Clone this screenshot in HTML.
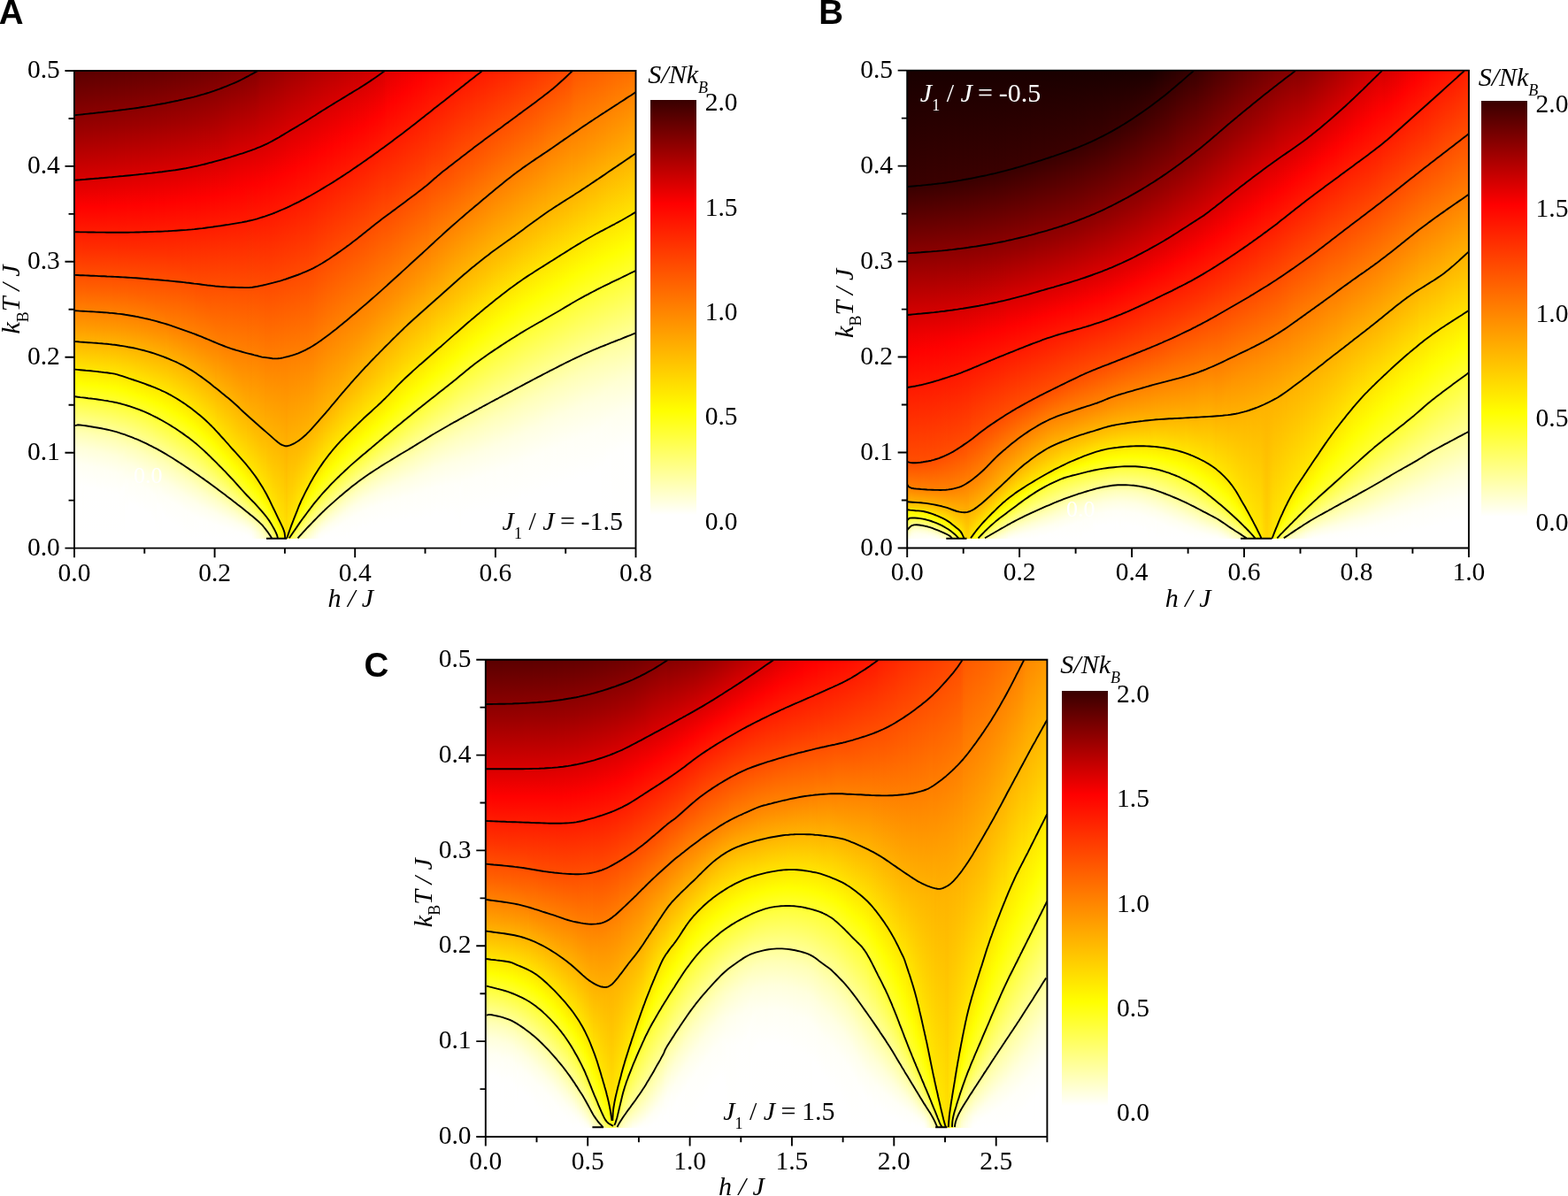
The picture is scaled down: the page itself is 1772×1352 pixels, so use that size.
<!DOCTYPE html><html><head><meta charset="utf-8"><title>Entropy contour plots</title><style>html,body{margin:0;padding:0;background:#fff;width:1772px;height:1352px;overflow:hidden}.hm{position:absolute}.hm i{position:absolute;top:0;width:2px;height:100%}svg{position:absolute;left:0;top:0}</style></head><body><div class="hm" style="left:83px;top:80px;width:636px;height:529px"><i style="left:0px;background:linear-gradient(#5a0000 0px,#9b0000 68.5px,#e30000 132.5px,#ff0100 154.5px,#ff3100 204.5px,#ff6100 247.5px,#ff9f00 292.5px,#ffff02 353.5px,#ffffa1 403.5px,#ffffce 421.5px,#ffffeb 439.5px,#fffffb 460.5px,#ffffff 508.5px,#ffffff 529px)"></i><i style="left:2px;background:linear-gradient(#5a0000 0px,#9b0000 68.5px,#e30000 132.5px,#ff0100 154.5px,#ff3100 204.5px,#ff6100 247.5px,#ff9e00 292.5px,#ffff01 353.5px,#ffffb0 408.5px,#ffffd9 426.5px,#fffff2 445.5px,#fffffe 469.5px,#ffffff 529px)"></i><i style="left:4px;background:linear-gradient(#5a0000 0px,#9c0000 68.5px,#e30000 132.5px,#ff0100 154.5px,#ff3000 203.5px,#ff6100 247.5px,#ff9e00 292.5px,#ffff01 353.5px,#ffffb4 409.5px,#ffffda 426.5px,#fffff3 445.5px,#fffffe 469.5px,#ffffff 529px)"></i><i style="left:6px;background:linear-gradient(#5a0000 0px,#9c0000 68.5px,#e40000 132.5px,#ff0100 154.5px,#ff3000 203.5px,#ff6100 247.5px,#ff9e00 292.5px,#ffff00 353.5px,#ffffb4 409.5px,#ffffda 426.5px,#fffff3 445.5px,#fffffe 469.5px,#ffffff 529px)"></i><i style="left:8px;background:linear-gradient(#5b0000 0px,#9b0000 67.5px,#e40000 132.5px,#ff0200 154.5px,#ff3000 203.5px,#ff6100 247.5px,#ff9e00 292.5px,#ffff00 353.5px,#ffffb4 409.5px,#ffffda 426.5px,#fffff2 444.5px,#fffffe 468.5px,#ffffff 529px)"></i><i style="left:10px;background:linear-gradient(#5b0000 0px,#9b0000 67.5px,#e40000 132.5px,#ff0100 153.5px,#ff2e00 202.5px,#ff6000 246.5px,#ff9e00 292.5px,#ffff02 354.5px,#ffffb3 409.5px,#ffffd9 426.5px,#fffff1 444.5px,#fffffd 467.5px,#ffffff 529px)"></i><i style="left:12px;background:linear-gradient(#5b0000 0px,#9c0000 67.5px,#e40000 132.5px,#ff0100 153.5px,#ff2e00 202.5px,#ff6000 246.5px,#ff9e00 292.5px,#ffff01 354.5px,#ffffb5 410.5px,#ffffdb 427.5px,#fffff3 446.5px,#fffffe 470.5px,#ffffff 529px)"></i><i style="left:14px;background:linear-gradient(#5b0000 0px,#9c0000 67.5px,#e40000 132.5px,#ff0100 153.5px,#ff2d00 201.5px,#ff5f00 246.5px,#ff9d00 292.5px,#ffff00 354.5px,#ffffb4 410.5px,#ffffda 427.5px,#fffff3 446.5px,#fffffe 470.5px,#ffffff 529px)"></i><i style="left:16px;background:linear-gradient(#5c0000 0px,#9c0000 67.5px,#e50000 132.5px,#ff0100 153.5px,#ff2d00 201.5px,#ff5f00 246.5px,#ff9d00 292.5px,#ffff00 354.5px,#ffffb3 410.5px,#ffffd9 427.5px,#fffff2 446.5px,#fffffe 470.5px,#ffffff 529px)"></i><i style="left:18px;background:linear-gradient(#5c0000 0px,#9c0000 67.5px,#e50000 132.5px,#ff0100 153.5px,#ff2d00 201.5px,#ff5f00 246.5px,#ff9d00 292.5px,#ffff02 355.5px,#ffffb5 411.5px,#ffffda 428.5px,#fffff3 447.5px,#fffffe 471.5px,#ffffff 529px)"></i><i style="left:20px;background:linear-gradient(#5c0000 0px,#9c0000 67.5px,#e50000 132.5px,#ff0100 153.5px,#ff2d00 201.5px,#ff5f00 246.5px,#ff9d00 292.5px,#ffff01 355.5px,#ffffb4 411.5px,#ffffda 428.5px,#fffff3 447.5px,#fffffe 471.5px,#ffffff 529px)"></i><i style="left:22px;background:linear-gradient(#5c0000 0px,#9c0000 66.5px,#e50000 132.5px,#ff0100 153.5px,#ff2c00 200.5px,#ff5f00 246.5px,#ff9d00 292.5px,#ffff01 355.5px,#ffffb3 411.5px,#ffffd9 428.5px,#fffff2 447.5px,#fffffe 471.5px,#ffffff 529px)"></i><i style="left:24px;background:linear-gradient(#5d0000 0px,#9c0000 66.5px,#e50000 132.5px,#ff0100 153.5px,#ff2c00 200.5px,#ff5f00 246.5px,#ff9c00 292.5px,#ffff00 355.5px,#ffffb4 412.5px,#ffffda 429.5px,#fffff3 448.5px,#fffffe 472.5px,#ffffff 529px)"></i><i style="left:26px;background:linear-gradient(#5d0000 0px,#9c0000 66.5px,#e50000 132.5px,#ff0100 153.5px,#ff2c00 200.5px,#ff5f00 246.5px,#ff9c00 292.5px,#ffff00 355.5px,#ffffb3 412.5px,#ffffdb 430.5px,#fffff3 449.5px,#fffffe 474.5px,#ffffff 529px)"></i><i style="left:28px;background:linear-gradient(#5d0000 0px,#9c0000 66.5px,#e60000 132.5px,#ff0100 153.5px,#ff2c00 200.5px,#ff5f00 246.5px,#ff9c00 292.5px,#ffff02 356.5px,#ffffb2 412.5px,#ffffdb 430.5px,#fffff3 449.5px,#fffffe 473.5px,#ffffff 529px)"></i><i style="left:30px;background:linear-gradient(#5d0000 0px,#9c0000 66.5px,#e60000 132.5px,#ff0100 153.5px,#ff2c00 200.5px,#ff5e00 246.5px,#ff9c00 292.5px,#ffff01 356.5px,#ffffb4 413.5px,#ffffdc 431.5px,#fffff3 450.5px,#fffffe 475.5px,#ffffff 529px)"></i><i style="left:32px;background:linear-gradient(#5d0000 0px,#9c0000 65.5px,#e60000 132.5px,#ff0100 153.5px,#ff2c00 200.5px,#ff5e00 246.5px,#ff9d00 293.5px,#ffff00 356.5px,#ffffb3 413.5px,#ffffdb 431.5px,#fffff3 450.5px,#fffffe 474.5px,#ffffff 529px)"></i><i style="left:34px;background:linear-gradient(#5e0000 0px,#9c0000 65.5px,#e60000 132.5px,#ff0100 153.5px,#ff2b00 199.5px,#ff5e00 246.5px,#ff9b00 292.5px,#ffff02 357.5px,#ffffb5 414.5px,#ffffdc 432.5px,#fffff4 451.5px,#fffffe 476.5px,#ffffff 529px)"></i><i style="left:36px;background:linear-gradient(#5e0000 0px,#9c0000 65.5px,#e60000 132.5px,#ff0100 153.5px,#ff2b00 199.5px,#ff5e00 246.5px,#ff9b00 292.5px,#ffff01 357.5px,#ffffb3 414.5px,#ffffdb 432.5px,#fffff3 451.5px,#fffffe 475.5px,#ffffff 529px)"></i><i style="left:38px;background:linear-gradient(#5e0000 0px,#9c0000 65.5px,#e70000 132.5px,#ff0200 153.5px,#ff2b00 199.5px,#ff5e00 246.5px,#ff9b00 292.5px,#ffff00 357.5px,#ffffb5 415.5px,#ffffdc 433.5px,#fffff4 452.5px,#fffffe 477.5px,#ffffff 529px)"></i><i style="left:40px;background:linear-gradient(#5e0000 0px,#9d0000 65.5px,#e80000 133.5px,#ff0100 152.5px,#ff2b00 199.5px,#ff5e00 246.5px,#ff9b00 292.5px,#ffff00 357.5px,#ffffb4 415.5px,#ffffdb 433.5px,#fffff3 452.5px,#fffffe 476.5px,#ffffff 529px)"></i><i style="left:42px;background:linear-gradient(#5f0000 0px,#9d0000 65.5px,#e80000 133.5px,#ff0100 152.5px,#ff2b00 199.5px,#ff5e00 246.5px,#ff9a00 292.5px,#ffff02 358.5px,#ffffb5 416.5px,#ffffdc 434.5px,#fffff4 453.5px,#fffffe 478.5px,#ffffff 529px)"></i><i style="left:44px;background:linear-gradient(#5f0000 0px,#9c0000 64.5px,#e80000 133.5px,#ff0100 152.5px,#ff2b00 199.5px,#ff5d00 246.5px,#ff9a00 292.5px,#ffff01 358.5px,#ffffb3 416.5px,#ffffdb 434.5px,#fffff3 453.5px,#fffffe 477.5px,#ffffff 529px)"></i><i style="left:46px;background:linear-gradient(#5f0000 0px,#9d0000 65.5px,#e80000 133.5px,#ff0100 152.5px,#ff2b00 199.5px,#ff5e00 247.5px,#ff9a00 292.5px,#ffff00 358.5px,#ffffb5 417.5px,#ffffdc 435.5px,#fffff4 454.5px,#fffffe 478.5px,#ffffff 529px)"></i><i style="left:48px;background:linear-gradient(#5f0000 0px,#9c0000 64.5px,#e90000 133.5px,#ff0100 152.5px,#ff2a00 198.5px,#ff5e00 247.5px,#ff9900 292.5px,#ffff01 359.5px,#ffffb3 417.5px,#ffffdb 435.5px,#fffff3 454.5px,#fffffe 478.5px,#ffffff 529px)"></i><i style="left:50px;background:linear-gradient(#600000 0px,#9d0000 64.5px,#e90000 133.5px,#ff0100 152.5px,#ff2900 198.5px,#ff5e00 247.5px,#ff9900 292.5px,#ffff00 359.5px,#ffffb4 418.5px,#ffffdb 436.5px,#fffff3 455.5px,#fffffe 479.5px,#ffffff 529px)"></i><i style="left:52px;background:linear-gradient(#600000 0px,#9d0000 64.5px,#e90000 133.5px,#ff0100 152.5px,#ff2900 198.5px,#ff5f00 248.5px,#ff9900 292.5px,#ffff00 360.5px,#ffffad 416.5px,#ffffd6 434.5px,#fffff1 453.5px,#fffffd 476.5px,#ffffff 529px)"></i><i style="left:54px;background:linear-gradient(#600000 0px,#9d0000 64.5px,#e90000 133.5px,#ff0100 152.5px,#ff2900 198.5px,#ff5f00 248.5px,#ff9800 292.5px,#ffff02 361.5px,#ffffa8 415.5px,#ffffd5 434.5px,#fffff0 453.5px,#fffffd 475.5px,#ffffff 529px)"></i><i style="left:56px;background:linear-gradient(#600000 0px,#9d0000 64.5px,#e90000 133.5px,#ff0100 152.5px,#ff2900 198.5px,#ff5f00 248.5px,#ff9800 292.5px,#ffff00 361.5px,#ffff9e 412.5px,#ffffce 431.5px,#ffffec 450.5px,#fffffc 471.5px,#ffffff 529px)"></i><i style="left:58px;background:linear-gradient(#610000 0px,#9d0000 63.5px,#ea0000 133.5px,#ff0100 152.5px,#ff2900 198.5px,#ff5f00 248.5px,#ff9600 291.5px,#ffff01 362.5px,#ffff80 403.5px,#ffffbf 425.5px,#ffffe3 444.5px,#fffff8 464.5px,#ffffff 493.5px,#ffffff 529px)"></i><i style="left:60px;background:linear-gradient(#610000 0px,#9d0000 63.5px,#ea0000 133.5px,#ff0200 152.5px,#ff2900 198.5px,#ff6000 249.5px,#ff9700 292.5px,#fffd00 361.5px,#ffff09 365.5px,#ffff87 406.5px,#ffffc1 427.5px,#ffffe5 446.5px,#fffff9 466.5px,#ffffff 497.5px,#ffffff 529px)"></i><i style="left:62px;background:linear-gradient(#610000 0px,#9d0000 63.5px,#eb0000 134.5px,#ff0200 152.5px,#ff2900 198.5px,#ff5f00 249.5px,#ff9500 291.5px,#fffc00 361.5px,#ffff03 364.5px,#ffff6d 398.5px,#ffffbb 425.5px,#ffffe1 444.5px,#fffff6 463.5px,#ffffff 489.5px,#ffffff 529px)"></i><i style="left:64px;background:linear-gradient(#610000 0px,#9d0000 63.5px,#eb0000 134.5px,#ff0200 152.5px,#ff2a00 199.5px,#ff6000 250.5px,#ff9400 291.5px,#fffb00 361.5px,#ffff01 364.5px,#ffff65 396.5px,#ffffbb 426.5px,#ffffe1 445.5px,#fffff6 464.5px,#ffffff 490.5px,#ffffff 529px)"></i><i style="left:66px;background:linear-gradient(#620000 0px,#9d0000 62.5px,#ec0000 134.5px,#ff0100 151.5px,#ff2900 198.5px,#ff6000 250.5px,#ff9500 292.5px,#fffa00 361.5px,#ffff02 365.5px,#ffff60 395.5px,#ffffbc 427.5px,#ffffe2 446.5px,#fffff7 465.5px,#ffffff 491.5px,#ffffff 529px)"></i><i style="left:68px;background:linear-gradient(#620000 0px,#9d0000 62.5px,#ec0000 134.5px,#ff0100 151.5px,#ff2900 198.5px,#ff6100 251.5px,#ff9300 291.5px,#fff900 361.5px,#ffff00 365.5px,#ffff5e 395.5px,#ffffbc 428.5px,#ffffe2 447.5px,#fffff7 466.5px,#ffffff 492.5px,#ffffff 529px)"></i><i style="left:70px;background:linear-gradient(#620000 0px,#9d0000 62.5px,#ec0000 134.5px,#ff0100 151.5px,#ff2a00 199.5px,#ff6200 252.5px,#ff9400 292.5px,#fff700 361.5px,#ffff01 366.5px,#ffff5b 395.5px,#ffffba 428.5px,#ffffe0 447.5px,#fffff6 466.5px,#ffffff 492.5px,#ffffff 529px)"></i><i style="left:72px;background:linear-gradient(#630000 0px,#9d0000 62.5px,#ec0000 134.5px,#ff0100 151.5px,#ff2a00 199.5px,#ff6100 252.5px,#ff9400 292.5px,#fff800 362.5px,#ffff02 367.5px,#ffff5c 396.5px,#ffffba 429.5px,#ffffe1 448.5px,#fffff6 467.5px,#ffffff 493.5px,#ffffff 529px)"></i><i style="left:74px;background:linear-gradient(#630000 0px,#9e0000 62.5px,#ec0000 134.5px,#ff0100 151.5px,#ff2a00 199.5px,#ff6200 253.5px,#ff9300 292.5px,#fff700 362.5px,#ffff00 367.5px,#ffff60 398.5px,#ffffbd 431.5px,#ffffe2 450.5px,#fffff7 469.5px,#ffffff 496.5px,#ffffff 529px)"></i><i style="left:76px;background:linear-gradient(#630000 0px,#9e0000 62.5px,#ed0000 134.5px,#ff0100 151.5px,#ff2a00 199.5px,#ff6200 253.5px,#ff9200 292.5px,#fff700 363.5px,#ffff00 368.5px,#ffff5a 397.5px,#ffffbb 431.5px,#ffffe1 450.5px,#fffff7 469.5px,#ffffff 495.5px,#ffffff 529px)"></i><i style="left:78px;background:linear-gradient(#630000 0px,#9e0000 62.5px,#ed0000 134.5px,#ff0200 151.5px,#ff2a00 199.5px,#ff6300 254.5px,#ff9200 292.5px,#fff800 364.5px,#ffff01 369.5px,#ffff5d 399.5px,#ffffbb 432.5px,#ffffe1 451.5px,#fffff7 470.5px,#ffffff 496.5px,#ffffff 529px)"></i><i style="left:80px;background:linear-gradient(#640000 0px,#9e0000 61.5px,#ed0000 134.5px,#ff0200 151.5px,#ff2b00 200.5px,#ff6400 255.5px,#ff9100 292.5px,#fff800 365.5px,#ffff02 370.5px,#ffff61 401.5px,#ffffbd 434.5px,#ffffe3 453.5px,#fffff7 472.5px,#ffffff 499.5px,#ffffff 529px)"></i><i style="left:82px;background:linear-gradient(#640000 0px,#9e0000 61.5px,#ee0000 135.5px,#ff0100 150.5px,#ff2b00 200.5px,#ff6400 256.5px,#ff9200 293.5px,#fff800 366.5px,#ffff03 371.5px,#ffff64 403.5px,#ffffbd 435.5px,#ffffe3 454.5px,#fffff8 473.5px,#ffffff 500.5px,#ffffff 529px)"></i><i style="left:84px;background:linear-gradient(#640000 0px,#9e0000 61.5px,#ef0000 135.5px,#ff0100 150.5px,#ff2b00 200.5px,#ff6500 257.5px,#ff9100 293.5px,#fff900 367.5px,#ffff00 371.5px,#ffff67 405.5px,#ffffbd 436.5px,#ffffe3 455.5px,#fffff8 474.5px,#ffffff 501.5px,#ffffff 529px)"></i><i style="left:86px;background:linear-gradient(#650000 0px,#9e0000 61.5px,#ef0000 135.5px,#ff0100 150.5px,#ff2c00 201.5px,#ff6600 258.5px,#ff9000 293.5px,#fff700 367.5px,#ffff00 372.5px,#ffff6a 407.5px,#ffffbd 437.5px,#ffffe3 456.5px,#fffff8 475.5px,#ffffff 501.5px,#ffffff 529px)"></i><i style="left:88px;background:linear-gradient(#650000 0px,#9f0000 61.5px,#ef0000 135.5px,#ff0100 150.5px,#ff2c00 201.5px,#ff6700 259.5px,#ff9100 294.5px,#fff900 369.5px,#ffff01 373.5px,#ffff70 410.5px,#ffffc0 439.5px,#ffffe5 458.5px,#fffff9 477.5px,#ffffff 505.5px,#ffffff 529px)"></i><i style="left:90px;background:linear-gradient(#650000 0px,#9f0000 61.5px,#ef0000 135.5px,#ff0100 150.5px,#ff2c00 201.5px,#ff6900 261.5px,#ff9100 295.5px,#fff900 370.5px,#ffff01 374.5px,#ffff7b 415.5px,#ffffc2 441.5px,#ffffe6 460.5px,#fffff9 479.5px,#ffffff 509.5px,#ffffff 529px)"></i><i style="left:92px;background:linear-gradient(#660000 0px,#9e0000 60.5px,#f00000 135.5px,#ff0200 150.5px,#ff2d00 202.5px,#ff6a00 263.5px,#ff9200 296.5px,#fff900 371.5px,#ffff01 375.5px,#ffff8c 422.5px,#ffffc7 444.5px,#ffffe9 463.5px,#fffffa 482.5px,#ffffff 518.5px,#ffffff 529px)"></i><i style="left:94px;background:linear-gradient(#660000 0px,#9f0000 60.5px,#ef0000 134.5px,#ff0200 150.5px,#ff2d00 202.5px,#ff6b00 264.5px,#ff9100 296.5px,#fffa00 372.5px,#ffff02 376.5px,#ffffa0 430.5px,#ffffd3 451.5px,#fffff0 470.5px,#fffffd 490.5px,#ffffff 529px)"></i><i style="left:96px;background:linear-gradient(#670000 0px,#9f0000 60.5px,#ef0000 134.5px,#ff0100 149.5px,#ff2d00 202.5px,#ff6c00 265.5px,#ff9200 297.5px,#fffa00 373.5px,#ffff02 377.5px,#ffffa8 434.5px,#ffffd7 454.5px,#fffff2 472.5px,#fffffd 492.5px,#ffffff 529px)"></i><i style="left:98px;background:linear-gradient(#670000 0px,#9f0000 60.5px,#f00000 135.5px,#ff0100 149.5px,#ff2d00 202.5px,#ff6d00 267.5px,#ff9200 298.5px,#fffa00 374.5px,#ffff02 378.5px,#ffffad 437.5px,#ffffdb 457.5px,#fffff4 475.5px,#fffffe 496.5px,#ffffff 529px)"></i><i style="left:100px;background:linear-gradient(#670000 0px,#a00000 60.5px,#f00000 135.5px,#ff0100 149.5px,#ff2e00 203.5px,#ff7000 270.5px,#ff9400 300.5px,#fffb00 376.5px,#ffff02 379.5px,#ffffb5 441.5px,#ffffe0 461.5px,#fffff6 479.5px,#ffffff 502.5px,#ffffff 529px)"></i><i style="left:102px;background:linear-gradient(#680000 0px,#9f0000 59.5px,#f00000 134.5px,#ff0100 149.5px,#ff2f00 204.5px,#ff7400 274.5px,#ff9e00 308.5px,#fffb00 377.5px,#ffff02 380.5px,#ffffb7 443.5px,#ffffe1 463.5px,#fffff7 481.5px,#ffffff 504.5px,#ffffff 529px)"></i><i style="left:104px;background:linear-gradient(#680000 0px,#9f0000 59.5px,#f00000 134.5px,#ff0200 149.5px,#ff3000 205.5px,#ff7700 278.5px,#fff700 375.5px,#ffff01 381.5px,#ffffb9 445.5px,#ffffe3 465.5px,#fffff8 483.5px,#ffffff 507.5px,#ffffff 529px)"></i><i style="left:106px;background:linear-gradient(#690000 0px,#a00000 59.5px,#f00000 134.5px,#ff0200 149.5px,#ff3000 206.5px,#ff7d00 284.5px,#fffa00 378.5px,#ffff01 382.5px,#ffffb9 446.5px,#ffffe3 466.5px,#fffff8 484.5px,#ffffff 508.5px,#ffffff 529px)"></i><i style="left:108px;background:linear-gradient(#690000 0px,#a00000 59.5px,#f00000 134.5px,#ff0100 148.5px,#ff3000 206.5px,#ff7f00 287.5px,#fffb00 380.5px,#ffff03 384.5px,#ffffbb 448.5px,#ffffe2 467.5px,#fffff8 485.5px,#ffffff 509.5px,#ffffff 529px)"></i><i style="left:110px;background:linear-gradient(#690000 0px,#a10000 59.5px,#f10000 134.5px,#ff0100 148.5px,#ff3100 207.5px,#ff8100 289.5px,#fffb00 381.5px,#ffff00 384.5px,#ffffba 449.5px,#ffffe4 469.5px,#fffff9 487.5px,#ffffff 512.5px,#ffffff 529px)"></i><i style="left:112px;background:linear-gradient(#6a0000 0px,#a10000 59.5px,#f10000 134.5px,#ff0100 148.5px,#ff3200 208.5px,#ff8100 290.5px,#fffa00 382.5px,#ffff02 386.5px,#ffffbc 451.5px,#ffffe4 470.5px,#fffff9 488.5px,#ffffff 512.5px,#ffffff 529px)"></i><i style="left:114px;background:linear-gradient(#6a0000 0px,#a10000 59.5px,#f20000 135.5px,#ff0100 148.5px,#ff3300 209.5px,#ff8300 292.5px,#fff900 382.5px,#ffff02 387.5px,#ffffbb 452.5px,#ffffe3 471.5px,#fffff9 489.5px,#ffffff 513.5px,#ffffff 529px)"></i><i style="left:116px;background:linear-gradient(#6b0000 0px,#a20000 59.5px,#f10000 134.5px,#ff0200 148.5px,#ff3400 210.5px,#ff8400 293.5px,#fff800 383.5px,#ffff01 388.5px,#ffffbd 454.5px,#ffffe5 473.5px,#fffff9 490.5px,#ffffff 514.5px,#ffffff 529px)"></i><i style="left:118px;background:linear-gradient(#6b0000 0px,#a10000 58.5px,#f20000 134.5px,#ff0100 147.5px,#ff3400 210.5px,#ff8500 295.5px,#fff800 384.5px,#ffff00 389.5px,#ffffbd 455.5px,#ffffe5 474.5px,#fffff9 491.5px,#ffffff 515.5px,#ffffff 529px)"></i><i style="left:120px;background:linear-gradient(#6b0000 0px,#a30000 59.5px,#f30000 135.5px,#ff0100 147.5px,#ff3500 211.5px,#ff8600 296.5px,#fff700 385.5px,#ffff02 391.5px,#ffffbe 457.5px,#ffffe6 476.5px,#fffffa 493.5px,#ffffff 518.5px,#ffffff 529px)"></i><i style="left:122px;background:linear-gradient(#6c0000 0px,#a20000 58.5px,#f30000 135.5px,#ff0100 147.5px,#ff3600 213.5px,#ff8700 298.5px,#fff700 386.5px,#ffff01 392.5px,#ffffbe 458.5px,#ffffe6 477.5px,#fffffa 494.5px,#ffffff 519.5px,#ffffff 529px)"></i><i style="left:124px;background:linear-gradient(#6c0000 0px,#a20000 58.5px,#f40000 135.5px,#ff0200 147.5px,#ff3800 215.5px,#ff8700 299.5px,#fff600 387.5px,#ffff00 393.5px,#ffffc0 460.5px,#ffffe7 479.5px,#fffffa 496.5px,#ffffff 524.5px,#ffffff 529px)"></i><i style="left:126px;background:linear-gradient(#6d0000 0px,#a30000 58.5px,#f50000 136.5px,#ff0200 147.5px,#ff3b00 218.5px,#ff8800 300.5px,#fff600 388.5px,#ffff02 395.5px,#ffffc1 462.5px,#ffffe9 481.5px,#fffffb 498.5px,#ffffff 529px)"></i><i style="left:128px;background:linear-gradient(#6d0000 0px,#a30000 58.5px,#f60000 136.5px,#ff0100 146.5px,#ff3a00 218.5px,#ff8800 301.5px,#fff500 389.5px,#ffff00 396.5px,#ffffc1 463.5px,#ffffe9 482.5px,#fffffa 498.5px,#ffffff 526.5px,#ffffff 529px)"></i><i style="left:130px;background:linear-gradient(#6e0000 0px,#a40000 58.5px,#f60000 136.5px,#ff0100 146.5px,#ff3d00 221.5px,#ff8800 302.5px,#fff400 390.5px,#ffff02 398.5px,#ffffc3 465.5px,#ffffe9 483.5px,#fffffb 499.5px,#ffffff 527.5px,#ffffff 529px)"></i><i style="left:132px;background:linear-gradient(#6e0000 0px,#a40000 58.5px,#f70000 137.5px,#ff0200 146.5px,#ff3f00 224.5px,#ff8800 303.5px,#fff400 391.5px,#ffff00 399.5px,#ffffc5 467.5px,#ffffea 485.5px,#fffffb 501.5px,#ffffff 529px)"></i><i style="left:134px;background:linear-gradient(#6e0000 0px,#a50000 58.5px,#f90000 138.5px,#ff0200 146.5px,#ff4300 228.5px,#ff8900 304.5px,#fff300 392.5px,#ffff02 401.5px,#ffffc4 468.5px,#ffffea 486.5px,#fffffb 502.5px,#ffffff 529px)"></i><i style="left:136px;background:linear-gradient(#6f0000 0px,#a50000 58.5px,#fa0000 139.5px,#ff0300 147.5px,#ff4a00 237.5px,#ff8900 305.5px,#fff200 393.5px,#ffff00 402.5px,#ffffc6 470.5px,#ffffec 488.5px,#fffffc 504.5px,#ffffff 529px)"></i><i style="left:138px;background:linear-gradient(#6f0000 0px,#a70000 59.5px,#fc0000 140.5px,#ff0500 150.5px,#ff5200 247.5px,#ff8a00 307.5px,#fff100 394.5px,#ffff01 404.5px,#ffffc8 472.5px,#ffffec 489.5px,#fffffc 504.5px,#ffffff 529px)"></i><i style="left:140px;background:linear-gradient(#700000 0px,#a70000 59.5px,#ff0100 144.5px,#ff4c00 240.5px,#ff8a00 308.5px,#fff200 396.5px,#ffff02 406.5px,#ffffc7 473.5px,#ffffec 490.5px,#fffffc 505.5px,#ffffff 529px)"></i><i style="left:142px;background:linear-gradient(#700000 0px,#a80000 59.5px,#ff0100 144.5px,#ff4e00 243.5px,#ff8a00 309.5px,#fff100 397.5px,#ffff00 407.5px,#ffff83 451.5px,#ffffcf 477.5px,#ffffef 493.5px,#fffffd 508.5px,#ffffff 529px)"></i><i style="left:144px;background:linear-gradient(#710000 0px,#a80000 59.5px,#ff0100 143.5px,#ff5000 245.5px,#ff8a00 310.5px,#fff100 399.5px,#ffff01 409.5px,#ffff69 444.5px,#ffffcc 477.5px,#ffffed 493.5px,#fffffd 508.5px,#ffffff 529px)"></i><i style="left:146px;background:linear-gradient(#710000 0px,#aa0000 60.5px,#ff0100 143.5px,#ff5300 249.5px,#ff8c00 312.5px,#fff000 400.5px,#ffff01 411.5px,#ffff5e 442.5px,#ffffc8 477.5px,#ffffec 493.5px,#fffffc 507.5px,#ffffff 529px)"></i><i style="left:148px;background:linear-gradient(#720000 0px,#ab0000 61.5px,#ff0100 143.5px,#ff5600 253.5px,#ff8c00 313.5px,#fff000 402.5px,#ffff02 413.5px,#ffff55 441.5px,#ffffc8 478.5px,#ffffec 494.5px,#fffffc 508.5px,#ffffff 529px)"></i><i style="left:150px;background:linear-gradient(#720000 0px,#ac0000 61.5px,#ff0100 142.5px,#ff5800 256.5px,#ff8c00 314.5px,#ffef00 403.5px,#ffff02 415.5px,#ffff4f 441.5px,#ffffca 480.5px,#ffffee 496.5px,#fffffd 510.5px,#ffffff 529px)"></i><i style="left:152px;background:linear-gradient(#730000 0px,#ad0000 62.5px,#ff0100 142.5px,#ff5d00 262.5px,#ff8d00 316.5px,#ffef00 405.5px,#ffff00 416.5px,#ffff49 441.5px,#ffffc9 481.5px,#ffffec 496.5px,#fffffc 510.5px,#ffffff 529px)"></i><i style="left:154px;background:linear-gradient(#740000 0px,#b00000 64.5px,#ff0200 142.5px,#ff6200 269.5px,#ff8e00 318.5px,#ffef00 407.5px,#ffff00 418.5px,#ffff47 442.5px,#ffffc9 482.5px,#ffffec 497.5px,#fffffc 510.5px,#ffffff 529px)"></i><i style="left:156px;background:linear-gradient(#740000 0px,#b20000 65.5px,#ff0100 141.5px,#ff6700 275.5px,#ff9000 321.5px,#ffee00 408.5px,#ffff00 420.5px,#ffff44 443.5px,#ffffc8 483.5px,#ffffed 498.5px,#fffffc 511.5px,#ffffff 529px)"></i><i style="left:158px;background:linear-gradient(#750000 0px,#b50000 68.5px,#ff0100 141.5px,#ff6e00 284.5px,#ff9500 327.5px,#ffee00 410.5px,#ffff00 422.5px,#ffff44 445.5px,#ffffc8 484.5px,#ffffed 499.5px,#fffffc 512.5px,#ffffff 529px)"></i><i style="left:160px;background:linear-gradient(#750000 0px,#b80000 70.5px,#ff0100 140.5px,#ff7300 291.5px,#ffa600 346.5px,#ffee00 412.5px,#ffff00 424.5px,#ffff41 446.5px,#ffffca 486.5px,#ffffed 500.5px,#fffffd 513.5px,#ffffff 529px)"></i><i style="left:162px;background:linear-gradient(#760000 0px,#bc0000 74.5px,#ff0100 140.5px,#ff7900 299.5px,#ffd700 395.5px,#fff600 420.5px,#ffff02 427.5px,#ffff41 448.5px,#ffffc9 487.5px,#ffffed 501.5px,#fffffc 513.5px,#ffffff 529px)"></i><i style="left:164px;background:linear-gradient(#770000 0px,#c30000 80.5px,#ff0200 140.5px,#ff7d00 305.5px,#ffe300 408.5px,#ffff02 429.5px,#ffff41 450.5px,#ffffc9 488.5px,#ffffed 502.5px,#fffffc 514.5px,#ffffff 529px)"></i><i style="left:166px;background:linear-gradient(#770000 0px,#cb0000 88.5px,#ff0100 139.5px,#ff7f00 309.5px,#ffe600 413.5px,#ffff02 431.5px,#ffff3e 451.5px,#ffffcb 490.5px,#ffffed 503.5px,#fffffd 515.5px,#ffffff 529px)"></i><i style="left:168px;background:linear-gradient(#780000 0px,#d70000 99.5px,#ff0100 139.5px,#ff8000 311.5px,#ffe600 415.5px,#ffff01 433.5px,#ffff3e 453.5px,#ffffca 491.5px,#ffffed 504.5px,#fffffc 515.5px,#ffffff 529px)"></i><i style="left:170px;background:linear-gradient(#790000 0px,#db0000 103.5px,#ff0100 138.5px,#ff8100 313.5px,#ffe400 416.5px,#ffff01 435.5px,#ffff3e 455.5px,#ffffca 492.5px,#ffffee 505.5px,#fffffc 516.5px,#ffffff 529px)"></i><i style="left:172px;background:linear-gradient(#7a0000 0px,#e10000 108.5px,#ff0100 138.5px,#ff8200 315.5px,#ffe400 418.5px,#ffff00 437.5px,#ffff3e 457.5px,#ffffc9 493.5px,#ffffee 506.5px,#fffffd 517.5px,#ffffff 529px)"></i><i style="left:174px;background:linear-gradient(#7a0000 0px,#e80000 114.5px,#ff0100 137.5px,#ff8400 317.5px,#ffe300 419.5px,#ffff00 439.5px,#ffff3e 459.5px,#ffffcc 495.5px,#ffffee 507.5px,#fffffd 518.5px,#ffffff 529px)"></i><i style="left:176px;background:linear-gradient(#7b0000 0px,#f20000 123.5px,#ff0100 137.5px,#ff8500 319.5px,#ffe000 418.5px,#ffff02 442.5px,#ffff3d 461.5px,#ffffcb 496.5px,#ffffee 508.5px,#fffffd 518.5px,#ffffff 529px)"></i><i style="left:178px;background:linear-gradient(#7c0000 0px,#f60000 126.5px,#ff0200 137.5px,#ff8700 322.5px,#ffdd00 417.5px,#fff400 436.5px,#ffff02 444.5px,#ffff39 462.5px,#ffffca 497.5px,#ffffef 509.5px,#fffffd 519.5px,#ffffff 529px)"></i><i style="left:180px;background:linear-gradient(#7c0000 0px,#f60000 126.5px,#ff0200 137.5px,#ff8800 325.5px,#ffd800 414.5px,#ffef00 435.5px,#ffff01 446.5px,#ffff38 464.5px,#ffffca 498.5px,#ffffed 509.5px,#fffffc 519.5px,#ffffff 529px)"></i><i style="left:182px;background:linear-gradient(#7d0000 0px,#f80000 127.5px,#ff0200 137.5px,#ff8a00 328.5px,#ffd300 411.5px,#ffed00 436.5px,#ffff00 448.5px,#ffff38 466.5px,#ffffcd 500.5px,#ffffef 511.5px,#fffffd 520.5px,#ffffff 529px)"></i><i style="left:184px;background:linear-gradient(#7e0000 0px,#f90000 127.5px,#ff0200 136.5px,#ff8c00 331.5px,#ffcf00 409.5px,#ffed00 438.5px,#ffff00 450.5px,#ffff37 468.5px,#ffffcc 501.5px,#ffffef 512.5px,#fffffd 521.5px,#ffffff 529px)"></i><i style="left:186px;background:linear-gradient(#7f0000 0px,#f90000 127.5px,#ff0200 136.5px,#ff8f00 336.5px,#ffcc00 408.5px,#ffed00 440.5px,#ffff02 453.5px,#ffff3a 471.5px,#ffffcb 502.5px,#ffffed 512.5px,#fffffd 521.5px,#ffffff 529px)"></i><i style="left:188px;background:linear-gradient(#800000 0px,#fa0000 127.5px,#ff0200 136.5px,#ff9300 342.5px,#ffca00 408.5px,#ffec00 442.5px,#ffff01 455.5px,#ffff3a 473.5px,#ffffca 503.5px,#ffffee 513.5px,#fffffd 522.5px,#ffffff 529px)"></i><i style="left:190px;background:linear-gradient(#800000 0px,#fb0000 128.5px,#ff0300 137.5px,#ff9800 350.5px,#ffca00 410.5px,#ffec00 444.5px,#ffff01 457.5px,#ffff39 475.5px,#ffffcd 505.5px,#ffffee 514.5px,#fffffc 522.5px,#ffffff 529px)"></i><i style="left:192px;background:linear-gradient(#810000 0px,#fc0000 128.5px,#ff0500 139.5px,#ff9e00 359.5px,#ffcd00 415.5px,#ffeb00 446.5px,#ffff00 459.5px,#ffff38 477.5px,#ffffcc 506.5px,#ffffee 515.5px,#fffffd 523.5px,#ffffff 529px)"></i><i style="left:194px;background:linear-gradient(#820000 0px,#fc0000 128.5px,#ff0800 143.5px,#ffa700 372.5px,#ffe700 445.5px,#ffff02 462.5px,#ffff37 479.5px,#ffffcf 508.5px,#fffff1 517.5px,#fffffe 525.5px,#ffffff 529px)"></i><i style="left:196px;background:linear-gradient(#830000 0px,#fd0000 128.5px,#ff8000 319.5px,#ffc000 405.5px,#ffea00 450.5px,#ffff01 464.5px,#ffff37 481.5px,#ffffce 509.5px,#ffffee 517.5px,#fffffc 524.5px,#ffffff 529px)"></i><i style="left:198px;background:linear-gradient(#840000 0px,#fd0000 128.5px,#ffa400 371.5px,#ffd200 427.5px,#ffeb00 453.5px,#ffff00 466.5px,#ffff36 483.5px,#ffffd1 511.5px,#fffff1 519.5px,#fffffd 526.5px,#fffffe 529px)"></i><i style="left:200px;background:linear-gradient(#850000 0px,#fd0000 127.5px,#ff9900 357.5px,#ffc400 413.5px,#ffea00 455.5px,#ffff00 468.5px,#ffff36 485.5px,#ffffcf 512.5px,#fffff0 520.5px,#fffffd 527.5px,#fffffe 529px)"></i><i style="left:202px;background:linear-gradient(#860000 0px,#fe0000 127.5px,#ffb800 401.5px,#ffea00 457.5px,#ffff02 471.5px,#ffff36 487.5px,#ffffcc 513.5px,#ffffed 521.5px,#fffffa 529px)"></i><i style="left:204px;background:linear-gradient(#860000 0px,#ff0100 130.5px,#ffbc00 408.5px,#ffea00 460.5px,#ffff00 473.5px,#ffff36 489.5px,#ffffc3 513.5px,#ffffe6 521.5px,#fffff4 529px)"></i><i style="left:206px;background:linear-gradient(#880000 0px,#fc0000 124.5px,#ff0500 135.5px,#ffbe00 412.5px,#ffeb00 463.5px,#ffff02 476.5px,#ffff36 491.5px,#ffffb9 513.5px,#ffffdd 521.5px,#ffffee 529px)"></i><i style="left:208px;background:linear-gradient(#8b0000 0px,#f00000 111.5px,#ff0200 129.5px,#ffbe00 414.5px,#ffe900 465.5px,#ffff00 478.5px,#ffff35 493.5px,#ffffaf 513.5px,#ffffd8 522.5px,#ffffe8 529px)"></i><i style="left:210px;background:linear-gradient(#8f0000 0px,#ea0000 104.5px,#ff0100 128.5px,#ffbe00 417.5px,#ffe900 468.5px,#ffff01 481.5px,#ffff33 495.5px,#ffffaa 514.5px,#ffffd3 523.5px,#ffffe1 529px)"></i><i style="left:212px;background:linear-gradient(#900000 0px,#e80000 102.5px,#ff0100 127.5px,#ffbf00 420.5px,#ffe900 471.5px,#ffff02 484.5px,#ffff37 498.5px,#ffffa4 515.5px,#ffffce 524.5px,#ffffdb 529px)"></i><i style="left:214px;background:linear-gradient(#910000 0px,#e90000 102.5px,#ff0100 126.5px,#ffc100 424.5px,#ffe800 474.5px,#fffe00 486.5px,#ffff35 500.5px,#ffffa3 517.5px,#ffffcc 526.5px,#ffffd2 529px)"></i><i style="left:216px;background:linear-gradient(#920000 0px,#e90000 101.5px,#ff0100 125.5px,#ffaa00 393.5px,#ffe800 477.5px,#fffe00 489.5px,#ffff32 502.5px,#ffffa0 519.5px,#ffffc7 529px)"></i><i style="left:218px;background:linear-gradient(#930000 0px,#e90000 100.5px,#ff0200 125.5px,#ff9600 361.5px,#ffc900 440.5px,#ffe800 481.5px,#ffff02 493.5px,#ffff35 505.5px,#ffff9c 521.5px,#ffffba 529px)"></i><i style="left:220px;background:linear-gradient(#940000 0px,#e90000 99.5px,#ff0100 124.5px,#ff8b00 344.5px,#ffc700 440.5px,#ffe900 485.5px,#ffff01 496.5px,#ffff36 508.5px,#ffff9c 524.5px,#ffffae 529px)"></i><i style="left:222px;background:linear-gradient(#950000 0px,#e90000 98.5px,#ff0100 123.5px,#ff8400 333.5px,#ffc800 444.5px,#ffe900 489.5px,#fffe00 499.5px,#ffff36 511.5px,#ffffa2 529px)"></i><i style="left:224px;background:linear-gradient(#960000 0px,#e90000 97.5px,#ff0100 122.5px,#ff8100 327.5px,#ffca00 450.5px,#ffe700 492.5px,#ffff00 503.5px,#ffff39 515.5px,#ffff8a 529px)"></i><i style="left:226px;background:linear-gradient(#970000 0px,#e90000 96.5px,#ff0100 121.5px,#ff7d00 321.5px,#ffcd00 458.5px,#ffe900 497.5px,#ffff00 507.5px,#ffff45 521.5px,#ffff6c 529px)"></i><i style="left:228px;background:linear-gradient(#990000 0px,#e90000 95.5px,#ff0100 120.5px,#ff7a00 315.5px,#ffd200 468.5px,#ffe900 501.5px,#fffe00 511.5px,#ffff50 529px)"></i><i style="left:230px;background:linear-gradient(#9a0000 0px,#e90000 94.5px,#ff0100 119.5px,#ff7800 312.5px,#ffd900 483.5px,#ffe800 505.5px,#ffff00 516.5px,#ffff34 529px)"></i><i style="left:232px;background:linear-gradient(#9b0000 0px,#ea0000 94.5px,#ff0100 118.5px,#ff7800 311.5px,#ffe300 504.5px,#fff200 515.5px,#ffff01 522.5px,#ffff19 529px)"></i><i style="left:234px;background:linear-gradient(#9c0000 0px,#ea0000 93.5px,#ff0100 117.5px,#ff7800 312.5px,#ffe500 511.5px,#ffff00 529px)"></i><i style="left:236px;background:linear-gradient(#9d0000 0px,#ea0000 92.5px,#ff0100 116.5px,#ff7900 313.5px,#ffe800 519.5px,#fff300 529px)"></i><i style="left:238px;background:linear-gradient(#9f0000 0px,#e90000 90.5px,#ff0100 115.5px,#ff7b00 315.5px,#ffe700 527.5px,#ffe800 529px)"></i><i style="left:240px;background:linear-gradient(#a00000 0px,#ea0000 89.5px,#ff0100 114.5px,#ff7c00 316.5px,#ffd500 499.5px,#ffe300 525.5px,#ffea00 529px)"></i><i style="left:242px;background:linear-gradient(#a10000 0px,#eb0000 89.5px,#ff0100 113.5px,#ff7d00 318.5px,#ffe500 519.5px,#fff100 524.5px,#ffff00 527.5px,#ffff0b 529px)"></i><i style="left:244px;background:linear-gradient(#a20000 0px,#eb0000 88.5px,#ff0100 112.5px,#ff7f00 321.5px,#ffe400 513.5px,#fff200 519.5px,#ffff00 522.5px,#ffff3a 529px)"></i><i style="left:246px;background:linear-gradient(#a30000 0px,#eb0000 87.5px,#ff0100 111.5px,#ff8000 322.5px,#ffd100 476.5px,#ffe700 510.5px,#fff800 516.5px,#ffff02 518.5px,#ffff45 526.5px,#ffff52 529px)"></i><i style="left:248px;background:linear-gradient(#a40000 0px,#eb0000 86.5px,#ff0100 110.5px,#ff8000 322.5px,#ffc600 454.5px,#ffe600 505.5px,#fff900 512.5px,#ffff03 514.5px,#ffff67 529px)"></i><i style="left:250px;background:linear-gradient(#a50000 0px,#eb0000 85.5px,#ff0100 109.5px,#ff8100 323.5px,#ffc100 443.5px,#ffe600 500.5px,#fffd00 509.5px,#ffff09 511.5px,#ffff7c 529px)"></i><i style="left:252px;background:linear-gradient(#a60000 0px,#eb0000 84.5px,#ff0200 108.5px,#ff8200 324.5px,#ffbe00 436.5px,#ffe800 496.5px,#ffff02 506.5px,#ffff3e 516.5px,#ffff92 529px)"></i><i style="left:254px;background:linear-gradient(#a70000 0px,#eb0000 83.5px,#ff0200 107.5px,#ff8300 326.5px,#ffbd00 432.5px,#ffe700 491.5px,#ffff02 502.5px,#ffff3d 513.5px,#ffffa3 529px)"></i><i style="left:256px;background:linear-gradient(#a80000 0px,#ec0000 82.5px,#ff0100 105.5px,#ff8500 328.5px,#ffbb00 428.5px,#ffe800 487.5px,#ffff01 498.5px,#ffff3c 510.5px,#ffffa3 526.5px,#ffffae 529px)"></i><i style="left:258px;background:linear-gradient(#a90000 0px,#ec0000 81.5px,#ff0100 104.5px,#ff8600 330.5px,#ffbb00 425.5px,#ffe800 483.5px,#fffe00 494.5px,#ffff34 506.5px,#ffffa5 524.5px,#ffffb9 529px)"></i><i style="left:260px;background:linear-gradient(#aa0000 0px,#ec0000 80.5px,#ff0100 103.5px,#ff8900 334.5px,#ffba00 422.5px,#ffe800 479.5px,#ffff01 491.5px,#ffff38 504.5px,#ffffb1 524.5px,#ffffc5 529px)"></i><i style="left:262px;background:linear-gradient(#ac0000 0px,#ec0000 79.5px,#ff0100 102.5px,#ff8c00 339.5px,#ffba00 420.5px,#ffe900 476.5px,#ffff02 488.5px,#ffff37 501.5px,#ffffbd 524.5px,#ffffd0 529px)"></i><i style="left:264px;background:linear-gradient(#ad0000 0px,#ec0000 78.5px,#ff0100 101.5px,#ff9000 345.5px,#ffb900 417.5px,#ffe900 472.5px,#ffff00 484.5px,#ffff35 498.5px,#ffffc8 524.5px,#ffffda 529px)"></i><i style="left:266px;background:linear-gradient(#ae0000 0px,#ec0000 77.5px,#ff0200 100.5px,#ff9600 354.5px,#ffba00 415.5px,#ffea00 469.5px,#ffff00 481.5px,#ffff38 496.5px,#ffffc7 522.5px,#ffffe0 529px)"></i><i style="left:268px;background:linear-gradient(#af0000 0px,#ed0000 76.5px,#ff0100 98.5px,#ff9e00 367.5px,#ffba00 413.5px,#ffeb00 466.5px,#ffff00 478.5px,#ffff36 493.5px,#ffffcb 521.5px,#ffffe6 529px)"></i><i style="left:270px;background:linear-gradient(#b00000 0px,#ed0000 75.5px,#ff0100 97.5px,#ffab00 388.5px,#ffbf00 416.5px,#ffea00 462.5px,#ffff00 475.5px,#ffff39 491.5px,#ffffca 519.5px,#ffffe8 527.5px,#ffffeb 529px)"></i><i style="left:272px;background:linear-gradient(#b10000 0px,#ed0000 74.5px,#ff0100 96.5px,#ffb900 407.5px,#ffea00 459.5px,#ffff00 472.5px,#ffff36 488.5px,#ffffcf 518.5px,#ffffeb 526.5px,#fffff0 529px)"></i><i style="left:274px;background:linear-gradient(#b20000 0px,#ed0000 73.5px,#ff0100 95.5px,#ffb800 404.5px,#ffea00 456.5px,#ffff00 469.5px,#ffff38 486.5px,#ffffd3 517.5px,#ffffef 525.5px,#fffff4 529px)"></i><i style="left:276px;background:linear-gradient(#b30000 0px,#ed0000 72.5px,#ff0200 94.5px,#ffb900 402.5px,#ffec00 454.5px,#ffff02 467.5px,#ffff3a 484.5px,#ffffd7 516.5px,#fffff3 524.5px,#fffff9 529px)"></i><i style="left:278px;background:linear-gradient(#b40000 0px,#ee0000 71.5px,#ff0100 92.5px,#ffb800 399.5px,#ffec00 451.5px,#ffff01 464.5px,#ffff37 481.5px,#ffffdb 515.5px,#fffff6 523.5px,#fffffd 529px)"></i><i style="left:280px;background:linear-gradient(#b50000 0px,#ef0000 71.5px,#ff0100 91.5px,#ffb800 397.5px,#ffeb00 448.5px,#ffff00 461.5px,#ffff38 479.5px,#ffffda 513.5px,#fffff5 521.5px,#fffffe 529px)"></i><i style="left:282px;background:linear-gradient(#b60000 0px,#ef0000 70.5px,#ff0100 90.5px,#ffb800 394.5px,#ffed00 446.5px,#ffff02 459.5px,#ffff39 477.5px,#ffffd8 511.5px,#fffff5 520.5px,#ffffff 529px)"></i><i style="left:284px;background:linear-gradient(#b70000 0px,#ef0000 69.5px,#ff0100 89.5px,#ffb800 392.5px,#ffee00 444.5px,#ffff00 456.5px,#ffff36 474.5px,#ffffd3 508.5px,#fffff1 517.5px,#fffffe 525.5px,#ffffff 529px)"></i><i style="left:286px;background:linear-gradient(#b80000 0px,#ef0000 68.5px,#ff0200 88.5px,#ffb800 389.5px,#ffed00 441.5px,#ffff01 454.5px,#ffff36 472.5px,#ffffd1 506.5px,#fffff2 516.5px,#fffffe 525.5px,#ffffff 529px)"></i><i style="left:288px;background:linear-gradient(#b90000 0px,#f10000 68.5px,#ff0100 86.5px,#ffb800 387.5px,#ffee00 439.5px,#ffff02 452.5px,#ffff37 470.5px,#ffffd0 504.5px,#fffff0 514.5px,#fffffd 523.5px,#ffffff 529px)"></i><i style="left:290px;background:linear-gradient(#ba0000 0px,#f10000 67.5px,#ff0100 85.5px,#ffb600 383.5px,#ffee00 437.5px,#ffff00 449.5px,#ffff37 468.5px,#ffffce 502.5px,#ffffee 512.5px,#fffffd 521.5px,#ffffff 529px)"></i><i style="left:292px;background:linear-gradient(#bb0000 0px,#f20000 67.5px,#ff0100 84.5px,#ffb600 380.5px,#ffef00 435.5px,#ffff01 447.5px,#ffff37 466.5px,#ffffcc 500.5px,#ffffef 511.5px,#fffffd 520.5px,#ffffff 529px)"></i><i style="left:294px;background:linear-gradient(#bb0000 0px,#f20000 66.5px,#ff0200 83.5px,#ffb400 376.5px,#ffee00 432.5px,#ffff01 445.5px,#ffff37 464.5px,#ffffcb 498.5px,#ffffed 509.5px,#fffffd 519.5px,#ffffff 529px)"></i><i style="left:296px;background:linear-gradient(#bc0000 0px,#f30000 66.5px,#ff0200 82.5px,#ffb400 373.5px,#ffee00 430.5px,#ffff02 443.5px,#ffff37 462.5px,#ffffc9 496.5px,#ffffec 507.5px,#fffffc 517.5px,#ffffff 529px)"></i><i style="left:298px;background:linear-gradient(#bd0000 0px,#f40000 66.5px,#ff0200 81.5px,#ffb200 369.5px,#ffee00 428.5px,#ffff02 441.5px,#ffff37 460.5px,#ffffc8 494.5px,#ffffec 506.5px,#fffffc 516.5px,#ffffff 529px)"></i><i style="left:300px;background:linear-gradient(#be0000 0px,#f50000 66.5px,#ff0100 79.5px,#ffae00 360.5px,#ffe800 421.5px,#ffff02 439.5px,#ffff37 458.5px,#ffffc6 492.5px,#ffffeb 504.5px,#fffffc 515.5px,#ffffff 529px)"></i><i style="left:302px;background:linear-gradient(#bf0000 0px,#f70000 66.5px,#ff0200 78.5px,#ffa800 348.5px,#ffbe00 377.5px,#ffef00 424.5px,#ffff02 437.5px,#ffff36 456.5px,#ffffc4 490.5px,#ffffe9 502.5px,#fffffb 513.5px,#ffffff 529px)"></i><i style="left:304px;background:linear-gradient(#c00000 0px,#f80000 66.5px,#ff0200 77.5px,#ffa400 340.5px,#ffbd00 373.5px,#ffef00 422.5px,#ffff02 435.5px,#ffff3a 455.5px,#ffffc3 488.5px,#ffffe8 500.5px,#fffffa 511.5px,#ffffff 529px)"></i><i style="left:306px;background:linear-gradient(#c10000 0px,#fa0000 67.5px,#ff0200 77.5px,#ffa000 332.5px,#ffbc00 370.5px,#ffef00 420.5px,#ffff02 433.5px,#ffff39 453.5px,#ffffc1 486.5px,#ffffe8 499.5px,#fffffa 510.5px,#ffffff 529px)"></i><i style="left:308px;background:linear-gradient(#c20000 0px,#fc0000 68.5px,#ff0600 81.5px,#ff9e00 327.5px,#ffbc00 368.5px,#ffef00 418.5px,#ffff02 431.5px,#ffff39 451.5px,#ffffc0 484.5px,#ffffe7 497.5px,#fffff9 508.5px,#ffffff 524.5px,#ffffff 529px)"></i><i style="left:310px;background:linear-gradient(#c30000 0px,#ff0100 72.5px,#ff9b00 320.5px,#ffbc00 366.5px,#ffef00 416.5px,#ffff02 429.5px,#ffff38 449.5px,#ffffc1 483.5px,#ffffe8 496.5px,#fffffa 508.5px,#ffffff 529px)"></i><i style="left:312px;background:linear-gradient(#c40000 0px,#ff0100 71.5px,#ff9900 315.5px,#ffbd00 364.5px,#ffef00 414.5px,#ffff01 427.5px,#ffff37 447.5px,#ffffc0 481.5px,#ffffe6 494.5px,#fffff9 506.5px,#ffffff 524.5px,#ffffff 529px)"></i><i style="left:314px;background:linear-gradient(#c50000 0px,#ff0100 70.5px,#ff9700 311.5px,#ffbd00 362.5px,#ffef00 412.5px,#ffff01 425.5px,#ffff3a 446.5px,#ffffbe 479.5px,#ffffe4 492.5px,#fffff8 504.5px,#ffffff 520.5px,#ffffff 529px)"></i><i style="left:316px;background:linear-gradient(#c60000 0px,#ff0200 69.5px,#ff9600 307.5px,#ffbd00 360.5px,#ffef00 410.5px,#ffff01 423.5px,#ffff39 444.5px,#ffffbf 478.5px,#ffffe5 491.5px,#fffff8 503.5px,#ffffff 520.5px,#ffffff 529px)"></i><i style="left:318px;background:linear-gradient(#c60000 0px,#ff0100 67.5px,#ff9500 304.5px,#ffbd00 358.5px,#ffee00 408.5px,#ffff00 421.5px,#ffff38 442.5px,#ffffbe 476.5px,#ffffe5 490.5px,#fffff9 503.5px,#ffffff 522.5px,#ffffff 529px)"></i><i style="left:320px;background:linear-gradient(#c70000 0px,#ff0100 66.5px,#ff9400 301.5px,#ffbe00 357.5px,#ffee00 406.5px,#ffff00 419.5px,#ffff37 440.5px,#ffffbf 475.5px,#ffffe6 489.5px,#fffff9 502.5px,#ffffff 521.5px,#ffffff 529px)"></i><i style="left:322px;background:linear-gradient(#c80000 0px,#ff0200 65.5px,#ff9300 298.5px,#ffbe00 355.5px,#ffef00 405.5px,#ffff02 418.5px,#ffff3a 439.5px,#ffffbd 473.5px,#ffffe4 487.5px,#fffff8 500.5px,#ffffff 518.5px,#ffffff 529px)"></i><i style="left:324px;background:linear-gradient(#c90000 0px,#ff0100 63.5px,#ff9300 295.5px,#ffbf00 354.5px,#ffef00 403.5px,#ffff02 416.5px,#ffff39 437.5px,#ffffbe 472.5px,#ffffe5 486.5px,#fffff8 499.5px,#ffffff 517.5px,#ffffff 529px)"></i><i style="left:326px;background:linear-gradient(#ca0000 0px,#ff0100 62.5px,#ff9200 292.5px,#ffc000 352.5px,#ffef00 401.5px,#ffff01 414.5px,#ffff38 435.5px,#ffffbc 470.5px,#ffffe3 484.5px,#fffff7 497.5px,#ffffff 514.5px,#ffffff 529px)"></i><i style="left:328px;background:linear-gradient(#cb0000 0px,#ff0100 61.5px,#ff9100 289.5px,#ffc100 351.5px,#ffef00 399.5px,#ffff01 412.5px,#ffff3a 434.5px,#ffffbd 469.5px,#ffffe3 483.5px,#fffff8 497.5px,#ffffff 516.5px,#ffffff 529px)"></i><i style="left:330px;background:linear-gradient(#cc0000 0px,#ff0100 59.5px,#ff9100 287.5px,#ffc100 349.5px,#ffef00 397.5px,#ffff00 410.5px,#ffff39 432.5px,#ffffbe 468.5px,#ffffe5 483.5px,#fffff9 497.5px,#ffffff 517.5px,#ffffff 529px)"></i><i style="left:332px;background:linear-gradient(#cd0000 0px,#ff0100 58.5px,#ff9000 284.5px,#ffc200 348.5px,#fff000 396.5px,#ffff02 409.5px,#ffff38 430.5px,#ffffbb 466.5px,#ffffe3 481.5px,#fffff8 495.5px,#ffffff 514.5px,#ffffff 529px)"></i><i style="left:334px;background:linear-gradient(#ce0000 0px,#ff0200 57.5px,#ff9000 282.5px,#ffc200 347.5px,#fff000 394.5px,#ffff01 407.5px,#ffff3a 429.5px,#ffffbc 465.5px,#ffffe3 480.5px,#fffff8 494.5px,#ffffff 513.5px,#ffffff 529px)"></i><i style="left:336px;background:linear-gradient(#cf0000 0px,#ff0100 55.5px,#ff9000 280.5px,#ffc400 347.5px,#ffef00 392.5px,#ffff01 405.5px,#ffff39 427.5px,#ffffbd 464.5px,#ffffe3 479.5px,#fffff8 493.5px,#ffffff 512.5px,#ffffff 529px)"></i><i style="left:338px;background:linear-gradient(#d00000 0px,#ff0100 54.5px,#ff8f00 277.5px,#ffc500 346.5px,#ffef00 390.5px,#ffff00 403.5px,#ffff3b 426.5px,#ffffbd 463.5px,#ffffe3 478.5px,#fffff8 493.5px,#ffffff 514.5px,#ffffff 529px)"></i><i style="left:340px;background:linear-gradient(#d10000 0px,#ff0100 52.5px,#ff8f00 275.5px,#ffc600 345.5px,#ffef00 388.5px,#ffff02 402.5px,#ffff3a 424.5px,#ffffbb 461.5px,#ffffe3 477.5px,#fffff8 492.5px,#ffffff 513.5px,#ffffff 529px)"></i><i style="left:342px;background:linear-gradient(#d30000 0px,#ff0100 51.5px,#ff8f00 273.5px,#ffc700 344.5px,#fff000 387.5px,#ffff01 400.5px,#ffff39 422.5px,#ffffbb 460.5px,#ffffe3 476.5px,#fffff8 491.5px,#ffffff 512.5px,#ffffff 529px)"></i><i style="left:344px;background:linear-gradient(#d40000 0px,#ff0100 49.5px,#ff8f00 271.5px,#ffc900 344.5px,#ffef00 385.5px,#ffff01 398.5px,#ffff3b 421.5px,#ffffbc 459.5px,#ffffe3 475.5px,#fffff8 490.5px,#ffffff 510.5px,#ffffff 529px)"></i><i style="left:346px;background:linear-gradient(#d50000 0px,#ff0100 48.5px,#ff8f00 269.5px,#ffc900 343.5px,#ffef00 383.5px,#ffff00 396.5px,#ffff3a 419.5px,#ffffbc 458.5px,#ffffe3 474.5px,#fffff7 489.5px,#ffffff 509.5px,#ffffff 529px)"></i><i style="left:348px;background:linear-gradient(#d60000 0px,#ff0200 47.5px,#ff8f00 267.5px,#ffcb00 343.5px,#fff000 382.5px,#ffff02 395.5px,#ffff3c 418.5px,#ffffbd 457.5px,#ffffe3 473.5px,#fffff8 489.5px,#ffffff 511.5px,#ffffff 529px)"></i><i style="left:350px;background:linear-gradient(#d90000 0px,#ff0100 44.5px,#ff8a00 259.5px,#ffca00 340.5px,#fff000 380.5px,#ffff01 393.5px,#ffff3b 416.5px,#ffffbd 456.5px,#ffffe4 473.5px,#fffff9 489.5px,#ffffff 512.5px,#ffffff 529px)"></i><i style="left:352px;background:linear-gradient(#de0000 0px,#ff0100 41.5px,#ff4400 150.5px,#ff9200 268.5px,#ffd000 344.5px,#fff100 379.5px,#ffff01 391.5px,#ffff3d 415.5px,#ffffbd 455.5px,#ffffe4 472.5px,#fffff8 488.5px,#ffffff 510.5px,#ffffff 529px)"></i><i style="left:354px;background:linear-gradient(#e00000 0px,#ff0200 39.5px,#ff3900 132.5px,#ff9100 265.5px,#ffd000 342.5px,#fff200 378.5px,#ffff01 389.5px,#ffff3b 413.5px,#ffffbd 454.5px,#ffffe4 471.5px,#fffff8 487.5px,#ffffff 509.5px,#ffffff 529px)"></i><i style="left:356px;background:linear-gradient(#e10000 0px,#ff0100 37.5px,#ff3900 130.5px,#ff9100 263.5px,#ffd000 341.5px,#fff300 377.5px,#ffff03 388.5px,#ffff3d 412.5px,#ffffbd 453.5px,#ffffe3 470.5px,#fffff8 487.5px,#ffffff 510.5px,#ffffff 529px)"></i><i style="left:358px;background:linear-gradient(#e30000 0px,#ff0200 36.5px,#ff3900 129.5px,#ff9100 261.5px,#ffd100 340.5px,#fff500 376.5px,#ffff02 386.5px,#ffff3c 410.5px,#ffffbe 452.5px,#ffffe5 470.5px,#fffff9 487.5px,#ffffff 512.5px,#ffffff 529px)"></i><i style="left:360px;background:linear-gradient(#e40000 0px,#ff0100 34.5px,#ff3900 127.5px,#ff9100 259.5px,#ffd100 338.5px,#fff600 375.5px,#ffff02 384.5px,#ffff3b 408.5px,#ffffbe 451.5px,#ffffe5 469.5px,#fffff9 486.5px,#ffffff 510.5px,#ffffff 529px)"></i><i style="left:362px;background:linear-gradient(#e50000 0px,#ff0200 33.5px,#ff3900 126.5px,#ff9200 258.5px,#ffd200 337.5px,#fff700 374.5px,#ffff02 382.5px,#ffff3d 407.5px,#ffffbe 450.5px,#ffffe4 468.5px,#fffff8 485.5px,#ffffff 509.5px,#ffffff 529px)"></i><i style="left:364px;background:linear-gradient(#e70000 0px,#ff0100 31.5px,#ff3900 124.5px,#ff9200 256.5px,#ffd300 336.5px,#fff900 374.5px,#ffff01 380.5px,#ffff3c 405.5px,#ffffbe 449.5px,#ffffe4 467.5px,#fffff8 484.5px,#ffffff 508.5px,#ffffff 529px)"></i><i style="left:366px;background:linear-gradient(#e80000 0px,#ff0200 30.5px,#ff3900 123.5px,#ff9100 254.5px,#ffd300 334.5px,#fffa00 373.5px,#ffff03 379.5px,#ffff3e 404.5px,#ffffbe 448.5px,#ffffe5 467.5px,#fffff9 485.5px,#ffffff 511.5px,#ffffff 529px)"></i><i style="left:368px;background:linear-gradient(#e90000 0px,#ff0100 28.5px,#ff3900 121.5px,#ff9100 252.5px,#ffd300 332.5px,#fffc00 373.5px,#ffff03 377.5px,#ffff3c 402.5px,#ffffbc 446.5px,#ffffe3 465.5px,#fffff8 483.5px,#ffffff 508.5px,#ffffff 529px)"></i><i style="left:370px;background:linear-gradient(#eb0000 0px,#ff0100 26.5px,#ff3800 119.5px,#ff9200 251.5px,#ffd500 332.5px,#ffff00 374.5px,#ffff3e 401.5px,#ffffbe 446.5px,#ffffe5 465.5px,#fffff9 483.5px,#ffffff 509.5px,#ffffff 529px)"></i><i style="left:372px;background:linear-gradient(#ec0000 0px,#ff0100 25.5px,#ff3900 118.5px,#ff9200 249.5px,#ffd500 330.5px,#ffff02 373.5px,#ffff3d 399.5px,#ffffbc 444.5px,#ffffe3 463.5px,#fffff8 481.5px,#ffffff 505.5px,#ffffff 529px)"></i><i style="left:374px;background:linear-gradient(#ed0000 0px,#ff0100 23.5px,#ff3800 116.5px,#ff9200 247.5px,#ffd600 329.5px,#ffff01 371.5px,#ffff3f 398.5px,#ffffbc 443.5px,#ffffe4 463.5px,#fffff9 482.5px,#ffffff 509.5px,#ffffff 529px)"></i><i style="left:376px;background:linear-gradient(#ee0000 0px,#ff0100 22.5px,#ff3900 115.5px,#ff9200 246.5px,#ffd600 328.5px,#ffff01 369.5px,#ffff3e 396.5px,#ffffbc 442.5px,#ffffe4 462.5px,#fffff8 481.5px,#ffffff 507.5px,#ffffff 529px)"></i><i style="left:378px;background:linear-gradient(#f00000 0px,#ff0200 21.5px,#ff3900 114.5px,#ff9200 244.5px,#ffd700 327.5px,#ffff00 367.5px,#ffff3f 395.5px,#ffffbc 441.5px,#ffffe3 461.5px,#fffff8 480.5px,#ffffff 506.5px,#ffffff 529px)"></i><i style="left:380px;background:linear-gradient(#f10000 0px,#ff0100 19.5px,#ff3900 112.5px,#ff9300 243.5px,#ffd900 327.5px,#ffff02 366.5px,#ffff3e 393.5px,#ffffbc 440.5px,#ffffe3 460.5px,#fffff8 479.5px,#ffffff 505.5px,#ffffff 529px)"></i><i style="left:382px;background:linear-gradient(#f30000 0px,#ff0200 18.5px,#ff3900 111.5px,#ff9400 242.5px,#ffda00 326.5px,#ffff01 364.5px,#ffff40 392.5px,#ffffbc 439.5px,#ffffe4 460.5px,#fffff8 479.5px,#ffffff 506.5px,#ffffff 529px)"></i><i style="left:384px;background:linear-gradient(#f40000 0px,#ff0200 16.5px,#ff3900 109.5px,#ff9400 241.5px,#ffdb00 326.5px,#ffff01 362.5px,#ffff3f 390.5px,#ffffbc 438.5px,#ffffe4 459.5px,#fffff9 479.5px,#ffffff 507.5px,#ffffff 529px)"></i><i style="left:386px;background:linear-gradient(#f50000 0px,#ff0200 15.5px,#ff3a00 109.5px,#ff9500 240.5px,#ffdc00 325.5px,#ffff02 361.5px,#ffff40 389.5px,#ffffbd 437.5px,#ffffe4 458.5px,#fffff9 478.5px,#ffffff 506.5px,#ffffff 529px)"></i><i style="left:388px;background:linear-gradient(#f70000 0px,#ff0200 13.5px,#ff3900 107.5px,#ff9600 239.5px,#ffdd00 325.5px,#ffff01 359.5px,#ffff41 388.5px,#ffffbd 436.5px,#ffffe4 457.5px,#fffff8 477.5px,#ffffff 505.5px,#ffffff 529px)"></i><i style="left:390px;background:linear-gradient(#f80000 0px,#ff0200 12.5px,#ff3a00 106.5px,#ff9600 238.5px,#ffde00 324.5px,#ffff01 357.5px,#ffff40 386.5px,#ffffbd 435.5px,#ffffe4 456.5px,#fffff8 476.5px,#ffffff 504.5px,#ffffff 529px)"></i><i style="left:392px;background:linear-gradient(#f90000 0px,#ff0200 11.5px,#ff3a00 105.5px,#ff9700 237.5px,#ffdf00 323.5px,#ffff02 356.5px,#ffff42 385.5px,#ffffbd 434.5px,#ffffe5 456.5px,#fffff9 477.5px,#ffffff 508.5px,#ffffff 529px)"></i><i style="left:394px;background:linear-gradient(#fb0000 0px,#ff0300 10.5px,#ff3b00 105.5px,#ff9800 237.5px,#ffe200 325.5px,#ffff02 354.5px,#ffff43 384.5px,#ffffbd 433.5px,#ffffe5 455.5px,#fffff9 476.5px,#ffffff 506.5px,#ffffff 529px)"></i><i style="left:396px;background:linear-gradient(#fc0000 0px,#ff0600 14.5px,#ff4200 115.5px,#ff9e00 243.5px,#ffeb00 332.5px,#ffff01 352.5px,#ffff42 382.5px,#ffffbe 432.5px,#ffffe5 454.5px,#fffff9 475.5px,#ffffff 505.5px,#ffffff 529px)"></i><i style="left:398px;background:linear-gradient(#fd0000 0px,#ff2d00 79.5px,#ff8200 205.5px,#ffcd00 298.5px,#ffff02 351.5px,#ffff43 381.5px,#ffffbe 431.5px,#ffffe4 453.5px,#fffff9 474.5px,#ffffff 504.5px,#ffffff 529px)"></i><i style="left:400px;background:linear-gradient(#ff0000 0px,#ff3400 89.5px,#ff8b00 215.5px,#ffd100 300.5px,#ffff02 349.5px,#ffff45 380.5px,#ffffbe 430.5px,#ffffe4 452.5px,#fffff8 473.5px,#ffffff 503.5px,#ffffff 529px)"></i><i style="left:402px;background:linear-gradient(#ff0100 0px,#ff3800 93.5px,#ff9500 226.5px,#ffd900 308.5px,#ffff01 347.5px,#ffff43 378.5px,#ffffbe 429.5px,#ffffe5 452.5px,#fffff9 474.5px,#ffffff 507.5px,#ffffff 529px)"></i><i style="left:404px;background:linear-gradient(#ff0100 0px,#ff3900 93.5px,#ff9b00 231.5px,#ffe500 319.5px,#ffff02 346.5px,#ffff45 377.5px,#ffffbc 427.5px,#ffffe4 450.5px,#fffff9 472.5px,#ffffff 503.5px,#ffffff 529px)"></i><i style="left:406px;background:linear-gradient(#ff0200 0px,#ff3a00 93.5px,#ff9e00 234.5px,#ffe900 322.5px,#ffff01 344.5px,#ffff46 376.5px,#ffffbc 426.5px,#ffffe4 449.5px,#fffff8 471.5px,#ffffff 502.5px,#ffffff 529px)"></i><i style="left:408px;background:linear-gradient(#ff0300 0px,#ff3b00 94.5px,#ffa000 235.5px,#ffed00 324.5px,#ffff01 342.5px,#ffff47 375.5px,#ffffbd 425.5px,#ffffe4 448.5px,#fffff8 470.5px,#ffffff 501.5px,#ffffff 529px)"></i><i style="left:410px;background:linear-gradient(#ff0400 0px,#ff3d00 95.5px,#ffa300 237.5px,#fff500 330.5px,#ffff02 341.5px,#ffff48 374.5px,#ffffbd 424.5px,#ffffe3 447.5px,#fffff8 469.5px,#ffffff 499.5px,#ffffff 529px)"></i><i style="left:412px;background:linear-gradient(#ff0500 0px,#ff3f00 97.5px,#ffa800 241.5px,#fff700 330.5px,#ffff01 339.5px,#ffff47 372.5px,#ffffbd 423.5px,#ffffe4 447.5px,#fffff9 470.5px,#ffffff 503.5px,#ffffff 529px)"></i><i style="left:414px;background:linear-gradient(#ff0500 0px,#ff4200 99.5px,#ffae00 247.5px,#fffa00 332.5px,#ffff03 338.5px,#ffff4b 372.5px,#ffffbd 422.5px,#ffffe4 446.5px,#fffff9 469.5px,#ffffff 502.5px,#ffffff 529px)"></i><i style="left:416px;background:linear-gradient(#ff0600 0px,#ff4500 103.5px,#ffb400 253.5px,#ffff02 336.5px,#ffff4c 371.5px,#ffffbd 421.5px,#ffffe4 445.5px,#fffff8 468.5px,#ffffff 500.5px,#ffffff 529px)"></i><i style="left:418px;background:linear-gradient(#ff0700 0px,#ff4a00 108.5px,#ffb900 257.5px,#ffff01 334.5px,#ffff4d 370.5px,#ffffbf 421.5px,#ffffe5 445.5px,#fffff9 468.5px,#ffffff 501.5px,#ffffff 529px)"></i><i style="left:420px;background:linear-gradient(#ff0800 0px,#ff4d00 112.5px,#ffbe00 261.5px,#ffff01 332.5px,#ffff4e 369.5px,#ffffbf 420.5px,#ffffe5 444.5px,#fffff9 467.5px,#ffffff 500.5px,#ffffff 529px)"></i><i style="left:422px;background:linear-gradient(#ff0900 0px,#ff4f00 113.5px,#ffc000 262.5px,#ffff02 331.5px,#ffff51 369.5px,#ffffbf 419.5px,#ffffe5 444.5px,#fffff9 468.5px,#ffffff 504.5px,#ffffff 529px)"></i><i style="left:424px;background:linear-gradient(#ff0a00 0px,#ff5100 114.5px,#ffc200 262.5px,#ffff01 329.5px,#ffff52 368.5px,#ffffbf 418.5px,#ffffe5 443.5px,#fffff9 467.5px,#ffffff 502.5px,#ffffff 529px)"></i><i style="left:426px;background:linear-gradient(#ff0b00 0px,#ff5400 116.5px,#ffc400 262.5px,#ffff01 327.5px,#ffff55 368.5px,#ffffbe 417.5px,#ffffe5 442.5px,#fffff9 466.5px,#ffffff 501.5px,#ffffff 529px)"></i><i style="left:428px;background:linear-gradient(#ff0b00 0px,#ff5700 119.5px,#ffc400 261.5px,#ffff02 326.5px,#ffff5b 369.5px,#ffffc0 417.5px,#ffffe6 442.5px,#fffff9 466.5px,#ffffff 502.5px,#ffffff 529px)"></i><i style="left:430px;background:linear-gradient(#ff0c00 0px,#ff5b00 122.5px,#ffc500 260.5px,#ffff01 324.5px,#ffff60 370.5px,#ffffc0 416.5px,#ffffe6 442.5px,#fffffa 467.5px,#ffffff 506.5px,#ffffff 529px)"></i><i style="left:432px;background:linear-gradient(#ff0d00 0px,#ff5e00 125.5px,#ffc600 259.5px,#ffff01 322.5px,#ffff67 372.5px,#ffffc2 416.5px,#ffffe7 442.5px,#fffffa 467.5px,#ffffff 508.5px,#ffffff 529px)"></i><i style="left:434px;background:linear-gradient(#ff0e00 0px,#ff5e00 123.5px,#ffc500 257.5px,#ffff00 320.5px,#ffff73 376.5px,#ffffc3 416.5px,#ffffe8 442.5px,#fffffa 467.5px,#ffffff 509.5px,#ffffff 529px)"></i><i style="left:436px;background:linear-gradient(#ff0f00 0px,#ff5e00 122.5px,#ffc600 256.5px,#ffff02 319.5px,#ffff8c 387.5px,#ffffca 419.5px,#ffffeb 445.5px,#fffffc 471.5px,#ffffff 529px)"></i><i style="left:438px;background:linear-gradient(#ff1000 0px,#ff5e00 120.5px,#ffc600 254.5px,#ffff01 317.5px,#ffffbf 412.5px,#ffffe6 439.5px,#fffffa 465.5px,#ffffff 505.5px,#ffffff 529px)"></i><i style="left:440px;background:linear-gradient(#ff1100 0px,#ff5d00 118.5px,#ffc600 252.5px,#ffff01 315.5px,#ffffbf 411.5px,#ffffe5 438.5px,#fffff9 464.5px,#ffffff 503.5px,#ffffff 529px)"></i><i style="left:442px;background:linear-gradient(#ff1200 0px,#ff5e00 117.5px,#ffc600 251.5px,#ffff02 314.5px,#ffffbf 410.5px,#ffffe5 437.5px,#fffff9 463.5px,#ffffff 501.5px,#ffffff 529px)"></i><i style="left:444px;background:linear-gradient(#ff1200 0px,#ff5e00 115.5px,#ffc600 249.5px,#ffff01 312.5px,#ffffbf 409.5px,#ffffe6 437.5px,#fffff9 463.5px,#ffffff 502.5px,#ffffff 529px)"></i><i style="left:446px;background:linear-gradient(#ff1300 0px,#ff5d00 113.5px,#ffc600 247.5px,#ffff01 310.5px,#ffffbe 408.5px,#ffffe5 436.5px,#fffff9 462.5px,#ffffff 500.5px,#ffffff 529px)"></i><i style="left:448px;background:linear-gradient(#ff1400 0px,#ff5e00 112.5px,#ffc600 246.5px,#ffff02 309.5px,#ffffbe 407.5px,#ffffe5 435.5px,#fffff9 462.5px,#ffffff 501.5px,#ffffff 529px)"></i><i style="left:450px;background:linear-gradient(#ff1500 0px,#ff5d00 110.5px,#ffc600 244.5px,#ffff01 307.5px,#ffffbc 405.5px,#ffffe5 434.5px,#fffff9 461.5px,#ffffff 500.5px,#ffffff 529px)"></i><i style="left:452px;background:linear-gradient(#ff1600 0px,#ff5e00 109.5px,#ffc600 242.5px,#ffff01 305.5px,#ffffbc 404.5px,#ffffe4 433.5px,#fffff9 460.5px,#ffffff 498.5px,#ffffff 529px)"></i><i style="left:454px;background:linear-gradient(#ff1700 0px,#ff5e00 107.5px,#ffc500 240.5px,#ffff02 304.5px,#ffffbc 403.5px,#ffffe4 432.5px,#fffff9 459.5px,#ffffff 497.5px,#ffffff 529px)"></i><i style="left:456px;background:linear-gradient(#ff1800 0px,#ff5e00 106.5px,#ffc600 239.5px,#ffff01 302.5px,#ffffbc 402.5px,#ffffe5 432.5px,#fffff9 459.5px,#ffffff 498.5px,#ffffff 529px)"></i><i style="left:458px;background:linear-gradient(#ff1800 0px,#ff5e00 104.5px,#ffc600 237.5px,#ffff02 301.5px,#ffffbc 401.5px,#ffffe5 431.5px,#fffff9 459.5px,#ffffff 499.5px,#ffffff 529px)"></i><i style="left:460px;background:linear-gradient(#ff1900 0px,#ff5e00 103.5px,#ffc500 235.5px,#ffff01 299.5px,#ffffbc 400.5px,#ffffe4 430.5px,#fffff9 458.5px,#ffffff 498.5px,#ffffff 529px)"></i><i style="left:462px;background:linear-gradient(#ff1900 0px,#ff5f00 103.5px,#ffc500 233.5px,#ffff02 298.5px,#ffffbc 399.5px,#ffffe4 429.5px,#fffff9 457.5px,#ffffff 496.5px,#ffffff 529px)"></i><i style="left:464px;background:linear-gradient(#ff1a00 0px,#ff6000 102.5px,#ffc500 232.5px,#ffff01 296.5px,#ffffbc 398.5px,#ffffe4 428.5px,#fffff8 456.5px,#ffffff 495.5px,#ffffff 529px)"></i><i style="left:466px;background:linear-gradient(#ff1b00 0px,#ff6000 101.5px,#ffc500 230.5px,#ffff02 295.5px,#ffffbc 397.5px,#ffffe5 428.5px,#fffff9 456.5px,#ffffff 496.5px,#ffffff 529px)"></i><i style="left:468px;background:linear-gradient(#ff1c00 0px,#ff6100 100.5px,#ffc500 228.5px,#ffff01 293.5px,#ffffbc 396.5px,#ffffe4 427.5px,#fffff9 456.5px,#ffffff 497.5px,#ffffff 529px)"></i><i style="left:470px;background:linear-gradient(#ff1d00 0px,#ff6000 98.5px,#ffc400 226.5px,#ffff02 292.5px,#ffffbc 395.5px,#ffffe4 426.5px,#fffff9 455.5px,#ffffff 496.5px,#ffffff 529px)"></i><i style="left:472px;background:linear-gradient(#ff1d00 0px,#ff6100 97.5px,#ffc400 224.5px,#ffff01 290.5px,#ffffbc 394.5px,#ffffe4 425.5px,#fffff9 454.5px,#ffffff 494.5px,#ffffff 529px)"></i><i style="left:474px;background:linear-gradient(#ff1e00 0px,#ff6100 96.5px,#ffc400 222.5px,#ffff02 289.5px,#ffffbc 393.5px,#ffffe4 424.5px,#fffff8 453.5px,#ffffff 493.5px,#ffffff 529px)"></i><i style="left:476px;background:linear-gradient(#ff1f00 0px,#ff6100 94.5px,#ffc400 221.5px,#ffff01 287.5px,#ffffbc 392.5px,#ffffe4 423.5px,#fffff8 452.5px,#ffffff 492.5px,#ffffff 529px)"></i><i style="left:478px;background:linear-gradient(#ff2000 0px,#ff6100 93.5px,#ffc400 219.5px,#ffff02 286.5px,#ffffbc 391.5px,#ffffe4 423.5px,#fffff9 452.5px,#ffffff 493.5px,#ffffff 529px)"></i><i style="left:480px;background:linear-gradient(#ff2100 0px,#ff6200 92.5px,#ffc300 217.5px,#ffff01 284.5px,#ffffbb 390.5px,#ffffe4 422.5px,#fffff9 452.5px,#ffffff 494.5px,#ffffff 529px)"></i><i style="left:482px;background:linear-gradient(#ff2200 0px,#ff6100 90.5px,#ffc300 215.5px,#ffff02 283.5px,#ffffbb 389.5px,#ffffe4 421.5px,#fffff9 451.5px,#ffffff 493.5px,#ffffff 529px)"></i><i style="left:484px;background:linear-gradient(#ff2300 0px,#ff6200 89.5px,#ffc200 213.5px,#ffff01 281.5px,#ffffbb 388.5px,#ffffe4 420.5px,#fffff9 450.5px,#ffffff 492.5px,#ffffff 529px)"></i><i style="left:486px;background:linear-gradient(#ff2300 0px,#ff6200 88.5px,#ffc200 211.5px,#ffff02 280.5px,#ffffbb 387.5px,#ffffe4 419.5px,#fffff8 449.5px,#ffffff 490.5px,#ffffff 529px)"></i><i style="left:488px;background:linear-gradient(#ff2400 0px,#ff6200 86.5px,#ffc100 209.5px,#ffff01 278.5px,#ffffbb 386.5px,#ffffe3 418.5px,#fffff8 448.5px,#ffffff 489.5px,#ffffff 529px)"></i><i style="left:490px;background:linear-gradient(#ff2500 0px,#ff6200 85.5px,#ffc200 208.5px,#ffff01 277.5px,#ffffbb 385.5px,#ffffe3 417.5px,#fffff8 447.5px,#ffffff 488.5px,#ffffff 529px)"></i><i style="left:492px;background:linear-gradient(#ff2600 0px,#ff6200 84.5px,#ffc100 206.5px,#ffff02 276.5px,#ffffbb 384.5px,#ffffe4 417.5px,#fffff9 448.5px,#ffffff 492.5px,#ffffff 529px)"></i><i style="left:494px;background:linear-gradient(#ff2700 0px,#ff6300 83.5px,#ffc000 204.5px,#ffff01 274.5px,#ffffbb 383.5px,#ffffe4 416.5px,#fffff9 447.5px,#ffffff 490.5px,#ffffff 529px)"></i><i style="left:496px;background:linear-gradient(#ff2800 0px,#ff6300 82.5px,#ffc100 203.5px,#ffff01 273.5px,#ffffbb 382.5px,#ffffe4 415.5px,#fffff9 446.5px,#ffffff 489.5px,#ffffff 529px)"></i><i style="left:498px;background:linear-gradient(#ff2900 0px,#ff6400 81.5px,#ffc000 201.5px,#ffff02 272.5px,#ffffbb 381.5px,#ffffe4 414.5px,#fffff8 445.5px,#ffffff 488.5px,#ffffff 529px)"></i><i style="left:500px;background:linear-gradient(#ff2a00 0px,#ff6400 80.5px,#ffc100 200.5px,#ffff01 270.5px,#ffffbb 380.5px,#ffffe3 413.5px,#fffff8 444.5px,#ffffff 487.5px,#ffffff 529px)"></i><i style="left:502px;background:linear-gradient(#ff2b00 0px,#ff6400 79.5px,#ffc000 198.5px,#ffff02 269.5px,#ffffbb 379.5px,#ffffe3 412.5px,#fffff8 443.5px,#ffffff 486.5px,#ffffff 529px)"></i><i style="left:504px;background:linear-gradient(#ff2c00 0px,#ff6500 78.5px,#ffc100 197.5px,#ffff02 268.5px,#ffffbb 378.5px,#ffffe3 411.5px,#fffff8 442.5px,#ffffff 485.5px,#ffffff 529px)"></i><i style="left:506px;background:linear-gradient(#ff2d00 0px,#ff6500 77.5px,#ffc100 196.5px,#ffff01 266.5px,#ffffba 376.5px,#ffffe2 409.5px,#fffff7 440.5px,#ffffff 481.5px,#ffffff 529px)"></i><i style="left:508px;background:linear-gradient(#ff2e00 0px,#ff6600 77.5px,#ffc200 195.5px,#ffff01 265.5px,#ffffba 375.5px,#ffffe2 408.5px,#fffff8 440.5px,#ffffff 482.5px,#ffffff 529px)"></i><i style="left:510px;background:linear-gradient(#ff2f00 0px,#ff6700 76.5px,#ffc100 193.5px,#ffff02 264.5px,#ffffba 374.5px,#ffffe3 408.5px,#fffff8 440.5px,#ffffff 484.5px,#ffffff 529px)"></i><i style="left:512px;background:linear-gradient(#ff3000 0px,#ff6700 75.5px,#ffc100 192.5px,#ffff02 263.5px,#ffffba 373.5px,#ffffe3 407.5px,#fffff8 439.5px,#ffffff 483.5px,#ffffff 529px)"></i><i style="left:514px;background:linear-gradient(#ff3100 0px,#ff6800 75.5px,#ffc200 191.5px,#ffff01 261.5px,#ffffba 372.5px,#ffffe3 406.5px,#fffff8 438.5px,#ffffff 482.5px,#ffffff 529px)"></i><i style="left:516px;background:linear-gradient(#ff3200 0px,#ff6900 75.5px,#ffc200 190.5px,#ffff01 260.5px,#ffffba 371.5px,#ffffe3 405.5px,#fffff8 437.5px,#ffffff 481.5px,#ffffff 529px)"></i><i style="left:518px;background:linear-gradient(#ff3300 0px,#ff6a00 75.5px,#ffc300 189.5px,#ffff02 259.5px,#ffffba 370.5px,#ffffe2 404.5px,#fffff8 436.5px,#ffffff 480.5px,#ffffff 529px)"></i><i style="left:520px;background:linear-gradient(#ff3400 0px,#ff6c00 75.5px,#ffc300 188.5px,#ffff02 258.5px,#ffffba 369.5px,#ffffe2 403.5px,#fffff8 435.5px,#ffffff 478.5px,#ffffff 529px)"></i><i style="left:522px;background:linear-gradient(#ff3500 0px,#ff6d00 76.5px,#ffc300 187.5px,#ffff01 256.5px,#ffffba 368.5px,#ffffe2 402.5px,#fffff8 434.5px,#ffffff 477.5px,#ffffff 529px)"></i><i style="left:524px;background:linear-gradient(#ff3700 0px,#ff6f00 77.5px,#ffc400 186.5px,#ffff01 255.5px,#ffffba 367.5px,#ffffe2 401.5px,#fffff8 434.5px,#ffffff 479.5px,#ffffff 529px)"></i><i style="left:526px;background:linear-gradient(#ff3800 0px,#ff7300 80.5px,#ffc400 185.5px,#ffff01 254.5px,#ffffba 366.5px,#ffffe2 400.5px,#fffff8 433.5px,#ffffff 478.5px,#ffffff 529px)"></i><i style="left:528px;background:linear-gradient(#ff3900 0px,#ff7500 82.5px,#ffc400 184.5px,#ffff02 253.5px,#ffffba 365.5px,#ffffe2 399.5px,#fffff8 432.5px,#ffffff 477.5px,#ffffff 529px)"></i><i style="left:530px;background:linear-gradient(#ff3a00 0px,#ff7a00 87.5px,#ffc500 183.5px,#ffff02 252.5px,#ffffba 364.5px,#ffffe2 398.5px,#fffff8 431.5px,#ffffff 475.5px,#ffffff 529px)"></i><i style="left:532px;background:linear-gradient(#ff3b00 0px,#ffb500 164.5px,#ffff01 250.5px,#ffffba 363.5px,#ffffe2 397.5px,#fffff7 430.5px,#ffffff 474.5px,#ffffff 529px)"></i><i style="left:534px;background:linear-gradient(#ff3c00 0px,#ffb900 167.5px,#ffff01 249.5px,#ffffba 362.5px,#ffffe2 396.5px,#fffff7 429.5px,#ffffff 473.5px,#ffffff 529px)"></i><i style="left:536px;background:linear-gradient(#ff3d00 0px,#ffbe00 171.5px,#ffff01 248.5px,#ffffba 361.5px,#ffffe2 395.5px,#fffff7 428.5px,#ffffff 472.5px,#ffffff 529px)"></i><i style="left:538px;background:linear-gradient(#ff3e00 0px,#ffc200 175.5px,#ffff02 247.5px,#ffffba 360.5px,#ffffe1 394.5px,#fffff7 427.5px,#ffffff 471.5px,#ffffff 529px)"></i><i style="left:540px;background:linear-gradient(#ff3f00 0px,#ffc300 174.5px,#ffff02 246.5px,#ffffba 359.5px,#ffffe1 393.5px,#fffff7 426.5px,#ffffff 470.5px,#ffffff 529px)"></i><i style="left:542px;background:linear-gradient(#ff4000 0px,#ffc300 173.5px,#ffff01 244.5px,#ffffba 358.5px,#ffffe2 393.5px,#fffff8 427.5px,#ffffff 473.5px,#ffffff 529px)"></i><i style="left:544px;background:linear-gradient(#ff4100 0px,#ffc200 171.5px,#ffff01 243.5px,#ffffba 357.5px,#ffffe2 392.5px,#fffff8 426.5px,#ffffff 472.5px,#ffffff 529px)"></i><i style="left:546px;background:linear-gradient(#ff4300 0px,#ffc200 170.5px,#ffff01 242.5px,#ffffba 356.5px,#ffffe2 391.5px,#fffff7 425.5px,#ffffff 471.5px,#ffffff 529px)"></i><i style="left:548px;background:linear-gradient(#ff4400 0px,#ffc200 168.5px,#ffff02 241.5px,#ffffb8 354.5px,#ffffe1 389.5px,#fffff7 423.5px,#ffffff 468.5px,#ffffff 529px)"></i><i style="left:550px;background:linear-gradient(#ff4500 0px,#ffc200 167.5px,#ffff02 240.5px,#ffffb8 353.5px,#ffffe1 388.5px,#fffff7 422.5px,#ffffff 467.5px,#ffffff 529px)"></i><i style="left:552px;background:linear-gradient(#ff4600 0px,#ffc100 165.5px,#ffff01 238.5px,#ffffb8 352.5px,#ffffe0 387.5px,#fffff7 421.5px,#ffffff 466.5px,#ffffff 529px)"></i><i style="left:554px;background:linear-gradient(#ff4700 0px,#ffc200 164.5px,#ffff01 237.5px,#ffffb8 351.5px,#ffffe0 386.5px,#fffff7 420.5px,#ffffff 465.5px,#ffffff 529px)"></i><i style="left:556px;background:linear-gradient(#ff4900 0px,#ffc100 162.5px,#ffff02 236.5px,#ffffb8 350.5px,#ffffe0 385.5px,#fffff6 419.5px,#ffffff 464.5px,#ffffff 529px)"></i><i style="left:558px;background:linear-gradient(#ff4a00 0px,#ffc100 161.5px,#ffff02 235.5px,#ffffb8 349.5px,#ffffe0 384.5px,#fffff7 419.5px,#ffffff 464.5px,#ffffff 529px)"></i><i style="left:560px;background:linear-gradient(#ff4b00 0px,#ffc100 159.5px,#ffff01 233.5px,#ffffb8 348.5px,#ffffe1 384.5px,#fffff7 419.5px,#ffffff 465.5px,#ffffff 529px)"></i><i style="left:562px;background:linear-gradient(#ff4e00 0px,#ffbf00 156.5px,#ffff01 232.5px,#ffffb8 347.5px,#ffffe0 383.5px,#fffff7 418.5px,#ffffff 464.5px,#ffffff 529px)"></i><i style="left:564px;background:linear-gradient(#ff5300 0px,#ff9c00 109.5px,#ffce00 172.5px,#ffff01 231.5px,#ffffb7 346.5px,#ffffe0 382.5px,#fffff7 417.5px,#ffffff 463.5px,#ffffff 529px)"></i><i style="left:566px;background:linear-gradient(#ff5500 0px,#ff9500 98.5px,#ffc900 165.5px,#ffff02 230.5px,#ffffb7 345.5px,#ffffe0 381.5px,#fffff6 416.5px,#ffffff 462.5px,#ffffff 529px)"></i><i style="left:568px;background:linear-gradient(#ff5600 0px,#ff9400 96.5px,#ffc800 163.5px,#ffff02 229.5px,#ffffb7 344.5px,#ffffe0 380.5px,#fffff6 415.5px,#ffffff 461.5px,#ffffff 529px)"></i><i style="left:570px;background:linear-gradient(#ff5700 0px,#ff9500 95.5px,#ffc900 162.5px,#ffff01 227.5px,#ffffb7 343.5px,#ffffe0 379.5px,#fffff6 414.5px,#ffffff 460.5px,#ffffff 529px)"></i><i style="left:572px;background:linear-gradient(#ff5800 0px,#ff9500 94.5px,#ffc900 161.5px,#ffff01 226.5px,#ffffb7 342.5px,#ffffdf 378.5px,#fffff6 413.5px,#ffffff 458.5px,#ffffff 529px)"></i><i style="left:574px;background:linear-gradient(#ff5900 0px,#ff9500 93.5px,#ffc900 160.5px,#ffff01 225.5px,#ffffb7 341.5px,#ffffdf 377.5px,#fffff6 413.5px,#ffffff 459.5px,#ffffff 529px)"></i><i style="left:576px;background:linear-gradient(#ff5900 0px,#ff9500 92.5px,#ffc900 159.5px,#ffff01 224.5px,#ffffb6 340.5px,#ffffdf 376.5px,#fffff6 412.5px,#ffffff 458.5px,#ffffff 529px)"></i><i style="left:578px;background:linear-gradient(#ff5a00 0px,#ff9500 91.5px,#ffca00 159.5px,#ffff02 223.5px,#ffffb6 339.5px,#ffffe0 376.5px,#fffff6 412.5px,#ffffff 459.5px,#ffffff 529px)"></i><i style="left:580px;background:linear-gradient(#ff5b00 0px,#ff9600 90.5px,#ffcb00 158.5px,#ffff02 222.5px,#ffffb6 338.5px,#ffffdf 375.5px,#fffff6 411.5px,#ffffff 458.5px,#ffffff 529px)"></i><i style="left:582px;background:linear-gradient(#ff5c00 0px,#ff9700 90.5px,#ffcd00 159.5px,#ffff02 221.5px,#ffffb7 338.5px,#ffffe0 375.5px,#fffff6 411.5px,#ffffff 458.5px,#ffffff 529px)"></i><i style="left:584px;background:linear-gradient(#ff5d00 0px,#ff9700 89.5px,#ffce00 159.5px,#ffff02 220.5px,#ffffb7 337.5px,#ffffe0 374.5px,#fffff6 410.5px,#ffffff 457.5px,#ffffff 529px)"></i><i style="left:586px;background:linear-gradient(#ff5e00 0px,#ff9700 88.5px,#ffcf00 159.5px,#ffff02 219.5px,#ffffb7 336.5px,#ffffdf 373.5px,#fffff6 409.5px,#ffffff 456.5px,#ffffff 529px)"></i><i style="left:588px;background:linear-gradient(#ff5e00 0px,#ff9700 87.5px,#ffd100 161.5px,#ffff01 217.5px,#ffffb6 335.5px,#ffffdf 372.5px,#fffff6 408.5px,#ffffff 455.5px,#ffffff 529px)"></i><i style="left:590px;background:linear-gradient(#ff5f00 0px,#ff9800 86.5px,#ffd300 162.5px,#ffff01 216.5px,#ffffb5 333.5px,#ffffde 370.5px,#fffff5 406.5px,#ffffff 452.5px,#ffffff 529px)"></i><i style="left:592px;background:linear-gradient(#ff6000 0px,#ff9800 85.5px,#ffd600 164.5px,#ffff01 215.5px,#ffffb4 332.5px,#ffffde 369.5px,#fffff5 406.5px,#ffffff 452.5px,#ffffff 529px)"></i><i style="left:594px;background:linear-gradient(#ff6100 0px,#ff9900 85.5px,#ffdb00 169.5px,#ffff01 214.5px,#ffffb3 330.5px,#ffffdd 368.5px,#fffff5 405.5px,#ffffff 451.5px,#ffffff 529px)"></i><i style="left:596px;background:linear-gradient(#ff6100 0px,#ff9900 84.5px,#ffdf00 173.5px,#ffff01 213.5px,#ffffb1 328.5px,#ffffdc 366.5px,#fffff5 403.5px,#fffffe 448.5px,#ffffff 529px)"></i><i style="left:598px;background:linear-gradient(#ff6200 0px,#ff9900 83.5px,#ffe500 179.5px,#ffff01 212.5px,#ffffaf 326.5px,#ffffdb 364.5px,#fffff4 401.5px,#fffffe 446.5px,#ffffff 529px)"></i><i style="left:600px;background:linear-gradient(#ff6300 0px,#ff9a00 83.5px,#ffff01 211.5px,#ffffae 324.5px,#ffffda 362.5px,#fffff3 399.5px,#fffffe 443.5px,#ffffff 529px)"></i><i style="left:602px;background:linear-gradient(#ff6400 0px,#ff9b00 82.5px,#ffff01 210.5px,#ffffac 322.5px,#ffffd8 360.5px,#fffff3 397.5px,#fffffe 440.5px,#ffffff 529px)"></i><i style="left:604px;background:linear-gradient(#ff6500 0px,#ff9c00 82.5px,#ffff01 209.5px,#ffffaa 320.5px,#ffffd8 359.5px,#fffff2 396.5px,#fffffe 439.5px,#ffffff 529px)"></i><i style="left:606px;background:linear-gradient(#ff6500 0px,#ff9c00 82.5px,#ffff01 208.5px,#ffffa9 318.5px,#ffffd7 357.5px,#fffff2 394.5px,#fffffe 437.5px,#ffffff 529px)"></i><i style="left:608px;background:linear-gradient(#ff6600 0px,#ff9d00 81.5px,#ffff01 207.5px,#ffffa7 316.5px,#ffffd6 355.5px,#fffff1 392.5px,#fffffd 434.5px,#ffffff 529px)"></i><i style="left:610px;background:linear-gradient(#ff6700 0px,#ff9e00 82.5px,#ffff01 206.5px,#ffffa5 314.5px,#ffffd4 353.5px,#fffff0 390.5px,#fffffd 432.5px,#ffffff 529px)"></i><i style="left:612px;background:linear-gradient(#ff6800 0px,#ff9f00 82.5px,#ffff01 205.5px,#ffffa3 312.5px,#ffffd4 352.5px,#fffff0 389.5px,#fffffd 431.5px,#ffffff 529px)"></i><i style="left:614px;background:linear-gradient(#ff6900 0px,#ffa000 82.5px,#ffff01 204.5px,#ffffa2 310.5px,#ffffd3 350.5px,#ffffef 387.5px,#fffffd 429.5px,#ffffff 529px)"></i><i style="left:616px;background:linear-gradient(#ff6900 0px,#ffa200 83.5px,#ffff01 203.5px,#ffffa0 308.5px,#ffffd1 348.5px,#ffffef 386.5px,#fffffd 428.5px,#ffffff 529px)"></i><i style="left:618px;background:linear-gradient(#ff6a00 0px,#ffa400 84.5px,#ffff01 202.5px,#ffff9e 306.5px,#ffffd0 346.5px,#ffffee 384.5px,#fffffc 425.5px,#ffffff 529px)"></i><i style="left:620px;background:linear-gradient(#ff6b00 0px,#ffa600 86.5px,#ffff01 201.5px,#ffff9e 305.5px,#ffffd0 345.5px,#ffffee 383.5px,#fffffc 424.5px,#ffffff 529px)"></i><i style="left:622px;background:linear-gradient(#ff6c00 0px,#ffa900 88.5px,#ffff02 200.5px,#ffff9d 304.5px,#ffffd0 345.5px,#ffffee 383.5px,#fffffd 425.5px,#ffffff 529px)"></i><i style="left:624px;background:linear-gradient(#ff6c00 0px,#ffac00 91.5px,#ffff02 199.5px,#ffff9f 304.5px,#ffffd1 345.5px,#ffffef 383.5px,#fffffd 425.5px,#ffffff 529px)"></i><i style="left:626px;background:linear-gradient(#ff6d00 0px,#ffb000 95.5px,#ffff02 198.5px,#ffffa0 304.5px,#ffffd2 345.5px,#ffffef 383.5px,#fffffd 425.5px,#ffffff 529px)"></i><i style="left:628px;background:linear-gradient(#ff6e00 0px,#ffb400 99.5px,#ffff02 197.5px,#ffffa1 304.5px,#ffffd2 345.5px,#ffffef 383.5px,#fffffd 426.5px,#ffffff 529px)"></i><i style="left:630px;background:linear-gradient(#ff6f00 0px,#ffb600 101.5px,#ffff02 196.5px,#ffffa2 304.5px,#ffffd3 345.5px,#ffffef 383.5px,#fffffd 426.5px,#ffffff 529px)"></i><i style="left:632px;background:linear-gradient(#ff7000 0px,#ffbb00 106.5px,#ffff02 195.5px,#ffffa3 304.5px,#ffffd3 345.5px,#fffff0 383.5px,#fffffd 426.5px,#ffffff 529px)"></i><i style="left:634px;background:linear-gradient(#ff7000 0px,#ffbf00 110.5px,#ffff02 194.5px,#ffffa4 304.5px,#ffffd4 345.5px,#fffff0 383.5px,#fffffd 426.5px,#ffffff 529px)"></i></div><div style="position:absolute;left:735.1px;top:112.6px;width:51.7px;height:469.8px;background:linear-gradient(#380000 0%,#ff0000 25%,#ffff00 75%,#ffffff 100%)"></div><div class="hm" style="left:1025px;top:79px;width:636px;height:530px"><i style="left:0px;background:linear-gradient(#190000 0px,#3b0000 134.5px,#b60000 247.5px,#ed0000 299.5px,#ff0200 320.5px,#ff4f00 444.5px,#ff8600 472.5px,#ffb300 488.5px,#fff500 500.5px,#fffe00 502.5px,#ffffc2 523.5px,#ffffe6 528.5px,#ffffeb 530px)"></i><i style="left:2px;background:linear-gradient(#190000 0px,#3b0000 134.5px,#b50000 246.5px,#ed0000 299.5px,#ff0100 319.5px,#ff5000 445.5px,#ff8500 473.5px,#ffb300 488.5px,#fffb00 501.5px,#ffff03 502.5px,#ffff9d 517.5px,#ffffd0 523.5px,#ffffed 528.5px,#fffff0 530px)"></i><i style="left:4px;background:linear-gradient(#190000 0px,#3a0000 133.5px,#b40000 245.5px,#ed0000 298.5px,#ff0100 319.5px,#ff4f00 445.5px,#ff8200 473.5px,#ffb800 489.5px,#fffb00 501.5px,#ffff04 502.5px,#ffffae 517.5px,#ffffd7 522.5px,#ffffef 527.5px,#fffff4 530px)"></i><i style="left:6px;background:linear-gradient(#190000 0px,#3a0000 133.5px,#b20000 243.5px,#ec0000 297.5px,#ff0100 319.5px,#ff4f00 445.5px,#ff8400 474.5px,#ffb700 489.5px,#fffb00 501.5px,#ffff03 502.5px,#ffffae 516.5px,#ffffd2 520.5px,#ffffe9 524.5px,#fffff6 530px)"></i><i style="left:8px;background:linear-gradient(#190000 0px,#3a0000 133.5px,#b10000 242.5px,#ec0000 297.5px,#ff0100 318.5px,#ff4f00 445.5px,#ff8300 474.5px,#ffb600 489.5px,#ffff02 502.5px,#ffff74 511.5px,#ffffb2 516.5px,#ffffd6 520.5px,#ffffec 524.5px,#fffff7 530px)"></i><i style="left:10px;background:linear-gradient(#190000 0px,#3b0000 133.5px,#b00000 241.5px,#ec0000 297.5px,#ff0100 318.5px,#ff4f00 445.5px,#ff8300 474.5px,#ffb500 489.5px,#ffff00 502.5px,#ffff59 509.5px,#ffffa8 515.5px,#ffffd0 519.5px,#ffffe9 523.5px,#fffff6 528.5px,#fffff7 530px)"></i><i style="left:12px;background:linear-gradient(#190000 0px,#3b0000 133.5px,#af0000 240.5px,#ed0000 297.5px,#ff0100 318.5px,#ff4f00 445.5px,#ff8200 474.5px,#ffb500 489.5px,#fffe00 502.5px,#ffff49 508.5px,#ffffb2 516.5px,#ffffd7 520.5px,#ffffed 524.5px,#fffff8 530px)"></i><i style="left:14px;background:linear-gradient(#190000 0px,#3a0000 132.5px,#ae0000 239.5px,#ec0000 296.5px,#ff0200 318.5px,#ff5000 445.5px,#ff8100 474.5px,#ffb400 489.5px,#fffd00 502.5px,#ffff14 504.5px,#ffff6e 511.5px,#ffffaf 516.5px,#ffffd5 520.5px,#ffffed 524.5px,#fffff8 530px)"></i><i style="left:16px;background:linear-gradient(#190000 0px,#3a0000 132.5px,#ad0000 238.5px,#ec0000 296.5px,#ff0100 317.5px,#ff5000 445.5px,#ff8400 475.5px,#ffb800 490.5px,#fffb00 502.5px,#ffff05 503.5px,#ffff4f 509.5px,#ffffab 516.5px,#ffffd3 520.5px,#ffffec 524.5px,#fffff9 530px)"></i><i style="left:18px;background:linear-gradient(#190000 0px,#3a0000 132.5px,#ac0000 237.5px,#ed0000 297.5px,#ff0100 317.5px,#ff4f00 444.5px,#ff8400 475.5px,#ffb700 490.5px,#ffff00 503.5px,#ffff4a 509.5px,#ffffb3 517.5px,#ffffd9 521.5px,#fffff0 525.5px,#fffff9 530px)"></i><i style="left:20px;background:linear-gradient(#190000 0px,#3a0000 132.5px,#ab0000 236.5px,#ee0000 297.5px,#ff0200 317.5px,#ff4f00 444.5px,#ff8300 475.5px,#ffb600 490.5px,#fffd00 503.5px,#ffff07 504.5px,#ffff52 510.5px,#ffffae 517.5px,#ffffd6 521.5px,#ffffef 525.5px,#fffff9 530px)"></i><i style="left:22px;background:linear-gradient(#190000 0px,#3b0000 132.5px,#ab0000 236.5px,#ef0000 298.5px,#ff0100 316.5px,#ff5000 444.5px,#ff8300 475.5px,#ffb400 490.5px,#ffff01 504.5px,#ffff4b 510.5px,#ffffb4 518.5px,#ffffdb 522.5px,#fffff2 526.5px,#fffffa 530px)"></i><i style="left:24px;background:linear-gradient(#190000 0px,#3b0000 132.5px,#aa0000 235.5px,#ef0000 298.5px,#ff0100 316.5px,#ff4f00 443.5px,#ff8200 475.5px,#ffb800 491.5px,#fff600 503.5px,#fffc00 504.5px,#ffff05 505.5px,#ffff50 511.5px,#ffffb9 519.5px,#ffffdf 523.5px,#fffff5 527.5px,#fffffa 530px)"></i><i style="left:26px;background:linear-gradient(#190000 0px,#3a0000 131.5px,#a90000 234.5px,#f00000 298.5px,#ff0100 315.5px,#ff4f00 443.5px,#ff8200 475.5px,#ffb600 491.5px,#fff200 503.5px,#fffe00 505.5px,#ffff3a 510.5px,#ffffb2 519.5px,#ffffdb 523.5px,#fffff3 527.5px,#fffff9 530px)"></i><i style="left:28px;background:linear-gradient(#190000 0px,#3a0000 131.5px,#a80000 233.5px,#f10000 299.5px,#ff0100 315.5px,#ff5000 443.5px,#ff8200 475.5px,#ffb900 492.5px,#ffee00 503.5px,#ffff01 506.5px,#ffff4c 512.5px,#ffffb6 520.5px,#ffffde 524.5px,#fffff1 527.5px,#fffff9 530px)"></i><i style="left:30px;background:linear-gradient(#190000 0px,#3b0000 131.5px,#a70000 232.5px,#f20000 300.5px,#ff0200 315.5px,#ff4f00 442.5px,#ff8200 475.5px,#ffb700 492.5px,#ffef00 504.5px,#fffb00 506.5px,#ffff04 507.5px,#ffff4f 513.5px,#ffffba 521.5px,#ffffe1 525.5px,#fffff4 528.5px,#fffff8 530px)"></i><i style="left:32px;background:linear-gradient(#190000 0px,#3b0000 131.5px,#a70000 232.5px,#f40000 301.5px,#ff0100 314.5px,#ff5000 442.5px,#ff8100 475.5px,#ffb900 493.5px,#ffeb00 504.5px,#fffc00 507.5px,#ffff07 508.5px,#ffff52 514.5px,#ffffbd 522.5px,#ffffe4 526.5px,#fffff6 530px)"></i><i style="left:34px;background:linear-gradient(#190000 0px,#3a0000 130.5px,#a70000 231.5px,#f50000 302.5px,#ff0100 314.5px,#ff5000 441.5px,#ff8100 475.5px,#ffb700 493.5px,#ffec00 505.5px,#fffd00 508.5px,#ffff20 511.5px,#ffff8b 519.5px,#ffffca 524.5px,#ffffe6 527.5px,#fffff2 530px)"></i><i style="left:36px;background:linear-gradient(#190000 0px,#3a0000 130.5px,#a60000 230.5px,#f60000 303.5px,#ff0200 314.5px,#ff4f00 440.5px,#ff8400 476.5px,#ffb900 494.5px,#ffec00 506.5px,#fffe00 509.5px,#ffff3a 514.5px,#ffffb5 523.5px,#ffffde 527.5px,#ffffeb 530px)"></i><i style="left:38px;background:linear-gradient(#190000 0px,#3a0000 130.5px,#a50000 229.5px,#f80000 304.5px,#ff0200 314.5px,#ff5000 440.5px,#ff8400 476.5px,#ffbb00 495.5px,#ffed00 507.5px,#ffff00 510.5px,#ffff3b 515.5px,#ffffaa 523.5px,#ffffd4 527.5px,#ffffe3 530px)"></i><i style="left:40px;background:linear-gradient(#190000 0px,#3b0000 130.5px,#a50000 229.5px,#fa0000 306.5px,#ff0300 315.5px,#ff5000 439.5px,#ff8400 476.5px,#ffb900 495.5px,#ffed00 508.5px,#ffff00 511.5px,#ffff3a 516.5px,#ffffaa 524.5px,#ffffd2 528.5px,#ffffda 530px)"></i><i style="left:42px;background:linear-gradient(#190000 0px,#3a0000 129.5px,#a40000 228.5px,#fd0000 308.5px,#ff5000 438.5px,#ff8400 476.5px,#ffbb00 496.5px,#ffed00 509.5px,#fffe00 512.5px,#ffff39 517.5px,#ffff9f 524.5px,#ffffc9 528.5px,#ffffd1 530px)"></i><i style="left:44px;background:linear-gradient(#190000 0px,#3a0000 129.5px,#a30000 227.5px,#fe0000 309.5px,#ff5100 438.5px,#ff8400 476.5px,#ffb800 496.5px,#ffec00 510.5px,#fffd00 513.5px,#ffff13 515.5px,#ffff45 519.5px,#ffff9f 525.5px,#ffffc6 530px)"></i><i style="left:46px;background:linear-gradient(#190000 0px,#3b0000 129.5px,#a20000 226.5px,#ff0000 309.5px,#ff4200 416.5px,#ff5100 437.5px,#ff8200 475.5px,#ffb900 497.5px,#ffeb00 511.5px,#fffb00 514.5px,#ffff04 515.5px,#ffff33 519.5px,#ffff9d 526.5px,#ffffb9 530px)"></i><i style="left:48px;background:linear-gradient(#190000 0px,#3b0000 129.5px,#a30000 226.5px,#ff0000 309.5px,#ff3f00 410.5px,#ff5100 436.5px,#ff8300 475.5px,#ffba00 498.5px,#ffe800 512.5px,#ffff00 516.5px,#ffff3c 521.5px,#ffff8a 526.5px,#ffffaa 530px)"></i><i style="left:50px;background:linear-gradient(#190000 0px,#3a0000 128.5px,#a20000 225.5px,#ff0000 308.5px,#ff4300 415.5px,#ff5200 436.5px,#ff8300 475.5px,#ffba00 499.5px,#ffeb00 514.5px,#fffc00 517.5px,#ffff05 518.5px,#ffff44 523.5px,#ffff96 530px)"></i><i style="left:52px;background:linear-gradient(#190000 0px,#3a0000 128.5px,#a10000 224.5px,#ff0000 308.5px,#ff3f00 408.5px,#ff5200 435.5px,#ff8400 475.5px,#ffba00 500.5px,#ffe800 515.5px,#fffe00 519.5px,#ffff3a 524.5px,#ffff7a 530px)"></i><i style="left:54px;background:linear-gradient(#190000 0px,#3b0000 128.5px,#a10000 224.5px,#ff0100 308.5px,#ff4000 409.5px,#ff5200 434.5px,#ff8500 475.5px,#ffbb00 501.5px,#ffe900 517.5px,#ffff01 521.5px,#ffff5e 530px)"></i><i style="left:56px;background:linear-gradient(#190000 0px,#3a0000 127.5px,#a00000 223.5px,#ff0000 307.5px,#ff4000 408.5px,#ff5200 433.5px,#ff8600 475.5px,#ffbc00 502.5px,#ffe700 518.5px,#ffff03 523.5px,#ffff44 530px)"></i><i style="left:58px;background:linear-gradient(#190000 0px,#3a0000 127.5px,#9f0000 222.5px,#ff0100 307.5px,#ff4200 410.5px,#ff5200 432.5px,#ff8500 474.5px,#ffbc00 503.5px,#ffe800 520.5px,#ffff00 525.5px,#ffff26 530px)"></i><i style="left:60px;background:linear-gradient(#190000 0px,#3b0000 127.5px,#a00000 222.5px,#ff0000 306.5px,#ff4200 409.5px,#ff5300 431.5px,#ff8600 474.5px,#ffbf00 505.5px,#ffea00 523.5px,#fffd00 528.5px,#ffff05 530px)"></i><i style="left:62px;background:linear-gradient(#190000 0px,#3a0000 126.5px,#9f0000 221.5px,#ff0100 306.5px,#ff4500 412.5px,#ff5400 431.5px,#ff8700 474.5px,#ffc900 511.5px,#ffeb00 527.5px,#fff100 530px)"></i><i style="left:64px;background:linear-gradient(#190000 0px,#3b0000 126.5px,#9e0000 220.5px,#ff0100 306.5px,#ff4800 415.5px,#ff5a00 435.5px,#ff8700 473.5px,#ffe300 530px)"></i><i style="left:66px;background:linear-gradient(#190000 0px,#3b0000 126.5px,#9e0000 220.5px,#ff0100 305.5px,#ff4700 413.5px,#ff5900 433.5px,#ff8900 473.5px,#ffc000 510.5px,#ffd900 530px)"></i><i style="left:68px;background:linear-gradient(#190000 0px,#3a0000 125.5px,#9d0000 219.5px,#ff0100 305.5px,#ff4900 415.5px,#ff8300 468.5px,#ffbf00 509.5px,#ffd800 530px)"></i><i style="left:70px;background:linear-gradient(#190000 0px,#3b0000 125.5px,#9d0000 218.5px,#ff0100 304.5px,#ff4900 413.5px,#ff7900 459.5px,#ffe100 530px)"></i><i style="left:72px;background:linear-gradient(#190000 0px,#3b0000 125.5px,#9d0000 218.5px,#ff0100 304.5px,#ff5200 422.5px,#ff8a00 470.5px,#ffce00 514.5px,#ffe800 528.5px,#ffec00 530px)"></i><i style="left:74px;background:linear-gradient(#190000 0px,#3a0000 124.5px,#9c0000 217.5px,#ff0100 303.5px,#ff5300 421.5px,#ff8a00 469.5px,#ffc200 505.5px,#ffe800 525.5px,#fff700 530px)"></i><i style="left:76px;background:linear-gradient(#190000 0px,#3b0000 124.5px,#9d0000 217.5px,#ff0100 303.5px,#ff5200 419.5px,#ff8a00 467.5px,#ffbe00 501.5px,#ffe700 522.5px,#fffe00 528.5px,#ffff07 530px)"></i><i style="left:78px;background:linear-gradient(#190000 0px,#3a0000 123.5px,#9c0000 216.5px,#ff0100 302.5px,#ff5300 418.5px,#ff8a00 466.5px,#ffbb00 498.5px,#ffe900 520.5px,#fffd00 525.5px,#ffff17 528.5px,#ffff1f 530px)"></i><i style="left:80px;background:linear-gradient(#190000 0px,#3b0000 123.5px,#9b0000 215.5px,#ff0100 301.5px,#ff5200 416.5px,#ff8b00 465.5px,#ffba00 496.5px,#ffe700 517.5px,#ffff02 523.5px,#ffff39 530px)"></i><i style="left:82px;background:linear-gradient(#190000 0px,#3b0000 123.5px,#9b0000 215.5px,#ff0100 301.5px,#ff5200 414.5px,#ff8b00 463.5px,#ffb900 494.5px,#ffe800 515.5px,#fffd00 520.5px,#ffff0d 522.5px,#ffff3c 527.5px,#ffff53 530px)"></i><i style="left:84px;background:linear-gradient(#190000 0px,#3a0000 122.5px,#9b0000 214.5px,#ff0100 300.5px,#ff5200 413.5px,#ff8c00 462.5px,#ffb900 492.5px,#ffe900 513.5px,#fffe00 518.5px,#ffff29 523.5px,#ffff62 528.5px,#ffff6e 530px)"></i><i style="left:86px;background:linear-gradient(#190000 0px,#3b0000 122.5px,#9b0000 214.5px,#ff0100 300.5px,#ff5200 411.5px,#ff8d00 461.5px,#ffb800 490.5px,#ffea00 511.5px,#fffe00 516.5px,#ffff33 522.5px,#ffff88 530px)"></i><i style="left:88px;background:linear-gradient(#190000 0px,#3a0000 121.5px,#9a0000 213.5px,#ff0100 299.5px,#ff5300 410.5px,#ff8e00 460.5px,#ffb800 488.5px,#ffea00 509.5px,#ffff00 514.5px,#ffff33 520.5px,#ffff9d 530px)"></i><i style="left:90px;background:linear-gradient(#190000 0px,#3b0000 121.5px,#990000 212.5px,#ff0100 298.5px,#ff5200 408.5px,#ff9100 460.5px,#ffb700 486.5px,#ffea00 507.5px,#ffff00 512.5px,#ffff3c 519.5px,#ffffa1 528.5px,#ffffab 530px)"></i><i style="left:92px;background:linear-gradient(#190000 0px,#3a0000 120.5px,#9a0000 212.5px,#ff0100 298.5px,#ff5300 407.5px,#ff9400 460.5px,#ffb700 484.5px,#ffea00 505.5px,#ffff00 510.5px,#ffff3a 517.5px,#ffffad 528.5px,#ffffb6 530px)"></i><i style="left:94px;background:linear-gradient(#190000 0px,#3b0000 120.5px,#990000 211.5px,#ff0100 297.5px,#ff5200 405.5px,#ff9800 461.5px,#ffb900 483.5px,#ffea00 503.5px,#fffe00 508.5px,#ffff42 516.5px,#ffffc1 530px)"></i><i style="left:96px;background:linear-gradient(#190000 0px,#3b0000 120.5px,#9a0000 211.5px,#ff0100 296.5px,#ff5200 404.5px,#ffa000 465.5px,#ffb900 481.5px,#ffea00 501.5px,#fffe00 506.5px,#ffff2e 512.5px,#ffffcb 530px)"></i><i style="left:98px;background:linear-gradient(#190000 0px,#3a0000 119.5px,#990000 210.5px,#ff0100 296.5px,#ff5200 402.5px,#ffab00 471.5px,#ffbd00 481.5px,#ffea00 499.5px,#fffd00 504.5px,#ffff0c 506.5px,#ffff57 515.5px,#ffffd3 530px)"></i><i style="left:100px;background:linear-gradient(#190000 0px,#3b0000 119.5px,#980000 209.5px,#ff0100 295.5px,#ff5200 401.5px,#ffb200 474.5px,#ffea00 497.5px,#ffff02 503.5px,#ffff5b 514.5px,#ffffda 530px)"></i><i style="left:102px;background:linear-gradient(#190000 0px,#3a0000 118.5px,#990000 209.5px,#ff0100 295.5px,#ff5100 399.5px,#ffb400 473.5px,#ffed00 496.5px,#ffff01 501.5px,#ffff67 514.5px,#ffffd8 528.5px,#ffffde 530px)"></i><i style="left:104px;background:linear-gradient(#190000 0px,#3b0000 118.5px,#980000 208.5px,#ff0100 294.5px,#ff5200 398.5px,#ffb500 472.5px,#ffec00 494.5px,#fffe00 499.5px,#ffff5a 511.5px,#ffffd7 527.5px,#ffffe3 530px)"></i><i style="left:106px;background:linear-gradient(#190000 0px,#3a0000 117.5px,#980000 208.5px,#ff0100 293.5px,#ff5100 396.5px,#ffb700 471.5px,#ffeb00 492.5px,#fffd00 497.5px,#ffff0b 499.5px,#ffffd6 526.5px,#ffffe7 530px)"></i><i style="left:108px;background:linear-gradient(#190000 0px,#3b0000 117.5px,#980000 207.5px,#ff0100 293.5px,#ff5100 395.5px,#ffb700 469.5px,#ffeb00 490.5px,#ffff01 496.5px,#ffffa3 518.5px,#ffffe1 527.5px,#ffffeb 530px)"></i><i style="left:110px;background:linear-gradient(#190000 0px,#3a0000 116.5px,#970000 206.5px,#ff0100 292.5px,#ff5200 394.5px,#ffb700 467.5px,#ffed00 489.5px,#fffe00 494.5px,#ffff71 510.5px,#ffffdb 525.5px,#ffffef 530px)"></i><i style="left:112px;background:linear-gradient(#190000 0px,#3b0000 116.5px,#980000 206.5px,#fe0000 289.5px,#ff5100 392.5px,#ffb600 465.5px,#ffec00 487.5px,#fffd00 492.5px,#ffff0a 494.5px,#ffffdb 524.5px,#fffff3 530px)"></i><i style="left:114px;background:linear-gradient(#190000 0px,#3b0000 115.5px,#970000 205.5px,#fb0000 286.5px,#ff0300 293.5px,#ff5100 391.5px,#ffb600 463.5px,#ffee00 486.5px,#ffff00 491.5px,#ffffdb 523.5px,#fffff3 528.5px,#fffff7 530px)"></i><i style="left:116px;background:linear-gradient(#190000 0px,#3b0000 115.5px,#970000 205.5px,#f90000 284.5px,#ff0200 291.5px,#ff5200 390.5px,#ffb800 462.5px,#ffed00 484.5px,#fffd00 489.5px,#ffff0a 491.5px,#ffffda 522.5px,#fffff6 528.5px,#fffff9 530px)"></i><i style="left:118px;background:linear-gradient(#190000 0px,#3b0000 114.5px,#970000 204.5px,#f70000 282.5px,#ff0200 290.5px,#ff5100 388.5px,#ffb800 460.5px,#ffeb00 482.5px,#ffff00 488.5px,#ffffd8 521.5px,#fffff5 527.5px,#fffffa 530px)"></i><i style="left:120px;background:linear-gradient(#190000 0px,#3b0000 114.5px,#960000 203.5px,#f50000 280.5px,#ff0100 289.5px,#ff5100 387.5px,#ffb700 458.5px,#ffec00 481.5px,#fffd00 486.5px,#ffff0a 488.5px,#ffffd7 520.5px,#fffff3 526.5px,#fffffb 530px)"></i><i style="left:122px;background:linear-gradient(#190000 0px,#3b0000 113.5px,#970000 203.5px,#f30000 278.5px,#ff0100 288.5px,#ff5100 386.5px,#ffb900 457.5px,#ffeb00 479.5px,#ffff00 485.5px,#ffffa6 511.5px,#ffffe5 522.5px,#fffffa 528.5px,#fffffc 530px)"></i><i style="left:124px;background:linear-gradient(#190000 0px,#3a0000 112.5px,#960000 202.5px,#f10000 276.5px,#ff0200 288.5px,#ff5200 385.5px,#ffb900 455.5px,#ffec00 478.5px,#ffff02 484.5px,#ffff57 497.5px,#ffffda 519.5px,#fffff6 526.5px,#fffffc 530px)"></i><i style="left:126px;background:linear-gradient(#190000 0px,#3b0000 112.5px,#950000 201.5px,#f10000 275.5px,#ff0100 287.5px,#ff5000 383.5px,#ffba00 454.5px,#ffea00 476.5px,#fffe00 482.5px,#ffff53 495.5px,#ffffd9 518.5px,#fffff5 525.5px,#fffffd 530px)"></i><i style="left:128px;background:linear-gradient(#190000 0px,#3a0000 111.5px,#960000 201.5px,#ef0000 273.5px,#ff0100 286.5px,#ff5100 382.5px,#ffb900 452.5px,#ffeb00 475.5px,#ffff01 481.5px,#ffff43 491.5px,#ffffd7 517.5px,#fffff4 524.5px,#fffffd 530px)"></i><i style="left:130px;background:linear-gradient(#190000 0px,#3b0000 111.5px,#950000 200.5px,#ef0000 272.5px,#ff0100 285.5px,#ff5100 381.5px,#ffbb00 451.5px,#ffe800 473.5px,#fffd00 479.5px,#ffff12 482.5px,#ffff45 490.5px,#ffffda 517.5px,#fffff5 524.5px,#fffffe 530px)"></i><i style="left:132px;background:linear-gradient(#190000 0px,#3b0000 110.5px,#960000 200.5px,#ee0000 271.5px,#ff0100 285.5px,#ff5100 380.5px,#ffbc00 450.5px,#ffe900 472.5px,#ffff00 478.5px,#ffff3c 487.5px,#ffffd9 516.5px,#fffff3 523.5px,#fffffe 530px)"></i><i style="left:134px;background:linear-gradient(#190000 0px,#3b0000 110.5px,#950000 199.5px,#ed0000 270.5px,#ff0100 284.5px,#ff5100 379.5px,#ffbd00 449.5px,#ffea00 471.5px,#ffff02 477.5px,#ffff39 485.5px,#ffffd7 515.5px,#fffff5 523.5px,#fffffe 530px)"></i><i style="left:136px;background:linear-gradient(#190000 0px,#3b0000 109.5px,#950000 198.5px,#ed0000 269.5px,#ff0100 283.5px,#ff5100 378.5px,#ffbc00 447.5px,#ffe800 469.5px,#fffd00 475.5px,#ffff13 478.5px,#ffff3b 484.5px,#ffffda 515.5px,#fffff6 523.5px,#fffffe 530px)"></i><i style="left:138px;background:linear-gradient(#190000 0px,#3a0000 108.5px,#960000 198.5px,#ec0000 268.5px,#ff0100 283.5px,#ff5100 377.5px,#ffbd00 446.5px,#ffe900 468.5px,#ffff00 474.5px,#ffff38 482.5px,#ffffd8 514.5px,#fffff4 522.5px,#fffffe 530px)"></i><i style="left:140px;background:linear-gradient(#190000 0px,#3b0000 108.5px,#950000 197.5px,#ec0000 267.5px,#ff0100 282.5px,#ff5200 376.5px,#ffbe00 445.5px,#ffea00 467.5px,#ffff01 473.5px,#ffff39 481.5px,#ffffd7 513.5px,#fffff3 521.5px,#fffffe 528.5px,#fffffe 530px)"></i><i style="left:142px;background:linear-gradient(#190000 0px,#3b0000 107.5px,#940000 196.5px,#eb0000 266.5px,#ff0100 281.5px,#ff5000 374.5px,#ffc000 445.5px,#ffea00 466.5px,#fffd00 471.5px,#ffff0b 473.5px,#ffff36 479.5px,#ffffd5 512.5px,#fffff4 521.5px,#fffffe 530px)"></i><i style="left:144px;background:linear-gradient(#190000 0px,#3b0000 107.5px,#950000 196.5px,#eb0000 265.5px,#ff0100 281.5px,#ff5000 373.5px,#ffc100 444.5px,#ffe800 464.5px,#fffe00 470.5px,#ffff37 478.5px,#ffffd8 512.5px,#fffff5 521.5px,#ffffff 530px)"></i><i style="left:146px;background:linear-gradient(#190000 0px,#3b0000 106.5px,#950000 195.5px,#ea0000 264.5px,#ff0100 280.5px,#ff5000 372.5px,#ffc200 443.5px,#ffe800 463.5px,#ffff00 469.5px,#ffff38 477.5px,#ffffd7 511.5px,#fffff4 520.5px,#fffffe 528.5px,#ffffff 530px)"></i><i style="left:148px;background:linear-gradient(#190000 0px,#3b0000 105.5px,#950000 195.5px,#ea0000 263.5px,#ff0100 279.5px,#ff5000 371.5px,#ffc200 442.5px,#ffe900 462.5px,#ffff01 468.5px,#ffff34 475.5px,#ffffd5 510.5px,#fffff3 519.5px,#fffffe 527.5px,#ffffff 530px)"></i><i style="left:150px;background:linear-gradient(#190000 0px,#3b0000 105.5px,#950000 194.5px,#e90000 262.5px,#ff0100 279.5px,#ff5100 370.5px,#ffc400 442.5px,#ffe900 461.5px,#ffff02 467.5px,#ffff35 474.5px,#ffffd4 509.5px,#fffff2 518.5px,#fffffe 526.5px,#ffffff 530px)"></i><i style="left:152px;background:linear-gradient(#190000 0px,#3b0000 104.5px,#940000 193.5px,#e90000 261.5px,#ff0100 278.5px,#ff5100 369.5px,#ffc500 441.5px,#ffea00 460.5px,#fffd00 465.5px,#ffff0b 467.5px,#ffff36 473.5px,#ffffd3 508.5px,#fffff3 518.5px,#fffffe 526.5px,#ffffff 530px)"></i><i style="left:154px;background:linear-gradient(#190000 0px,#3a0000 103.5px,#950000 193.5px,#e80000 260.5px,#ff0100 277.5px,#ff5100 368.5px,#ffc500 440.5px,#ffea00 459.5px,#fffd00 464.5px,#ffff0c 466.5px,#ffff36 472.5px,#ffffd2 507.5px,#fffff2 517.5px,#fffffe 526.5px,#ffffff 530px)"></i><i style="left:156px;background:linear-gradient(#190000 0px,#3b0000 103.5px,#940000 192.5px,#e70000 259.5px,#ff0100 277.5px,#ff5100 367.5px,#ffc700 440.5px,#ffe700 457.5px,#fffe00 463.5px,#ffff23 468.5px,#ffff3b 472.5px,#ffffd4 507.5px,#fffff3 517.5px,#fffffe 526.5px,#ffffff 530px)"></i><i style="left:158px;background:linear-gradient(#190000 0px,#3b0000 102.5px,#940000 191.5px,#e80000 259.5px,#ff0100 276.5px,#ff5100 366.5px,#ffc800 439.5px,#ffe800 456.5px,#fffe00 462.5px,#ffff37 470.5px,#ffffd3 506.5px,#fffff2 516.5px,#fffffe 525.5px,#ffffff 530px)"></i><i style="left:160px;background:linear-gradient(#190000 0px,#3b0000 102.5px,#940000 191.5px,#e80000 258.5px,#ff0100 275.5px,#ff5100 365.5px,#ffc800 438.5px,#ffe800 455.5px,#fffe00 461.5px,#ffff37 469.5px,#ffffd2 505.5px,#fffff1 515.5px,#fffffe 524.5px,#ffffff 530px)"></i><i style="left:162px;background:linear-gradient(#190000 0px,#3b0000 101.5px,#940000 190.5px,#e70000 257.5px,#ff0100 275.5px,#ff5100 364.5px,#ffc800 437.5px,#ffe800 454.5px,#fffe00 460.5px,#ffff37 468.5px,#ffffd1 504.5px,#fffff2 515.5px,#fffffe 524.5px,#ffffff 530px)"></i><i style="left:164px;background:linear-gradient(#190000 0px,#3b0000 100.5px,#950000 190.5px,#e70000 256.5px,#ff0100 274.5px,#ff5100 363.5px,#ffc600 435.5px,#ffe800 453.5px,#fffe00 459.5px,#ffff37 467.5px,#ffffd0 503.5px,#fffff1 514.5px,#fffffd 523.5px,#ffffff 530px)"></i><i style="left:166px;background:linear-gradient(#190000 0px,#3b0000 100.5px,#940000 189.5px,#e70000 256.5px,#ff0100 274.5px,#ff5100 362.5px,#ffc100 431.5px,#ffe900 452.5px,#fffe00 458.5px,#ffff36 466.5px,#ffffcf 502.5px,#fffff1 513.5px,#fffffd 522.5px,#ffffff 530px)"></i><i style="left:168px;background:linear-gradient(#190000 0px,#3b0000 99.5px,#940000 188.5px,#e70000 255.5px,#ff0100 273.5px,#ff5200 362.5px,#ffbd00 428.5px,#ffe900 451.5px,#fffe00 457.5px,#ffff36 465.5px,#ffffcb 500.5px,#ffffed 511.5px,#fffffd 521.5px,#ffffff 530px)"></i><i style="left:170px;background:linear-gradient(#190000 0px,#3b0000 98.5px,#940000 188.5px,#e60000 254.5px,#ff0100 272.5px,#ff5200 361.5px,#ffb700 424.5px,#ffe900 450.5px,#fffe00 456.5px,#ffff35 464.5px,#ffffca 499.5px,#ffffec 510.5px,#fffffc 520.5px,#ffffff 530px)"></i><i style="left:172px;background:linear-gradient(#190000 0px,#3b0000 98.5px,#940000 187.5px,#e70000 254.5px,#ff0100 272.5px,#ff5200 360.5px,#ffb300 421.5px,#ffe900 449.5px,#fffe00 455.5px,#ffff35 463.5px,#ffffc9 498.5px,#ffffee 510.5px,#fffffd 520.5px,#ffffff 530px)"></i><i style="left:174px;background:linear-gradient(#190000 0px,#3b0000 97.5px,#950000 187.5px,#e60000 253.5px,#ff0100 271.5px,#ff5200 359.5px,#ffac00 416.5px,#ffe900 448.5px,#fffe00 454.5px,#ffff19 458.5px,#ffff38 463.5px,#ffffc8 497.5px,#ffffed 509.5px,#fffffc 519.5px,#ffffff 530px)"></i><i style="left:176px;background:linear-gradient(#190000 0px,#3b0000 96.5px,#940000 186.5px,#e60000 252.5px,#ff0100 271.5px,#ff5200 358.5px,#ffa500 411.5px,#ffe900 447.5px,#fffd00 453.5px,#ffff0a 455.5px,#ffff37 462.5px,#ffffc7 496.5px,#ffffec 508.5px,#fffffc 518.5px,#ffffff 530px)"></i><i style="left:178px;background:linear-gradient(#190000 0px,#3b0000 96.5px,#940000 185.5px,#e70000 252.5px,#ff0100 270.5px,#ff5200 357.5px,#ff9e00 406.5px,#ffe600 445.5px,#ffff02 453.5px,#ffff36 461.5px,#ffffc6 495.5px,#ffffec 507.5px,#fffffc 517.5px,#ffffff 530px)"></i><i style="left:180px;background:linear-gradient(#190000 0px,#3b0000 95.5px,#950000 185.5px,#e60000 251.5px,#ff0100 269.5px,#ff5200 356.5px,#ff9a00 403.5px,#ffe100 442.5px,#ffff00 452.5px,#ffff34 460.5px,#ffffc5 494.5px,#ffffeb 506.5px,#fffffb 516.5px,#ffffff 530px)"></i><i style="left:182px;background:linear-gradient(#190000 0px,#3b0000 94.5px,#940000 184.5px,#e60000 250.5px,#ff0100 269.5px,#ff5200 355.5px,#ff9800 401.5px,#ffd900 437.5px,#ffee00 446.5px,#fffe00 451.5px,#ffff37 460.5px,#ffffc4 493.5px,#ffffea 505.5px,#fffffb 515.5px,#ffffff 530px)"></i><i style="left:184px;background:linear-gradient(#190000 0px,#3c0000 94.5px,#940000 183.5px,#e60000 250.5px,#ff0100 268.5px,#ff5300 355.5px,#ff9600 399.5px,#ffd300 433.5px,#ffeb00 444.5px,#fffe00 450.5px,#ffff16 454.5px,#ffff39 460.5px,#ffffc3 492.5px,#ffffe9 504.5px,#fffffa 514.5px,#ffffff 530px)"></i><i style="left:186px;background:linear-gradient(#190000 0px,#3b0000 93.5px,#950000 183.5px,#e60000 249.5px,#ff0100 268.5px,#ff5300 354.5px,#ff9300 397.5px,#ffcf00 430.5px,#ffed00 444.5px,#ffff01 450.5px,#ffff37 459.5px,#ffffc2 491.5px,#ffffe8 503.5px,#fffffb 514.5px,#ffffff 530px)"></i><i style="left:188px;background:linear-gradient(#190000 0px,#3b0000 92.5px,#940000 182.5px,#e50000 248.5px,#ff0100 267.5px,#ff5300 353.5px,#ff9300 396.5px,#ffcf00 429.5px,#ffed00 443.5px,#ffff00 449.5px,#ffff3a 459.5px,#ffffc1 490.5px,#ffffe8 502.5px,#fffffb 513.5px,#ffffff 530px)"></i><i style="left:190px;background:linear-gradient(#190000 0px,#3b0000 91.5px,#940000 181.5px,#e60000 248.5px,#ff0200 267.5px,#ff5300 352.5px,#ff9100 394.5px,#ffca00 426.5px,#ffec00 442.5px,#fffe00 448.5px,#ffff3c 459.5px,#ffffc0 489.5px,#ffffe7 501.5px,#fffffa 512.5px,#ffffff 530px)"></i><i style="left:192px;background:linear-gradient(#190000 0px,#3c0000 91.5px,#950000 181.5px,#e60000 247.5px,#ff0100 266.5px,#ff5200 351.5px,#ff9000 393.5px,#ffca00 425.5px,#ffee00 442.5px,#ffff01 448.5px,#ffff39 458.5px,#ffffbf 488.5px,#ffffe6 500.5px,#fffffa 511.5px,#ffffff 527.5px,#ffffff 530px)"></i><i style="left:194px;background:linear-gradient(#190000 0px,#3b0000 90.5px,#950000 180.5px,#e70000 247.5px,#ff0100 265.5px,#ff5400 351.5px,#ff9000 392.5px,#ffc900 424.5px,#ffee00 441.5px,#ffff00 447.5px,#ffff3c 458.5px,#ffffc1 488.5px,#ffffe8 500.5px,#fffffa 511.5px,#ffffff 530px)"></i><i style="left:196px;background:linear-gradient(#190000 0px,#3b0000 89.5px,#940000 179.5px,#e60000 246.5px,#ff0100 265.5px,#ff5400 350.5px,#ff8f00 391.5px,#ffc700 422.5px,#fff000 441.5px,#fffe00 446.5px,#ffff25 453.5px,#ffff7a 471.5px,#ffffc8 489.5px,#ffffe9 500.5px,#fffffb 511.5px,#ffffff 530px)"></i><i style="left:198px;background:linear-gradient(#190000 0px,#3b0000 88.5px,#950000 179.5px,#e60000 245.5px,#ff0100 264.5px,#ff5300 349.5px,#ff8e00 390.5px,#ffc600 421.5px,#ffef00 440.5px,#ffff01 446.5px,#ffff41 458.5px,#ffffbf 486.5px,#ffffe6 498.5px,#fffff9 509.5px,#ffffff 525.5px,#ffffff 530px)"></i><i style="left:200px;background:linear-gradient(#190000 0px,#3b0000 87.5px,#950000 178.5px,#e60000 245.5px,#ff0100 263.5px,#ff5300 348.5px,#ff8e00 389.5px,#ffc500 420.5px,#fff100 440.5px,#ffff00 445.5px,#ffff48 459.5px,#ffffbd 485.5px,#ffffe5 497.5px,#fffff9 508.5px,#ffffff 524.5px,#ffffff 530px)"></i><i style="left:202px;background:linear-gradient(#190000 0px,#3c0000 87.5px,#950000 177.5px,#e60000 244.5px,#ff0100 263.5px,#ff5400 348.5px,#ff8d00 388.5px,#ffc300 418.5px,#fff000 439.5px,#ffff03 445.5px,#ffff4a 459.5px,#ffffc0 485.5px,#ffffe6 497.5px,#fffff9 508.5px,#ffffff 525.5px,#ffffff 530px)"></i><i style="left:204px;background:linear-gradient(#190000 0px,#3c0000 86.5px,#960000 177.5px,#e60000 243.5px,#ff0100 262.5px,#ff5400 347.5px,#ff8d00 387.5px,#ffc200 417.5px,#fff200 439.5px,#ffff00 444.5px,#ffff4c 459.5px,#ffffbe 484.5px,#ffffe5 496.5px,#fffff9 507.5px,#ffffff 523.5px,#ffffff 530px)"></i><i style="left:206px;background:linear-gradient(#190000 0px,#3c0000 85.5px,#950000 176.5px,#e70000 243.5px,#ff0200 262.5px,#ff5400 346.5px,#ff8c00 386.5px,#ffc300 417.5px,#fff400 439.5px,#fffe00 443.5px,#ffff79 468.5px,#ffffc4 485.5px,#ffffe7 496.5px,#fffffa 507.5px,#ffffff 524.5px,#ffffff 530px)"></i><i style="left:208px;background:linear-gradient(#190000 0px,#3c0000 84.5px,#950000 175.5px,#e60000 242.5px,#ff0100 261.5px,#ff5500 346.5px,#ff8b00 385.5px,#ffc000 415.5px,#fff300 438.5px,#ffff01 443.5px,#ffff64 463.5px,#ffffbf 483.5px,#ffffe6 495.5px,#fffff9 506.5px,#ffffff 522.5px,#ffffff 530px)"></i><i style="left:210px;background:linear-gradient(#190000 0px,#3b0000 83.5px,#950000 174.5px,#e60000 241.5px,#ff0100 260.5px,#ff5300 344.5px,#ff8c00 385.5px,#ffc200 415.5px,#fff400 438.5px,#ffff00 442.5px,#ffffa8 477.5px,#ffffd7 489.5px,#fffff2 500.5px,#fffffd 512.5px,#ffffff 530px)"></i><i style="left:212px;background:linear-gradient(#190000 0px,#3b0000 82.5px,#950000 173.5px,#e50000 240.5px,#ff0100 259.5px,#ff5300 343.5px,#ff8c00 384.5px,#ffc100 414.5px,#fff600 438.5px,#ffff02 442.5px,#ffffab 477.5px,#ffffd8 489.5px,#fffff2 500.5px,#fffffe 512.5px,#ffffff 530px)"></i><i style="left:214px;background:linear-gradient(#190000 0px,#3b0000 81.5px,#960000 173.5px,#e60000 240.5px,#ff0100 259.5px,#ff5300 342.5px,#ff8b00 383.5px,#ffc000 413.5px,#fff700 438.5px,#ffff00 441.5px,#ffffb6 479.5px,#ffffe0 491.5px,#fffff6 502.5px,#ffffff 516.5px,#ffffff 530px)"></i><i style="left:216px;background:linear-gradient(#190000 0px,#3b0000 80.5px,#960000 172.5px,#e60000 239.5px,#ff0100 258.5px,#ff5300 341.5px,#ff8c00 383.5px,#ffbf00 412.5px,#fffb00 439.5px,#ffff02 441.5px,#ffffb8 479.5px,#ffffdf 490.5px,#fffff6 501.5px,#ffffff 515.5px,#ffffff 530px)"></i><i style="left:218px;background:linear-gradient(#190000 0px,#3b0000 79.5px,#960000 171.5px,#e60000 238.5px,#ff0100 257.5px,#ff5100 339.5px,#ff8c00 382.5px,#ffc100 412.5px,#fffc00 439.5px,#ffff04 441.5px,#ffffba 479.5px,#ffffe0 490.5px,#fffff6 501.5px,#ffffff 515.5px,#ffffff 530px)"></i><i style="left:220px;background:linear-gradient(#190000 0px,#3b0000 78.5px,#950000 170.5px,#e50000 237.5px,#ff0100 257.5px,#ff5100 338.5px,#ff8c00 381.5px,#ffc000 411.5px,#ffff01 440.5px,#ffffb8 478.5px,#ffffdf 489.5px,#fffff5 500.5px,#ffffff 514.5px,#ffffff 530px)"></i><i style="left:222px;background:linear-gradient(#190000 0px,#3c0000 78.5px,#960000 170.5px,#e50000 236.5px,#ff0100 256.5px,#ff5000 337.5px,#ff8d00 381.5px,#ffc100 411.5px,#fffe00 439.5px,#ffffba 478.5px,#ffffe0 489.5px,#fffff6 500.5px,#ffffff 514.5px,#ffffff 530px)"></i><i style="left:224px;background:linear-gradient(#190000 0px,#3c0000 77.5px,#960000 169.5px,#e60000 236.5px,#ff0100 255.5px,#ff5000 336.5px,#ff8e00 381.5px,#ffc000 410.5px,#fffd00 438.5px,#ffff00 439.5px,#ffffbb 478.5px,#ffffe1 489.5px,#fffff7 500.5px,#ffffff 515.5px,#ffffff 530px)"></i><i style="left:226px;background:linear-gradient(#190000 0px,#3c0000 76.5px,#960000 168.5px,#e60000 235.5px,#ff0100 254.5px,#ff4f00 334.5px,#ff8e00 380.5px,#ffbf00 409.5px,#ffff01 439.5px,#ffffb9 477.5px,#ffffdf 488.5px,#fffff6 499.5px,#ffffff 513.5px,#ffffff 530px)"></i><i style="left:228px;background:linear-gradient(#190000 0px,#3d0000 75.5px,#960000 167.5px,#e50000 234.5px,#ff0200 254.5px,#ff5000 334.5px,#ff8f00 380.5px,#ffc000 409.5px,#fffe00 438.5px,#ffff5f 458.5px,#ffffba 477.5px,#ffffe0 488.5px,#fffff6 499.5px,#ffffff 513.5px,#ffffff 530px)"></i><i style="left:230px;background:linear-gradient(#190000 0px,#3d0000 74.5px,#960000 166.5px,#e50000 233.5px,#ff0100 253.5px,#ff4f00 333.5px,#ff9000 380.5px,#ffc100 409.5px,#fffc00 437.5px,#ffff04 439.5px,#ffffbb 477.5px,#ffffe1 488.5px,#fffff6 499.5px,#ffffff 514.5px,#ffffff 530px)"></i><i style="left:232px;background:linear-gradient(#190000 0px,#3d0000 73.5px,#960000 165.5px,#e50000 232.5px,#ff0100 252.5px,#ff4e00 331.5px,#ff9100 380.5px,#ffc000 408.5px,#fffb00 436.5px,#ffff01 438.5px,#ffffbc 477.5px,#ffffe2 488.5px,#fffff7 499.5px,#ffffff 514.5px,#ffffff 530px)"></i><i style="left:234px;background:linear-gradient(#190000 0px,#3c0000 71.5px,#960000 164.5px,#e50000 231.5px,#ff0100 251.5px,#ff4d00 330.5px,#ff9200 380.5px,#ffc000 408.5px,#fffb00 436.5px,#ffff02 438.5px,#ffffb9 476.5px,#ffffdf 487.5px,#fffff6 498.5px,#fffffe 512.5px,#ffffff 530px)"></i><i style="left:236px;background:linear-gradient(#190000 0px,#3c0000 70.5px,#960000 163.5px,#e50000 230.5px,#ff0100 250.5px,#ff4d00 329.5px,#ff9300 380.5px,#ffbf00 407.5px,#fff900 435.5px,#ffff03 438.5px,#ffffba 476.5px,#ffffe0 487.5px,#fffff6 498.5px,#ffffff 512.5px,#ffffff 530px)"></i><i style="left:238px;background:linear-gradient(#190000 0px,#3c0000 69.5px,#960000 162.5px,#e40000 229.5px,#ff0100 249.5px,#ff4d00 328.5px,#ff9400 380.5px,#ffc000 407.5px,#fffa00 435.5px,#ffff00 437.5px,#ffff69 459.5px,#ffffbe 477.5px,#ffffe3 488.5px,#fffff7 499.5px,#ffffff 514.5px,#ffffff 530px)"></i><i style="left:240px;background:linear-gradient(#190000 0px,#3c0000 68.5px,#960000 161.5px,#e40000 228.5px,#ff0100 249.5px,#ff4e00 328.5px,#ff9400 380.5px,#ffbe00 406.5px,#fffa00 435.5px,#ffff00 437.5px,#ffff91 467.5px,#ffffc6 479.5px,#ffffe8 490.5px,#fffff9 501.5px,#ffffff 519.5px,#ffffff 530px)"></i><i style="left:242px;background:linear-gradient(#190000 0px,#3d0000 67.5px,#960000 160.5px,#e40000 227.5px,#ff0100 248.5px,#ff4e00 327.5px,#ff9500 380.5px,#ffbf00 406.5px,#fffb00 435.5px,#ffff01 437.5px,#ffffba 476.5px,#ffffe0 487.5px,#fffff6 498.5px,#fffffe 512.5px,#ffffff 530px)"></i><i style="left:244px;background:linear-gradient(#190000 0px,#3d0000 66.5px,#960000 159.5px,#e50000 227.5px,#ff0100 247.5px,#ff4d00 326.5px,#ff9400 379.5px,#ffbe00 405.5px,#fff900 434.5px,#ffff01 437.5px,#ffffba 476.5px,#ffffe0 487.5px,#fffff6 498.5px,#fffffe 512.5px,#ffffff 530px)"></i><i style="left:246px;background:linear-gradient(#190000 0px,#3d0000 65.5px,#960000 158.5px,#e50000 226.5px,#ff0100 246.5px,#ff4d00 325.5px,#ff9500 379.5px,#ffbe00 405.5px,#fff900 434.5px,#ffff02 437.5px,#ffffba 476.5px,#ffffdf 487.5px,#fffff5 498.5px,#fffffe 512.5px,#ffffff 530px)"></i><i style="left:248px;background:linear-gradient(#190000 0px,#3d0000 64.5px,#960000 157.5px,#e50000 225.5px,#ff0100 245.5px,#ff4d00 324.5px,#ff9600 379.5px,#ffbf00 405.5px,#fff900 434.5px,#ffff02 437.5px,#ffffbd 477.5px,#ffffe2 488.5px,#fffff6 499.5px,#ffffff 514.5px,#ffffff 530px)"></i><i style="left:250px;background:linear-gradient(#190000 0px,#3d0000 63.5px,#960000 156.5px,#e50000 224.5px,#ff0100 244.5px,#ff4d00 323.5px,#ff9600 379.5px,#ffbf00 405.5px,#fffa00 434.5px,#ffff03 437.5px,#ffffbd 477.5px,#ffffe1 488.5px,#fffff6 499.5px,#ffffff 514.5px,#ffffff 530px)"></i><i style="left:252px;background:linear-gradient(#190000 0px,#3e0000 62.5px,#970000 155.5px,#e50000 223.5px,#ff0100 243.5px,#ff4c00 322.5px,#ff9700 379.5px,#ffbe00 404.5px,#fff800 433.5px,#fffe00 436.5px,#ffff69 459.5px,#ffffbc 477.5px,#ffffe3 489.5px,#fffff7 500.5px,#ffffff 515.5px,#ffffff 530px)"></i><i style="left:254px;background:linear-gradient(#190000 0px,#3e0000 61.5px,#970000 154.5px,#e50000 222.5px,#ff0100 242.5px,#ff4d00 322.5px,#ff9900 380.5px,#ffbe00 404.5px,#fff800 433.5px,#fffe00 436.5px,#ffff6d 460.5px,#ffffbf 478.5px,#ffffe5 490.5px,#fffff8 501.5px,#ffffff 517.5px,#ffffff 530px)"></i><i style="left:256px;background:linear-gradient(#190000 0px,#3f0000 61.5px,#970000 153.5px,#e50000 221.5px,#ff0100 241.5px,#ff4d00 321.5px,#ff9a00 380.5px,#ffbf00 404.5px,#fffa00 434.5px,#ffff03 437.5px,#ffffba 477.5px,#ffffe2 489.5px,#fffff7 500.5px,#ffffff 515.5px,#ffffff 530px)"></i><i style="left:258px;background:linear-gradient(#190000 0px,#3f0000 60.5px,#970000 152.5px,#e50000 220.5px,#ff0100 240.5px,#ff4d00 320.5px,#ff9a00 380.5px,#ffbf00 404.5px,#fffa00 434.5px,#ffff03 437.5px,#ffffbd 478.5px,#ffffe4 490.5px,#fffff7 501.5px,#ffffff 516.5px,#ffffff 530px)"></i><i style="left:260px;background:linear-gradient(#190000 0px,#400000 59.5px,#970000 151.5px,#e50000 219.5px,#ff0100 239.5px,#ff4c00 319.5px,#ff9b00 380.5px,#ffbf00 404.5px,#fffa00 434.5px,#ffff03 437.5px,#ffffbc 478.5px,#ffffe3 490.5px,#fffff7 501.5px,#ffffff 516.5px,#ffffff 530px)"></i><i style="left:262px;background:linear-gradient(#190000 0px,#400000 58.5px,#970000 150.5px,#e50000 218.5px,#ff0200 239.5px,#ff4d00 319.5px,#ff9d00 381.5px,#ffc000 404.5px,#fffa00 434.5px,#ffff02 437.5px,#ffffbe 479.5px,#ffffe4 491.5px,#fffff8 502.5px,#ffffff 518.5px,#ffffff 530px)"></i><i style="left:264px;background:linear-gradient(#190000 0px,#410000 58.5px,#960000 148.5px,#e50000 217.5px,#ff0200 238.5px,#ff4d00 318.5px,#ff9f00 382.5px,#ffc000 404.5px,#fffa00 434.5px,#ffff02 437.5px,#ffffbd 479.5px,#ffffe3 491.5px,#fffff7 502.5px,#ffffff 517.5px,#ffffff 530px)"></i><i style="left:266px;background:linear-gradient(#190000 0px,#430000 58.5px,#970000 147.5px,#e50000 216.5px,#ff0200 237.5px,#ff4e00 318.5px,#ffa000 383.5px,#ffc000 404.5px,#fff900 434.5px,#ffff01 437.5px,#ffffbf 480.5px,#ffffe4 492.5px,#fffff9 504.5px,#ffffff 521.5px,#ffffff 530px)"></i><i style="left:268px;background:linear-gradient(#190000 0px,#440000 58.5px,#970000 146.5px,#e50000 215.5px,#ff0200 236.5px,#ff4e00 317.5px,#ffa100 383.5px,#ffc100 404.5px,#fff900 434.5px,#ffff01 437.5px,#ffffbd 480.5px,#ffffe3 492.5px,#fffff7 503.5px,#ffffff 518.5px,#ffffff 530px)"></i><i style="left:270px;background:linear-gradient(#190000 0px,#470000 60.5px,#970000 145.5px,#e50000 214.5px,#ff0200 235.5px,#ff4e00 316.5px,#ffa400 385.5px,#ffc400 406.5px,#fff900 434.5px,#ffff00 437.5px,#ffffbe 481.5px,#ffffe4 493.5px,#fffff9 505.5px,#ffffff 522.5px,#ffffff 530px)"></i><i style="left:272px;background:linear-gradient(#190000 0px,#4a0000 62.5px,#970000 144.5px,#e50000 213.5px,#ff0200 234.5px,#ff4d00 315.5px,#ffa400 385.5px,#ffc500 406.5px,#fff800 434.5px,#ffff00 437.5px,#ffff85 468.5px,#ffffc7 484.5px,#ffffea 496.5px,#fffffb 508.5px,#ffffff 530px)"></i><i style="left:274px;background:linear-gradient(#190000 0px,#4f0000 66.5px,#970000 143.5px,#e50000 212.5px,#ff0100 232.5px,#ff4d00 314.5px,#ffa700 387.5px,#ffcd00 411.5px,#fffc00 436.5px,#ffff03 438.5px,#ffffc2 483.5px,#ffffe6 495.5px,#fffffa 507.5px,#ffffff 525.5px,#ffffff 530px)"></i><i style="left:276px;background:linear-gradient(#1a0000 0px,#510000 67.5px,#980000 142.5px,#e50000 211.5px,#ff0100 231.5px,#ff4d00 313.5px,#ffa900 388.5px,#ffdd00 420.5px,#ffff02 438.5px,#ffffbf 483.5px,#ffffe4 495.5px,#fffff8 506.5px,#ffffff 521.5px,#ffffff 530px)"></i><i style="left:278px;background:linear-gradient(#1b0000 0px,#510000 66.5px,#980000 141.5px,#e60000 210.5px,#ff0100 230.5px,#ff4d00 312.5px,#ffac00 390.5px,#fff100 431.5px,#ffff00 438.5px,#ffffc0 484.5px,#ffffe8 497.5px,#fffffa 508.5px,#ffffff 525.5px,#ffffff 530px)"></i><i style="left:280px;background:linear-gradient(#1c0000 0px,#530000 66.5px,#970000 139.5px,#e60000 209.5px,#ff0100 229.5px,#ff4d00 311.5px,#ffae00 391.5px,#fff300 432.5px,#ffff00 438.5px,#ffff80 469.5px,#ffffc9 487.5px,#ffffeb 499.5px,#fffffc 511.5px,#ffffff 530px)"></i><i style="left:282px;background:linear-gradient(#1e0000 0px,#540000 66.5px,#970000 138.5px,#e60000 208.5px,#ff0100 228.5px,#ff4c00 310.5px,#ffaf00 392.5px,#fff200 432.5px,#ffff02 439.5px,#ffffc2 486.5px,#ffffe9 499.5px,#fffffa 510.5px,#ffffff 530px)"></i><i style="left:284px;background:linear-gradient(#1f0000 0px,#550000 66.5px,#980000 137.5px,#e60000 207.5px,#ff0100 227.5px,#ff4c00 309.5px,#ffb100 393.5px,#fff300 433.5px,#ffff00 439.5px,#ffffc3 487.5px,#ffffea 500.5px,#fffffb 511.5px,#ffffff 530px)"></i><i style="left:286px;background:linear-gradient(#200000 0px,#570000 66.5px,#980000 136.5px,#e50000 205.5px,#ff0100 226.5px,#ff4c00 308.5px,#ffb200 394.5px,#fff300 433.5px,#fffe00 439.5px,#ffff6c 466.5px,#ffffc8 489.5px,#ffffea 501.5px,#fffffb 512.5px,#ffffff 530px)"></i><i style="left:288px;background:linear-gradient(#210000 0px,#580000 66.5px,#980000 135.5px,#e50000 204.5px,#ff0100 225.5px,#ff4c00 307.5px,#ffb200 394.5px,#fff400 434.5px,#ffff01 440.5px,#ffffc5 489.5px,#ffffeb 502.5px,#fffffb 513.5px,#ffffff 530px)"></i><i style="left:290px;background:linear-gradient(#230000 0px,#5b0000 68.5px,#990000 134.5px,#e50000 203.5px,#ff0100 224.5px,#ff4b00 305.5px,#ffb000 392.5px,#fff300 434.5px,#ffff00 440.5px,#ffff6e 468.5px,#ffffc9 491.5px,#ffffeb 503.5px,#fffffc 514.5px,#ffffff 530px)"></i><i style="left:292px;background:linear-gradient(#240000 0px,#5e0000 70.5px,#990000 133.5px,#e50000 202.5px,#ff0100 223.5px,#ff4a00 303.5px,#ffae00 390.5px,#fff000 433.5px,#ffff01 441.5px,#ffff80 473.5px,#ffffcd 493.5px,#ffffee 505.5px,#fffffd 516.5px,#ffffff 530px)"></i><i style="left:294px;background:linear-gradient(#250000 0px,#620000 73.5px,#990000 132.5px,#e60000 201.5px,#ff0100 222.5px,#ff4800 300.5px,#ffa900 386.5px,#ffe800 429.5px,#ffff00 441.5px,#ffff5c 465.5px,#ffffca 493.5px,#ffffed 505.5px,#fffffc 516.5px,#ffffff 530px)"></i><i style="left:296px;background:linear-gradient(#260000 0px,#690000 79.5px,#9c0000 133.5px,#e60000 200.5px,#ff0100 221.5px,#ff4600 297.5px,#ffa700 384.5px,#ffd800 419.5px,#ffff01 442.5px,#ffff65 468.5px,#ffffcb 494.5px,#ffffed 506.5px,#fffffc 517.5px,#ffffff 530px)"></i><i style="left:298px;background:linear-gradient(#280000 0px,#730000 89.5px,#a30000 138.5px,#e70000 200.5px,#ff0100 220.5px,#ff4400 294.5px,#ffa500 382.5px,#ffcf00 413.5px,#fff900 439.5px,#ffff02 443.5px,#ffff5e 467.5px,#ffffcc 495.5px,#ffffee 507.5px,#fffffd 518.5px,#ffffff 530px)"></i><i style="left:300px;background:linear-gradient(#290000 0px,#870000 110.5px,#e50000 197.5px,#ff0100 219.5px,#ff4200 291.5px,#ffa300 380.5px,#ffcc00 411.5px,#fff600 438.5px,#ffff00 443.5px,#ffff57 466.5px,#ffffcc 496.5px,#ffffee 508.5px,#fffffd 519.5px,#ffffff 530px)"></i><i style="left:302px;background:linear-gradient(#2a0000 0px,#8b0000 113.5px,#e50000 196.5px,#ff0200 218.5px,#ff4000 288.5px,#ffa200 379.5px,#ffcb00 411.5px,#fff500 438.5px,#ffff02 444.5px,#ffff54 466.5px,#ffffcd 497.5px,#ffffef 509.5px,#fffffd 519.5px,#ffffff 530px)"></i><i style="left:304px;background:linear-gradient(#2c0000 0px,#910000 117.5px,#e70000 196.5px,#ff0100 216.5px,#ff3d00 284.5px,#ffa100 378.5px,#ffcd00 412.5px,#fff600 439.5px,#ffff00 444.5px,#ffff48 464.5px,#ffffce 498.5px,#fffff0 510.5px,#fffffd 520.5px,#ffffff 530px)"></i><i style="left:306px;background:linear-gradient(#2d0000 0px,#930000 118.5px,#e70000 195.5px,#ff0100 215.5px,#ff3b00 281.5px,#ffa100 378.5px,#ffcf00 414.5px,#fff600 440.5px,#ffff00 445.5px,#ffff49 465.5px,#ffffce 499.5px,#fffff0 511.5px,#fffffd 521.5px,#ffffff 530px)"></i><i style="left:308px;background:linear-gradient(#2e0000 0px,#940000 117.5px,#e70000 194.5px,#ff0100 214.5px,#ff3a00 279.5px,#ffa200 378.5px,#ffd300 417.5px,#fff700 441.5px,#ffff01 446.5px,#ffff49 466.5px,#ffffcf 500.5px,#fffff1 512.5px,#fffffe 522.5px,#ffffff 530px)"></i><i style="left:310px;background:linear-gradient(#2f0000 0px,#940000 116.5px,#e70000 192.5px,#ff0100 213.5px,#ff3900 277.5px,#ffa300 379.5px,#ffdd00 425.5px,#ffff02 447.5px,#ffff45 466.5px,#ffffd3 502.5px,#fffff2 513.5px,#fffffe 523.5px,#ffffff 530px)"></i><i style="left:312px;background:linear-gradient(#310000 0px,#950000 115.5px,#e70000 191.5px,#ff0100 212.5px,#ff3800 275.5px,#ffa400 380.5px,#ffe700 433.5px,#ffff00 447.5px,#ffff42 466.5px,#ffffd4 503.5px,#fffff2 514.5px,#fffffe 524.5px,#ffffff 530px)"></i><i style="left:314px;background:linear-gradient(#320000 0px,#940000 113.5px,#e70000 190.5px,#ff0100 211.5px,#ff3700 273.5px,#ffa600 381.5px,#ffed00 437.5px,#ffff00 448.5px,#ffff42 467.5px,#ffffd4 504.5px,#fffff3 515.5px,#fffffe 525.5px,#ffffff 530px)"></i><i style="left:316px;background:linear-gradient(#330000 0px,#950000 112.5px,#e70000 189.5px,#ff0200 210.5px,#ff3600 271.5px,#ffa800 383.5px,#ffef00 439.5px,#ffff00 449.5px,#ffff42 468.5px,#ffffd5 505.5px,#fffff4 516.5px,#fffffe 526.5px,#ffffff 530px)"></i><i style="left:318px;background:linear-gradient(#350000 0px,#950000 111.5px,#e80000 188.5px,#ff0100 208.5px,#ff3500 269.5px,#ffaa00 385.5px,#ffed00 439.5px,#ffff00 450.5px,#ffff41 469.5px,#ffffd9 507.5px,#fffff4 517.5px,#fffffe 526.5px,#ffffff 530px)"></i><i style="left:320px;background:linear-gradient(#360000 0px,#960000 110.5px,#e80000 187.5px,#ff0100 207.5px,#ff3500 267.5px,#ffae00 388.5px,#ffed00 440.5px,#ffff01 451.5px,#ffff41 470.5px,#ffffd9 508.5px,#fffff5 518.5px,#fffffe 527.5px,#ffffff 530px)"></i><i style="left:322px;background:linear-gradient(#370000 0px,#960000 109.5px,#e70000 185.5px,#ff0100 206.5px,#ff3500 266.5px,#ffb200 392.5px,#ffee00 441.5px,#ffff01 452.5px,#ffff3d 470.5px,#ffffda 509.5px,#fffff6 519.5px,#ffffff 528.5px,#ffffff 530px)"></i><i style="left:324px;background:linear-gradient(#370000 0px,#980000 109.5px,#e70000 184.5px,#ff0100 205.5px,#ff3500 265.5px,#ffb400 394.5px,#ffee00 442.5px,#ffff01 453.5px,#ffff3c 471.5px,#ffffdb 510.5px,#fffff6 520.5px,#ffffff 530px)"></i><i style="left:326px;background:linear-gradient(#380000 0px,#980000 108.5px,#e80000 183.5px,#ff0100 204.5px,#ff3500 264.5px,#ffb800 397.5px,#ffee00 443.5px,#ffff00 454.5px,#ffff3b 472.5px,#ffffdf 512.5px,#fffff7 521.5px,#ffffff 530px)"></i><i style="left:328px;background:linear-gradient(#3a0000 0px,#990000 107.5px,#e70000 181.5px,#ff0100 202.5px,#ff3400 262.5px,#ffbb00 400.5px,#ffee00 444.5px,#ffff00 455.5px,#ffff3a 473.5px,#ffffe0 513.5px,#fffff8 522.5px,#ffffff 530px)"></i><i style="left:330px;background:linear-gradient(#3c0000 0px,#990000 105.5px,#e70000 180.5px,#ff0100 201.5px,#ff3400 261.5px,#ffc200 406.5px,#ffee00 445.5px,#ffff00 456.5px,#ffff3d 475.5px,#ffffe0 514.5px,#fffff9 523.5px,#fffffe 530px)"></i><i style="left:332px;background:linear-gradient(#3d0000 0px,#990000 104.5px,#e70000 179.5px,#ff0100 200.5px,#ff3400 260.5px,#ffcb00 415.5px,#ffee00 446.5px,#ffff02 458.5px,#ffff3b 476.5px,#ffffe1 515.5px,#fffff8 523.5px,#fffffe 530px)"></i><i style="left:334px;background:linear-gradient(#3f0000 0px,#990000 102.5px,#e70000 177.5px,#ff0100 199.5px,#ff3400 259.5px,#ffdb00 431.5px,#fff200 450.5px,#ffff01 459.5px,#ffff39 477.5px,#ffffe3 516.5px,#fffff9 524.5px,#fffffe 530px)"></i><i style="left:336px;background:linear-gradient(#410000 0px,#990000 101.5px,#e70000 176.5px,#ff0200 198.5px,#ff3400 258.5px,#ffe600 443.5px,#ffff00 460.5px,#ffff37 478.5px,#ffffe0 516.5px,#fffff8 524.5px,#fffffe 530px)"></i><i style="left:338px;background:linear-gradient(#420000 0px,#990000 99.5px,#e80000 175.5px,#ff0100 196.5px,#ff3300 256.5px,#ffe700 445.5px,#ffff02 462.5px,#ffff39 480.5px,#ffffe1 517.5px,#fffff9 525.5px,#fffffe 530px)"></i><i style="left:340px;background:linear-gradient(#440000 0px,#9a0000 98.5px,#e70000 173.5px,#ff0100 195.5px,#ff3400 255.5px,#ffea00 448.5px,#ffff01 463.5px,#ffff37 481.5px,#ffffe3 518.5px,#fffff8 525.5px,#fffffe 530px)"></i><i style="left:342px;background:linear-gradient(#450000 0px,#990000 96.5px,#e70000 172.5px,#ff0100 193.5px,#ff3200 252.5px,#ffeb00 450.5px,#ffff00 464.5px,#ffff39 483.5px,#ffffe4 519.5px,#fffff9 526.5px,#fffffd 530px)"></i><i style="left:344px;background:linear-gradient(#470000 0px,#9a0000 95.5px,#e80000 171.5px,#ff0100 192.5px,#ff3200 251.5px,#ffec00 452.5px,#ffff01 466.5px,#ffff36 484.5px,#ffffe2 519.5px,#fffff8 526.5px,#fffffd 530px)"></i><i style="left:346px;background:linear-gradient(#490000 0px,#9a0000 93.5px,#e90000 170.5px,#ff0100 191.5px,#ff3100 249.5px,#ffeb00 453.5px,#ffff00 467.5px,#ffff38 486.5px,#ffffe3 520.5px,#fffffa 527.5px,#fffffd 530px)"></i><i style="left:348px;background:linear-gradient(#4a0000 0px,#9a0000 92.5px,#e80000 168.5px,#ff0100 189.5px,#ff3100 247.5px,#ffde00 442.5px,#fff100 459.5px,#ffff01 469.5px,#ffff35 487.5px,#ffffe5 521.5px,#fffff9 527.5px,#fffffc 530px)"></i><i style="left:350px;background:linear-gradient(#4c0000 0px,#9a0000 90.5px,#e90000 167.5px,#ff0100 188.5px,#ff3100 246.5px,#ffc500 413.5px,#ffeb00 456.5px,#ffff02 471.5px,#ffff37 489.5px,#ffffe2 521.5px,#fffff8 527.5px,#fffffc 530px)"></i><i style="left:352px;background:linear-gradient(#4d0000 0px,#9b0000 89.5px,#e90000 166.5px,#ff0100 186.5px,#ff3000 244.5px,#ffba00 400.5px,#ffeb00 458.5px,#ffff00 472.5px,#ffff34 490.5px,#ffffe7 523.5px,#fffffb 530px)"></i><i style="left:354px;background:linear-gradient(#4f0000 0px,#9a0000 87.5px,#ea0000 165.5px,#ff0100 185.5px,#ff2f00 242.5px,#ffb400 393.5px,#ffea00 459.5px,#ffff01 474.5px,#ffff35 492.5px,#ffffe7 524.5px,#fffff9 530px)"></i><i style="left:356px;background:linear-gradient(#500000 0px,#9a0000 85.5px,#e90000 163.5px,#ff0200 184.5px,#ff3000 241.5px,#ffad00 384.5px,#ffea00 461.5px,#ffff01 476.5px,#ffff37 494.5px,#ffffe8 525.5px,#fffff7 530px)"></i><i style="left:358px;background:linear-gradient(#520000 0px,#9b0000 84.5px,#ea0000 162.5px,#ff0100 182.5px,#ff2f00 239.5px,#ffa600 375.5px,#ffea00 463.5px,#ffff02 478.5px,#ffff34 495.5px,#ffffed 527.5px,#fffff5 530px)"></i><i style="left:360px;background:linear-gradient(#530000 0px,#9a0000 82.5px,#ea0000 161.5px,#ff0100 181.5px,#ff2f00 238.5px,#ffa100 368.5px,#ffea00 465.5px,#ffff02 480.5px,#ffff35 497.5px,#ffffee 528.5px,#fffff2 530px)"></i><i style="left:362px;background:linear-gradient(#550000 0px,#9b0000 81.5px,#eb0000 160.5px,#ff0100 179.5px,#ff2e00 236.5px,#ff9d00 363.5px,#ffd800 444.5px,#ffea00 467.5px,#ffff02 482.5px,#ffff36 499.5px,#ffffcb 523.5px,#ffffef 530px)"></i><i style="left:364px;background:linear-gradient(#560000 0px,#9b0000 79.5px,#ec0000 159.5px,#ff0100 178.5px,#ff2f00 235.5px,#ff9900 358.5px,#ffc800 421.5px,#ffea00 469.5px,#ffff02 484.5px,#ffff37 501.5px,#ffffc3 523.5px,#ffffea 530px)"></i><i style="left:366px;background:linear-gradient(#580000 0px,#9b0000 78.5px,#ec0000 158.5px,#ff0100 176.5px,#ff2e00 233.5px,#ff9800 355.5px,#ffc200 413.5px,#ffe900 471.5px,#ffff01 486.5px,#ffff33 502.5px,#ffffb4 522.5px,#ffffe4 530px)"></i><i style="left:368px;background:linear-gradient(#590000 0px,#9c0000 77.5px,#ed0000 157.5px,#ff0100 175.5px,#ff2e00 232.5px,#ff9600 352.5px,#ffbf00 409.5px,#ffe900 474.5px,#ffff00 488.5px,#ffff34 504.5px,#ffffb3 523.5px,#ffffdd 530px)"></i><i style="left:370px;background:linear-gradient(#5b0000 0px,#9c0000 75.5px,#ec0000 155.5px,#ff0200 174.5px,#ff2e00 231.5px,#ff9400 349.5px,#ffbc00 405.5px,#ffe800 476.5px,#ffff02 491.5px,#ffff35 506.5px,#ffffb3 524.5px,#ffffd7 530px)"></i><i style="left:372px;background:linear-gradient(#5c0000 0px,#9c0000 74.5px,#ed0000 154.5px,#ff0100 172.5px,#ff2e00 229.5px,#ff9300 347.5px,#ffba00 402.5px,#ffe800 479.5px,#ffff00 493.5px,#ffff36 508.5px,#ffffb2 525.5px,#ffffd0 530px)"></i><i style="left:374px;background:linear-gradient(#5e0000 0px,#9d0000 73.5px,#ed0000 153.5px,#ff0200 171.5px,#ff2e00 228.5px,#ff9200 345.5px,#ffb900 400.5px,#ffe700 482.5px,#ffff02 496.5px,#ffff37 510.5px,#ffffb1 526.5px,#ffffc9 530px)"></i><i style="left:376px;background:linear-gradient(#5f0000 0px,#9c0000 71.5px,#ee0000 152.5px,#ff0100 169.5px,#ff2e00 227.5px,#ff9200 344.5px,#ffb900 399.5px,#ffe800 486.5px,#ffff00 498.5px,#ffff32 511.5px,#ffff5e 517.5px,#ffffc0 530px)"></i><i style="left:378px;background:linear-gradient(#600000 0px,#9d0000 70.5px,#ee0000 151.5px,#ff0100 168.5px,#ff2f00 226.5px,#ff9100 342.5px,#ffb800 397.5px,#ffe800 489.5px,#ffff00 501.5px,#ffff32 513.5px,#ffff60 519.5px,#ffffb6 530px)"></i><i style="left:380px;background:linear-gradient(#620000 0px,#9e0000 69.5px,#ef0000 150.5px,#ff0100 166.5px,#ff2f00 225.5px,#ff9100 341.5px,#ffb700 396.5px,#ffe700 492.5px,#ffff01 504.5px,#ffff32 515.5px,#ffff5a 520.5px,#ffffaa 530px)"></i><i style="left:382px;background:linear-gradient(#630000 0px,#9e0000 68.5px,#ee0000 148.5px,#ff0100 165.5px,#ff2f00 224.5px,#ff9100 340.5px,#ffb700 395.5px,#ffe800 496.5px,#fffe00 506.5px,#ffff31 517.5px,#ffff65 523.5px,#ffff9d 530px)"></i><i style="left:384px;background:linear-gradient(#650000 0px,#9f0000 67.5px,#ef0000 147.5px,#ff0100 163.5px,#ff2f00 223.5px,#ff9000 338.5px,#ffb700 394.5px,#ffe800 499.5px,#fffe00 509.5px,#ffff31 519.5px,#ffff6e 526.5px,#ffff8a 530px)"></i><i style="left:386px;background:linear-gradient(#660000 0px,#9e0000 65.5px,#ee0000 145.5px,#ff0100 162.5px,#ff3100 223.5px,#ff9000 337.5px,#ffb600 392.5px,#ffe700 502.5px,#ffff00 512.5px,#ffff30 521.5px,#ffff76 530px)"></i><i style="left:388px;background:linear-gradient(#670000 0px,#9f0000 64.5px,#ef0000 144.5px,#ff0100 160.5px,#ff3100 222.5px,#ff9000 336.5px,#ffb600 391.5px,#ffe800 506.5px,#ffff00 515.5px,#ffff36 524.5px,#ffff61 530px)"></i><i style="left:390px;background:linear-gradient(#690000 0px,#a10000 64.5px,#f00000 143.5px,#ff0100 159.5px,#ff3100 221.5px,#ff9000 335.5px,#ffb500 390.5px,#ffe700 509.5px,#ffff00 518.5px,#ffff3c 527.5px,#ffff4c 530px)"></i><i style="left:392px;background:linear-gradient(#6a0000 0px,#a10000 63.5px,#ef0000 141.5px,#ff0200 158.5px,#ff3200 221.5px,#ff9000 334.5px,#ffb500 389.5px,#ffe700 513.5px,#fffe00 521.5px,#ffff37 530px)"></i><i style="left:394px;background:linear-gradient(#6b0000 0px,#a20000 62.5px,#ef0000 140.5px,#ff0100 156.5px,#ff3200 220.5px,#ff8f00 333.5px,#ffb500 388.5px,#ffe600 516.5px,#fff800 523.5px,#ffff00 525.5px,#ffff1c 530px)"></i><i style="left:396px;background:linear-gradient(#6d0000 0px,#a30000 62.5px,#ef0000 138.5px,#ff0200 155.5px,#ff3400 220.5px,#ff9000 333.5px,#ffb500 387.5px,#ffe600 520.5px,#fff800 527.5px,#fffe00 530px)"></i><i style="left:398px;background:linear-gradient(#6e0000 0px,#a50000 62.5px,#ef0000 137.5px,#ff0100 153.5px,#ff3500 220.5px,#ff9000 332.5px,#ffb500 386.5px,#ffe700 525.5px,#fff000 530px)"></i><i style="left:400px;background:linear-gradient(#6f0000 0px,#a60000 62.5px,#ef0000 135.5px,#ff0200 152.5px,#ff3600 220.5px,#ff9000 331.5px,#ffb400 385.5px,#ffe500 530px)"></i><i style="left:402px;background:linear-gradient(#710000 0px,#a80000 62.5px,#ef0000 134.5px,#ff0100 150.5px,#ff3700 220.5px,#ff9000 330.5px,#ffb400 383.5px,#ffdd00 530px)"></i><i style="left:404px;background:linear-gradient(#720000 0px,#aa0000 63.5px,#f00000 133.5px,#ff0200 149.5px,#ff3800 220.5px,#ff9000 329.5px,#ffb400 382.5px,#ffd700 530px)"></i><i style="left:406px;background:linear-gradient(#730000 0px,#ad0000 65.5px,#f00000 132.5px,#ff0100 147.5px,#ff3900 220.5px,#ff9000 328.5px,#ffb400 381.5px,#ffd500 530px)"></i><i style="left:408px;background:linear-gradient(#750000 0px,#b20000 68.5px,#f20000 132.5px,#ff0100 146.5px,#ff3b00 221.5px,#ff9000 327.5px,#ffb400 380.5px,#ffd900 530px)"></i><i style="left:410px;background:linear-gradient(#760000 0px,#b90000 74.5px,#f60000 134.5px,#ff0200 145.5px,#ff3d00 222.5px,#ff9100 327.5px,#ffb400 380.5px,#ffe000 530px)"></i><i style="left:412px;background:linear-gradient(#770000 0px,#c30000 83.5px,#ff0100 143.5px,#ff3e00 222.5px,#ff9100 326.5px,#ffb400 379.5px,#ffe500 526.5px,#ffea00 530px)"></i><i style="left:414px;background:linear-gradient(#790000 0px,#d50000 101.5px,#ff0100 141.5px,#ff4000 223.5px,#ff9100 325.5px,#ffb500 378.5px,#ffe600 521.5px,#fff700 528.5px,#fffa00 530px)"></i><i style="left:416px;background:linear-gradient(#7a0000 0px,#dc0000 106.5px,#ff0100 140.5px,#ff4500 228.5px,#ff9100 324.5px,#ffb500 378.5px,#ffe600 516.5px,#fff700 523.5px,#fffe00 525.5px,#ffff19 530px)"></i><i style="left:418px;background:linear-gradient(#7b0000 0px,#e20000 110.5px,#ff0100 138.5px,#ff4900 232.5px,#ff9200 324.5px,#ffb500 377.5px,#ffe700 512.5px,#ffff00 521.5px,#ffff31 528.5px,#ffff3a 530px)"></i><i style="left:420px;background:linear-gradient(#7c0000 0px,#e60000 112.5px,#ff0100 137.5px,#ff5000 239.5px,#ff9300 324.5px,#ffb500 376.5px,#ffe600 507.5px,#fffb00 516.5px,#ffff04 518.5px,#ffff2e 525.5px,#ffff55 530px)"></i><i style="left:422px;background:linear-gradient(#7e0000 0px,#e50000 110.5px,#ff0100 135.5px,#ff5500 243.5px,#ff9400 324.5px,#ffb500 375.5px,#ffe700 503.5px,#ffff00 514.5px,#ffff30 523.5px,#ffff4d 526.5px,#ffff71 530px)"></i><i style="left:424px;background:linear-gradient(#7f0000 0px,#e50000 109.5px,#ff0100 134.5px,#ff5c00 250.5px,#ff9700 327.5px,#ffb600 374.5px,#ffe700 499.5px,#ffff02 511.5px,#ffff31 521.5px,#ffff4f 524.5px,#ffff8c 530px)"></i><i style="left:426px;background:linear-gradient(#800000 0px,#e50000 107.5px,#ff0100 132.5px,#ff6000 254.5px,#ff9a00 330.5px,#ffb600 373.5px,#ffe700 495.5px,#ffff02 508.5px,#ffff32 519.5px,#ffff4e 522.5px,#ffffa2 530px)"></i><i style="left:428px;background:linear-gradient(#810000 0px,#e50000 106.5px,#ff0100 131.5px,#ff6800 263.5px,#ffab00 353.5px,#ffbe00 391.5px,#ffe800 492.5px,#ffff02 505.5px,#ffff32 517.5px,#ffff4d 520.5px,#ffff9b 527.5px,#ffffac 530px)"></i><i style="left:430px;background:linear-gradient(#820000 0px,#e50000 104.5px,#ff0100 129.5px,#ff6e00 268.5px,#ffb400 365.5px,#ffe800 488.5px,#ffff02 502.5px,#ffff32 515.5px,#ffff4b 518.5px,#ffffa7 527.5px,#ffffb7 530px)"></i><i style="left:432px;background:linear-gradient(#840000 0px,#e50000 103.5px,#ff0100 128.5px,#ff7700 278.5px,#ffb600 368.5px,#ffe800 484.5px,#ffff02 499.5px,#ffff32 513.5px,#ffff4a 516.5px,#ffffaa 526.5px,#ffffc2 530px)"></i><i style="left:434px;background:linear-gradient(#850000 0px,#e40000 101.5px,#ff0100 126.5px,#ff7c00 283.5px,#ffb600 367.5px,#ffe800 481.5px,#ffff01 496.5px,#ffff32 511.5px,#ffff48 514.5px,#ffffbe 527.5px,#ffffcd 530px)"></i><i style="left:436px;background:linear-gradient(#860000 0px,#e50000 100.5px,#ff0100 125.5px,#ff7c00 281.5px,#ffb600 365.5px,#ffe800 477.5px,#ffff00 493.5px,#ffff32 509.5px,#ffff50 513.5px,#ffffc8 527.5px,#ffffd6 530px)"></i><i style="left:438px;background:linear-gradient(#860000 0px,#e60000 100.5px,#ff0100 123.5px,#ff7a00 277.5px,#ffb600 364.5px,#ffe800 474.5px,#ffff00 490.5px,#ffff32 507.5px,#ffff4e 511.5px,#ffffd0 527.5px,#ffffdd 530px)"></i><i style="left:440px;background:linear-gradient(#850000 0px,#e80000 100.5px,#ff0100 122.5px,#ff7900 275.5px,#ffb600 363.5px,#ffe800 471.5px,#ffff01 488.5px,#ffff32 505.5px,#ffff4d 509.5px,#ffffcf 526.5px,#ffffe1 530px)"></i><i style="left:442px;background:linear-gradient(#860000 0px,#e90000 99.5px,#ff0100 120.5px,#ff7800 272.5px,#ffb600 361.5px,#ffe800 468.5px,#ffff00 485.5px,#ffff32 503.5px,#ffff53 508.5px,#ffffcf 525.5px,#ffffe6 530px)"></i><i style="left:444px;background:linear-gradient(#880000 0px,#e80000 97.5px,#ff0100 119.5px,#ff7800 270.5px,#ffb700 360.5px,#ffe900 466.5px,#ffff01 483.5px,#ffff32 501.5px,#ffff51 506.5px,#ffffd5 525.5px,#ffffea 530px)"></i><i style="left:446px;background:linear-gradient(#890000 0px,#e90000 96.5px,#ff0100 117.5px,#ff7700 268.5px,#ffb600 358.5px,#ffe900 463.5px,#ffff02 481.5px,#ffff32 499.5px,#ffff50 504.5px,#ffffd5 524.5px,#ffffee 530px)"></i><i style="left:448px;background:linear-gradient(#8a0000 0px,#e80000 94.5px,#ff0100 116.5px,#ff7700 266.5px,#ffb700 357.5px,#ffe900 460.5px,#ffff01 478.5px,#ffff36 498.5px,#ffffdb 524.5px,#fffff1 530px)"></i><i style="left:450px;background:linear-gradient(#8c0000 0px,#e90000 93.5px,#ff0100 114.5px,#ff7600 264.5px,#ffb700 356.5px,#ffe900 457.5px,#ffff02 476.5px,#ffff36 496.5px,#ffffe1 524.5px,#fffff5 530px)"></i><i style="left:452px;background:linear-gradient(#8d0000 0px,#e80000 91.5px,#ff0100 113.5px,#ff7600 262.5px,#ffb700 354.5px,#ffe900 454.5px,#ffff01 473.5px,#ffff35 494.5px,#ffffe5 524.5px,#fffff8 530px)"></i><i style="left:454px;background:linear-gradient(#8f0000 0px,#e90000 90.5px,#ff0100 111.5px,#ff7500 260.5px,#ffb700 353.5px,#ffe900 451.5px,#ffff02 471.5px,#ffff35 492.5px,#ffffe4 523.5px,#fffffa 530px)"></i><i style="left:456px;background:linear-gradient(#900000 0px,#e90000 89.5px,#ff0100 110.5px,#ff7600 259.5px,#ffb800 352.5px,#ffea00 449.5px,#ffff01 468.5px,#ffff34 490.5px,#ffffe7 523.5px,#fffffb 530px)"></i><i style="left:458px;background:linear-gradient(#920000 0px,#e90000 87.5px,#ff0100 108.5px,#ff7500 257.5px,#ffb700 350.5px,#ffe900 446.5px,#ffff01 466.5px,#ffff34 488.5px,#ffffe6 522.5px,#fffffa 528.5px,#fffffc 530px)"></i><i style="left:460px;background:linear-gradient(#930000 0px,#e90000 86.5px,#ff0100 107.5px,#ff7500 256.5px,#ffb800 349.5px,#ffe900 443.5px,#ffff02 464.5px,#ffff37 487.5px,#ffffe4 521.5px,#fffffb 528.5px,#fffffc 530px)"></i><i style="left:462px;background:linear-gradient(#950000 0px,#e90000 84.5px,#ff0100 105.5px,#ff7500 254.5px,#ffb800 348.5px,#ffea00 441.5px,#ffff01 461.5px,#ffff36 485.5px,#ffffe3 520.5px,#fffff9 527.5px,#fffffd 530px)"></i><i style="left:464px;background:linear-gradient(#970000 0px,#ea0000 83.5px,#ff0200 104.5px,#ff7500 253.5px,#ffb800 347.5px,#ffea00 438.5px,#ffff02 459.5px,#ffff35 483.5px,#ffffe5 520.5px,#fffffa 527.5px,#fffffd 530px)"></i><i style="left:466px;background:linear-gradient(#990000 0px,#e90000 81.5px,#ff0100 102.5px,#ff7600 252.5px,#ffb900 346.5px,#ffea00 435.5px,#ffff00 456.5px,#ffff34 481.5px,#ffffe4 519.5px,#fffff9 526.5px,#fffffd 530px)"></i><i style="left:468px;background:linear-gradient(#9a0000 0px,#ea0000 80.5px,#ff0100 100.5px,#ff7600 251.5px,#ffb900 345.5px,#ffeb00 433.5px,#ffff01 454.5px,#ffff34 479.5px,#ffffe6 519.5px,#fffffa 526.5px,#fffffe 530px)"></i><i style="left:470px;background:linear-gradient(#9c0000 0px,#e90000 78.5px,#ff0100 99.5px,#ff7700 251.5px,#ffba00 344.5px,#ffeb00 430.5px,#ffff02 452.5px,#ffff36 478.5px,#ffffe5 518.5px,#fffffa 526.5px,#fffffe 530px)"></i><i style="left:472px;background:linear-gradient(#9e0000 0px,#ea0000 77.5px,#ff0100 97.5px,#ff7700 249.5px,#ffba00 343.5px,#ffeb00 428.5px,#ffff01 449.5px,#ffff35 476.5px,#ffffe7 518.5px,#fffffb 526.5px,#fffffe 530px)"></i><i style="left:474px;background:linear-gradient(#a00000 0px,#ea0000 75.5px,#ff0100 96.5px,#ff7800 249.5px,#ffba00 342.5px,#ffeb00 425.5px,#ffff01 447.5px,#ffff35 474.5px,#ffffe5 517.5px,#fffffa 525.5px,#fffffe 530px)"></i><i style="left:476px;background:linear-gradient(#a20000 0px,#eb0000 74.5px,#ff0100 94.5px,#ff7900 248.5px,#ffbb00 341.5px,#ffec00 423.5px,#ffff02 445.5px,#ffff34 472.5px,#ffffe7 517.5px,#fffffb 525.5px,#fffffe 530px)"></i><i style="left:478px;background:linear-gradient(#a30000 0px,#ea0000 72.5px,#ff0200 93.5px,#ff7a00 248.5px,#ffbc00 341.5px,#ffec00 421.5px,#ffff02 443.5px,#ffff37 471.5px,#ffffe6 516.5px,#fffffa 524.5px,#fffffe 530px)"></i><i style="left:480px;background:linear-gradient(#a50000 0px,#eb0000 71.5px,#ff0100 91.5px,#ff7700 243.5px,#ffbc00 339.5px,#ffed00 419.5px,#ffff01 440.5px,#ffff36 469.5px,#ffffe8 516.5px,#fffffb 525.5px,#fffffe 530px)"></i><i style="left:482px;background:linear-gradient(#a70000 0px,#eb0000 69.5px,#ff0100 89.5px,#ff6f00 232.5px,#ffbc00 337.5px,#ffed00 417.5px,#ffff01 438.5px,#ffff35 467.5px,#ffffe6 515.5px,#fffffb 524.5px,#ffffff 530px)"></i><i style="left:484px;background:linear-gradient(#a90000 0px,#eb0000 68.5px,#ff0100 88.5px,#ff6b00 225.5px,#ffbc00 336.5px,#ffee00 415.5px,#ffff02 436.5px,#ffff35 465.5px,#ffffe8 515.5px,#fffffb 524.5px,#ffffff 530px)"></i><i style="left:486px;background:linear-gradient(#ab0000 0px,#eb0000 66.5px,#ff0100 86.5px,#ff6400 215.5px,#ffba00 330.5px,#ffee00 413.5px,#ffff02 434.5px,#ffff37 464.5px,#ffffe7 514.5px,#fffffa 523.5px,#ffffff 530px)"></i><i style="left:488px;background:linear-gradient(#ad0000 0px,#ec0000 65.5px,#ff0200 85.5px,#ff6000 209.5px,#ffb800 326.5px,#ffef00 412.5px,#ffff02 432.5px,#ffff36 462.5px,#ffffe6 513.5px,#fffffb 523.5px,#ffffff 530px)"></i><i style="left:490px;background:linear-gradient(#af0000 0px,#ed0000 64.5px,#ff0100 83.5px,#ff5a00 200.5px,#ffb500 320.5px,#fff000 410.5px,#ffff01 429.5px,#ffff36 460.5px,#ffffe7 513.5px,#fffffb 523.5px,#ffffff 530px)"></i><i style="left:492px;background:linear-gradient(#b00000 0px,#ec0000 62.5px,#ff0100 81.5px,#ff5500 192.5px,#ffb500 317.5px,#fff100 409.5px,#ffff01 427.5px,#ffff35 458.5px,#ffffe9 513.5px,#fffffc 523.5px,#ffffff 530px)"></i><i style="left:494px;background:linear-gradient(#b20000 0px,#ed0000 61.5px,#ff0200 80.5px,#ff5200 187.5px,#ffb400 315.5px,#fff200 408.5px,#ffff02 425.5px,#ffff37 457.5px,#ffffe7 512.5px,#fffffb 522.5px,#ffffff 530px)"></i><i style="left:496px;background:linear-gradient(#b40000 0px,#ee0000 60.5px,#ff0100 78.5px,#ff4e00 181.5px,#ffb400 313.5px,#fff400 408.5px,#ffff02 423.5px,#ffff37 455.5px,#ffffe6 511.5px,#fffffa 521.5px,#ffffff 530px)"></i><i style="left:498px;background:linear-gradient(#b60000 0px,#ef0000 59.5px,#ff0100 76.5px,#ff4900 172.5px,#ffb400 312.5px,#fff600 408.5px,#ffff02 421.5px,#ffff36 453.5px,#ffffe8 511.5px,#fffffc 522.5px,#ffffff 530px)"></i><i style="left:500px;background:linear-gradient(#b80000 0px,#ef0000 58.5px,#ff0200 75.5px,#ff4600 167.5px,#ffb500 312.5px,#fff800 409.5px,#ffff02 419.5px,#ffff38 452.5px,#ffffe7 510.5px,#fffffb 521.5px,#ffffff 530px)"></i><i style="left:502px;background:linear-gradient(#b90000 0px,#f00000 57.5px,#ff0100 73.5px,#ff4100 159.5px,#ffb600 311.5px,#fffc00 412.5px,#ffff04 418.5px,#ffff37 450.5px,#ffffe8 510.5px,#fffffb 521.5px,#ffffff 530px)"></i><i style="left:504px;background:linear-gradient(#bb0000 0px,#f20000 57.5px,#ff0200 72.5px,#ff3e00 154.5px,#ffb700 311.5px,#ffff01 414.5px,#ffff37 448.5px,#ffffe7 509.5px,#fffffb 520.5px,#ffffff 530px)"></i><i style="left:506px;background:linear-gradient(#bd0000 0px,#f40000 57.5px,#ff0200 70.5px,#ff3a00 148.5px,#ffb800 311.5px,#ffff01 412.5px,#ffff36 446.5px,#ffffe8 509.5px,#fffffb 520.5px,#ffffff 530px)"></i><i style="left:508px;background:linear-gradient(#bf0000 0px,#f60000 57.5px,#ff0100 68.5px,#ff3700 142.5px,#ffba00 312.5px,#ffff01 410.5px,#ffff38 445.5px,#ffffe7 508.5px,#fffffb 520.5px,#ffffff 530px)"></i><i style="left:510px;background:linear-gradient(#c10000 0px,#f80000 58.5px,#ff0200 67.5px,#ff3500 138.5px,#ffbc00 313.5px,#ffff01 408.5px,#ffff38 443.5px,#ffffe9 508.5px,#fffffc 520.5px,#ffffff 530px)"></i><i style="left:512px;background:linear-gradient(#c30000 0px,#fc0000 60.5px,#ff0900 76.5px,#ff4300 155.5px,#ffc200 320.5px,#ffff01 406.5px,#ffff37 441.5px,#ffffe8 507.5px,#fffffb 519.5px,#ffffff 530px)"></i><i style="left:514px;background:linear-gradient(#c40000 0px,#ff0100 63.5px,#ff3100 130.5px,#ffc100 317.5px,#ffff01 404.5px,#ffff36 439.5px,#ffffe9 507.5px,#fffffb 519.5px,#ffffff 530px)"></i><i style="left:516px;background:linear-gradient(#c60000 0px,#ff0100 61.5px,#ff3000 127.5px,#ffc400 320.5px,#ffff01 402.5px,#ffff38 438.5px,#ffffe8 506.5px,#fffffc 519.5px,#ffffff 530px)"></i><i style="left:518px;background:linear-gradient(#c80000 0px,#ff0100 59.5px,#ff2f00 124.5px,#ffc800 323.5px,#ffff01 400.5px,#ffff38 436.5px,#ffffe7 505.5px,#fffffb 518.5px,#ffffff 530px)"></i><i style="left:520px;background:linear-gradient(#ca0000 0px,#ff0100 58.5px,#ff2d00 121.5px,#ffcd00 328.5px,#ffff02 399.5px,#ffff37 434.5px,#ffffe9 505.5px,#fffffc 518.5px,#ffffff 530px)"></i><i style="left:522px;background:linear-gradient(#cb0000 0px,#ff0100 56.5px,#ff2c00 118.5px,#ffd300 335.5px,#ffff02 397.5px,#ffff39 433.5px,#ffffe8 504.5px,#fffffb 517.5px,#ffffff 530px)"></i><i style="left:524px;background:linear-gradient(#cd0000 0px,#ff0100 54.5px,#ff2c00 116.5px,#ffda00 343.5px,#ffff02 395.5px,#ffff38 431.5px,#ffffe7 503.5px,#fffffb 517.5px,#ffffff 530px)"></i><i style="left:526px;background:linear-gradient(#cf0000 0px,#ff0200 53.5px,#ff2b00 113.5px,#ffe400 354.5px,#ffff02 393.5px,#ffff37 429.5px,#ffffe8 503.5px,#fffffc 517.5px,#ffffff 530px)"></i><i style="left:528px;background:linear-gradient(#d10000 0px,#ff0100 51.5px,#ff2a00 111.5px,#ffeb00 362.5px,#ffff01 391.5px,#ffff39 428.5px,#ffffe8 502.5px,#fffffb 516.5px,#ffffff 530px)"></i><i style="left:530px;background:linear-gradient(#d20000 0px,#ff0100 49.5px,#ff2a00 109.5px,#ffee00 365.5px,#ffff01 389.5px,#ffff38 426.5px,#ffffe7 501.5px,#fffffb 515.5px,#ffffff 530px)"></i><i style="left:532px;background:linear-gradient(#d40000 0px,#ff0100 47.5px,#ff2a00 107.5px,#fff000 366.5px,#ffff02 388.5px,#ffff3a 425.5px,#ffffe6 500.5px,#fffffb 515.5px,#ffffff 530px)"></i><i style="left:534px;background:linear-gradient(#d50000 0px,#ff0100 46.5px,#ff2900 105.5px,#fff200 367.5px,#ffff02 386.5px,#ffff39 423.5px,#ffffe6 499.5px,#fffffb 514.5px,#ffffff 530px)"></i><i style="left:536px;background:linear-gradient(#d40000 0px,#ff0100 45.5px,#ff2e00 109.5px,#fff400 368.5px,#ffff01 384.5px,#ffff38 421.5px,#ffffe6 498.5px,#fffffa 513.5px,#ffffff 530px)"></i><i style="left:538px;background:linear-gradient(#d20000 0px,#ff0100 45.5px,#ff3700 119.5px,#fff700 370.5px,#ffff03 383.5px,#ffff39 420.5px,#ffffe5 497.5px,#fffffa 512.5px,#ffffff 530px)"></i><i style="left:540px;background:linear-gradient(#d40000 0px,#ff0100 43.5px,#ff3800 119.5px,#fff900 371.5px,#ffff02 381.5px,#ffff38 418.5px,#ffffe5 496.5px,#fffffa 512.5px,#ffffff 530px)"></i><i style="left:542px;background:linear-gradient(#d60000 0px,#ff0100 42.5px,#ff3900 119.5px,#fffa00 370.5px,#ffff02 379.5px,#ffff39 417.5px,#ffffe4 495.5px,#fffffa 511.5px,#ffffff 530px)"></i><i style="left:544px;background:linear-gradient(#d80000 0px,#ff0100 40.5px,#ff3900 117.5px,#fffb00 370.5px,#ffff03 378.5px,#ffff38 415.5px,#ffffe4 494.5px,#fffffa 510.5px,#ffffff 530px)"></i><i style="left:546px;background:linear-gradient(#da0000 0px,#ff0100 38.5px,#ff3900 115.5px,#fffa00 367.5px,#ffff02 376.5px,#ffff39 414.5px,#ffffe4 493.5px,#fffff9 509.5px,#ffffff 528.5px,#ffffff 530px)"></i><i style="left:548px;background:linear-gradient(#dc0000 0px,#ff0100 36.5px,#ff3900 113.5px,#fff900 364.5px,#ffff02 374.5px,#ffff38 412.5px,#ffffe3 492.5px,#fffffa 509.5px,#ffffff 530px)"></i><i style="left:550px;background:linear-gradient(#dd0000 0px,#ff0200 35.5px,#ff3900 112.5px,#fff800 361.5px,#ffff02 372.5px,#ffff3a 411.5px,#ffffe3 491.5px,#fffff9 508.5px,#ffffff 528.5px,#ffffff 530px)"></i><i style="left:552px;background:linear-gradient(#df0000 0px,#ff0100 33.5px,#ff3900 110.5px,#fff800 359.5px,#ffff02 371.5px,#ffff39 409.5px,#ffffe1 489.5px,#fffff9 507.5px,#ffffff 526.5px,#ffffff 530px)"></i><i style="left:554px;background:linear-gradient(#e10000 0px,#ff0100 31.5px,#ff3900 109.5px,#fff700 356.5px,#ffff02 369.5px,#ffff3a 408.5px,#ffffe0 488.5px,#fffff9 506.5px,#ffffff 525.5px,#ffffff 530px)"></i><i style="left:556px;background:linear-gradient(#e30000 0px,#ff0100 29.5px,#ff3900 107.5px,#fff700 354.5px,#ffff02 367.5px,#ffff39 406.5px,#ffffe2 488.5px,#fffff9 506.5px,#ffffff 526.5px,#ffffff 530px)"></i><i style="left:558px;background:linear-gradient(#e50000 0px,#ff0100 27.5px,#ff3900 105.5px,#fff600 351.5px,#ffff03 366.5px,#ffff3a 405.5px,#ffffe1 487.5px,#fffff9 505.5px,#ffffff 525.5px,#ffffff 530px)"></i><i style="left:560px;background:linear-gradient(#e80000 0px,#ff0100 25.5px,#ff3800 103.5px,#fff600 349.5px,#ffff02 364.5px,#ffff39 403.5px,#ffffe1 486.5px,#fffff8 504.5px,#ffffff 524.5px,#ffffff 530px)"></i><i style="left:562px;background:linear-gradient(#ea0000 0px,#ff0100 23.5px,#ff3800 101.5px,#fff600 347.5px,#ffff02 362.5px,#ffff3a 402.5px,#ffffe0 485.5px,#fffff9 504.5px,#ffffff 524.5px,#ffffff 530px)"></i><i style="left:564px;background:linear-gradient(#ec0000 0px,#ff0100 21.5px,#ff3900 100.5px,#fff500 345.5px,#ffff03 361.5px,#ffff39 400.5px,#ffffe0 484.5px,#fffff8 503.5px,#ffffff 523.5px,#ffffff 530px)"></i><i style="left:566px;background:linear-gradient(#ee0000 0px,#ff0200 20.5px,#ff3900 99.5px,#fff500 343.5px,#ffff02 359.5px,#ffff3b 399.5px,#ffffe0 483.5px,#fffff8 502.5px,#ffffff 522.5px,#ffffff 530px)"></i><i style="left:568px;background:linear-gradient(#f00000 0px,#ff0200 18.5px,#ff3a00 98.5px,#fff500 341.5px,#ffff02 357.5px,#ffff3a 397.5px,#ffffdf 482.5px,#fffff8 502.5px,#ffffff 523.5px,#ffffff 530px)"></i><i style="left:570px;background:linear-gradient(#f10000 0px,#ff0200 16.5px,#ff3a00 96.5px,#fff500 340.5px,#ffff02 356.5px,#ffff3b 396.5px,#ffffdf 481.5px,#fffff8 501.5px,#ffffff 521.5px,#ffffff 530px)"></i><i style="left:572px;background:linear-gradient(#f30000 0px,#ff0100 14.5px,#ff3900 94.5px,#fff500 338.5px,#ffff02 354.5px,#ffff3a 394.5px,#ffffde 480.5px,#fffff8 500.5px,#ffffff 520.5px,#ffffff 530px)"></i><i style="left:574px;background:linear-gradient(#f50000 0px,#ff0100 12.5px,#ff3900 92.5px,#fff500 336.5px,#ffff02 352.5px,#ffff3b 393.5px,#ffffe0 480.5px,#fffff8 500.5px,#ffffff 521.5px,#ffffff 530px)"></i><i style="left:576px;background:linear-gradient(#f70000 0px,#ff0200 11.5px,#ff3a00 92.5px,#fff500 335.5px,#ffff01 350.5px,#ffff3b 391.5px,#ffffdf 479.5px,#fffff8 500.5px,#ffffff 522.5px,#ffffff 530px)"></i><i style="left:578px;background:linear-gradient(#f90000 0px,#ff0200 9.5px,#ff3a00 90.5px,#ffdf00 302.5px,#ffff02 349.5px,#ffff3c 390.5px,#ffffdf 478.5px,#fffff8 499.5px,#ffffff 521.5px,#ffffff 530px)"></i><i style="left:580px;background:linear-gradient(#fb0000 0px,#ff0300 9.5px,#ff3c00 91.5px,#ffda00 294.5px,#ffff02 347.5px,#ffff3c 388.5px,#ffffdf 477.5px,#fffff8 498.5px,#ffffff 520.5px,#ffffff 530px)"></i><i style="left:582px;background:linear-gradient(#fd0000 0px,#ff2b00 67.5px,#ffd200 283.5px,#ffff00 344.5px,#ffff3d 387.5px,#ffffde 476.5px,#fffff7 497.5px,#ffffff 519.5px,#ffffff 530px)"></i><i style="left:584px;background:linear-gradient(#ff0000 0px,#ff3600 79.5px,#ffd100 280.5px,#ffff00 342.5px,#ffff3c 385.5px,#ffffde 475.5px,#fffff8 497.5px,#ffffff 519.5px,#ffffff 530px)"></i><i style="left:586px;background:linear-gradient(#ff0100 0px,#ff3700 80.5px,#ffce00 276.5px,#fffb00 335.5px,#ffff03 343.5px,#ffff3e 384.5px,#ffffde 474.5px,#fffff8 496.5px,#ffffff 518.5px,#ffffff 530px)"></i><i style="left:588px;background:linear-gradient(#ff0200 0px,#ff3900 81.5px,#ffcc00 272.5px,#fff900 330.5px,#ffff02 341.5px,#ffff3d 382.5px,#ffffdc 472.5px,#fffff7 495.5px,#ffffff 517.5px,#ffffff 530px)"></i><i style="left:590px;background:linear-gradient(#ff0400 0px,#ff3b00 82.5px,#ffcb00 269.5px,#fff800 327.5px,#ffff02 339.5px,#ffff3e 381.5px,#ffffdd 472.5px,#fffff8 495.5px,#ffffff 518.5px,#ffffff 530px)"></i><i style="left:592px;background:linear-gradient(#ff0500 0px,#ff3e00 84.5px,#ffca00 266.5px,#fff700 324.5px,#ffff01 337.5px,#ffff3f 380.5px,#ffffdd 471.5px,#fffff7 494.5px,#ffffff 517.5px,#ffffff 530px)"></i><i style="left:594px;background:linear-gradient(#ff0600 0px,#ff4200 88.5px,#ffc900 264.5px,#fff600 322.5px,#ffff02 336.5px,#ffff40 379.5px,#ffffdd 470.5px,#fffff7 493.5px,#ffffff 516.5px,#ffffff 530px)"></i><i style="left:596px;background:linear-gradient(#ff0700 0px,#ff4700 93.5px,#ffc800 262.5px,#fff600 320.5px,#ffff01 334.5px,#ffff3f 377.5px,#ffffdc 469.5px,#fffff7 492.5px,#ffffff 515.5px,#ffffff 530px)"></i><i style="left:598px;background:linear-gradient(#ff0800 0px,#ff4c00 99.5px,#ffc900 261.5px,#fff600 319.5px,#ffff02 333.5px,#ffff40 376.5px,#ffffdc 468.5px,#fffff7 492.5px,#ffffff 515.5px,#ffffff 530px)"></i><i style="left:600px;background:linear-gradient(#ff0900 0px,#ff5000 103.5px,#ffc800 259.5px,#fff600 317.5px,#ffff01 331.5px,#ffff41 375.5px,#ffffdc 467.5px,#fffff7 491.5px,#ffffff 514.5px,#ffffff 530px)"></i><i style="left:602px;background:linear-gradient(#ff0b00 0px,#ff5500 107.5px,#ffc800 258.5px,#fff700 317.5px,#ffff02 330.5px,#ffff42 374.5px,#ffffdb 466.5px,#fffff6 490.5px,#ffffff 513.5px,#ffffff 530px)"></i><i style="left:604px;background:linear-gradient(#ff0c00 0px,#ff5b00 113.5px,#ffc900 257.5px,#fff700 316.5px,#ffff02 329.5px,#ffff42 373.5px,#ffffdb 465.5px,#fffff7 490.5px,#ffffff 514.5px,#ffffff 530px)"></i><i style="left:606px;background:linear-gradient(#ff0d00 0px,#ff6200 121.5px,#ffc900 256.5px,#fff900 317.5px,#ffff02 327.5px,#ffff45 373.5px,#ffffdb 464.5px,#fffff6 489.5px,#ffffff 513.5px,#ffffff 530px)"></i><i style="left:608px;background:linear-gradient(#ff0e00 0px,#ff6800 127.5px,#ffca00 255.5px,#fffa00 317.5px,#ffff02 326.5px,#ffff46 372.5px,#ffffda 463.5px,#fffff6 488.5px,#ffffff 512.5px,#ffffff 530px)"></i><i style="left:610px;background:linear-gradient(#ff0f00 0px,#ff6800 126.5px,#ffcc00 256.5px,#fffe00 321.5px,#ffff0a 330.5px,#ffff48 372.5px,#ffffdb 463.5px,#fffff7 488.5px,#ffffff 512.5px,#ffffff 530px)"></i><i style="left:612px;background:linear-gradient(#ff1000 0px,#ff6900 126.5px,#ffce00 257.5px,#ffff00 322.5px,#ffff49 371.5px,#ffffdb 462.5px,#fffff6 487.5px,#ffffff 511.5px,#ffffff 530px)"></i><i style="left:614px;background:linear-gradient(#ff1100 0px,#ff6900 125.5px,#ffd100 259.5px,#ffff01 321.5px,#ffff4b 371.5px,#ffffdb 461.5px,#fffff7 487.5px,#ffffff 512.5px,#ffffff 530px)"></i><i style="left:616px;background:linear-gradient(#ff1200 0px,#ff6b00 125.5px,#ffd400 262.5px,#ffff02 320.5px,#ffff4d 371.5px,#ffffda 460.5px,#fffff6 486.5px,#ffffff 511.5px,#ffffff 530px)"></i><i style="left:618px;background:linear-gradient(#ff1300 0px,#ff6c00 125.5px,#ffdb00 269.5px,#ffff02 319.5px,#ffff4f 371.5px,#ffffda 459.5px,#fffff6 485.5px,#ffffff 510.5px,#ffffff 530px)"></i><i style="left:620px;background:linear-gradient(#ff1500 0px,#ff6d00 125.5px,#ffff00 316.5px,#ffff50 370.5px,#ffffda 458.5px,#fffff6 485.5px,#ffffff 510.5px,#ffffff 530px)"></i><i style="left:622px;background:linear-gradient(#ff1600 0px,#ff6e00 125.5px,#ffff00 315.5px,#ffff57 373.5px,#ffffdb 458.5px,#fffff7 485.5px,#ffffff 511.5px,#ffffff 530px)"></i><i style="left:624px;background:linear-gradient(#ff1700 0px,#ff7000 126.5px,#ffff01 314.5px,#ffff5e 376.5px,#ffffda 457.5px,#fffff6 484.5px,#ffffff 510.5px,#ffffff 530px)"></i><i style="left:626px;background:linear-gradient(#ff1800 0px,#ff7100 126.5px,#ffff00 312.5px,#ffff63 378.5px,#ffffda 456.5px,#fffff6 483.5px,#ffffff 509.5px,#ffffff 530px)"></i><i style="left:628px;background:linear-gradient(#ff1a00 0px,#ff6b00 117.5px,#ffff00 311.5px,#ffff71 386.5px,#ffffdb 456.5px,#fffff6 483.5px,#ffffff 509.5px,#ffffff 530px)"></i><i style="left:630px;background:linear-gradient(#ff1c00 0px,#ff6200 104.5px,#ffff01 310.5px,#ffff86 398.5px,#ffffdd 457.5px,#fffff7 484.5px,#ffffff 511.5px,#ffffff 530px)"></i><i style="left:632px;background:linear-gradient(#ff1e00 0px,#ff6000 100.5px,#ffff01 309.5px,#ffffda 454.5px,#fffff6 482.5px,#ffffff 509.5px,#ffffff 530px)"></i><i style="left:634px;background:linear-gradient(#ff1f00 0px,#ff6000 99.5px,#ffff01 308.5px,#ffffda 453.5px,#fffff6 481.5px,#ffffff 508.5px,#ffffff 530px)"></i></div><div style="position:absolute;left:1674.0px;top:113.9px;width:51.6px;height:469.8px;background:linear-gradient(#380000 0%,#ff0000 25%,#ffff00 75%,#ffffff 100%)"></div><div class="hm" style="left:548px;top:745px;width:636px;height:530px"><i style="left:0px;background:linear-gradient(#590000 0px,#9b0000 68.5px,#e40000 133.5px,#ff0100 154.5px,#ff3000 204.5px,#ff6100 247.5px,#ffa800 300.5px,#ffff00 354.5px,#ffff80 394.5px,#ffffbd 415.5px,#ffffe1 433.5px,#fffff6 453.5px,#ffffff 481.5px,#ffffff 530px)"></i><i style="left:2px;background:linear-gradient(#590000 0px,#9b0000 68.5px,#e40000 133.5px,#ff0100 154.5px,#ff3000 204.5px,#ff6000 247.5px,#ffa700 299.5px,#ffff00 354.5px,#ffffb1 410.5px,#ffffda 428.5px,#fffff2 447.5px,#fffffe 471.5px,#ffffff 530px)"></i><i style="left:4px;background:linear-gradient(#590000 0px,#9b0000 68.5px,#e40000 133.5px,#ff0200 155.5px,#ff3100 205.5px,#ff6100 248.5px,#ffa600 299.5px,#ffff02 355.5px,#ffffb2 410.5px,#ffffd9 427.5px,#fffff1 445.5px,#fffffd 468.5px,#ffffff 530px)"></i><i style="left:6px;background:linear-gradient(#590000 0px,#9b0000 68.5px,#e40000 133.5px,#ff0200 155.5px,#ff3100 205.5px,#ff6100 248.5px,#ffa600 299.5px,#ffff01 355.5px,#ffffb5 411.5px,#ffffdb 428.5px,#fffff2 446.5px,#fffffe 470.5px,#ffffff 530px)"></i><i style="left:8px;background:linear-gradient(#590000 0px,#9b0000 68.5px,#e40000 133.5px,#ff0100 155.5px,#ff3100 205.5px,#ff6100 248.5px,#ffa400 298.5px,#ffff00 355.5px,#ffffb4 411.5px,#ffffda 428.5px,#fffff2 446.5px,#fffffe 470.5px,#ffffff 530px)"></i><i style="left:10px;background:linear-gradient(#590000 0px,#9b0000 68.5px,#e40000 133.5px,#ff0100 155.5px,#ff3000 205.5px,#ff6000 248.5px,#ffa200 297.5px,#ffff02 356.5px,#ffffb6 412.5px,#ffffdc 429.5px,#fffff3 447.5px,#fffffe 471.5px,#ffffff 530px)"></i><i style="left:12px;background:linear-gradient(#590000 0px,#9b0000 68.5px,#e40000 133.5px,#ff0100 155.5px,#ff3100 206.5px,#ff6100 249.5px,#ffa200 297.5px,#ffff00 356.5px,#ffffb5 412.5px,#ffffdb 429.5px,#fffff3 447.5px,#fffffe 471.5px,#ffffff 530px)"></i><i style="left:14px;background:linear-gradient(#590000 0px,#9b0000 68.5px,#e50000 134.5px,#ff0100 155.5px,#ff3100 206.5px,#ff6100 249.5px,#ffa100 297.5px,#ffff00 356.5px,#ffffb6 413.5px,#ffffdc 430.5px,#fffff3 448.5px,#fffffe 472.5px,#ffffff 530px)"></i><i style="left:16px;background:linear-gradient(#590000 0px,#9b0000 68.5px,#e50000 134.5px,#ff0100 155.5px,#ff3100 206.5px,#ff6100 249.5px,#ffa100 297.5px,#ffff01 357.5px,#ffffb8 414.5px,#ffffdd 431.5px,#fffff4 449.5px,#fffffe 474.5px,#ffffff 530px)"></i><i style="left:18px;background:linear-gradient(#590000 0px,#9b0000 68.5px,#e50000 134.5px,#ff0100 155.5px,#ff3200 207.5px,#ff6100 249.5px,#ff9f00 296.5px,#ffff00 357.5px,#ffff8b 400.5px,#ffffc1 418.5px,#ffffe3 435.5px,#fffff7 454.5px,#ffffff 482.5px,#ffffff 530px)"></i><i style="left:20px;background:linear-gradient(#5a0000 0px,#9b0000 68.5px,#e50000 134.5px,#ff0100 155.5px,#ff3200 207.5px,#ff6000 249.5px,#ff9d00 295.5px,#ffff02 358.5px,#ffff7c 396.5px,#ffffbd 417.5px,#ffffe0 434.5px,#fffff6 453.5px,#ffffff 480.5px,#ffffff 530px)"></i><i style="left:22px;background:linear-gradient(#5a0000 0px,#9b0000 68.5px,#e50000 134.5px,#ff0100 155.5px,#ff3300 208.5px,#ff6100 250.5px,#ff9e00 296.5px,#ffff00 358.5px,#ffff6c 392.5px,#ffffb9 416.5px,#ffffde 433.5px,#fffff4 451.5px,#fffffe 476.5px,#ffffff 530px)"></i><i style="left:24px;background:linear-gradient(#5a0000 0px,#9b0000 68.5px,#e50000 134.5px,#ff0100 155.5px,#ff3300 208.5px,#ff6200 251.5px,#ff9e00 296.5px,#ffff02 359.5px,#ffff67 391.5px,#ffffb9 417.5px,#ffffde 434.5px,#fffff4 452.5px,#fffffe 477.5px,#ffffff 530px)"></i><i style="left:26px;background:linear-gradient(#5a0000 0px,#9b0000 68.5px,#e50000 134.5px,#ff0100 155.5px,#ff3300 209.5px,#ff6200 251.5px,#ff9c00 295.5px,#ffff00 359.5px,#ffff5e 389.5px,#ffffb7 417.5px,#ffffdd 434.5px,#fffff4 452.5px,#fffffe 476.5px,#ffffff 530px)"></i><i style="left:28px;background:linear-gradient(#5a0000 0px,#9b0000 68.5px,#e50000 134.5px,#ff0100 155.5px,#ff3300 209.5px,#ff6200 251.5px,#ff9c00 295.5px,#ffff01 360.5px,#ffff5f 390.5px,#ffffb7 418.5px,#ffffdd 435.5px,#fffff4 453.5px,#fffffe 477.5px,#ffffff 530px)"></i><i style="left:30px;background:linear-gradient(#5a0000 0px,#9b0000 68.5px,#e50000 134.5px,#ff0100 155.5px,#ff3400 210.5px,#ff6200 252.5px,#ff9d00 296.5px,#ffff00 360.5px,#ffff55 388.5px,#ffffb7 419.5px,#ffffdd 436.5px,#fffff4 454.5px,#fffffe 478.5px,#ffffff 530px)"></i><i style="left:32px;background:linear-gradient(#5a0000 0px,#9b0000 68.5px,#e50000 134.5px,#ff0100 155.5px,#ff3400 210.5px,#ff6200 252.5px,#ff9b00 295.5px,#ffff00 361.5px,#ffff63 393.5px,#ffffba 421.5px,#ffffde 438.5px,#fffff4 456.5px,#fffffe 480.5px,#ffffff 530px)"></i><i style="left:34px;background:linear-gradient(#5a0000 0px,#9b0000 68.5px,#e50000 134.5px,#ff0100 155.5px,#ff3500 211.5px,#ff6400 254.5px,#ff9b00 296.5px,#ffff00 362.5px,#ffff79 401.5px,#ffffbc 423.5px,#ffffe1 441.5px,#fffff6 460.5px,#ffffff 487.5px,#ffffff 530px)"></i><i style="left:36px;background:linear-gradient(#5a0000 0px,#9b0000 68.5px,#e50000 134.5px,#ff0100 155.5px,#ff3600 212.5px,#ff6400 254.5px,#ff9b00 296.5px,#ffff01 363.5px,#ffff95 411.5px,#ffffc7 429.5px,#ffffe8 447.5px,#fffffa 467.5px,#ffffff 503.5px,#ffffff 530px)"></i><i style="left:38px;background:linear-gradient(#5a0000 0px,#9b0000 68.5px,#e50000 134.5px,#ff0100 155.5px,#ff3600 212.5px,#ff6300 254.5px,#ff9900 295.5px,#ffff01 364.5px,#ffffba 425.5px,#ffffe0 443.5px,#fffff6 462.5px,#ffffff 488.5px,#ffffff 530px)"></i><i style="left:40px;background:linear-gradient(#5b0000 0px,#9b0000 68.5px,#e50000 134.5px,#ff0100 155.5px,#ff3600 213.5px,#ff6500 256.5px,#ff9900 296.5px,#ffff01 365.5px,#ffffb9 426.5px,#ffffdf 444.5px,#fffff6 463.5px,#ffffff 488.5px,#ffffff 530px)"></i><i style="left:42px;background:linear-gradient(#5b0000 0px,#9a0000 67.5px,#e50000 134.5px,#ff0100 155.5px,#ff3800 215.5px,#ff6800 259.5px,#ff9d00 299.5px,#ffff02 366.5px,#ffffba 428.5px,#ffffe0 446.5px,#fffff6 465.5px,#ffffff 490.5px,#ffffff 530px)"></i><i style="left:44px;background:linear-gradient(#5b0000 0px,#9b0000 67.5px,#e50000 134.5px,#ff0100 155.5px,#ff3900 216.5px,#ff6900 260.5px,#ff9c00 299.5px,#ffff02 367.5px,#ffffb9 429.5px,#ffffe0 448.5px,#fffff6 467.5px,#ffffff 492.5px,#ffffff 530px)"></i><i style="left:46px;background:linear-gradient(#5b0000 0px,#9b0000 67.5px,#e50000 134.5px,#ff0100 155.5px,#ff3b00 218.5px,#ff6d00 264.5px,#ffa500 306.5px,#ffff02 368.5px,#ffffba 431.5px,#ffffe1 450.5px,#fffff7 469.5px,#ffffff 495.5px,#ffffff 530px)"></i><i style="left:48px;background:linear-gradient(#5b0000 0px,#9b0000 67.5px,#e50000 134.5px,#ff0100 155.5px,#ff3c00 220.5px,#ff7500 271.5px,#ffe400 350.5px,#ffff01 369.5px,#ffffb8 432.5px,#ffffe0 451.5px,#fffff6 470.5px,#ffffff 495.5px,#ffffff 530px)"></i><i style="left:50px;background:linear-gradient(#5b0000 0px,#9b0000 67.5px,#e50000 134.5px,#ff0100 155.5px,#ff3e00 222.5px,#ff8000 281.5px,#ffff01 370.5px,#ffffb9 434.5px,#ffffe0 453.5px,#fffff7 472.5px,#ffffff 497.5px,#ffffff 530px)"></i><i style="left:52px;background:linear-gradient(#5b0000 0px,#9b0000 67.5px,#e50000 134.5px,#ff0100 155.5px,#ff4000 224.5px,#ff8500 285.5px,#ffff00 371.5px,#ffffba 436.5px,#ffffe1 455.5px,#fffff7 474.5px,#ffffff 499.5px,#ffffff 530px)"></i><i style="left:54px;background:linear-gradient(#5c0000 0px,#9b0000 67.5px,#e50000 134.5px,#ff0100 155.5px,#ff4100 226.5px,#ff8c00 291.5px,#ffff00 372.5px,#ffffbb 438.5px,#ffffe1 457.5px,#fffff7 476.5px,#ffffff 501.5px,#ffffff 530px)"></i><i style="left:56px;background:linear-gradient(#5c0000 0px,#9b0000 67.5px,#e50000 134.5px,#ff0100 155.5px,#ff4300 228.5px,#ff8d00 292.5px,#ffff01 374.5px,#ffffbb 440.5px,#ffffe3 460.5px,#fffff8 479.5px,#ffffff 505.5px,#ffffff 530px)"></i><i style="left:58px;background:linear-gradient(#5c0000 0px,#9b0000 67.5px,#e50000 134.5px,#ff0100 155.5px,#ff4600 231.5px,#ff8d00 293.5px,#ffff00 375.5px,#ffffbc 442.5px,#ffffe4 462.5px,#fffff8 481.5px,#ffffff 507.5px,#ffffff 530px)"></i><i style="left:60px;background:linear-gradient(#5c0000 0px,#9b0000 67.5px,#e50000 134.5px,#ff0100 155.5px,#ff4700 233.5px,#ff8d00 294.5px,#ffff01 377.5px,#ffffbc 444.5px,#ffffe4 464.5px,#fffff9 483.5px,#ffffff 510.5px,#ffffff 530px)"></i><i style="left:62px;background:linear-gradient(#5c0000 0px,#9c0000 67.5px,#e50000 134.5px,#ff0100 155.5px,#ff4900 235.5px,#ff8f00 296.5px,#ffff00 378.5px,#ffffbc 446.5px,#ffffe4 466.5px,#fffff8 484.5px,#ffffff 509.5px,#ffffff 530px)"></i><i style="left:64px;background:linear-gradient(#5c0000 0px,#9b0000 66.5px,#e50000 134.5px,#ff0100 155.5px,#ff4b00 238.5px,#ff9100 298.5px,#ffff00 380.5px,#ffffbc 448.5px,#ffffe4 468.5px,#fffff9 486.5px,#ffffff 511.5px,#ffffff 530px)"></i><i style="left:66px;background:linear-gradient(#5d0000 0px,#9b0000 66.5px,#e50000 134.5px,#ff0100 155.5px,#ff4c00 239.5px,#ff9100 299.5px,#ffff01 382.5px,#ffffbe 451.5px,#ffffe6 471.5px,#fffff9 489.5px,#ffffff 516.5px,#ffffff 530px)"></i><i style="left:68px;background:linear-gradient(#5d0000 0px,#9b0000 66.5px,#e70000 135.5px,#ff0100 155.5px,#ff4d00 240.5px,#ff9100 300.5px,#ffff01 384.5px,#ffffbe 453.5px,#ffffe6 473.5px,#fffffa 491.5px,#ffffff 518.5px,#ffffff 530px)"></i><i style="left:70px;background:linear-gradient(#5d0000 0px,#9b0000 66.5px,#e70000 135.5px,#ff0100 155.5px,#ff4e00 241.5px,#ff9300 302.5px,#ffff02 386.5px,#ffffbe 455.5px,#ffffe6 475.5px,#fffffa 493.5px,#ffffff 520.5px,#ffffff 530px)"></i><i style="left:72px;background:linear-gradient(#5d0000 0px,#9b0000 66.5px,#e70000 135.5px,#ff0100 155.5px,#ff4d00 241.5px,#ff9300 303.5px,#ffff02 388.5px,#ffffc0 458.5px,#ffffe8 478.5px,#fffffa 495.5px,#ffffff 523.5px,#ffffff 530px)"></i><i style="left:74px;background:linear-gradient(#5e0000 0px,#9c0000 66.5px,#e70000 135.5px,#ff0100 155.5px,#ff4e00 242.5px,#ff9400 305.5px,#ffff02 390.5px,#ffffc2 461.5px,#ffffe9 481.5px,#fffffb 498.5px,#ffffff 530px)"></i><i style="left:76px;background:linear-gradient(#5e0000 0px,#9c0000 66.5px,#e70000 135.5px,#ff0100 155.5px,#ff4e00 242.5px,#ff9600 307.5px,#ffff02 392.5px,#ffffc4 464.5px,#ffffea 483.5px,#fffffb 500.5px,#ffffff 530px)"></i><i style="left:78px;background:linear-gradient(#5e0000 0px,#9c0000 66.5px,#e70000 135.5px,#ff0100 155.5px,#ff4f00 243.5px,#ff9700 309.5px,#fffc00 391.5px,#ffff04 395.5px,#ffffc6 467.5px,#ffffeb 486.5px,#fffffc 503.5px,#ffffff 530px)"></i><i style="left:80px;background:linear-gradient(#5e0000 0px,#9b0000 65.5px,#e80000 135.5px,#ff0100 155.5px,#ff4f00 244.5px,#ff9800 311.5px,#fffa00 392.5px,#ffff03 397.5px,#ffffc7 470.5px,#ffffed 489.5px,#fffffc 505.5px,#ffffff 530px)"></i><i style="left:82px;background:linear-gradient(#5f0000 0px,#9c0000 65.5px,#e80000 135.5px,#ff0100 155.5px,#ff4f00 244.5px,#ff9b00 314.5px,#fff800 393.5px,#ffff00 398.5px,#ffffc9 473.5px,#ffffee 492.5px,#fffffd 508.5px,#ffffff 530px)"></i><i style="left:84px;background:linear-gradient(#5f0000 0px,#9c0000 65.5px,#e80000 135.5px,#ff0100 155.5px,#ff5000 245.5px,#ff9d00 317.5px,#fff700 394.5px,#ffff02 401.5px,#ffffcd 477.5px,#fffff0 495.5px,#fffffd 511.5px,#ffffff 530px)"></i><i style="left:86px;background:linear-gradient(#5f0000 0px,#9c0000 65.5px,#e80000 135.5px,#ff0100 155.5px,#ff5100 246.5px,#ffa000 321.5px,#fff600 396.5px,#ffff01 403.5px,#ffffcf 480.5px,#fffff0 497.5px,#fffffd 512.5px,#ffffff 530px)"></i><i style="left:88px;background:linear-gradient(#600000 0px,#9b0000 64.5px,#e80000 135.5px,#ff0200 155.5px,#ff5100 247.5px,#ffa300 325.5px,#fff600 398.5px,#ffff03 406.5px,#ffffd3 484.5px,#fffff3 501.5px,#fffffe 516.5px,#ffffff 530px)"></i><i style="left:90px;background:linear-gradient(#600000 0px,#9c0000 64.5px,#e90000 135.5px,#ff0100 154.5px,#ff5100 247.5px,#ffa900 331.5px,#fff500 400.5px,#ffff01 408.5px,#ffffd7 488.5px,#fffff4 504.5px,#ffffff 519.5px,#ffffff 530px)"></i><i style="left:92px;background:linear-gradient(#600000 0px,#9c0000 64.5px,#e90000 135.5px,#ff0100 154.5px,#ff5200 248.5px,#ffb200 341.5px,#fff400 402.5px,#ffff02 411.5px,#ffff7b 456.5px,#ffffdb 492.5px,#fffff6 507.5px,#ffffff 522.5px,#ffffff 530px)"></i><i style="left:94px;background:linear-gradient(#600000 0px,#9c0000 64.5px,#e90000 135.5px,#ff0100 154.5px,#ff5400 250.5px,#ffe700 394.5px,#ffff00 413.5px,#ffff5f 449.5px,#ffffdd 495.5px,#fffff6 509.5px,#ffffff 523.5px,#ffffff 530px)"></i><i style="left:96px;background:linear-gradient(#610000 0px,#9c0000 63.5px,#ea0000 135.5px,#ff0100 154.5px,#ff5500 251.5px,#ffee00 402.5px,#ffff00 416.5px,#ffff54 448.5px,#ffffde 498.5px,#fffff8 512.5px,#ffffff 526.5px,#ffffff 530px)"></i><i style="left:98px;background:linear-gradient(#610000 0px,#9c0000 63.5px,#ea0000 135.5px,#ff0200 154.5px,#ff5600 253.5px,#fff200 408.5px,#ffff01 419.5px,#ffff4b 448.5px,#ffffe2 502.5px,#fffff9 515.5px,#ffffff 530px)"></i><i style="left:100px;background:linear-gradient(#610000 0px,#9c0000 63.5px,#eb0000 135.5px,#ff0100 153.5px,#ff5800 255.5px,#fff100 410.5px,#ffff00 422.5px,#ffff47 450.5px,#ffffe4 505.5px,#fffffa 517.5px,#ffffff 530px)"></i><i style="left:102px;background:linear-gradient(#620000 0px,#9d0000 63.5px,#eb0000 135.5px,#ff0100 153.5px,#ff5b00 258.5px,#fff100 413.5px,#ffff02 426.5px,#ffff43 452.5px,#ffffe8 509.5px,#fffffb 520.5px,#ffffff 530px)"></i><i style="left:104px;background:linear-gradient(#620000 0px,#9c0000 62.5px,#ea0000 134.5px,#ff0200 153.5px,#ff5f00 263.5px,#fff000 416.5px,#ffff01 429.5px,#ffff41 455.5px,#ffffea 512.5px,#fffffc 522.5px,#ffffff 530px)"></i><i style="left:106px;background:linear-gradient(#620000 0px,#9d0000 62.5px,#eb0000 134.5px,#ff0100 152.5px,#ff6400 268.5px,#fff000 419.5px,#ffff00 432.5px,#ffff3f 458.5px,#ffffec 515.5px,#fffffd 525.5px,#ffffff 530px)"></i><i style="left:108px;background:linear-gradient(#630000 0px,#9d0000 62.5px,#eb0000 134.5px,#ff0100 152.5px,#ff6a00 275.5px,#fff100 423.5px,#ffff01 436.5px,#ffff3d 461.5px,#ffffd4 509.5px,#fffff6 521.5px,#fffffe 530px)"></i><i style="left:110px;background:linear-gradient(#630000 0px,#9c0000 61.5px,#eb0000 133.5px,#ff0100 151.5px,#ff6c00 277.5px,#fff000 426.5px,#ffff02 440.5px,#ffff3d 465.5px,#ffffc8 508.5px,#fffff4 522.5px,#fffffe 530px)"></i><i style="left:112px;background:linear-gradient(#640000 0px,#9d0000 61.5px,#eb0000 133.5px,#ff0100 151.5px,#ff6f00 280.5px,#ffef00 429.5px,#ffff01 444.5px,#ffff3c 469.5px,#ffffc1 509.5px,#fffff2 523.5px,#fffffd 530px)"></i><i style="left:114px;background:linear-gradient(#640000 0px,#9c0000 60.5px,#eb0000 132.5px,#ff0100 150.5px,#ff7000 282.5px,#ffef00 433.5px,#ffff01 448.5px,#ffff3a 473.5px,#ffffba 510.5px,#fffff2 525.5px,#fffffb 530px)"></i><i style="left:116px;background:linear-gradient(#640000 0px,#9d0000 60.5px,#eb0000 132.5px,#ff0100 150.5px,#ff7400 286.5px,#ffee00 437.5px,#ffff01 453.5px,#ffff38 477.5px,#ffffb5 512.5px,#fffff1 527.5px,#fffff7 530px)"></i><i style="left:118px;background:linear-gradient(#650000 0px,#9d0000 60.5px,#eb0000 131.5px,#ff0100 149.5px,#ff7700 290.5px,#ffd800 415.5px,#fff300 446.5px,#ffff01 458.5px,#ffff38 482.5px,#ffffb4 515.5px,#ffffeb 528.5px,#ffffee 530px)"></i><i style="left:120px;background:linear-gradient(#650000 0px,#9e0000 60.5px,#eb0000 131.5px,#ff0200 149.5px,#ff7d00 296.5px,#ffcf00 406.5px,#ffef00 447.5px,#ffff01 463.5px,#ffff38 487.5px,#ffffaf 517.5px,#ffffe4 530px)"></i><i style="left:122px;background:linear-gradient(#660000 0px,#9e0000 59.5px,#eb0000 130.5px,#ff0100 148.5px,#ff9b00 335.5px,#ffe200 439.5px,#ffff01 468.5px,#ffff36 491.5px,#ffffa0 517.5px,#ffffda 530px)"></i><i style="left:124px;background:linear-gradient(#660000 0px,#9e0000 59.5px,#ea0000 129.5px,#ff0200 148.5px,#ff9600 329.5px,#ffc700 401.5px,#ffec00 455.5px,#ffff01 473.5px,#ffff37 496.5px,#ffff9c 519.5px,#ffffd1 530px)"></i><i style="left:126px;background:linear-gradient(#670000 0px,#9e0000 58.5px,#eb0000 129.5px,#ff0100 147.5px,#ff9300 325.5px,#ffc000 391.5px,#ffeb00 460.5px,#ffff00 478.5px,#ffff35 500.5px,#ffff61 510.5px,#ffffa9 524.5px,#ffffc8 530px)"></i><i style="left:128px;background:linear-gradient(#670000 0px,#9e0000 58.5px,#eb0000 128.5px,#ff0100 146.5px,#ff9000 322.5px,#ffbc00 387.5px,#ffea00 465.5px,#ffff01 484.5px,#ffff32 504.5px,#ffff58 512.5px,#ffffa8 526.5px,#ffffbc 530px)"></i><i style="left:130px;background:linear-gradient(#680000 0px,#9f0000 58.5px,#eb0000 128.5px,#ff0200 146.5px,#ff8e00 319.5px,#ffba00 384.5px,#ffe900 471.5px,#ffff02 490.5px,#ffff33 509.5px,#ffff52 515.5px,#ffffa7 528.5px,#ffffaf 530px)"></i><i style="left:132px;background:linear-gradient(#680000 0px,#9f0000 57.5px,#eb0000 127.5px,#ff0100 145.5px,#ff8d00 317.5px,#ffb900 383.5px,#ffe900 477.5px,#ffff01 495.5px,#ffff32 513.5px,#ffff4d 518.5px,#ffff97 528.5px,#ffffa0 530px)"></i><i style="left:134px;background:linear-gradient(#690000 0px,#9f0000 57.5px,#ec0000 127.5px,#ff0100 144.5px,#ff8c00 315.5px,#ffb700 381.5px,#ffe800 483.5px,#ffff02 501.5px,#ffff31 517.5px,#ffff49 521.5px,#ffff8c 530px)"></i><i style="left:136px;background:linear-gradient(#690000 0px,#9f0000 56.5px,#eb0000 126.5px,#ff0200 144.5px,#ff8b00 313.5px,#ffb700 380.5px,#ffe800 490.5px,#ffff01 506.5px,#ffff34 521.5px,#ffff53 525.5px,#ffff77 530px)"></i><i style="left:138px;background:linear-gradient(#6a0000 0px,#a00000 56.5px,#ec0000 126.5px,#ff0100 143.5px,#ff8b00 311.5px,#ffb600 379.5px,#ffe700 496.5px,#ffff00 511.5px,#ffff31 523.5px,#ffff63 530px)"></i><i style="left:140px;background:linear-gradient(#6b0000 0px,#a00000 56.5px,#ec0000 125.5px,#ff0100 142.5px,#ff8a00 309.5px,#ffb500 377.5px,#ffe700 504.5px,#fffa00 515.5px,#ffff01 517.5px,#ffff2a 524.5px,#ffff4e 530px)"></i><i style="left:142px;background:linear-gradient(#6b0000 0px,#a00000 55.5px,#ec0000 124.5px,#ff0100 141.5px,#ff8a00 307.5px,#ffb500 375.5px,#ffe600 510.5px,#fff000 517.5px,#ffff01 522.5px,#ffff37 527.5px,#ffff45 530px)"></i><i style="left:144px;background:linear-gradient(#6c0000 0px,#a10000 55.5px,#ed0000 124.5px,#ff0200 141.5px,#ff8a00 306.5px,#ffb500 373.5px,#ffe600 505.5px,#fff700 518.5px,#ffff01 521.5px,#ffff44 530px)"></i><i style="left:146px;background:linear-gradient(#6c0000 0px,#a10000 55.5px,#ec0000 123.5px,#ff0100 140.5px,#ff8a00 304.5px,#ffb600 372.5px,#ffe700 496.5px,#ffff00 512.5px,#ffff24 521.5px,#ffff44 526.5px,#ffff5e 530px)"></i><i style="left:148px;background:linear-gradient(#6d0000 0px,#a10000 54.5px,#ed0000 123.5px,#ff0100 139.5px,#ff8a00 303.5px,#ffb600 370.5px,#ffe700 488.5px,#ffff00 504.5px,#ffff31 517.5px,#ffff58 523.5px,#ffff8b 530px)"></i><i style="left:150px;background:linear-gradient(#6d0000 0px,#a20000 54.5px,#ed0000 122.5px,#ff0100 138.5px,#ff8a00 301.5px,#ffb600 368.5px,#ffe700 480.5px,#ffff00 496.5px,#ffff33 510.5px,#ffff59 517.5px,#ffffa9 530px)"></i><i style="left:152px;background:linear-gradient(#6e0000 0px,#a30000 54.5px,#ee0000 122.5px,#ff0100 137.5px,#ff7400 271.5px,#ffb300 358.5px,#ffe700 472.5px,#ffff01 488.5px,#ffff3f 505.5px,#ffff96 522.5px,#ffffb9 530px)"></i><i style="left:154px;background:linear-gradient(#6f0000 0px,#a30000 53.5px,#ee0000 121.5px,#ff0100 136.5px,#ff6c00 260.5px,#ff9000 305.5px,#ffb700 364.5px,#ffe700 465.5px,#ffff00 480.5px,#ffff59 504.5px,#ffffab 523.5px,#ffffc7 530px)"></i><i style="left:156px;background:linear-gradient(#6f0000 0px,#a40000 53.5px,#f00000 121.5px,#ff0100 135.5px,#ff6600 252.5px,#ff8c00 298.5px,#ffb800 362.5px,#ffe700 458.5px,#ffff00 473.5px,#ffffa5 519.5px,#ffffd2 530px)"></i><i style="left:158px;background:linear-gradient(#700000 0px,#a40000 53.5px,#f00000 120.5px,#ff0100 134.5px,#ff6100 246.5px,#ff8b00 294.5px,#ffb800 360.5px,#ffe800 452.5px,#fffe00 466.5px,#ffff62 496.5px,#ffffa7 517.5px,#ffffda 530px)"></i><i style="left:160px;background:linear-gradient(#710000 0px,#a50000 53.5px,#f00000 119.5px,#ff0100 133.5px,#ff5f00 242.5px,#ff8b00 292.5px,#ffb800 357.5px,#ffe800 446.5px,#ffff00 460.5px,#ffff47 482.5px,#ffffa8 515.5px,#ffffe0 530px)"></i><i style="left:162px;background:linear-gradient(#710000 0px,#a60000 53.5px,#f10000 119.5px,#ff0100 132.5px,#ff5d00 238.5px,#ff8a00 289.5px,#ffb900 356.5px,#ffe800 440.5px,#ffff02 455.5px,#ffff3f 474.5px,#ffffa9 513.5px,#ffffe7 530px)"></i><i style="left:164px;background:linear-gradient(#720000 0px,#a70000 53.5px,#f10000 118.5px,#ff0100 131.5px,#ff5b00 235.5px,#ff8a00 287.5px,#ffbb00 355.5px,#ffe800 434.5px,#ffff01 449.5px,#ffff3f 469.5px,#ffffaa 511.5px,#ffffed 530px)"></i><i style="left:166px;background:linear-gradient(#730000 0px,#a80000 53.5px,#f10000 117.5px,#ff0100 130.5px,#ff5b00 233.5px,#ff8a00 284.5px,#ffbc00 354.5px,#ffe800 428.5px,#ffff00 443.5px,#ffff3e 464.5px,#ffffae 510.5px,#ffffe8 526.5px,#fffff3 530px)"></i><i style="left:168px;background:linear-gradient(#730000 0px,#aa0000 54.5px,#f10000 116.5px,#ff0200 129.5px,#ff5b00 231.5px,#ff8a00 282.5px,#ffbe00 354.5px,#ffe900 423.5px,#ffff01 438.5px,#ffff3d 459.5px,#ffffae 508.5px,#ffffe9 525.5px,#fffff6 530px)"></i><i style="left:170px;background:linear-gradient(#740000 0px,#ad0000 55.5px,#f10000 115.5px,#ff0200 128.5px,#ff5900 228.5px,#ff8a00 280.5px,#ffc000 354.5px,#ffe900 417.5px,#ffff01 433.5px,#ffff3c 454.5px,#ffffb0 506.5px,#fffff9 530px)"></i><i style="left:172px;background:linear-gradient(#750000 0px,#af0000 56.5px,#f10000 114.5px,#ff0200 127.5px,#ff5900 226.5px,#ff8900 277.5px,#ffc300 355.5px,#ffea00 412.5px,#ffff02 428.5px,#ffff3b 449.5px,#ffffb1 504.5px,#fffff8 528.5px,#fffffa 530px)"></i><i style="left:174px;background:linear-gradient(#760000 0px,#b30000 59.5px,#f30000 114.5px,#ff0100 125.5px,#ff5700 223.5px,#ff8900 275.5px,#ffc700 358.5px,#ffea00 407.5px,#ffff00 422.5px,#ffff3c 445.5px,#ffffaf 501.5px,#fffff8 527.5px,#fffffc 530px)"></i><i style="left:176px;background:linear-gradient(#770000 0px,#b90000 63.5px,#f60000 115.5px,#ff0100 124.5px,#ff5700 221.5px,#ff8900 273.5px,#ffcd00 363.5px,#ffeb00 402.5px,#ffff00 417.5px,#ffff3b 440.5px,#ffffb1 499.5px,#fffff8 526.5px,#fffffd 530px)"></i><i style="left:178px;background:linear-gradient(#780000 0px,#c00000 69.5px,#ff0100 123.5px,#ff5700 219.5px,#ff8a00 272.5px,#ffd700 372.5px,#ffed00 398.5px,#ffff02 413.5px,#ffff3b 436.5px,#ffffb2 497.5px,#fffff7 524.5px,#fffffe 530px)"></i><i style="left:180px;background:linear-gradient(#790000 0px,#cb0000 78.5px,#ff0100 121.5px,#ff5500 216.5px,#ff8b00 270.5px,#ffec00 392.5px,#ffff02 408.5px,#ffff3c 432.5px,#ffffb4 495.5px,#fffff7 523.5px,#fffffe 530px)"></i><i style="left:182px;background:linear-gradient(#7a0000 0px,#d90000 89.5px,#ff0100 120.5px,#ff5400 213.5px,#ff8c00 269.5px,#ffed00 388.5px,#ffff01 403.5px,#ffff3c 428.5px,#ffffb4 492.5px,#fffff7 521.5px,#fffffe 530px)"></i><i style="left:184px;background:linear-gradient(#7b0000 0px,#dd0000 91.5px,#ff0100 119.5px,#ff5400 211.5px,#ff8c00 267.5px,#ffed00 383.5px,#ffff02 399.5px,#ffff3e 425.5px,#ffffb6 490.5px,#fffff6 519.5px,#ffffff 530px)"></i><i style="left:186px;background:linear-gradient(#7c0000 0px,#e20000 94.5px,#ff0100 118.5px,#ff5200 208.5px,#ff8d00 266.5px,#ffee00 379.5px,#ffff01 394.5px,#ffff3d 421.5px,#ffffb9 488.5px,#fffff4 516.5px,#fffffe 527.5px,#ffffff 530px)"></i><i style="left:188px;background:linear-gradient(#7d0000 0px,#e50000 95.5px,#ff0100 117.5px,#ff5100 205.5px,#ff8f00 266.5px,#fff000 376.5px,#ffff01 390.5px,#ffff3e 418.5px,#ffffbb 486.5px,#fffff4 514.5px,#fffffe 526.5px,#ffffff 530px)"></i><i style="left:190px;background:linear-gradient(#7e0000 0px,#e50000 94.5px,#ff0100 115.5px,#ff4f00 202.5px,#ff9100 266.5px,#fff300 374.5px,#ffff02 386.5px,#ffff41 416.5px,#ffffc0 485.5px,#fffff4 512.5px,#ffffff 525.5px,#ffffff 530px)"></i><i style="left:192px;background:linear-gradient(#7f0000 0px,#e50000 93.5px,#ff0100 114.5px,#ff4e00 199.5px,#ff9300 266.5px,#fff700 374.5px,#ffff02 382.5px,#ffff45 415.5px,#ffffc4 484.5px,#fffff3 509.5px,#fffffe 523.5px,#ffffff 530px)"></i><i style="left:194px;background:linear-gradient(#800000 0px,#e40000 91.5px,#ff0100 113.5px,#ff4d00 196.5px,#ff9800 269.5px,#ffff02 378.5px,#ffff4a 414.5px,#ffffcf 486.5px,#fffff4 508.5px,#ffffff 523.5px,#ffffff 530px)"></i><i style="left:196px;background:linear-gradient(#820000 0px,#e40000 90.5px,#ff0100 112.5px,#ff4a00 191.5px,#ffa100 276.5px,#ffff02 374.5px,#ffff52 415.5px,#ffffee 501.5px,#fffffd 517.5px,#ffffff 530px)"></i><i style="left:198px;background:linear-gradient(#830000 0px,#e40000 89.5px,#ff0100 111.5px,#ff4500 185.5px,#ffb500 294.5px,#ffff02 370.5px,#ffff5e 418.5px,#ffffec 497.5px,#fffffd 514.5px,#ffffff 530px)"></i><i style="left:200px;background:linear-gradient(#840000 0px,#e30000 87.5px,#ff0200 110.5px,#ff4300 181.5px,#ffde00 332.5px,#ffff01 366.5px,#ffff78 429.5px,#ffffe9 492.5px,#fffffc 510.5px,#ffffff 530px)"></i><i style="left:202px;background:linear-gradient(#850000 0px,#e30000 86.5px,#ff0100 108.5px,#ff3f00 175.5px,#fff900 356.5px,#ffff02 363.5px,#ffffd4 475.5px,#fffff5 498.5px,#ffffff 517.5px,#ffffff 530px)"></i><i style="left:204px;background:linear-gradient(#860000 0px,#e30000 85.5px,#ff0100 107.5px,#ff3d00 172.5px,#ffef00 343.5px,#ffff02 360.5px,#ffffd9 474.5px,#fffff6 496.5px,#ffffff 516.5px,#ffffff 530px)"></i><i style="left:206px;background:linear-gradient(#840000 0px,#e60000 86.5px,#ff0100 106.5px,#ff3d00 170.5px,#ffe700 332.5px,#ffff00 356.5px,#ffffce 464.5px,#fffff2 489.5px,#fffffe 509.5px,#ffffff 530px)"></i><i style="left:208px;background:linear-gradient(#840000 0px,#e80000 86.5px,#ff0100 105.5px,#ff3d00 168.5px,#ffe200 324.5px,#ffff00 353.5px,#ffffc0 453.5px,#ffffeb 481.5px,#fffffc 501.5px,#ffffff 530px)"></i><i style="left:210px;background:linear-gradient(#850000 0px,#e80000 85.5px,#ff0100 103.5px,#ff3c00 166.5px,#ffdf00 318.5px,#ffff02 351.5px,#ffffa2 434.5px,#ffffe2 471.5px,#fffff9 493.5px,#ffffff 519.5px,#ffffff 530px)"></i><i style="left:212px;background:linear-gradient(#860000 0px,#e80000 84.5px,#ff0100 102.5px,#ff3e00 167.5px,#ffdc00 313.5px,#ffff02 348.5px,#ffff7b 410.5px,#ffffd7 461.5px,#fffff4 485.5px,#fffffe 507.5px,#ffffff 530px)"></i><i style="left:214px;background:linear-gradient(#870000 0px,#e90000 83.5px,#ff0100 101.5px,#ff4100 168.5px,#ffdf00 313.5px,#ffff02 345.5px,#ffff68 397.5px,#ffffd4 456.5px,#fffff3 481.5px,#fffffe 504.5px,#ffffff 530px)"></i><i style="left:216px;background:linear-gradient(#870000 0px,#e70000 81.5px,#ff0100 100.5px,#ff4100 167.5px,#ffe900 320.5px,#ffff02 342.5px,#ffff61 390.5px,#ffffd0 451.5px,#fffff1 477.5px,#fffffe 500.5px,#ffffff 530px)"></i><i style="left:218px;background:linear-gradient(#880000 0px,#e80000 80.5px,#ff0100 98.5px,#ff4000 164.5px,#fff900 332.5px,#ffff02 339.5px,#ffff5d 385.5px,#ffffce 447.5px,#fffff0 473.5px,#fffffd 496.5px,#ffffff 530px)"></i><i style="left:220px;background:linear-gradient(#890000 0px,#e80000 79.5px,#ff0100 97.5px,#ff4100 163.5px,#ffff00 335.5px,#ffff5d 382.5px,#ffffcc 443.5px,#ffffef 470.5px,#fffffd 494.5px,#ffffff 530px)"></i><i style="left:222px;background:linear-gradient(#8a0000 0px,#e80000 78.5px,#ff0100 96.5px,#ff4200 163.5px,#ffff00 332.5px,#ffff5a 377.5px,#ffffca 439.5px,#ffffee 466.5px,#fffffd 490.5px,#ffffff 530px)"></i><i style="left:224px;background:linear-gradient(#8b0000 0px,#e80000 77.5px,#ff0100 94.5px,#ff4200 161.5px,#ffaa00 253.5px,#ffff00 329.5px,#ffff58 373.5px,#ffffc9 435.5px,#ffffed 463.5px,#fffffd 488.5px,#ffffff 530px)"></i><i style="left:226px;background:linear-gradient(#8b0000 0px,#e90000 76.5px,#ff0100 93.5px,#ff4400 161.5px,#ffa400 246.5px,#fffc00 323.5px,#ffff02 327.5px,#ffff5b 372.5px,#ffffc8 432.5px,#ffffed 460.5px,#fffffc 485.5px,#ffffff 530px)"></i><i style="left:228px;background:linear-gradient(#8c0000 0px,#e80000 74.5px,#ff0100 92.5px,#ff4700 162.5px,#ffa000 241.5px,#fff800 316.5px,#ffff02 324.5px,#ffff5d 370.5px,#ffffc6 428.5px,#ffffeb 456.5px,#fffffc 481.5px,#ffffff 530px)"></i><i style="left:230px;background:linear-gradient(#8d0000 0px,#e80000 73.5px,#ff0100 90.5px,#ff4800 161.5px,#ff9c00 236.5px,#fff400 310.5px,#ffff01 321.5px,#ffff5e 368.5px,#ffffc6 425.5px,#ffffeb 453.5px,#fffffc 479.5px,#ffffff 530px)"></i><i style="left:232px;background:linear-gradient(#8e0000 0px,#e80000 72.5px,#ff0100 89.5px,#ff4b00 162.5px,#ff9900 232.5px,#fff400 307.5px,#ffff02 319.5px,#ffff60 366.5px,#ffffc6 422.5px,#ffffea 450.5px,#fffffb 476.5px,#ffffff 530px)"></i><i style="left:234px;background:linear-gradient(#8e0000 0px,#e80000 71.5px,#ff0100 88.5px,#ff4e00 164.5px,#ff9700 229.5px,#fff300 304.5px,#ffff01 316.5px,#ffff5d 362.5px,#ffffc4 418.5px,#ffffe9 447.5px,#fffffb 473.5px,#ffffff 524.5px,#ffffff 530px)"></i><i style="left:236px;background:linear-gradient(#8f0000 0px,#e90000 70.5px,#ff0200 87.5px,#ff5200 166.5px,#ff9500 225.5px,#fff200 301.5px,#ffff02 314.5px,#ffff5a 358.5px,#ffffc3 415.5px,#ffffe9 444.5px,#fffffb 471.5px,#ffffff 523.5px,#ffffff 530px)"></i><i style="left:238px;background:linear-gradient(#900000 0px,#e70000 68.5px,#ff0100 85.5px,#ff5400 166.5px,#ff9300 222.5px,#fff300 299.5px,#ffff01 311.5px,#ffff56 353.5px,#ffffc2 412.5px,#ffffe8 441.5px,#fffffb 468.5px,#ffffff 516.5px,#ffffff 530px)"></i><i style="left:240px;background:linear-gradient(#910000 0px,#e80000 67.5px,#ff0100 84.5px,#ff5b00 171.5px,#ff9300 220.5px,#fff200 296.5px,#ffff01 309.5px,#ffff54 350.5px,#ffffc1 409.5px,#ffffe7 438.5px,#fffffa 465.5px,#ffffff 510.5px,#ffffff 530px)"></i><i style="left:242px;background:linear-gradient(#930000 0px,#e80000 66.5px,#ff0200 83.5px,#ff6900 182.5px,#ff9600 221.5px,#fff200 294.5px,#ffff01 307.5px,#ffff55 348.5px,#ffffc1 406.5px,#ffffe7 435.5px,#fffffa 462.5px,#ffffff 505.5px,#ffffff 530px)"></i><i style="left:244px;background:linear-gradient(#940000 0px,#e80000 65.5px,#ff0100 81.5px,#ff6a00 182.5px,#ff9400 218.5px,#fff200 292.5px,#ffff01 305.5px,#ffff56 346.5px,#ffffc0 403.5px,#ffffe6 432.5px,#fffffa 460.5px,#ffffff 504.5px,#ffffff 530px)"></i><i style="left:246px;background:linear-gradient(#950000 0px,#e90000 64.5px,#ff0100 80.5px,#ff7e00 199.5px,#fff200 290.5px,#ffff01 303.5px,#ffff58 345.5px,#ffffbf 400.5px,#ffffe5 429.5px,#fffff9 457.5px,#ffffff 499.5px,#ffffff 530px)"></i><i style="left:248px;background:linear-gradient(#960000 0px,#e90000 63.5px,#ff0100 79.5px,#ff8000 200.5px,#ffee00 285.5px,#ffff01 301.5px,#ffff5a 344.5px,#ffffbe 397.5px,#ffffe5 426.5px,#fffff9 454.5px,#ffffff 495.5px,#ffffff 530px)"></i><i style="left:250px;background:linear-gradient(#980000 0px,#e80000 61.5px,#ff0100 77.5px,#ff7f00 197.5px,#ffeb00 280.5px,#ffff01 299.5px,#ffff5c 343.5px,#ffffbf 395.5px,#ffffe5 424.5px,#fffff9 452.5px,#ffffff 494.5px,#ffffff 530px)"></i><i style="left:252px;background:linear-gradient(#990000 0px,#e80000 60.5px,#ff0100 76.5px,#ff8000 197.5px,#ffe500 273.5px,#ffff00 297.5px,#ffff60 343.5px,#ffffbd 392.5px,#ffffe3 420.5px,#fffff8 448.5px,#ffffff 487.5px,#ffffff 530px)"></i><i style="left:254px;background:linear-gradient(#9b0000 0px,#e90000 59.5px,#ff0100 75.5px,#ff8100 196.5px,#ffd700 260.5px,#ffff02 296.5px,#ffff64 343.5px,#ffffbe 390.5px,#ffffe4 418.5px,#fffff8 446.5px,#ffffff 486.5px,#ffffff 530px)"></i><i style="left:256px;background:linear-gradient(#9c0000 0px,#e90000 58.5px,#ff0100 74.5px,#ff8100 195.5px,#ffcf00 252.5px,#ffff01 294.5px,#ffff66 342.5px,#ffffbd 387.5px,#ffffe3 415.5px,#fffff8 443.5px,#ffffff 482.5px,#ffffff 530px)"></i><i style="left:258px;background:linear-gradient(#9e0000 0px,#e90000 57.5px,#ff0100 72.5px,#ff7f00 192.5px,#ffca00 247.5px,#ffff01 292.5px,#ffff6a 342.5px,#ffffbd 385.5px,#ffffe3 413.5px,#fffff8 441.5px,#ffffff 481.5px,#ffffff 530px)"></i><i style="left:260px;background:linear-gradient(#9f0000 0px,#ea0000 56.5px,#ff0100 71.5px,#ff7f00 191.5px,#ffc700 243.5px,#ffff02 291.5px,#ffff70 343.5px,#ffffbe 383.5px,#ffffe3 411.5px,#fffff8 439.5px,#ffffff 480.5px,#ffffff 530px)"></i><i style="left:262px;background:linear-gradient(#a10000 0px,#e90000 54.5px,#ff0100 70.5px,#ff8000 190.5px,#ffc500 240.5px,#ffff01 289.5px,#ffff72 342.5px,#ffffbe 381.5px,#ffffe3 408.5px,#fffff7 436.5px,#ffffff 476.5px,#ffffff 530px)"></i><i style="left:264px;background:linear-gradient(#a30000 0px,#e90000 53.5px,#ff0100 69.5px,#ff8000 189.5px,#ffc400 237.5px,#ffff02 288.5px,#ffff7a 344.5px,#ffffbe 379.5px,#ffffe3 406.5px,#fffff7 434.5px,#ffffff 474.5px,#ffffff 530px)"></i><i style="left:266px;background:linear-gradient(#a40000 0px,#e90000 52.5px,#ff0100 67.5px,#ff7300 176.5px,#ff8f00 198.5px,#ffc700 238.5px,#ffff01 286.5px,#ffff7e 344.5px,#ffffbf 377.5px,#ffffe3 404.5px,#fffff7 432.5px,#ffffff 473.5px,#ffffff 530px)"></i><i style="left:268px;background:linear-gradient(#a60000 0px,#ea0000 51.5px,#ff0100 66.5px,#ff7400 175.5px,#ff9000 197.5px,#ffc600 236.5px,#ffff02 285.5px,#ffff88 347.5px,#ffffc2 377.5px,#ffffe5 404.5px,#fffff9 433.5px,#ffffff 478.5px,#ffffff 530px)"></i><i style="left:270px;background:linear-gradient(#a80000 0px,#ea0000 50.5px,#ff0100 65.5px,#ff7400 174.5px,#ff8e00 195.5px,#ffc400 233.5px,#ffff01 283.5px,#ffff8e 348.5px,#ffffc4 376.5px,#ffffe6 403.5px,#fffff9 432.5px,#ffffff 479.5px,#ffffff 530px)"></i><i style="left:272px;background:linear-gradient(#a90000 0px,#eb0000 49.5px,#ff0100 64.5px,#ff7300 172.5px,#ff8d00 193.5px,#ffc400 232.5px,#ffff01 282.5px,#ffff98 351.5px,#ffffca 378.5px,#ffffea 405.5px,#fffffb 435.5px,#ffffff 498.5px,#ffffff 530px)"></i><i style="left:274px;background:linear-gradient(#ab0000 0px,#eb0000 48.5px,#ff0200 63.5px,#ff6f00 167.5px,#ff8a00 190.5px,#ffc300 230.5px,#ffff02 281.5px,#ffff9e 352.5px,#ffffce 379.5px,#ffffec 406.5px,#fffffc 437.5px,#ffffff 530px)"></i><i style="left:276px;background:linear-gradient(#ad0000 0px,#eb0000 47.5px,#ff0100 61.5px,#ff5700 143.5px,#ff8800 187.5px,#ffc300 229.5px,#ffff00 279.5px,#ffff9f 351.5px,#ffffcd 377.5px,#ffffec 404.5px,#fffffb 435.5px,#ffffff 522.5px,#ffffff 530px)"></i><i style="left:278px;background:linear-gradient(#ae0000 0px,#ec0000 46.5px,#ff0100 60.5px,#ff5700 142.5px,#ff8800 186.5px,#ffc300 228.5px,#ffff01 278.5px,#ffffa2 351.5px,#ffffcf 377.5px,#ffffed 404.5px,#fffffc 435.5px,#ffffff 530px)"></i><i style="left:280px;background:linear-gradient(#b00000 0px,#ec0000 45.5px,#ff0100 59.5px,#ff5700 141.5px,#ff8800 185.5px,#ffc400 228.5px,#ffff01 277.5px,#ffffa5 351.5px,#ffffd1 377.5px,#ffffee 404.5px,#fffffc 436.5px,#ffffff 530px)"></i><i style="left:282px;background:linear-gradient(#b20000 0px,#ec0000 44.5px,#ff0100 58.5px,#ff5700 140.5px,#ff8800 184.5px,#ffc500 228.5px,#ffff01 276.5px,#ffffa6 350.5px,#ffffd2 376.5px,#ffffee 403.5px,#fffffc 435.5px,#ffffff 530px)"></i><i style="left:284px;background:linear-gradient(#b40000 0px,#ed0000 43.5px,#ff0200 57.5px,#ff5700 139.5px,#ff8800 183.5px,#ffc700 228.5px,#ffff02 275.5px,#ffffa9 350.5px,#ffffd4 376.5px,#fffff0 403.5px,#fffffd 436.5px,#ffffff 530px)"></i><i style="left:286px;background:linear-gradient(#b50000 0px,#ed0000 42.5px,#ff0100 55.5px,#ff4c00 128.5px,#ff8700 182.5px,#ffc800 228.5px,#ffff02 274.5px,#ffffac 350.5px,#ffffd5 375.5px,#fffff0 402.5px,#fffffd 435.5px,#ffffff 530px)"></i><i style="left:288px;background:linear-gradient(#b70000 0px,#ee0000 41.5px,#ff0100 54.5px,#ff4c00 127.5px,#ff8700 181.5px,#ffca00 229.5px,#ffff02 273.5px,#ffffaf 350.5px,#ffffd7 375.5px,#fffff1 402.5px,#fffffd 436.5px,#ffffff 530px)"></i><i style="left:290px;background:linear-gradient(#b90000 0px,#ef0000 41.5px,#ff0100 53.5px,#ff4c00 126.5px,#ff8900 181.5px,#ffce00 231.5px,#ffff02 272.5px,#ffffaf 349.5px,#ffffd8 374.5px,#fffff1 401.5px,#fffffd 435.5px,#ffffff 530px)"></i><i style="left:292px;background:linear-gradient(#bb0000 0px,#f00000 40.5px,#ff0100 52.5px,#ff4d00 126.5px,#ff8800 180.5px,#ffd100 233.5px,#ffff02 271.5px,#ffffae 347.5px,#ffffd7 372.5px,#fffff1 399.5px,#fffffd 433.5px,#ffffff 530px)"></i><i style="left:294px;background:linear-gradient(#bc0000 0px,#f20000 40.5px,#ff0200 51.5px,#ff4d00 125.5px,#ff8800 179.5px,#ffd600 236.5px,#ffff01 270.5px,#ffffae 346.5px,#ffffd7 371.5px,#fffff1 398.5px,#fffffd 432.5px,#ffffff 530px)"></i><i style="left:296px;background:linear-gradient(#be0000 0px,#f20000 39.5px,#ff0100 49.5px,#ff4a00 121.5px,#ff8800 178.5px,#ffdc00 240.5px,#ffff01 269.5px,#ffffaa 343.5px,#ffffd5 368.5px,#ffffef 394.5px,#fffffd 427.5px,#ffffff 530px)"></i><i style="left:298px;background:linear-gradient(#c00000 0px,#f40000 39.5px,#ff0100 48.5px,#ff4b00 121.5px,#ff8900 178.5px,#ffe600 247.5px,#ffff01 268.5px,#ffffa4 339.5px,#ffffd0 364.5px,#ffffed 390.5px,#fffffc 422.5px,#ffffff 530px)"></i><i style="left:300px;background:linear-gradient(#c20000 0px,#f70000 40.5px,#ff0200 48.5px,#ff4f00 124.5px,#ff8900 177.5px,#ffeb00 250.5px,#ffff00 267.5px,#ffff94 331.5px,#ffffc5 356.5px,#ffffe5 381.5px,#fffff8 410.5px,#ffffff 458.5px,#ffffff 530px)"></i><i style="left:302px;background:linear-gradient(#c40000 0px,#fa0000 41.5px,#ff0300 48.5px,#ff5100 126.5px,#ff8a00 177.5px,#fff300 256.5px,#ffff02 267.5px,#ffff7d 320.5px,#ffffbd 350.5px,#ffffe0 375.5px,#fffff6 403.5px,#fffffe 443.5px,#ffffff 530px)"></i><i style="left:304px;background:linear-gradient(#c50000 0px,#ff0100 44.5px,#ff4900 117.5px,#ff8a00 176.5px,#fffd00 264.5px,#ffff09 269.5px,#ffff78 317.5px,#ffffba 348.5px,#ffffde 373.5px,#fffff5 401.5px,#fffffe 440.5px,#ffffff 530px)"></i><i style="left:306px;background:linear-gradient(#c70000 0px,#ff0100 43.5px,#ff4a00 117.5px,#ff8b00 176.5px,#ffff01 265.5px,#ffff5d 304.5px,#ffffb8 346.5px,#ffffdd 371.5px,#fffff4 399.5px,#fffffe 437.5px,#ffffff 530px)"></i><i style="left:308px;background:linear-gradient(#c90000 0px,#ff0100 42.5px,#ff4a00 117.5px,#ff8b00 175.5px,#ffff00 264.5px,#ffff55 300.5px,#ffffb7 345.5px,#ffffdc 370.5px,#fffff3 398.5px,#fffffe 435.5px,#ffffff 530px)"></i><i style="left:310px;background:linear-gradient(#ca0000 0px,#ff0100 41.5px,#ff4a00 116.5px,#ff8b00 175.5px,#ffff02 264.5px,#ffff50 297.5px,#ffffb6 344.5px,#ffffdb 369.5px,#fffff3 397.5px,#fffffe 434.5px,#ffffff 530px)"></i><i style="left:312px;background:linear-gradient(#cc0000 0px,#ff0100 40.5px,#ff4b00 116.5px,#ff8b00 174.5px,#ffff01 263.5px,#ffff4d 295.5px,#ffffb6 344.5px,#ffffdd 370.5px,#fffff4 398.5px,#fffffe 436.5px,#ffffff 530px)"></i><i style="left:314px;background:linear-gradient(#ce0000 0px,#ff0100 39.5px,#ff4b00 116.5px,#ff8c00 174.5px,#ffff02 263.5px,#ffff4a 293.5px,#ffffb7 344.5px,#ffffdd 370.5px,#fffff4 398.5px,#fffffe 436.5px,#ffffff 530px)"></i><i style="left:316px;background:linear-gradient(#cf0000 0px,#ff0100 37.5px,#ff4900 113.5px,#ff8b00 173.5px,#ffff01 262.5px,#ffff49 292.5px,#ffffb6 343.5px,#ffffdc 369.5px,#fffff3 397.5px,#fffffe 435.5px,#ffffff 530px)"></i><i style="left:318px;background:linear-gradient(#d10000 0px,#ff0100 36.5px,#ff4900 112.5px,#ff8c00 173.5px,#ffff00 261.5px,#ffff48 291.5px,#ffffb7 343.5px,#ffffdc 369.5px,#fffff3 397.5px,#fffffe 435.5px,#ffffff 530px)"></i><i style="left:320px;background:linear-gradient(#d30000 0px,#ff0100 35.5px,#ff4900 112.5px,#ff8b00 172.5px,#ffff01 261.5px,#ffff47 290.5px,#ffffb7 343.5px,#ffffdd 369.5px,#fffff4 397.5px,#fffffe 435.5px,#ffffff 530px)"></i><i style="left:322px;background:linear-gradient(#d40000 0px,#ff0100 34.5px,#ff4900 111.5px,#ff8c00 172.5px,#ffff02 261.5px,#ffff46 289.5px,#ffffb6 342.5px,#ffffdc 368.5px,#fffff3 396.5px,#fffffe 434.5px,#ffffff 530px)"></i><i style="left:324px;background:linear-gradient(#d70000 0px,#ff0100 33.5px,#ff4500 106.5px,#ff8b00 171.5px,#ffff00 260.5px,#ffff44 288.5px,#ffffb6 342.5px,#ffffdc 368.5px,#fffff3 396.5px,#fffffe 434.5px,#ffffff 530px)"></i><i style="left:326px;background:linear-gradient(#d90000 0px,#ff0100 31.5px,#ff3b00 95.5px,#ff8a00 170.5px,#ffff01 260.5px,#ffff45 288.5px,#ffffb6 342.5px,#ffffdc 368.5px,#fffff4 397.5px,#fffffe 435.5px,#ffffff 530px)"></i><i style="left:328px;background:linear-gradient(#db0000 0px,#ff0100 30.5px,#ff3800 92.5px,#ff8a00 169.5px,#ffff02 260.5px,#ffff43 287.5px,#ffffb6 342.5px,#ffffdc 368.5px,#fffff4 397.5px,#fffffe 435.5px,#ffffff 530px)"></i><i style="left:330px;background:linear-gradient(#dd0000 0px,#ff0100 29.5px,#ff3800 91.5px,#ff8a00 169.5px,#ffff00 259.5px,#ffff44 287.5px,#ffffb6 342.5px,#ffffdc 368.5px,#fffff4 397.5px,#fffffe 435.5px,#ffffff 530px)"></i><i style="left:332px;background:linear-gradient(#de0000 0px,#ff0200 28.5px,#ff3900 91.5px,#ff8900 168.5px,#ffff01 259.5px,#ffff42 286.5px,#ffffb6 342.5px,#ffffdd 369.5px,#fffff4 398.5px,#fffffe 437.5px,#ffffff 530px)"></i><i style="left:334px;background:linear-gradient(#e00000 0px,#ff0100 26.5px,#ff3800 89.5px,#ff8a00 168.5px,#ffff01 259.5px,#ffff42 286.5px,#ffffb6 342.5px,#ffffdd 369.5px,#fffff4 398.5px,#fffffe 437.5px,#ffffff 530px)"></i><i style="left:336px;background:linear-gradient(#e20000 0px,#ff0100 25.5px,#ff3700 88.5px,#ff8800 166.5px,#ffff02 259.5px,#ffff43 286.5px,#ffffb6 342.5px,#ffffdc 369.5px,#fffff4 398.5px,#fffffe 437.5px,#ffffff 530px)"></i><i style="left:338px;background:linear-gradient(#e30000 0px,#ff0100 24.5px,#ff3800 88.5px,#ff8800 166.5px,#ffff02 259.5px,#ffff43 286.5px,#ffffb6 342.5px,#ffffdc 369.5px,#fffff4 398.5px,#fffffe 437.5px,#ffffff 530px)"></i><i style="left:340px;background:linear-gradient(#e50000 0px,#ff0100 23.5px,#ff3800 87.5px,#ff8600 164.5px,#ffff00 258.5px,#ffff43 286.5px,#ffffb7 343.5px,#ffffdd 370.5px,#fffff4 399.5px,#fffffe 438.5px,#ffffff 530px)"></i><i style="left:342px;background:linear-gradient(#e60000 0px,#ff0100 22.5px,#ff3800 86.5px,#ff8600 163.5px,#ffff00 258.5px,#ffff43 286.5px,#ffffb6 343.5px,#ffffdc 370.5px,#fffff4 399.5px,#fffffe 438.5px,#ffffff 530px)"></i><i style="left:344px;background:linear-gradient(#e80000 0px,#ff0100 21.5px,#ff3800 86.5px,#ff8600 163.5px,#ffff00 258.5px,#ffff40 285.5px,#ffffb6 343.5px,#ffffdc 370.5px,#fffff3 399.5px,#fffffe 437.5px,#ffffff 530px)"></i><i style="left:346px;background:linear-gradient(#e90000 0px,#ff0100 20.5px,#ff3800 85.5px,#ff8400 161.5px,#ffff00 258.5px,#ffff42 286.5px,#ffffb7 344.5px,#ffffdd 371.5px,#fffff4 400.5px,#fffffe 439.5px,#ffffff 530px)"></i><i style="left:348px;background:linear-gradient(#ea0000 0px,#ff0100 19.5px,#ff3900 85.5px,#ff8500 161.5px,#ffff02 259.5px,#ffff42 286.5px,#ffffb6 344.5px,#ffffdd 372.5px,#fffff4 402.5px,#fffffe 442.5px,#ffffff 530px)"></i><i style="left:350px;background:linear-gradient(#ec0000 0px,#ff0100 18.5px,#ff3800 84.5px,#ff8300 159.5px,#ffff02 259.5px,#ffff3f 285.5px,#ffffb7 345.5px,#ffffde 373.5px,#fffff5 403.5px,#fffffe 443.5px,#ffffff 530px)"></i><i style="left:352px;background:linear-gradient(#ed0000 0px,#ff0100 17.5px,#ff3800 83.5px,#ff8200 158.5px,#ffff01 259.5px,#ffff3f 285.5px,#ffffb6 345.5px,#ffffdd 373.5px,#fffff4 403.5px,#fffffe 443.5px,#ffffff 530px)"></i><i style="left:354px;background:linear-gradient(#ef0000 0px,#ff0100 16.5px,#ff3800 83.5px,#ff8100 157.5px,#ffff01 259.5px,#ffff40 286.5px,#ffffb7 346.5px,#ffffdd 374.5px,#fffff5 404.5px,#fffffe 444.5px,#ffffff 530px)"></i><i style="left:356px;background:linear-gradient(#f00000 0px,#ff0100 15.5px,#ff3800 82.5px,#ff8000 156.5px,#ffff00 259.5px,#ffff40 286.5px,#ffffb8 347.5px,#ffffde 375.5px,#fffff5 405.5px,#fffffe 445.5px,#ffffff 530px)"></i><i style="left:358px;background:linear-gradient(#f10000 0px,#ff0100 14.5px,#ff3900 82.5px,#ff8100 156.5px,#ffff02 260.5px,#ffff3f 286.5px,#ffffb7 347.5px,#ffffdd 375.5px,#fffff4 405.5px,#fffffe 445.5px,#ffffff 530px)"></i><i style="left:360px;background:linear-gradient(#f30000 0px,#ff0200 13.5px,#ff3800 81.5px,#ff8000 155.5px,#ffff01 260.5px,#ffff40 287.5px,#ffffb7 348.5px,#ffffdd 376.5px,#fffff5 406.5px,#fffffe 446.5px,#ffffff 530px)"></i><i style="left:362px;background:linear-gradient(#f40000 0px,#ff0200 12.5px,#ff3900 81.5px,#ff8000 155.5px,#ffff00 260.5px,#ffff3f 287.5px,#ffffb8 349.5px,#ffffde 377.5px,#fffff5 407.5px,#fffffe 447.5px,#ffffff 530px)"></i><i style="left:364px;background:linear-gradient(#f50000 0px,#ff0200 11.5px,#ff3900 80.5px,#ff7e00 153.5px,#ffff02 261.5px,#ffff40 288.5px,#ffffb8 350.5px,#ffffdf 379.5px,#fffff5 409.5px,#fffffe 450.5px,#ffffff 530px)"></i><i style="left:366px;background:linear-gradient(#f70000 0px,#ff0200 10.5px,#ff3800 79.5px,#ff7b00 149.5px,#ffff01 261.5px,#ffff3f 288.5px,#ffffb8 351.5px,#ffffdf 380.5px,#fffff5 410.5px,#fffffe 450.5px,#ffffff 530px)"></i><i style="left:368px;background:linear-gradient(#f80000 0px,#ff0200 9.5px,#ff3900 79.5px,#ff7c00 150.5px,#ffff02 262.5px,#ffff3e 288.5px,#ffffb8 352.5px,#ffffde 381.5px,#fffff5 411.5px,#fffffe 451.5px,#ffffff 530px)"></i><i style="left:370px;background:linear-gradient(#f90000 0px,#ff0300 9.5px,#ff3a00 80.5px,#ff8000 154.5px,#ffff01 262.5px,#ffff3f 289.5px,#ffffb9 354.5px,#ffffdf 383.5px,#fffff6 414.5px,#ffffff 455.5px,#ffffff 530px)"></i><i style="left:372px;background:linear-gradient(#fa0000 0px,#ff0300 9.5px,#ff3c00 81.5px,#ff8300 156.5px,#ffff02 263.5px,#ffff3e 289.5px,#ffffb8 355.5px,#ffffdf 385.5px,#fffff6 416.5px,#ffffff 457.5px,#ffffff 530px)"></i><i style="left:374px;background:linear-gradient(#fc0000 0px,#ff0500 11.5px,#ff4200 88.5px,#ff9000 168.5px,#ffff01 263.5px,#ffff3c 289.5px,#ffffb9 357.5px,#ffffdf 387.5px,#fffff6 418.5px,#ffffff 459.5px,#ffffff 530px)"></i><i style="left:376px;background:linear-gradient(#fd0000 0px,#ff2b00 59.5px,#ff6400 124.5px,#ffa500 186.5px,#ffff02 264.5px,#ffff3d 290.5px,#ffffb9 359.5px,#ffffe0 390.5px,#fffff6 421.5px,#ffffff 463.5px,#ffffff 530px)"></i><i style="left:378px;background:linear-gradient(#fe0000 0px,#ff2f00 64.5px,#ff6600 126.5px,#ffab00 192.5px,#ffff00 264.5px,#ffff3b 290.5px,#ffffb9 361.5px,#ffffe0 392.5px,#fffff6 423.5px,#ffffff 465.5px,#ffffff 530px)"></i><i style="left:380px;background:linear-gradient(#ff0000 0px,#ff3500 71.5px,#ff6c00 132.5px,#ffbe00 209.5px,#ffff01 265.5px,#ffff3b 291.5px,#ffffba 363.5px,#ffffe1 395.5px,#fffff7 427.5px,#ffffff 470.5px,#ffffff 530px)"></i><i style="left:382px;background:linear-gradient(#ff0100 0px,#ff3600 71.5px,#ff6c00 132.5px,#ffc100 212.5px,#ffff02 266.5px,#ffff3c 292.5px,#ffffba 365.5px,#ffffe2 397.5px,#fffff7 429.5px,#ffffff 472.5px,#ffffff 530px)"></i><i style="left:384px;background:linear-gradient(#ff0200 0px,#ff3700 71.5px,#ff6d00 133.5px,#ffca00 220.5px,#ffff02 267.5px,#ffff3b 293.5px,#ffffbb 367.5px,#ffffe2 399.5px,#fffff7 431.5px,#ffffff 475.5px,#ffffff 530px)"></i><i style="left:386px;background:linear-gradient(#ff0300 0px,#ff3800 72.5px,#ff6f00 134.5px,#ffd700 232.5px,#ffff02 268.5px,#ffff3b 294.5px,#ffffbc 369.5px,#ffffe2 401.5px,#fffff8 433.5px,#ffffff 477.5px,#ffffff 530px)"></i><i style="left:388px;background:linear-gradient(#ff0300 0px,#ff3900 73.5px,#ff7200 137.5px,#ffdf00 240.5px,#ffff02 269.5px,#ffff3b 295.5px,#ffffbc 371.5px,#ffffe3 403.5px,#fffff8 435.5px,#ffffff 479.5px,#ffffff 530px)"></i><i style="left:390px;background:linear-gradient(#ff0400 0px,#ff3a00 74.5px,#ff7500 141.5px,#ffea00 250.5px,#ffff02 270.5px,#ffff3c 297.5px,#ffffbd 373.5px,#ffffe4 406.5px,#fffff8 438.5px,#ffffff 484.5px,#ffffff 530px)"></i><i style="left:392px;background:linear-gradient(#ff0500 0px,#ff3c00 76.5px,#ff8000 152.5px,#ffff02 271.5px,#ffff3b 298.5px,#ffffbd 375.5px,#ffffe4 408.5px,#fffff9 440.5px,#ffffff 486.5px,#ffffff 530px)"></i><i style="left:394px;background:linear-gradient(#ff0600 0px,#ff3e00 77.5px,#ff8300 155.5px,#ffff01 272.5px,#ffff3c 300.5px,#ffffbd 377.5px,#ffffe4 410.5px,#fffff9 442.5px,#ffffff 487.5px,#ffffff 530px)"></i><i style="left:396px;background:linear-gradient(#ff0600 0px,#ff4000 79.5px,#ff8b00 163.5px,#ffff01 273.5px,#ffff3d 302.5px,#ffffbe 380.5px,#ffffe5 413.5px,#fffff9 445.5px,#ffffff 492.5px,#ffffff 530px)"></i><i style="left:398px;background:linear-gradient(#ff0700 0px,#ff4200 82.5px,#ff9400 172.5px,#ffff00 274.5px,#ffff3f 305.5px,#ffffbe 382.5px,#ffffe5 415.5px,#fffff9 446.5px,#ffffff 491.5px,#ffffff 530px)"></i><i style="left:400px;background:linear-gradient(#ff0800 0px,#ff4600 86.5px,#ff9600 174.5px,#ffff02 276.5px,#ffff3f 307.5px,#ffffbe 384.5px,#ffffe5 417.5px,#fffff9 448.5px,#ffffff 493.5px,#ffffff 530px)"></i><i style="left:402px;background:linear-gradient(#ff0900 0px,#ff4a00 91.5px,#ff9900 177.5px,#ffff01 277.5px,#ffff41 310.5px,#ffffbf 387.5px,#ffffe6 420.5px,#fffff9 451.5px,#ffffff 498.5px,#ffffff 530px)"></i><i style="left:404px;background:linear-gradient(#ff0900 0px,#ff4d00 94.5px,#ff9c00 180.5px,#ffff02 279.5px,#ffff43 313.5px,#ffffc0 390.5px,#ffffe7 423.5px,#fffffa 454.5px,#ffffff 503.5px,#ffffff 530px)"></i><i style="left:406px;background:linear-gradient(#ff0a00 0px,#ff4f00 96.5px,#ff9b00 180.5px,#ffff01 280.5px,#ffff44 316.5px,#ffffc0 392.5px,#ffffe7 425.5px,#fffffa 456.5px,#ffffff 505.5px,#ffffff 530px)"></i><i style="left:408px;background:linear-gradient(#ff0b00 0px,#ff5000 97.5px,#ff9c00 181.5px,#ffff01 282.5px,#ffff47 320.5px,#ffffc1 395.5px,#ffffe7 428.5px,#fffffa 459.5px,#ffffff 510.5px,#ffffff 530px)"></i><i style="left:410px;background:linear-gradient(#ff0c00 0px,#ff5300 100.5px,#ff9d00 183.5px,#ffff02 284.5px,#ffff49 323.5px,#ffffc3 399.5px,#ffffe9 432.5px,#fffffb 462.5px,#ffffff 517.5px,#ffffff 530px)"></i><i style="left:412px;background:linear-gradient(#ff0c00 0px,#ff5600 103.5px,#ffa000 186.5px,#ffff01 285.5px,#ffff4a 326.5px,#ffffc3 402.5px,#ffffe9 435.5px,#fffffb 465.5px,#ffffff 524.5px,#ffffff 530px)"></i><i style="left:414px;background:linear-gradient(#ff0d00 0px,#ff5900 106.5px,#ffa300 190.5px,#ffff01 287.5px,#ffff4c 329.5px,#ffffc4 405.5px,#ffffea 438.5px,#fffffb 468.5px,#ffffff 530px)"></i><i style="left:416px;background:linear-gradient(#ff0e00 0px,#ff5c00 110.5px,#ffa900 197.5px,#ffff02 289.5px,#ffff4b 331.5px,#ffffc6 409.5px,#ffffeb 442.5px,#fffffc 472.5px,#ffffff 530px)"></i><i style="left:418px;background:linear-gradient(#ff0f00 0px,#ff5d00 110.5px,#ffac00 201.5px,#ffff02 291.5px,#ffff4b 333.5px,#ffffc7 413.5px,#ffffec 446.5px,#fffffc 475.5px,#ffffff 530px)"></i><i style="left:420px;background:linear-gradient(#ff1000 0px,#ff5d00 110.5px,#ffaf00 205.5px,#ffff01 292.5px,#ffff49 334.5px,#ffffc9 417.5px,#ffffed 450.5px,#fffffc 479.5px,#ffffff 530px)"></i><i style="left:422px;background:linear-gradient(#ff1100 0px,#ff5d00 110.5px,#ffb200 209.5px,#ffff01 294.5px,#ffff48 335.5px,#ffffcb 422.5px,#ffffef 455.5px,#fffffd 484.5px,#ffffff 530px)"></i><i style="left:424px;background:linear-gradient(#ff1100 0px,#ff5e00 111.5px,#ffb400 213.5px,#ffff01 296.5px,#ffff47 337.5px,#ffffcd 426.5px,#ffffef 458.5px,#fffffd 486.5px,#ffffff 530px)"></i><i style="left:426px;background:linear-gradient(#ff1200 0px,#ff5f00 111.5px,#ffb600 216.5px,#ffff01 298.5px,#ffff48 340.5px,#ffffd0 431.5px,#fffff1 463.5px,#fffffe 491.5px,#ffffff 530px)"></i><i style="left:428px;background:linear-gradient(#ff1300 0px,#ff6000 112.5px,#ffba00 221.5px,#ffff01 300.5px,#ffff4c 345.5px,#ffffd1 435.5px,#fffff2 466.5px,#fffffe 494.5px,#ffffff 530px)"></i><i style="left:430px;background:linear-gradient(#ff1400 0px,#ff6100 113.5px,#ffbf00 228.5px,#ffff02 303.5px,#ffff55 354.5px,#ffffd3 439.5px,#fffff2 469.5px,#fffffe 496.5px,#ffffff 530px)"></i><i style="left:432px;background:linear-gradient(#ff1500 0px,#ff6200 114.5px,#ffc500 236.5px,#ffff01 305.5px,#ffff70 375.5px,#ffffd6 444.5px,#fffff4 473.5px,#fffffe 500.5px,#ffffff 530px)"></i><i style="left:434px;background:linear-gradient(#ff1500 0px,#ff6300 115.5px,#ffcd00 247.5px,#ffff01 308.5px,#ffffcb 438.5px,#ffffef 469.5px,#fffffd 495.5px,#ffffff 530px)"></i><i style="left:436px;background:linear-gradient(#ff1600 0px,#ff6500 117.5px,#ffdf00 271.5px,#ffff01 311.5px,#ffffd2 445.5px,#fffff2 474.5px,#fffffe 499.5px,#ffffff 530px)"></i><i style="left:438px;background:linear-gradient(#ff1700 0px,#ff6600 119.5px,#ffff02 315.5px,#ffffd6 450.5px,#fffff4 478.5px,#fffffe 503.5px,#ffffff 530px)"></i><i style="left:440px;background:linear-gradient(#ff1800 0px,#ff6800 121.5px,#ffff02 318.5px,#ffff8f 407.5px,#ffffdd 458.5px,#fffff7 484.5px,#ffffff 511.5px,#ffffff 530px)"></i><i style="left:442px;background:linear-gradient(#ff1900 0px,#ff6700 119.5px,#ffff01 321.5px,#ffff5a 378.5px,#ffffd8 456.5px,#fffff5 482.5px,#ffffff 506.5px,#ffffff 530px)"></i><i style="left:444px;background:linear-gradient(#ff1c00 0px,#ff6100 111.5px,#ffff01 324.5px,#ffff4d 374.5px,#ffffd8 458.5px,#fffff5 484.5px,#ffffff 508.5px,#ffffff 530px)"></i><i style="left:446px;background:linear-gradient(#ff1d00 0px,#ff6000 108.5px,#ffff02 328.5px,#ffff47 374.5px,#ffffd9 461.5px,#fffff5 486.5px,#ffffff 509.5px,#ffffff 530px)"></i><i style="left:448px;background:linear-gradient(#ff1e00 0px,#ff6000 108.5px,#ffff01 331.5px,#ffff42 375.5px,#ffffda 464.5px,#fffff6 488.5px,#ffffff 511.5px,#ffffff 530px)"></i><i style="left:450px;background:linear-gradient(#ff2000 0px,#ff6000 108.5px,#ffff02 335.5px,#ffff41 378.5px,#ffffda 466.5px,#fffff6 490.5px,#ffffff 512.5px,#ffffff 530px)"></i><i style="left:452px;background:linear-gradient(#ff2100 0px,#ff6000 107.5px,#ffff01 338.5px,#ffff3f 381.5px,#ffffdb 469.5px,#fffff6 492.5px,#ffffff 514.5px,#ffffff 530px)"></i><i style="left:454px;background:linear-gradient(#ff2200 0px,#ff6100 107.5px,#ffff02 342.5px,#ffff3d 384.5px,#ffffdc 472.5px,#fffff7 494.5px,#ffffff 516.5px,#ffffff 530px)"></i><i style="left:456px;background:linear-gradient(#ff2300 0px,#ff6100 107.5px,#ffff02 346.5px,#ffff3c 388.5px,#ffffdc 474.5px,#fffff7 496.5px,#ffffff 517.5px,#ffffff 530px)"></i><i style="left:458px;background:linear-gradient(#ff2400 0px,#ff6100 107.5px,#ffff02 350.5px,#ffff3b 392.5px,#ffffdd 477.5px,#fffff8 498.5px,#ffffff 519.5px,#ffffff 530px)"></i><i style="left:460px;background:linear-gradient(#ff2500 0px,#ff6100 106.5px,#ffff02 354.5px,#ffff3a 396.5px,#ffffdd 479.5px,#fffff7 499.5px,#ffffff 519.5px,#ffffff 530px)"></i><i style="left:462px;background:linear-gradient(#ff2600 0px,#ff6200 106.5px,#ffff01 358.5px,#ffff38 400.5px,#ffffdd 481.5px,#fffff7 500.5px,#ffffff 519.5px,#ffffff 530px)"></i><i style="left:464px;background:linear-gradient(#ff2700 0px,#ff6200 106.5px,#ffff02 363.5px,#ffff38 405.5px,#ffffde 484.5px,#fffff7 502.5px,#ffffff 520.5px,#ffffff 530px)"></i><i style="left:466px;background:linear-gradient(#ff2900 0px,#ff6300 106.5px,#ffff01 367.5px,#ffff38 410.5px,#ffffde 486.5px,#fffff8 504.5px,#ffffff 522.5px,#ffffff 530px)"></i><i style="left:468px;background:linear-gradient(#ff2a00 0px,#ff6300 105.5px,#ffe000 319.5px,#ffff02 372.5px,#ffff38 415.5px,#ffffde 488.5px,#fffff7 505.5px,#ffffff 522.5px,#ffffff 530px)"></i><i style="left:470px;background:linear-gradient(#ff2b00 0px,#ff6300 105.5px,#ffd500 303.5px,#ffff02 377.5px,#ffff36 419.5px,#ffffde 490.5px,#fffff7 506.5px,#ffffff 522.5px,#ffffff 530px)"></i><i style="left:472px;background:linear-gradient(#ff2c00 0px,#ff6400 105.5px,#ffce00 293.5px,#ffff02 382.5px,#ffff36 424.5px,#ffffde 492.5px,#fffff8 508.5px,#ffffff 524.5px,#ffffff 530px)"></i><i style="left:474px;background:linear-gradient(#ff2d00 0px,#ff6400 105.5px,#ffc800 283.5px,#ffff02 387.5px,#ffff36 429.5px,#ffffde 494.5px,#fffff7 509.5px,#ffffff 524.5px,#ffffff 530px)"></i><i style="left:476px;background:linear-gradient(#ff2e00 0px,#ff6400 105.5px,#ffc300 276.5px,#fff700 378.5px,#ffff03 393.5px,#ffff36 434.5px,#ffffde 496.5px,#fffff7 510.5px,#ffffff 524.5px,#ffffff 530px)"></i><i style="left:478px;background:linear-gradient(#ff2f00 0px,#ff6600 106.5px,#ffc000 273.5px,#fff300 376.5px,#ffff02 398.5px,#ffff36 439.5px,#ffffde 498.5px,#fffff8 512.5px,#ffffff 526.5px,#ffffff 530px)"></i><i style="left:480px;background:linear-gradient(#ff3000 0px,#ff6600 106.5px,#ffbd00 270.5px,#fff000 377.5px,#ffff01 403.5px,#ffff36 444.5px,#ffffe0 501.5px,#fffff8 514.5px,#ffffff 528.5px,#ffffff 530px)"></i><i style="left:482px;background:linear-gradient(#ff3100 0px,#ff6700 106.5px,#ffbc00 269.5px,#ffee00 380.5px,#ffff02 409.5px,#ffff34 448.5px,#ffff68 465.5px,#ffffdd 502.5px,#fffff7 514.5px,#ffffff 526.5px,#ffffff 530px)"></i><i style="left:484px;background:linear-gradient(#ff3200 0px,#ff6800 107.5px,#ffbb00 268.5px,#ffed00 385.5px,#ffff02 415.5px,#ffff34 453.5px,#ffff67 469.5px,#ffffdf 505.5px,#fffff7 516.5px,#ffffff 527.5px,#ffffff 530px)"></i><i style="left:486px;background:linear-gradient(#ff3300 0px,#ff6900 108.5px,#ffba00 268.5px,#ffec00 390.5px,#ffff02 421.5px,#ffff35 458.5px,#ffff67 473.5px,#ffffdf 507.5px,#fffff8 518.5px,#ffffff 530px)"></i><i style="left:488px;background:linear-gradient(#ff3400 0px,#ff6a00 109.5px,#ffb900 267.5px,#ffeb00 396.5px,#ffff02 427.5px,#ffff33 462.5px,#ffff58 473.5px,#ffffde 509.5px,#fffff7 519.5px,#ffffff 530px)"></i><i style="left:490px;background:linear-gradient(#ff3500 0px,#ff6b00 110.5px,#ffb800 267.5px,#ffea00 403.5px,#ffff01 433.5px,#ffff33 467.5px,#ffff57 477.5px,#ffffe1 512.5px,#fffff8 521.5px,#ffffff 530px)"></i><i style="left:492px;background:linear-gradient(#ff3600 0px,#ff6c00 112.5px,#ffb700 267.5px,#ffea00 411.5px,#ffff01 440.5px,#ffff34 472.5px,#ffff5a 482.5px,#ffffe0 514.5px,#fffff9 523.5px,#ffffff 530px)"></i><i style="left:494px;background:linear-gradient(#ff3700 0px,#ff6e00 114.5px,#ffb700 267.5px,#ffe900 418.5px,#ffff02 447.5px,#ffff32 476.5px,#ffff50 484.5px,#ffffe0 516.5px,#fffff8 524.5px,#fffffe 530px)"></i><i style="left:496px;background:linear-gradient(#ff3800 0px,#ff7000 117.5px,#ffb700 268.5px,#ffe900 426.5px,#ffff02 454.5px,#ffff33 481.5px,#ffff54 489.5px,#ffffdf 518.5px,#fffff5 525.5px,#fffffb 530px)"></i><i style="left:498px;background:linear-gradient(#ff3800 0px,#ff7200 120.5px,#ffb600 268.5px,#ffe800 434.5px,#ffff01 460.5px,#ffff33 486.5px,#ffff58 494.5px,#ffffc9 516.5px,#ffffe7 524.5px,#fffff1 530px)"></i><i style="left:500px;background:linear-gradient(#ff3900 0px,#ff7500 125.5px,#ffb600 268.5px,#ffe800 443.5px,#ffff02 468.5px,#ffff31 490.5px,#ffff4b 496.5px,#ffffb1 514.5px,#ffffd6 523.5px,#ffffe5 530px)"></i><i style="left:502px;background:linear-gradient(#ff3a00 0px,#ff7900 131.5px,#ffb600 269.5px,#ffe800 452.5px,#ffff02 475.5px,#ffff31 495.5px,#ffff48 500.5px,#ffffa6 515.5px,#ffffcb 524.5px,#ffffd9 530px)"></i><i style="left:504px;background:linear-gradient(#ff3b00 0px,#ff7e00 140.5px,#ffb500 269.5px,#ffe800 461.5px,#ffff01 482.5px,#ffff31 500.5px,#ffff4b 505.5px,#ffff9e 517.5px,#ffffc0 525.5px,#ffffcc 530px)"></i><i style="left:506px;background:linear-gradient(#ff3c00 0px,#ffb300 259.5px,#ffe800 470.5px,#ffff00 489.5px,#ffff31 505.5px,#ffff4e 510.5px,#ffff98 520.5px,#ffffb6 527.5px,#ffffbc 530px)"></i><i style="left:508px;background:linear-gradient(#ff3d00 0px,#ffac00 244.5px,#ffbc00 301.5px,#ffe700 478.5px,#ffff00 496.5px,#ffff30 510.5px,#ffff50 515.5px,#ffff8f 523.5px,#ffffae 530px)"></i><i style="left:510px;background:linear-gradient(#ff3e00 0px,#ffa300 224.5px,#ffb600 274.5px,#ffe700 487.5px,#fffd00 502.5px,#ffff04 504.5px,#ffff30 515.5px,#ffff52 520.5px,#ffff9c 530px)"></i><i style="left:512px;background:linear-gradient(#ff3f00 0px,#ff9e00 211.5px,#ffb500 273.5px,#ffe700 495.5px,#fff900 507.5px,#ffff01 510.5px,#ffff2f 520.5px,#ffff55 525.5px,#ffff7b 530px)"></i><i style="left:514px;background:linear-gradient(#ff4000 0px,#ff9b00 203.5px,#ffb500 272.5px,#ffe700 503.5px,#fff600 513.5px,#ffff03 517.5px,#ffff31 525.5px,#ffff4c 528.5px,#ffff57 530px)"></i><i style="left:516px;background:linear-gradient(#ff4100 0px,#ff9a00 199.5px,#ffb500 271.5px,#ffe700 511.5px,#fff500 519.5px,#ffff02 523.5px,#ffff25 528.5px,#ffff2e 530px)"></i><i style="left:518px;background:linear-gradient(#ff4200 0px,#ff9900 196.5px,#ffb500 270.5px,#ffe600 518.5px,#fff100 525.5px,#ffff00 530px)"></i><i style="left:520px;background:linear-gradient(#ff4300 0px,#ff9800 193.5px,#ffb400 268.5px,#ffe400 526.5px,#ffe900 530px)"></i><i style="left:522px;background:linear-gradient(#ff4400 0px,#ff9800 191.5px,#ffb400 266.5px,#ffe200 528.5px,#ffe300 530px)"></i><i style="left:524px;background:linear-gradient(#ff4500 0px,#ff9800 189.5px,#ffb500 267.5px,#ffe600 510.5px,#fff500 530px)"></i><i style="left:526px;background:linear-gradient(#ff4600 0px,#ff9900 189.5px,#ffb500 266.5px,#ffe700 496.5px,#fffe00 517.5px,#ffff1d 530px)"></i><i style="left:528px;background:linear-gradient(#ff4700 0px,#ff9900 189.5px,#ffb600 265.5px,#ffe700 485.5px,#fffd00 503.5px,#ffff06 506.5px,#ffff58 530px)"></i><i style="left:530px;background:linear-gradient(#ff4800 0px,#ff9c00 192.5px,#ffb600 265.5px,#ffe700 473.5px,#ffff01 494.5px,#ffff2d 508.5px,#ffff7e 524.5px,#ffff91 530px)"></i><i style="left:532px;background:linear-gradient(#ff4900 0px,#ff9e00 196.5px,#ffb700 264.5px,#ffe700 462.5px,#ffff02 485.5px,#ffff31 502.5px,#ffff54 509.5px,#ffff8e 519.5px,#ffffa7 527.5px,#ffffac 530px)"></i><i style="left:534px;background:linear-gradient(#ff4a00 0px,#ffa200 203.5px,#ffb800 265.5px,#ffe800 452.5px,#ffff02 476.5px,#ffff33 496.5px,#ffff53 503.5px,#ffff95 515.5px,#ffffab 522.5px,#ffffba 530px)"></i><i style="left:536px;background:linear-gradient(#ff4b00 0px,#ffa800 215.5px,#ffbb00 276.5px,#ffe800 442.5px,#ffff01 467.5px,#ffff33 490.5px,#ffff5a 499.5px,#ffff9f 513.5px,#ffffc1 525.5px,#ffffc9 530px)"></i><i style="left:538px;background:linear-gradient(#ff4f00 0px,#ffb700 254.5px,#ffe800 433.5px,#ffff01 459.5px,#ffff33 484.5px,#ffff5b 494.5px,#ffffa6 511.5px,#ffffcc 523.5px,#ffffd8 530px)"></i><i style="left:540px;background:linear-gradient(#ff5600 0px,#ffab00 218.5px,#ffe900 424.5px,#ffff01 451.5px,#ffff35 479.5px,#ffff62 491.5px,#ffffb6 512.5px,#ffffd9 524.5px,#ffffe2 530px)"></i><i style="left:542px;background:linear-gradient(#ff5900 0px,#ff9500 163.5px,#ffb900 257.5px,#ffe900 415.5px,#ffff02 444.5px,#ffff33 473.5px,#ffff5d 485.5px,#ffffc3 513.5px,#ffffe1 524.5px,#ffffe8 530px)"></i><i style="left:544px;background:linear-gradient(#ff5a00 0px,#ff9500 160.5px,#ffba00 257.5px,#ffe900 406.5px,#ffff02 437.5px,#ffff34 468.5px,#ffff6c 485.5px,#ffffd5 516.5px,#ffffea 526.5px,#ffffed 530px)"></i><i style="left:546px;background:linear-gradient(#ff5b00 0px,#ff9600 158.5px,#ffbc00 257.5px,#ffe900 399.5px,#ffff02 430.5px,#ffff36 464.5px,#ffffdd 516.5px,#fffff0 526.5px,#fffff2 530px)"></i><i style="left:548px;background:linear-gradient(#ff5b00 0px,#ff9600 156.5px,#ffbd00 257.5px,#ffea00 392.5px,#ffff02 424.5px,#ffff36 459.5px,#ffffe4 516.5px,#fffff5 526.5px,#fffff7 530px)"></i><i style="left:550px;background:linear-gradient(#ff5c00 0px,#ff9600 153.5px,#ffbe00 256.5px,#ffea00 386.5px,#ffff02 418.5px,#ffff36 454.5px,#ffffeb 516.5px,#fffffa 526.5px,#fffffc 530px)"></i><i style="left:552px;background:linear-gradient(#ff5d00 0px,#ff9600 151.5px,#ffbf00 256.5px,#ffea00 380.5px,#ffff02 412.5px,#ffff37 450.5px,#ffffd1 504.5px,#fffff4 518.5px,#fffffe 528.5px,#fffffe 530px)"></i><i style="left:554px;background:linear-gradient(#ff5e00 0px,#ff9700 149.5px,#ffc100 257.5px,#ffeb00 374.5px,#ffff02 407.5px,#ffff36 445.5px,#ffffd1 502.5px,#fffff5 517.5px,#ffffff 528.5px,#ffffff 530px)"></i><i style="left:556px;background:linear-gradient(#ff5f00 0px,#ff9700 147.5px,#ffc300 258.5px,#ffeb00 368.5px,#ffff02 401.5px,#ffff38 441.5px,#ffffed 511.5px,#fffffd 522.5px,#ffffff 530px)"></i><i style="left:558px;background:linear-gradient(#ff5f00 0px,#ff9800 145.5px,#ffc500 261.5px,#ffeb00 363.5px,#ffff02 396.5px,#ffff37 436.5px,#ffffee 510.5px,#fffffd 522.5px,#ffffff 530px)"></i><i style="left:560px;background:linear-gradient(#ff6000 0px,#ff9800 142.5px,#ffc800 264.5px,#ffeb00 357.5px,#ffff02 390.5px,#ffff38 432.5px,#ffffed 508.5px,#fffffd 520.5px,#ffffff 530px)"></i><i style="left:562px;background:linear-gradient(#ff6100 0px,#ff9800 140.5px,#ffcc00 272.5px,#ffec00 352.5px,#ffff02 385.5px,#ffff37 427.5px,#ffffec 506.5px,#fffffd 519.5px,#ffffff 530px)"></i><i style="left:564px;background:linear-gradient(#ff6200 0px,#ff9900 139.5px,#ffd500 289.5px,#ffee00 349.5px,#ffff01 379.5px,#ffff38 423.5px,#ffffec 504.5px,#fffffd 518.5px,#ffffff 530px)"></i><i style="left:566px;background:linear-gradient(#ff6300 0px,#ff9a00 137.5px,#ffe200 319.5px,#ffff02 374.5px,#ffff37 418.5px,#ffffeb 502.5px,#fffffc 516.5px,#ffffff 530px)"></i><i style="left:568px;background:linear-gradient(#ff6400 0px,#ff9a00 135.5px,#ffee00 337.5px,#ffff02 369.5px,#ffff38 414.5px,#ffffeb 500.5px,#fffffc 515.5px,#ffffff 530px)"></i><i style="left:570px;background:linear-gradient(#ff6500 0px,#ff9b00 134.5px,#ffee00 332.5px,#ffff01 363.5px,#ffff38 409.5px,#ffffea 498.5px,#fffffc 514.5px,#ffffff 530px)"></i><i style="left:572px;background:linear-gradient(#ff6600 0px,#ff9d00 134.5px,#ffef00 328.5px,#ffff02 358.5px,#ffff39 405.5px,#ffffe9 496.5px,#fffffc 512.5px,#ffffff 530px)"></i><i style="left:574px;background:linear-gradient(#ff6700 0px,#ff9e00 133.5px,#fff000 324.5px,#ffff02 353.5px,#ffff38 400.5px,#ffffe9 494.5px,#fffffc 511.5px,#ffffff 530px)"></i><i style="left:576px;background:linear-gradient(#ff6900 0px,#ffa000 134.5px,#fff000 320.5px,#ffff02 348.5px,#ffff39 396.5px,#ffffe8 492.5px,#fffffc 510.5px,#ffffff 530px)"></i><i style="left:578px;background:linear-gradient(#ff6a00 0px,#ffa200 135.5px,#fff100 316.5px,#ffff01 343.5px,#ffff39 392.5px,#ffffe8 490.5px,#fffffb 508.5px,#ffffff 530px)"></i><i style="left:580px;background:linear-gradient(#ff6b00 0px,#ffa500 139.5px,#fff200 312.5px,#ffff02 339.5px,#ffff39 387.5px,#ffffe8 488.5px,#fffffb 507.5px,#ffffff 530px)"></i><i style="left:582px;background:linear-gradient(#ff6c00 0px,#ffaa00 145.5px,#fff300 309.5px,#ffff02 334.5px,#ffff39 383.5px,#ffffe7 486.5px,#fffffb 506.5px,#ffffff 530px)"></i><i style="left:584px;background:linear-gradient(#ff6e00 0px,#ffb000 155.5px,#fff400 306.5px,#ffff02 329.5px,#ffff3a 379.5px,#ffffe7 484.5px,#fffffb 504.5px,#ffffff 530px)"></i><i style="left:586px;background:linear-gradient(#ff6f00 0px,#ffdc00 253.5px,#ffff02 324.5px,#ffff3a 375.5px,#ffffe7 482.5px,#fffffb 503.5px,#ffffff 530px)"></i><i style="left:588px;background:linear-gradient(#ff7000 0px,#ffe800 275.5px,#ffff02 320.5px,#ffff3b 371.5px,#ffffe6 480.5px,#fffffb 502.5px,#ffffff 530px)"></i><i style="left:590px;background:linear-gradient(#ff7200 0px,#ffed00 279.5px,#ffff02 315.5px,#ffff3b 367.5px,#ffffe5 477.5px,#fffffb 500.5px,#ffffff 530px)"></i><i style="left:592px;background:linear-gradient(#ff7300 0px,#fff500 290.5px,#ffff02 311.5px,#ffff3b 363.5px,#ffffe4 474.5px,#fffffa 497.5px,#ffffff 525.5px,#ffffff 530px)"></i><i style="left:594px;background:linear-gradient(#ff7500 0px,#fff600 287.5px,#ffff02 307.5px,#ffff3b 359.5px,#ffffe4 472.5px,#fffffa 496.5px,#ffffff 526.5px,#ffffff 530px)"></i><i style="left:596px;background:linear-gradient(#ff7600 0px,#fff600 283.5px,#ffff03 303.5px,#ffff3b 355.5px,#ffffe3 469.5px,#fffffa 494.5px,#ffffff 523.5px,#ffffff 530px)"></i><i style="left:598px;background:linear-gradient(#ff7800 0px,#fff600 279.5px,#ffff02 298.5px,#ffff3c 352.5px,#ffffe2 466.5px,#fffff9 492.5px,#ffffff 521.5px,#ffffff 530px)"></i><i style="left:600px;background:linear-gradient(#ff7900 0px,#fff700 276.5px,#ffff02 294.5px,#ffff3c 348.5px,#ffffe0 463.5px,#fffff9 489.5px,#ffffff 517.5px,#ffffff 530px)"></i><i style="left:602px;background:linear-gradient(#ff7b00 0px,#fff800 274.5px,#ffff02 290.5px,#ffff3c 344.5px,#ffffdf 460.5px,#fffff8 487.5px,#ffffff 515.5px,#ffffff 530px)"></i><i style="left:604px;background:linear-gradient(#ff7c00 0px,#fff900 272.5px,#ffff02 286.5px,#ffff3d 341.5px,#ffffdf 457.5px,#fffff8 485.5px,#ffffff 514.5px,#ffffff 530px)"></i><i style="left:606px;background:linear-gradient(#ff7e00 0px,#fff700 264.5px,#ffff02 282.5px,#ffff3d 337.5px,#ffffde 454.5px,#fffff8 483.5px,#ffffff 512.5px,#ffffff 530px)"></i><i style="left:608px;background:linear-gradient(#ff8200 0px,#ffdc00 206.5px,#ffff02 278.5px,#ffff3d 333.5px,#ffffdd 451.5px,#fffff7 480.5px,#ffffff 509.5px,#ffffff 530px)"></i><i style="left:610px;background:linear-gradient(#ff8600 0px,#ffc800 160.5px,#ffff02 274.5px,#ffff3e 330.5px,#ffffdc 448.5px,#fffff7 478.5px,#ffffff 508.5px,#ffffff 530px)"></i><i style="left:612px;background:linear-gradient(#ff8800 0px,#ffc700 154.5px,#ffff01 270.5px,#ffff3e 326.5px,#ffffda 444.5px,#fffff6 475.5px,#ffffff 505.5px,#ffffff 530px)"></i><i style="left:614px;background:linear-gradient(#ff8900 0px,#ffc800 151.5px,#ffff01 266.5px,#ffff3f 323.5px,#ffffda 441.5px,#fffff6 473.5px,#ffffff 503.5px,#ffffff 530px)"></i><i style="left:616px;background:linear-gradient(#ff8b00 0px,#ffc800 148.5px,#ffff01 262.5px,#ffff40 320.5px,#ffffd9 438.5px,#fffff6 471.5px,#ffffff 502.5px,#ffffff 530px)"></i><i style="left:618px;background:linear-gradient(#ff8c00 0px,#ffc900 145.5px,#ffff01 258.5px,#ffff40 316.5px,#ffffd7 434.5px,#fffff5 468.5px,#ffffff 499.5px,#ffffff 530px)"></i><i style="left:620px;background:linear-gradient(#ff8d00 0px,#ffc900 142.5px,#ffff01 254.5px,#ffff41 313.5px,#ffffd7 431.5px,#fffff4 465.5px,#fffffe 496.5px,#ffffff 530px)"></i><i style="left:622px;background:linear-gradient(#ff8f00 0px,#ffc900 139.5px,#ffff01 250.5px,#ffff42 310.5px,#ffffd6 428.5px,#fffff4 463.5px,#ffffff 495.5px,#ffffff 530px)"></i><i style="left:624px;background:linear-gradient(#ff9000 0px,#ffca00 136.5px,#ffff01 246.5px,#ffff43 307.5px,#ffffd6 425.5px,#fffff4 461.5px,#ffffff 494.5px,#ffffff 530px)"></i><i style="left:626px;background:linear-gradient(#ff9100 0px,#ffca00 134.5px,#ffff01 242.5px,#ffff45 304.5px,#ffffd4 421.5px,#fffff4 458.5px,#fffffe 491.5px,#ffffff 530px)"></i><i style="left:628px;background:linear-gradient(#ff9300 0px,#ffcb00 131.5px,#ffff01 238.5px,#ffff46 301.5px,#ffffd3 418.5px,#fffff3 455.5px,#fffffe 488.5px,#ffffff 530px)"></i><i style="left:630px;background:linear-gradient(#ff9400 0px,#ffcc00 129.5px,#ffff01 234.5px,#ffff47 298.5px,#ffffd3 415.5px,#fffff3 453.5px,#fffffe 487.5px,#ffffff 530px)"></i><i style="left:632px;background:linear-gradient(#ff9500 0px,#ffcd00 127.5px,#ffff01 230.5px,#ffff49 296.5px,#ffffd2 412.5px,#fffff3 451.5px,#fffffe 486.5px,#ffffff 530px)"></i><i style="left:634px;background:linear-gradient(#ff9600 0px,#ffcd00 124.5px,#ffff02 227.5px,#ffff4b 295.5px,#ffffd3 412.5px,#fffff3 451.5px,#fffffe 486.5px,#ffffff 530px)"></i></div><div style="position:absolute;left:1200.1px;top:780.9px;width:52.0px;height:469.6px;background:linear-gradient(#380000 0%,#ff0000 25%,#ffff00 75%,#ffffff 100%)"></div><svg width="1772" height="1352" viewBox="0 0 1772 1352" font-family="'Liberation Serif','Times New Roman',serif" font-size="29.5"><path d="M84.5 130.3L87.5 129.9L90.5 129.6L93.5 129.3L96.5 128.9L99.5 128.6L102.5 128.3L105.6 128.0L108.6 127.6L111.6 127.3L114.6 127.0L117.6 126.6L120.6 126.3L123.6 125.9L126.6 125.6L129.6 125.2L132.6 124.9L135.6 124.5L138.6 124.1L141.6 123.8L144.6 123.4L147.6 123.0L150.6 122.6L153.6 122.2L156.6 121.8L159.6 121.3L162.6 120.8L165.6 120.4L168.6 119.9L171.6 119.4L174.5 118.9L177.5 118.3L180.5 117.8L183.5 117.2L186.5 116.7L189.4 116.1L192.4 115.5L195.4 114.9L198.3 114.3L201.3 113.7L204.2 113.0L207.2 112.4L210.1 111.7L213.1 111.0L216.0 110.3L219.0 109.6L221.9 108.8L224.8 108.0L227.7 107.2L230.6 106.4L233.5 105.5L236.4 104.6L239.3 103.6L242.2 102.7L245.0 101.6L247.9 100.6L250.7 99.5L253.5 98.4L256.3 97.3L259.1 96.2L261.9 95.0L264.7 93.8L267.5 92.6L270.2 91.3L272.9 90.0L275.6 88.6L278.3 87.2L281.0 85.8L283.6 84.3L286.3 82.9L288.9 81.4L291.6 80.0M84.5 203.8L87.5 203.5L90.5 203.3L93.5 203.0L96.5 202.8L99.5 202.5L102.5 202.2L105.5 202.0L108.5 201.7L111.5 201.5L114.5 201.2L117.5 201.0L120.5 200.7L123.5 200.4L126.5 200.2L129.5 199.9L132.5 199.6L135.5 199.3L138.5 199.1L141.4 198.8L144.4 198.5L147.4 198.2L150.4 197.9L153.4 197.6L156.4 197.3L159.4 196.9L162.4 196.6L165.4 196.2L168.4 195.9L171.4 195.6L174.3 195.2L177.3 194.9L180.3 194.5L183.3 194.2L186.3 193.8L189.3 193.4L192.3 193.0L195.2 192.6L198.2 192.2L201.2 191.7L204.2 191.2L207.1 190.7L210.1 190.2L213.1 189.6L216.0 189.0L218.9 188.4L221.9 187.8L224.8 187.1L227.7 186.4L230.7 185.7L233.6 185.0L236.5 184.2L239.4 183.5L242.3 182.7L245.2 181.9L248.1 181.1L251.0 180.3L253.9 179.5L256.8 178.7L259.7 177.8L262.6 176.9L265.5 176.0L268.3 175.1L271.2 174.2L274.1 173.3L276.9 172.3L279.7 171.4L282.6 170.4L285.4 169.3L288.2 168.3L291.0 167.2L293.8 166.1L296.6 164.9L299.3 163.6L302.1 162.3L304.7 161.0L307.4 159.6L310.0 158.2L312.7 156.7L315.3 155.2L317.8 153.6L320.4 152.1L323.0 150.5L325.6 149.0L328.2 147.4L330.8 145.9L333.4 144.4L336.0 142.9L338.5 141.3L341.1 139.8L343.7 138.2L346.2 136.6L348.8 135.0L351.3 133.4L353.9 131.8L356.4 130.2L358.9 128.5L361.5 126.9L364.0 125.3L366.6 123.7L369.1 122.1L371.7 120.5L374.2 119.0L376.8 117.4L379.4 115.8L381.9 114.2L384.5 112.7L387.1 111.1L389.6 109.6L392.2 108.0L394.8 106.4L397.4 104.9L399.9 103.3L402.5 101.7L405.1 100.2L407.6 98.6L410.2 97.0L412.7 95.4L415.2 93.7L417.7 92.1L420.2 90.4L422.7 88.7L425.2 87.0L427.7 85.2L430.1 83.5L432.5 81.7L435.0 80.0M84.8 262.3L87.8 262.3L90.8 262.4L93.8 262.4L96.8 262.4L99.8 262.5L102.8 262.5L105.8 262.5L108.8 262.6L111.8 262.6L114.8 262.6L117.8 262.6L120.8 262.7L123.8 262.7L126.8 262.7L129.8 262.7L132.8 262.7L135.8 262.7L138.8 262.7L141.8 262.7L144.8 262.7L147.8 262.6L150.8 262.6L153.8 262.5L156.8 262.5L159.8 262.4L162.8 262.3L165.8 262.2L168.8 262.1L171.8 262.0L174.8 261.9L177.8 261.8L180.8 261.7L183.8 261.6L186.8 261.4L189.8 261.3L192.8 261.1L195.8 260.9L198.8 260.7L201.8 260.5L204.8 260.3L207.8 260.1L210.8 259.9L213.7 259.6L216.7 259.4L219.7 259.1L222.7 258.7L225.7 258.4L228.7 258.1L231.6 257.7L234.6 257.3L237.6 256.9L240.6 256.5L243.5 256.0L246.5 255.6L249.5 255.2L252.4 254.7L255.4 254.3L258.4 253.9L261.3 253.4L264.3 252.9L267.3 252.4L270.2 251.9L273.2 251.4L276.1 250.8L279.1 250.2L282.0 249.5L284.9 248.8L287.8 248.1L290.7 247.3L293.6 246.4L296.4 245.5L299.3 244.6L302.1 243.6L305.0 242.6L307.8 241.6L310.6 240.5L313.3 239.3L316.1 238.2L318.9 237.0L321.6 235.8L324.4 234.6L327.1 233.3L329.8 232.0L332.5 230.7L335.2 229.4L337.9 228.1L340.5 226.7L343.2 225.3L345.8 223.9L348.5 222.4L351.1 221.0L353.7 219.5L356.3 218.0L358.9 216.5L361.5 215.0L364.1 213.4L366.6 211.9L369.2 210.3L371.8 208.8L374.3 207.2L376.9 205.6L379.4 204.0L381.9 202.4L384.5 200.8L387.0 199.1L389.5 197.5L392.0 195.8L394.5 194.2L397.0 192.5L399.4 190.8L401.9 189.1L404.4 187.4L406.9 185.7L409.3 184.0L411.8 182.3L414.3 180.6L416.7 178.8L419.2 177.1L421.6 175.4L424.1 173.6L426.5 171.9L428.9 170.1L431.3 168.3L433.8 166.6L436.2 164.8L438.6 163.0L441.0 161.2L443.4 159.4L445.8 157.6L448.2 155.8L450.6 154.0L453.0 152.2L455.4 150.4L457.8 148.6L460.1 146.7L462.5 144.9L464.9 143.1L467.3 141.2L469.6 139.4L472.0 137.5L474.3 135.7L476.7 133.8L479.1 131.9L481.4 130.1L483.8 128.2L486.1 126.4L488.5 124.5L490.8 122.6L493.2 120.8L495.5 118.9L497.9 117.1L500.3 115.2L502.6 113.4L505.0 111.5L507.3 109.7L509.7 107.8L512.1 106.0L514.4 104.1L516.8 102.3L519.1 100.4L521.5 98.5L523.9 96.7L526.2 94.8L528.6 93.0L530.9 91.1L533.3 89.3L535.7 87.4L538.0 85.6L540.4 83.7L542.7 81.9L545.1 80.0M84.8 310.9L87.8 311.0L90.8 311.2L93.8 311.3L96.8 311.4L99.8 311.5L102.8 311.7L105.8 311.8L108.8 311.9L111.8 312.1L114.8 312.2L117.8 312.3L120.8 312.5L123.8 312.6L126.8 312.7L129.8 312.9L132.8 313.0L135.8 313.2L138.8 313.4L141.7 313.5L144.7 313.7L147.7 313.9L150.7 314.1L153.7 314.3L156.7 314.5L159.7 314.7L162.7 315.0L165.7 315.2L168.7 315.5L171.7 315.7L174.7 316.0L177.7 316.2L180.6 316.5L183.6 316.8L186.6 317.1L189.6 317.3L192.6 317.6L195.6 317.9L198.6 318.2L201.5 318.5L204.5 318.8L207.5 319.1L210.5 319.5L213.5 319.8L216.5 320.2L219.4 320.6L222.4 320.9L225.4 321.3L228.4 321.7L231.3 322.1L234.3 322.5L237.3 322.8L240.3 323.1L243.3 323.5L246.3 323.7L249.2 324.0L252.2 324.2L255.2 324.4L258.2 324.6L261.2 324.7L264.2 324.8L267.2 324.9L270.2 325.0L273.2 325.0L276.2 325.1L279.2 325.1L282.2 325.0L285.2 324.7L288.2 324.2L291.1 323.7L294.1 323.1L297.0 322.5L299.9 321.8L302.8 321.1L305.8 320.4L308.7 319.7L311.6 318.9L314.5 318.1L317.3 317.3L320.2 316.4L323.1 315.5L325.9 314.5L328.7 313.5L331.6 312.5L334.4 311.5L337.2 310.5L340.0 309.4L342.8 308.2L345.5 307.1L348.3 305.8L351.0 304.6L353.7 303.3L356.4 301.9L359.0 300.5L361.6 299.0L364.2 297.5L366.8 295.9L369.3 294.3L371.8 292.7L374.3 291.0L376.8 289.3L379.3 287.6L381.7 285.9L384.2 284.2L386.6 282.5L389.1 280.7L391.5 278.9L393.9 277.2L396.3 275.4L398.7 273.6L401.1 271.8L403.5 269.9L405.8 268.1L408.2 266.2L410.5 264.3L412.9 262.4L415.2 260.6L417.6 258.7L419.9 256.8L422.2 254.9L424.6 253.1L427.0 251.2L429.3 249.4L431.7 247.6L434.1 245.8L436.5 244.0L438.9 242.2L441.4 240.4L443.8 238.6L446.2 236.9L448.6 235.1L451.0 233.3L453.4 231.5L455.8 229.7L458.2 227.9L460.6 226.1L463.0 224.3L465.4 222.5L467.8 220.7L470.2 218.9L472.6 217.1L475.0 215.2L477.3 213.4L479.7 211.5L482.1 209.7L484.4 207.8L486.7 205.8L488.9 203.8L491.1 201.8L493.4 199.9L495.7 197.9L498.0 196.0L500.3 194.1L502.7 192.3L505.1 190.4L507.4 188.6L509.8 186.7L512.1 184.9L514.5 183.0L516.9 181.2L519.3 179.4L521.6 177.5L524.0 175.7L526.4 173.9L528.8 172.0L531.2 170.2L533.6 168.4L535.9 166.6L538.3 164.8L540.7 163.0L543.1 161.2L545.5 159.4L547.9 157.6L550.4 155.8L552.8 154.0L555.2 152.2L557.6 150.5L560.0 148.7L562.4 146.9L564.9 145.2L567.3 143.4L569.7 141.6L572.1 139.8L574.6 138.1L577.0 136.3L579.4 134.5L581.8 132.7L584.2 130.9L586.6 129.1L589.0 127.4L591.4 125.6L593.9 123.8L596.3 122.0L598.7 120.2L601.1 118.4L603.5 116.7L605.9 114.9L608.3 113.1L610.7 111.3L613.1 109.5L615.5 107.6L617.9 105.8L620.2 103.9L622.6 102.1L624.9 100.2L627.2 98.2L629.5 96.3L631.7 94.3L633.9 92.3L636.2 90.3L638.4 88.2L640.5 86.2L642.7 84.1L644.9 82.0L647.1 80.0M84.8 351.2L87.8 351.4L90.8 351.6L93.8 351.7L96.8 351.9L99.8 352.1L102.8 352.2L105.8 352.4L108.8 352.6L111.8 352.8L114.8 353.0L117.7 353.2L120.7 353.4L123.7 353.7L126.7 353.9L129.7 354.2L132.7 354.6L135.7 354.9L138.6 355.3L141.6 355.8L144.6 356.2L147.5 356.7L150.5 357.2L153.4 357.8L156.4 358.3L159.3 359.0L162.3 359.6L165.2 360.3L168.1 360.9L171.0 361.7L173.9 362.4L176.8 363.2L179.7 364.0L182.6 364.8L185.5 365.6L188.4 366.5L191.2 367.4L194.1 368.4L196.9 369.3L199.7 370.3L202.6 371.3L205.4 372.3L208.2 373.3L211.1 374.3L213.9 375.3L216.7 376.4L219.5 377.4L222.3 378.5L225.1 379.6L227.9 380.7L230.6 381.9L233.4 383.0L236.2 384.2L239.0 385.4L241.7 386.5L244.5 387.7L247.3 388.8L250.0 389.9L252.8 391.0L255.6 392.1L258.5 393.1L261.3 394.1L264.2 395.0L267.0 395.9L269.9 396.7L272.8 397.5L275.7 398.3L278.6 399.1L281.5 399.8L284.4 400.5L287.3 401.3L290.2 402.0L293.1 402.8L296.0 403.6L299.0 404.0L302.0 404.4L305.0 404.8L307.9 405.2L310.9 405.4L313.9 405.3L316.9 405.0L319.9 404.4L322.8 403.7L325.7 403.0L328.6 402.2L331.4 401.3L334.3 400.3L337.1 399.3L339.9 398.1L342.6 396.9L345.3 395.6L348.0 394.2L350.6 392.8L353.2 391.2L355.7 389.6L358.2 388.0L360.7 386.3L363.2 384.6L365.6 382.8L368.0 381.0L370.4 379.2L372.8 377.4L375.2 375.6L377.5 373.7L379.9 371.9L382.2 370.0L384.6 368.1L386.9 366.2L389.2 364.3L391.5 362.4L393.8 360.5L396.1 358.5L398.4 356.6L400.7 354.7L403.0 352.7L405.3 350.8L407.6 348.8L409.8 346.9L412.1 344.9L414.4 343.0L416.7 341.0L418.9 339.0L421.2 337.0L423.4 335.1L425.7 333.1L427.9 331.1L430.2 329.1L432.4 327.1L434.6 325.1L436.9 323.1L439.1 321.0L441.3 319.0L443.5 317.0L445.7 315.0L448.0 313.0L450.2 311.0L452.4 309.0L454.6 306.9L456.9 304.9L459.1 302.9L461.3 300.9L463.5 298.8L465.7 296.8L467.9 294.8L470.1 292.8L472.3 290.7L474.5 288.7L476.8 286.7L479.0 284.6L481.2 282.6L483.4 280.6L485.6 278.5L487.8 276.5L490.0 274.5L492.2 272.4L494.4 270.4L496.6 268.4L498.9 266.4L501.1 264.3L503.3 262.3L505.5 260.3L507.8 258.3L510.0 256.3L512.3 254.3L514.5 252.4L516.8 250.4L519.0 248.4L521.3 246.4L523.6 244.5L525.8 242.5L528.1 240.6L530.4 238.6L532.7 236.7L535.0 234.8L537.3 232.8L539.6 230.9L541.9 229.0L544.2 227.0L546.5 225.1L548.8 223.2L551.1 221.3L553.4 219.3L555.7 217.4L558.0 215.5L560.3 213.6L562.6 211.7L565.0 209.8L567.3 207.9L569.6 206.0L572.0 204.1L574.3 202.3L576.7 200.4L579.1 198.6L581.4 196.7L583.8 194.9L586.2 193.2L588.7 191.4L591.1 189.6L593.6 187.9L596.0 186.2L598.5 184.5L601.0 182.8L603.5 181.1L605.9 179.4L608.4 177.8L610.9 176.1L613.4 174.4L615.9 172.7L618.4 171.1L620.9 169.4L623.3 167.7L625.8 166.0L628.3 164.3L630.7 162.6L633.2 160.8L635.7 159.1L638.1 157.4L640.6 155.7L643.1 154.0L645.5 152.3L648.0 150.6L650.5 148.9L653.0 147.2L655.4 145.5L657.9 143.8L660.4 142.1L662.9 140.5L665.4 138.8L667.9 137.1L670.4 135.5L672.9 133.8L675.4 132.2L677.9 130.5L680.4 128.9L683.0 127.3L685.5 125.6L688.0 124.0L690.5 122.4L693.0 120.7L695.5 119.1L698.1 117.5L700.6 115.8L703.1 114.2L705.6 112.6L708.1 110.9L710.6 109.3L713.2 107.7L715.7 106.0L718.2 104.4M84.8 386.1L87.8 386.3L90.8 386.6L93.8 386.8L96.8 387.0L99.8 387.2L102.8 387.4L105.8 387.6L108.8 387.8L111.8 388.1L114.8 388.3L117.8 388.6L120.8 388.8L123.7 389.1L126.7 389.5L129.7 389.8L132.7 390.2L135.7 390.7L138.6 391.1L141.6 391.6L144.6 392.2L147.5 392.7L150.5 393.3L153.4 393.9L156.3 394.6L159.2 395.3L162.2 396.0L165.1 396.8L167.9 397.6L170.8 398.5L173.7 399.4L176.5 400.4L179.4 401.4L182.2 402.4L185.0 403.4L187.8 404.5L190.6 405.6L193.4 406.8L196.1 408.0L198.9 409.2L201.6 410.5L204.3 411.8L207.0 413.2L209.6 414.6L212.2 416.1L214.8 417.6L217.4 419.1L219.9 420.8L222.4 422.4L224.9 424.2L227.3 425.9L229.8 427.7L232.2 429.5L234.5 431.3L236.9 433.1L239.3 435.0L241.6 436.9L244.0 438.7L246.3 440.6L248.7 442.5L251.0 444.4L253.3 446.3L255.6 448.2L258.0 450.1L260.3 452.0L262.6 454.0L264.8 456.0L267.1 458.0L269.3 460.0L271.4 462.1L273.6 464.2L275.8 466.3L278.0 468.3L280.2 470.3L282.4 472.3L284.7 474.3L287.0 476.3L289.2 478.3L291.5 480.3L293.7 482.2L296.0 484.2L298.3 486.2L300.5 488.1L302.8 490.1L305.1 492.1L307.3 494.1L309.5 496.1L311.8 498.1L314.1 500.0L316.5 501.8L319.1 503.2L322.0 504.2L325.0 504.2L327.8 503.4L330.6 502.2L333.3 500.8L335.8 499.3L338.3 497.6L340.7 495.8L343.0 493.8L345.3 491.8L347.4 489.7L349.5 487.6L351.6 485.4L353.6 483.2L355.6 480.9L357.6 478.7L359.6 476.4L361.5 474.1L363.5 471.9L365.5 469.6L367.5 467.4L369.4 465.1L371.4 462.8L373.3 460.5L375.2 458.2L377.2 455.9L379.1 453.6L381.0 451.3L382.9 449.0L384.9 446.7L386.8 444.4L388.8 442.1L390.7 439.8L392.7 437.6L394.7 435.3L396.6 433.0L398.6 430.8L400.6 428.5L402.6 426.3L404.7 424.1L406.7 421.9L408.7 419.6L410.8 417.4L412.8 415.2L414.9 413.1L417.0 410.9L419.0 408.7L421.1 406.5L423.2 404.4L425.3 402.2L427.4 400.1L429.5 397.9L431.6 395.8L433.7 393.7L435.8 391.5L438.0 389.4L440.1 387.3L442.2 385.1L444.3 383.0L446.5 380.9L448.6 378.8L450.8 376.7L452.9 374.6L455.1 372.5L457.2 370.4L459.4 368.4L461.6 366.3L463.8 364.2L466.0 362.2L468.2 360.2L470.5 358.2L472.7 356.2L474.9 354.2L477.2 352.2L479.4 350.2L481.7 348.2L483.9 346.2L486.2 344.2L488.4 342.2L490.7 340.2L492.9 338.2L495.2 336.3L497.5 334.3L499.7 332.3L501.9 330.3L504.2 328.3L506.4 326.3L508.7 324.3L510.9 322.3L513.1 320.3L515.4 318.3L517.6 316.3L519.9 314.3L522.2 312.3L524.4 310.3L526.7 308.4L529.0 306.5L531.3 304.5L533.6 302.6L536.0 300.7L538.3 298.8L540.6 296.9L543.0 295.1L545.3 293.2L547.7 291.3L550.1 289.5L552.5 287.7L554.8 285.8L557.2 284.0L559.7 282.2L562.1 280.5L564.5 278.7L567.0 277.0L569.4 275.3L571.9 273.5L574.3 271.8L576.8 270.1L579.2 268.3L581.7 266.6L584.1 264.8L586.5 263.0L588.9 261.2L591.4 259.4L593.8 257.6L596.2 255.8L598.6 254.0L601.0 252.3L603.4 250.5L605.9 248.7L608.3 247.0L610.7 245.2L613.2 243.4L615.6 241.7L618.1 240.0L620.6 238.3L623.1 236.7L625.6 235.0L628.1 233.4L630.7 231.8L633.2 230.1L635.7 228.5L638.3 226.9L640.8 225.3L643.3 223.7L645.9 222.1L648.4 220.5L650.9 218.8L653.5 217.2L656.0 215.6L658.5 213.9L661.0 212.3L663.5 210.6L666.0 209.0L668.5 207.3L671.0 205.6L673.5 203.9L676.0 202.3L678.5 200.6L681.0 198.9L683.5 197.2L685.9 195.5L688.4 193.8L690.9 192.1L693.4 190.4L695.9 188.7L698.3 187.1L700.8 185.4L703.3 183.7L705.8 182.0L708.3 180.3L710.8 178.6L713.2 176.9L715.7 175.2L718.2 173.5M84.8 417.6L87.8 417.9L90.8 418.2L93.8 418.5L96.8 418.8L99.8 419.0L102.7 419.3L105.7 419.6L108.7 419.9L111.7 420.3L114.7 420.6L117.7 421.0L120.7 421.3L123.6 421.7L126.6 422.1L129.6 422.6L132.5 423.3L135.4 424.3L138.2 425.2L141.1 426.2L143.9 427.1L146.8 428.1L149.6 429.0L152.5 430.0L155.3 430.9L158.1 431.9L161.0 432.9L163.8 433.9L166.6 435.0L169.4 436.0L172.3 437.1L175.0 438.2L177.8 439.3L180.6 440.5L183.3 441.8L186.0 443.0L188.7 444.4L191.4 445.8L194.0 447.2L196.6 448.7L199.2 450.3L201.8 451.9L204.3 453.5L206.8 455.1L209.3 456.8L211.7 458.6L214.2 460.3L216.6 462.1L219.0 463.9L221.3 465.8L223.7 467.7L226.0 469.6L228.3 471.5L230.6 473.5L232.8 475.5L235.0 477.6L237.1 479.7L239.3 481.8L241.4 483.9L243.4 486.1L245.5 488.3L247.5 490.5L249.5 492.8L251.5 495.0L253.5 497.2L255.5 499.5L257.5 501.7L259.5 504.0L261.5 506.3L263.5 508.5L265.5 510.7L267.5 512.9L269.5 515.2L271.5 517.4L273.5 519.7L275.5 521.9L277.5 524.2L279.4 526.5L281.3 528.8L283.2 531.2L285.0 533.6L286.8 536.0L288.6 538.4L290.3 540.9L292.0 543.4L293.6 545.9L295.2 548.4L296.8 551.0L298.3 553.6L299.8 556.2L301.2 558.8L302.6 561.5L304.0 564.2L305.3 566.9L306.6 569.6L307.9 572.3L309.2 575.0L310.5 577.7L311.8 580.4L313.1 583.1L314.4 585.8L315.7 588.5L317.0 591.2L318.3 593.9L319.6 596.7L320.7 599.5L321.6 602.3L322.0 605.3L322.2 608.3M324.2 608.3L325.2 605.5L326.2 602.6L327.2 599.8L328.2 597.0L329.2 594.1L330.3 591.3L331.4 588.5L332.5 585.7L333.6 582.9L334.7 580.1L335.8 577.3L336.9 574.5L338.0 571.7L339.2 569.0L340.4 566.2L341.7 563.5L343.0 560.8L344.3 558.1L345.7 555.4L347.1 552.7L348.5 550.1L349.9 547.4L351.3 544.8L352.8 542.2L354.3 539.5L355.8 537.0L357.4 534.4L359.0 531.9L360.7 529.3L362.4 526.9L364.1 524.4L365.8 521.9L367.6 519.5L369.4 517.1L371.2 514.7L373.1 512.4L375.0 510.0L376.9 507.7L378.9 505.4L380.8 503.2L382.9 500.9L384.9 498.7L387.0 496.5L389.1 494.4L391.2 492.2L393.3 490.1L395.4 488.0L397.6 485.9L399.7 483.8L401.9 481.7L404.0 479.6L406.2 477.5L408.4 475.4L410.5 473.3L412.7 471.2L414.9 469.2L417.2 467.2L419.4 465.2L421.6 463.1L423.8 461.1L426.1 459.1L428.3 457.0L430.5 455.0L432.6 452.9L434.8 450.8L436.9 448.7L439.0 446.6L441.1 444.4L443.2 442.2L445.3 440.1L447.4 437.9L449.5 435.7L451.6 433.6L453.7 431.5L455.9 429.4L458.1 427.3L460.3 425.2L462.5 423.2L464.7 421.2L466.9 419.1L469.2 417.1L471.4 415.1L473.6 413.1L475.9 411.2L478.2 409.2L480.4 407.2L482.7 405.2L485.0 403.2L487.2 401.3L489.5 399.3L491.8 397.3L494.0 395.3L496.3 393.3L498.6 391.4L500.8 389.4L503.1 387.4L505.3 385.4L507.6 383.4L509.8 381.4L512.1 379.4L514.3 377.4L516.6 375.5L518.9 373.5L521.1 371.5L523.4 369.5L525.6 367.5L527.9 365.5L530.2 363.6L532.5 361.6L534.8 359.7L537.1 357.7L539.4 355.8L541.7 353.9L544.0 351.9L546.3 350.0L548.6 348.1L551.0 346.2L553.3 344.3L555.6 342.4L558.0 340.5L560.3 338.6L562.7 336.8L565.0 334.9L567.4 333.0L569.8 331.2L572.1 329.4L574.5 327.6L576.9 325.7L579.4 324.0L581.8 322.2L584.2 320.4L586.7 318.7L589.2 317.0L591.6 315.3L594.1 313.6L596.7 311.9L599.2 310.3L601.7 308.7L604.2 307.0L606.8 305.4L609.3 303.8L611.8 302.2L614.4 300.6L616.9 299.0L619.5 297.4L622.0 295.8L624.6 294.2L627.1 292.6L629.6 291.0L632.2 289.4L634.7 287.8L637.3 286.2L639.8 284.6L642.4 283.0L644.9 281.4L647.5 279.8L650.0 278.2L652.6 276.6L655.2 275.1L657.8 273.5L660.4 272.0L662.9 270.5L665.5 269.0L668.2 267.5L670.8 266.0L673.4 264.5L676.1 263.1L678.7 261.7L681.4 260.3L684.0 258.9L686.7 257.5L689.3 256.1L692.0 254.7L694.7 253.3L697.3 251.8L700.0 250.4L702.6 249.0L705.2 247.5L707.8 246.0L710.4 244.5L713.0 243.0L715.6 241.4L718.2 239.9M84.8 448.3L87.8 448.7L90.8 449.1L93.7 449.4L96.7 449.8L99.7 450.2L102.7 450.5L105.7 450.9L108.7 451.3L111.7 451.7L114.6 452.1L117.6 452.6L120.6 453.0L123.5 453.6L126.5 454.1L129.4 454.7L132.4 455.3L135.3 456.0L138.2 456.8L141.1 457.6L144.0 458.5L146.9 459.3L149.7 460.3L152.6 461.3L155.4 462.3L158.2 463.4L161.0 464.5L163.7 465.7L166.5 466.9L169.2 468.2L171.9 469.5L174.6 470.8L177.3 472.2L180.0 473.6L182.6 475.0L185.2 476.5L187.8 478.0L190.4 479.5L193.0 481.1L195.5 482.7L198.1 484.3L200.6 486.0L203.1 487.7L205.6 489.4L208.0 491.1L210.5 492.9L212.9 494.6L215.3 496.5L217.6 498.3L220.0 500.2L222.3 502.1L224.6 504.1L226.8 506.1L229.1 508.1L231.3 510.1L233.5 512.2L235.6 514.3L237.8 516.4L239.9 518.5L242.1 520.6L244.2 522.7L246.3 524.9L248.4 527.0L250.6 529.1L252.7 531.3L254.8 533.4L256.8 535.6L258.9 537.8L260.9 540.0L263.0 542.2L265.0 544.4L267.0 546.7L269.0 548.9L271.0 551.1L273.0 553.4L275.1 555.6L277.1 557.8L279.1 560.0L281.2 562.2L283.3 564.4L285.4 566.5L287.6 568.6L289.6 570.8L291.6 573.1L293.6 575.3L295.6 577.6L297.5 579.9L299.4 582.2L301.3 584.5L303.1 587.0L304.8 589.4L306.4 592.0L307.9 594.6L309.4 597.2L310.8 599.9L312.1 602.6L313.2 605.4L313.9 608.3M326.9 608.3L328.6 605.8L330.3 603.3L332.0 600.8L333.7 598.4L335.4 595.9L337.1 593.4L338.8 590.9L340.5 588.5L342.3 586.0L344.1 583.6L345.9 581.2L347.7 578.8L349.5 576.4L351.3 574.0L353.1 571.6L355.0 569.2L356.9 566.9L358.8 564.6L360.7 562.3L362.7 560.0L364.7 557.7L366.7 555.5L368.7 553.3L370.8 551.1L372.8 548.9L374.9 546.7L377.0 544.6L379.2 542.4L381.3 540.3L383.5 538.2L385.6 536.1L387.8 534.1L390.0 532.0L392.2 530.0L394.4 527.9L396.6 525.9L398.9 523.9L401.2 521.9L403.4 520.0L405.7 518.0L408.0 516.0L410.3 514.1L412.6 512.2L414.9 510.2L417.2 508.3L419.5 506.4L421.8 504.4L424.1 502.5L426.4 500.6L428.7 498.6L431.0 496.7L433.3 494.8L435.6 492.8L438.0 490.9L440.3 489.0L442.6 487.1L444.9 485.1L447.2 483.2L449.5 481.3L451.9 479.4L454.2 477.5L456.5 475.6L458.8 473.7L461.2 471.8L463.5 469.9L465.8 468.0L468.2 466.1L470.5 464.2L472.8 462.3L475.2 460.4L477.6 458.5L479.9 456.7L482.3 454.8L484.6 452.9L487.0 451.1L489.4 449.2L491.7 447.4L494.1 445.5L496.5 443.6L498.8 441.8L501.2 439.9L503.5 438.1L505.9 436.2L508.3 434.3L510.6 432.5L513.0 430.6L515.3 428.7L517.6 426.8L519.9 424.8L522.2 422.9L524.6 421.0L526.9 419.1L529.2 417.2L531.5 415.3L533.9 413.4L536.3 411.6L538.7 409.8L541.1 408.0L543.5 406.2L546.0 404.5L548.5 402.7L550.9 401.0L553.4 399.3L555.9 397.6L558.4 395.9L560.9 394.2L563.4 392.6L565.9 390.9L568.4 389.3L570.9 387.6L573.4 386.0L576.0 384.4L578.5 382.8L581.1 381.2L583.6 379.6L586.2 378.0L588.7 376.4L591.3 374.9L593.9 373.3L596.5 371.8L599.1 370.3L601.7 368.8L604.3 367.3L606.9 365.8L609.5 364.3L612.2 362.8L614.8 361.3L617.4 359.8L620.0 358.3L622.6 356.8L625.2 355.3L627.8 353.8L630.4 352.3L633.0 350.7L635.5 349.2L638.1 347.6L640.7 346.1L643.3 344.6L645.9 343.0L648.5 341.5L651.1 340.0L653.7 338.5L656.3 337.1L659.0 335.6L661.6 334.2L664.3 332.8L666.9 331.4L669.6 330.0L672.3 328.6L675.0 327.2L677.6 325.9L680.3 324.5L683.0 323.2L685.7 321.9L688.4 320.6L691.1 319.2L693.8 317.9L696.5 316.6L699.3 315.3L702.0 314.0L704.7 312.7L707.4 311.4L710.1 310.0L712.8 308.7L715.5 307.4L718.2 306.1M84.8 481.1L87.7 480.3L90.7 480.5L93.7 480.9L96.7 481.3L99.7 481.8L102.7 482.3L105.6 482.8L108.6 483.3L111.6 483.8L114.6 484.3L117.5 484.9L120.5 485.5L123.4 486.2L126.4 486.9L129.3 487.6L132.2 488.4L135.1 489.3L138.0 490.3L140.8 491.2L143.7 492.3L146.5 493.3L149.3 494.4L152.1 495.6L154.9 496.7L157.7 497.9L160.4 499.2L163.1 500.4L165.9 501.7L168.6 503.1L171.3 504.4L174.0 505.8L176.7 507.2L179.3 508.6L182.0 510.1L184.6 511.6L187.2 513.1L189.8 514.7L192.3 516.2L194.9 517.8L197.5 519.5L200.0 521.1L202.5 522.7L205.1 524.4L207.6 526.0L210.1 527.7L212.6 529.4L215.1 531.1L217.6 532.8L220.1 534.5L222.6 536.2L225.1 537.9L227.6 539.7L230.0 541.4L232.5 543.2L234.9 544.9L237.4 546.7L239.8 548.5L242.2 550.3L244.6 552.1L247.1 553.9L249.5 555.7L251.9 557.5L254.3 559.3L256.7 561.2L259.1 563.0L261.5 564.8L263.9 566.7L266.3 568.5L268.7 570.4L271.1 572.2L273.4 574.1L275.8 576.0L278.2 577.9L280.5 579.8L282.8 581.7L285.2 583.6L287.5 585.5L289.8 587.5L292.1 589.5L294.3 591.6L296.4 593.7L298.3 596.0L300.2 598.4L302.1 600.8L303.8 603.2L305.5 605.8L307.1 608.3M336.5 608.3L338.5 606.1L340.6 603.8L342.6 601.6L344.7 599.4L346.7 597.2L348.8 595.0L350.9 592.8L353.0 590.7L355.1 588.5L357.2 586.3L359.3 584.2L361.5 582.0L363.6 579.9L365.8 577.8L367.9 575.7L370.1 573.6L372.4 571.6L374.6 569.6L376.9 567.6L379.1 565.6L381.4 563.6L383.7 561.6L386.0 559.7L388.3 557.7L390.6 555.8L392.9 553.9L395.3 552.0L397.6 550.1L400.0 548.2L402.4 546.4L404.8 544.6L407.2 542.8L409.7 541.0L412.1 539.2L414.6 537.5L417.1 535.8L419.6 534.1L422.1 532.5L424.7 530.8L427.2 529.2L429.7 527.5L432.3 525.9L434.9 524.3L437.4 522.7L440.0 521.2L442.6 519.6L445.2 518.0L447.7 516.5L450.3 514.9L452.9 513.3L455.5 511.8L458.1 510.2L460.7 508.7L463.3 507.1L465.8 505.6L468.4 504.0L471.0 502.4L473.6 500.8L476.1 499.2L478.7 497.7L481.3 496.1L483.8 494.5L486.4 492.9L489.0 491.3L491.6 489.8L494.2 488.2L496.8 486.7L499.4 485.2L502.0 483.7L504.6 482.2L507.2 480.7L509.9 479.2L512.5 477.7L515.1 476.3L517.8 474.8L520.4 473.3L523.1 471.9L525.7 470.4L528.4 469.0L531.0 467.5L533.7 466.1L536.3 464.6L539.0 463.2L541.6 461.7L544.3 460.3L546.9 458.8L549.6 457.4L552.2 456.0L554.9 454.5L557.6 453.1L560.2 451.7L562.9 450.3L565.5 448.8L568.2 447.4L570.9 446.0L573.5 444.6L576.2 443.2L578.9 441.8L581.5 440.3L584.2 438.9L586.9 437.5L589.5 436.1L592.2 434.7L594.9 433.2L597.5 431.8L600.2 430.4L602.8 429.0L605.5 427.6L608.2 426.2L610.9 424.8L613.5 423.4L616.2 422.0L618.9 420.6L621.6 419.2L624.3 417.9L627.0 416.5L629.7 415.1L632.4 413.7L635.0 412.4L637.7 411.0L640.4 409.7L643.1 408.3L645.8 407.0L648.6 405.7L651.3 404.3L654.0 403.1L656.7 401.8L659.5 400.5L662.2 399.3L665.0 398.1L667.8 396.9L670.6 395.7L673.3 394.5L676.1 393.4L678.9 392.2L681.7 391.1L684.5 390.0L687.3 388.8L690.1 387.7L692.9 386.6L695.7 385.5L698.5 384.4L701.4 383.3L704.2 382.1L707.0 381.0L709.8 379.9L712.6 378.8L715.4 377.7L718.2 376.6M301.0 608.8H324.2" fill="none" stroke="#000" stroke-width="1.9" stroke-linejoin="round"/>
<path d="M84.0 80.0H718.5V619.6H84.0ZM74.4 619.6H84.0M74.4 511.7H84.0M74.4 403.8H84.0M74.4 295.8H84.0M74.4 187.9H84.0M74.4 80.0H84.0M78.5 565.6H84.0M78.5 457.7H84.0M78.5 349.8H84.0M78.5 241.9H84.0M78.5 134.0H84.0M84.0 619.6V629.2M242.6 619.6V629.2M401.2 619.6V629.2M559.9 619.6V629.2M718.5 619.6V629.2M163.3 619.6V624.8M321.9 619.6V624.8M480.5 619.6V624.8M639.2 619.6V624.8" fill="none" stroke="#000" stroke-width="1.9" stroke-linecap="square"/>
<text x="67.8" y="627.7" text-anchor="end">0.0</text>
<text x="67.8" y="519.8" text-anchor="end">0.1</text>
<text x="67.8" y="411.9" text-anchor="end">0.2</text>
<text x="67.8" y="303.9" text-anchor="end">0.3</text>
<text x="67.8" y="196.0" text-anchor="end">0.4</text>
<text x="67.8" y="88.1" text-anchor="end">0.5</text>
<text x="84.0" y="656.5" text-anchor="middle">0.0</text>
<text x="242.6" y="656.5" text-anchor="middle">0.2</text>
<text x="401.2" y="656.5" text-anchor="middle">0.4</text>
<text x="559.9" y="656.5" text-anchor="middle">0.6</text>
<text x="718.5" y="656.5" text-anchor="middle">0.8</text>
<text x="796.7" y="125.2">2.0</text>
<text x="796.7" y="243.6">1.5</text>
<text x="796.7" y="362.0">1.0</text>
<text x="796.7" y="480.4">0.5</text>
<text x="796.7" y="598.8">0.0</text>
<text x="732.3" y="93.7" font-style="italic" font-size="30">S/Nk<tspan font-size="18" dy="11.6">B</tspan></text>
<text x="370.4" y="686.0" font-style="italic" font-size="30">h / J</text>
<text transform="translate(22.0 377.6) rotate(-90)" font-size="30"><tspan font-style="italic">k</tspan><tspan font-size="18" dy="9.5">B</tspan><tspan dy="-9.5" font-style="italic">T / J</tspan></text>
<text x="-1.2" y="26.8" font-family="'Liberation Sans',Arial,sans-serif" font-weight="bold" font-size="38.5">A</text>
<text x="567.6" y="598.5" fill="#000" font-size="30"><tspan font-style="italic">J</tspan><tspan font-size="18" dy="10.5">1</tspan><tspan dy="-10.5"> / </tspan><tspan font-style="italic">J</tspan><tspan dx="-1.2"> = </tspan><tspan dx="-0.8">-1.5</tspan></text>
<text x="151.0" y="546.0" fill="#fff" font-size="26">0.0</text>
<path d="M1025.5 211.1L1028.5 210.8L1031.5 210.5L1034.5 210.2L1037.5 209.9L1040.5 209.7L1043.5 209.4L1046.5 209.1L1049.5 208.8L1052.5 208.5L1055.5 208.1L1058.5 207.8L1061.5 207.4L1064.5 207.1L1067.5 206.7L1070.5 206.3L1073.5 205.8L1076.5 205.4L1079.5 204.9L1082.4 204.4L1085.4 203.9L1088.4 203.3L1091.4 202.8L1094.3 202.3L1097.3 201.7L1100.3 201.1L1103.2 200.5L1106.2 199.9L1109.1 199.3L1112.1 198.7L1115.0 198.1L1118.0 197.4L1120.9 196.7L1123.9 196.1L1126.8 195.4L1129.7 194.6L1132.7 193.9L1135.6 193.2L1138.5 192.4L1141.4 191.6L1144.3 190.8L1147.2 190.0L1150.2 189.2L1153.1 188.3L1155.9 187.5L1158.8 186.6L1161.7 185.7L1164.6 184.9L1167.5 184.0L1170.4 183.1L1173.3 182.2L1176.1 181.3L1179.0 180.3L1181.9 179.4L1184.8 178.5L1187.6 177.5L1190.5 176.6L1193.3 175.6L1196.2 174.6L1199.1 173.7L1201.9 172.7L1204.8 171.7L1207.6 170.6L1210.4 169.6L1213.3 168.5L1216.1 167.5L1218.9 166.3L1221.7 165.2L1224.5 164.0L1227.2 162.9L1230.0 161.6L1232.8 160.4L1235.5 159.1L1238.2 157.8L1240.9 156.5L1243.6 155.2L1246.3 153.8L1249.0 152.4L1251.7 151.0L1254.3 149.6L1257.0 148.1L1259.6 146.6L1262.2 145.1L1264.8 143.6L1267.4 142.0L1270.0 140.5L1272.6 138.9L1275.1 137.3L1277.7 135.6L1280.2 134.0L1282.7 132.3L1285.2 130.6L1287.7 128.9L1290.2 127.2L1292.6 125.5L1295.1 123.7L1297.6 122.0L1300.0 120.2L1302.4 118.4L1304.9 116.6L1307.3 114.8L1309.7 113.0L1312.1 111.1L1314.5 109.3L1316.8 107.4L1319.2 105.5L1321.5 103.6L1323.8 101.6L1326.1 99.7L1328.4 97.8L1330.7 95.8L1333.0 93.8L1335.3 91.9L1337.6 89.9L1339.9 87.9L1342.1 85.9L1344.4 83.9L1346.7 82.0L1349.0 80.0M1025.5 286.3L1028.5 286.1L1031.5 285.9L1034.5 285.7L1037.5 285.5L1040.5 285.3L1043.5 285.0L1046.5 284.8L1049.5 284.6L1052.5 284.4L1055.5 284.1L1058.5 283.9L1061.5 283.6L1064.5 283.4L1067.5 283.1L1070.5 282.8L1073.5 282.4L1076.5 282.1L1079.5 281.7L1082.5 281.3L1085.5 281.0L1088.5 280.6L1091.5 280.2L1094.4 279.8L1097.4 279.3L1100.4 278.9L1103.4 278.5L1106.4 278.0L1109.3 277.5L1112.3 277.0L1115.3 276.5L1118.2 276.0L1121.2 275.5L1124.2 274.9L1127.1 274.4L1130.1 273.8L1133.0 273.2L1136.0 272.6L1138.9 271.9L1141.9 271.3L1144.8 270.6L1147.7 269.9L1150.7 269.2L1153.6 268.5L1156.5 267.8L1159.4 267.1L1162.3 266.3L1165.3 265.6L1168.2 264.8L1171.1 264.0L1174.0 263.2L1176.9 262.4L1179.8 261.6L1182.7 260.8L1185.6 259.9L1188.5 259.1L1191.3 258.2L1194.2 257.3L1197.1 256.4L1200.0 255.5L1202.8 254.5L1205.7 253.6L1208.5 252.6L1211.4 251.6L1214.2 250.6L1217.0 249.6L1219.9 248.5L1222.7 247.4L1225.5 246.3L1228.3 245.2L1231.1 244.1L1233.8 242.9L1236.6 241.8L1239.4 240.5L1242.1 239.3L1244.9 238.1L1247.6 236.8L1250.3 235.5L1253.0 234.2L1255.7 232.9L1258.4 231.5L1261.1 230.1L1263.8 228.7L1266.4 227.3L1269.1 225.9L1271.7 224.5L1274.4 223.1L1277.0 221.6L1279.6 220.1L1282.3 218.6L1284.9 217.1L1287.5 215.6L1290.1 214.1L1292.6 212.5L1295.2 211.0L1297.8 209.4L1300.3 207.8L1302.9 206.2L1305.4 204.6L1308.0 202.9L1310.5 201.3L1313.0 199.6L1315.5 197.9L1318.0 196.2L1320.4 194.5L1322.9 192.8L1325.4 191.0L1327.8 189.3L1330.2 187.5L1332.7 185.7L1335.1 183.9L1337.5 182.1L1339.9 180.3L1342.3 178.5L1344.7 176.7L1347.1 174.8L1349.5 173.0L1351.8 171.1L1354.2 169.3L1356.5 167.4L1358.9 165.5L1361.2 163.6L1363.5 161.6L1365.8 159.7L1368.1 157.7L1370.4 155.8L1372.7 153.8L1375.0 151.9L1377.3 149.9L1379.5 147.9L1381.8 146.0L1384.1 144.0L1386.4 142.0L1388.7 140.1L1391.0 138.1L1393.3 136.2L1395.6 134.3L1397.9 132.4L1400.2 130.4L1402.6 128.5L1404.9 126.6L1407.2 124.7L1409.5 122.8L1411.9 120.9L1414.2 119.0L1416.5 117.1L1418.9 115.2L1421.2 113.3L1423.5 111.4L1425.9 109.5L1428.3 107.6L1430.6 105.7L1433.0 103.9L1435.3 102.0L1437.7 100.2L1440.1 98.3L1442.5 96.5L1444.9 94.6L1447.3 92.8L1449.6 91.0L1452.0 89.1L1454.4 87.3L1456.8 85.5L1459.2 83.7L1461.6 81.8L1464.0 80.0M1025.5 356.0L1028.5 355.7L1031.5 355.4L1034.5 355.1L1037.5 354.8L1040.5 354.6L1043.5 354.3L1046.5 354.0L1049.5 353.7L1052.5 353.4L1055.5 353.1L1058.5 352.7L1061.5 352.4L1064.5 352.0L1067.4 351.7L1070.4 351.3L1073.4 350.9L1076.4 350.5L1079.4 350.0L1082.4 349.6L1085.3 349.1L1088.3 348.7L1091.3 348.2L1094.3 347.7L1097.2 347.2L1100.2 346.7L1103.2 346.2L1106.1 345.7L1109.1 345.1L1112.0 344.6L1115.0 344.0L1118.0 343.4L1120.9 342.8L1123.9 342.2L1126.8 341.6L1129.8 340.9L1132.7 340.3L1135.6 339.6L1138.5 338.9L1141.5 338.2L1144.4 337.4L1147.3 336.7L1150.2 335.9L1153.1 335.1L1156.0 334.4L1159.0 333.6L1161.9 332.8L1164.8 332.0L1167.7 331.2L1170.6 330.3L1173.5 329.5L1176.3 328.7L1179.2 327.9L1182.1 327.0L1185.0 326.2L1187.9 325.4L1190.8 324.6L1193.7 323.7L1196.6 322.9L1199.5 322.0L1202.4 321.2L1205.3 320.3L1208.2 319.5L1211.0 318.6L1213.9 317.7L1216.8 316.8L1219.7 315.9L1222.5 314.9L1225.4 314.0L1228.2 313.0L1231.1 312.0L1233.9 311.0L1236.7 309.9L1239.6 308.9L1242.4 307.8L1245.2 306.8L1248.0 305.7L1250.8 304.6L1253.6 303.4L1256.4 302.3L1259.1 301.1L1261.9 299.9L1264.7 298.7L1267.4 297.5L1270.2 296.2L1272.9 294.9L1275.6 293.6L1278.3 292.3L1281.0 291.0L1283.7 289.6L1286.4 288.2L1289.0 286.8L1291.7 285.4L1294.3 284.0L1297.0 282.6L1299.6 281.1L1302.3 279.6L1304.9 278.2L1307.5 276.7L1310.1 275.2L1312.7 273.7L1315.3 272.2L1317.9 270.6L1320.5 269.1L1323.1 267.5L1325.6 265.9L1328.2 264.3L1330.7 262.7L1333.2 261.0L1335.8 259.4L1338.3 257.8L1340.8 256.2L1343.4 254.5L1345.9 252.9L1348.4 251.2L1351.0 249.6L1353.5 248.0L1356.0 246.4L1358.6 244.8L1361.1 243.1L1363.5 241.3L1365.9 239.5L1368.3 237.6L1370.7 235.8L1373.1 234.0L1375.4 232.1L1377.8 230.2L1380.2 228.4L1382.5 226.5L1384.9 224.6L1387.2 222.8L1389.6 220.9L1392.0 219.0L1394.3 217.2L1396.7 215.3L1399.1 213.4L1401.4 211.6L1403.8 209.7L1406.2 207.9L1408.6 206.0L1411.0 204.2L1413.4 202.4L1415.8 200.6L1418.2 198.8L1420.6 197.0L1423.0 195.2L1425.4 193.4L1427.9 191.6L1430.3 189.8L1432.7 188.0L1435.2 186.3L1437.6 184.5L1440.0 182.7L1442.5 181.0L1444.9 179.2L1447.4 177.5L1449.9 175.8L1452.4 174.1L1454.8 172.4L1457.3 170.7L1459.8 169.0L1462.3 167.2L1464.8 165.5L1467.2 163.8L1469.7 162.0L1472.1 160.3L1474.5 158.5L1476.9 156.7L1479.3 154.8L1481.7 153.0L1484.0 151.1L1486.4 149.2L1488.7 147.3L1491.1 145.4L1493.4 143.5L1495.7 141.5L1498.0 139.6L1500.3 137.6L1502.5 135.7L1504.8 133.7L1507.1 131.7L1509.3 129.7L1511.6 127.7L1513.8 125.7L1516.1 123.7L1518.3 121.7L1520.6 119.7L1522.8 117.6L1525.0 115.6L1527.2 113.5L1529.4 111.5L1531.6 109.4L1533.8 107.3L1535.9 105.2L1538.1 103.1L1540.3 101.1L1542.4 99.0L1544.6 96.9L1546.7 94.7L1548.9 92.6L1551.0 90.5L1553.2 88.4L1555.3 86.3L1557.5 84.2L1559.6 82.1L1561.8 80.0M1025.5 438.0L1028.5 437.5L1031.4 437.0L1034.4 436.5L1037.3 435.9L1040.3 435.3L1043.2 434.6L1046.1 433.9L1049.0 433.1L1051.9 432.3L1054.8 431.5L1057.7 430.6L1060.6 429.8L1063.5 428.9L1066.3 428.0L1069.2 427.1L1072.1 426.2L1074.9 425.2L1077.8 424.3L1080.6 423.3L1083.5 422.3L1086.3 421.3L1089.1 420.2L1091.9 419.1L1094.7 418.0L1097.5 416.9L1100.2 415.7L1103.0 414.5L1105.8 413.4L1108.5 412.2L1111.3 411.0L1114.1 409.8L1116.8 408.6L1119.6 407.5L1122.4 406.3L1125.2 405.2L1127.9 404.0L1130.7 402.9L1133.5 401.8L1136.3 400.7L1139.1 399.5L1141.9 398.4L1144.7 397.3L1147.5 396.2L1150.3 395.0L1153.1 393.9L1155.9 392.8L1158.7 391.7L1161.4 390.6L1164.3 389.5L1167.1 388.4L1169.9 387.4L1172.7 386.3L1175.5 385.3L1178.3 384.2L1181.2 383.2L1184.0 382.2L1186.8 381.3L1189.7 380.3L1192.6 379.4L1195.4 378.5L1198.3 377.6L1201.2 376.8L1204.1 376.0L1207.0 375.1L1209.9 374.3L1212.8 373.5L1215.7 372.7L1218.6 371.9L1221.4 371.1L1224.3 370.2L1227.2 369.4L1230.1 368.5L1233.0 367.6L1235.8 366.7L1238.7 365.7L1241.5 364.8L1244.4 363.8L1247.2 362.8L1250.0 361.8L1252.9 360.8L1255.7 359.7L1258.5 358.6L1261.3 357.5L1264.1 356.4L1266.9 355.3L1269.6 354.1L1272.4 353.0L1275.2 351.8L1277.9 350.6L1280.7 349.4L1283.4 348.1L1286.2 346.9L1288.9 345.6L1291.6 344.4L1294.4 343.1L1297.1 341.8L1299.8 340.5L1302.5 339.3L1305.2 338.0L1307.9 336.6L1310.6 335.3L1313.3 334.0L1316.1 332.7L1318.8 331.4L1321.5 330.1L1324.2 328.8L1326.9 327.4L1329.5 326.1L1332.2 324.7L1334.9 323.4L1337.6 322.0L1340.3 320.6L1342.9 319.2L1345.6 317.8L1348.2 316.4L1350.8 314.9L1353.5 313.4L1356.1 311.9L1358.7 310.4L1361.2 308.9L1363.8 307.3L1366.4 305.8L1368.9 304.2L1371.5 302.6L1374.1 301.0L1376.6 299.4L1379.1 297.8L1381.7 296.1L1384.2 294.5L1386.7 292.9L1389.2 291.2L1391.7 289.5L1394.2 287.9L1396.7 286.2L1399.2 284.5L1401.7 282.8L1404.2 281.1L1406.6 279.4L1409.1 277.7L1411.5 275.9L1414.0 274.2L1416.4 272.4L1418.9 270.7L1421.3 268.9L1423.8 267.2L1426.2 265.4L1428.6 263.6L1431.1 261.9L1433.5 260.1L1435.9 258.3L1438.3 256.5L1440.7 254.7L1443.1 252.9L1445.4 251.0L1447.8 249.1L1450.2 247.3L1452.5 245.4L1454.9 243.5L1457.2 241.7L1459.6 239.8L1462.0 237.9L1464.3 236.1L1466.7 234.2L1469.0 232.4L1471.4 230.5L1473.8 228.7L1476.2 226.8L1478.6 225.0L1480.9 223.2L1483.3 221.4L1485.8 219.5L1488.2 217.8L1490.6 216.0L1493.0 214.2L1495.4 212.4L1497.8 210.6L1500.3 208.8L1502.7 207.0L1505.1 205.3L1507.5 203.5L1509.9 201.7L1512.4 199.9L1514.8 198.1L1517.2 196.3L1519.6 194.6L1522.0 192.8L1524.4 191.0L1526.9 189.2L1529.3 187.4L1531.7 185.6L1534.1 183.8L1536.6 182.1L1539.0 180.3L1541.4 178.5L1543.8 176.7L1546.2 174.9L1548.6 173.1L1551.0 171.3L1553.4 169.5L1555.8 167.6L1558.2 165.8L1560.5 163.9L1562.9 162.0L1565.2 160.1L1567.5 158.2L1569.8 156.2L1572.1 154.3L1574.3 152.3L1576.6 150.3L1578.9 148.3L1581.1 146.3L1583.4 144.3L1585.6 142.3L1587.8 140.3L1590.1 138.3L1592.3 136.3L1594.5 134.3L1596.8 132.3L1599.0 130.3L1601.2 128.3L1603.5 126.3L1605.7 124.3L1608.0 122.2L1610.2 120.2L1612.5 118.2L1614.7 116.2L1616.9 114.2L1619.2 112.2L1621.4 110.2L1623.6 108.2L1625.9 106.2L1628.1 104.2L1630.3 102.2L1632.6 100.1L1634.8 98.1L1637.0 96.1L1639.3 94.1L1641.5 92.1L1643.7 90.1L1646.0 88.1L1648.2 86.0L1650.4 84.0L1652.7 82.0L1654.9 80.0M1025.5 522.1L1028.4 522.9L1031.4 523.3L1034.4 523.2L1037.4 523.0L1040.3 522.7L1043.3 522.3L1046.3 521.8L1049.2 521.3L1052.2 520.7L1055.1 519.9L1057.9 519.0L1060.8 518.1L1063.6 517.0L1066.4 515.9L1069.1 514.7L1071.8 513.4L1074.5 512.0L1077.1 510.6L1079.7 509.0L1082.3 507.4L1084.8 505.8L1087.3 504.1L1089.7 502.4L1092.2 500.7L1094.7 499.0L1097.1 497.2L1099.5 495.4L1101.9 493.6L1104.2 491.7L1106.6 489.8L1108.9 488.0L1111.3 486.2L1113.7 484.4L1116.2 482.6L1118.7 480.9L1121.1 479.2L1123.6 477.6L1126.1 475.9L1128.6 474.2L1131.1 472.6L1133.7 471.0L1136.2 469.3L1138.7 467.7L1141.3 466.2L1143.8 464.6L1146.4 463.1L1149.0 461.5L1151.6 460.1L1154.2 458.6L1156.9 457.1L1159.5 455.7L1162.1 454.2L1164.8 452.8L1167.4 451.4L1170.1 450.0L1172.7 448.6L1175.4 447.2L1178.1 445.9L1180.7 444.5L1183.4 443.1L1186.1 441.8L1188.8 440.5L1191.5 439.2L1194.2 437.8L1196.9 436.5L1199.6 435.2L1202.3 433.9L1205.0 432.5L1207.7 431.2L1210.4 429.9L1213.1 428.6L1215.8 427.3L1218.5 426.0L1221.2 424.7L1223.9 423.5L1226.7 422.2L1229.4 421.0L1232.2 419.8L1235.0 418.7L1237.7 417.6L1240.5 416.4L1243.3 415.3L1246.1 414.2L1248.9 413.1L1251.7 412.1L1254.5 411.0L1257.3 409.9L1260.1 408.8L1262.9 407.7L1265.7 406.6L1268.5 405.5L1271.3 404.4L1274.1 403.3L1276.9 402.2L1279.6 401.1L1282.4 400.0L1285.2 398.9L1288.0 397.8L1290.8 396.7L1293.6 395.6L1296.4 394.4L1299.2 393.3L1301.9 392.2L1304.7 391.0L1307.5 389.8L1310.2 388.7L1313.0 387.5L1315.7 386.2L1318.5 385.0L1321.2 383.8L1324.0 382.6L1326.7 381.3L1329.4 380.1L1332.1 378.8L1334.9 377.5L1337.6 376.2L1340.3 374.9L1343.0 373.6L1345.7 372.3L1348.3 370.9L1351.0 369.6L1353.7 368.2L1356.4 366.8L1359.0 365.4L1361.7 364.0L1364.3 362.6L1366.9 361.1L1369.6 359.7L1372.2 358.2L1374.8 356.8L1377.4 355.3L1380.0 353.8L1382.6 352.3L1385.2 350.8L1387.8 349.3L1390.4 347.8L1393.0 346.3L1395.6 344.8L1398.2 343.3L1400.8 341.8L1403.4 340.2L1406.0 338.7L1408.6 337.2L1411.2 335.7L1413.7 334.1L1416.3 332.6L1418.9 331.0L1421.4 329.5L1424.0 327.9L1426.6 326.3L1429.1 324.7L1431.7 323.2L1434.2 321.6L1436.7 320.0L1439.3 318.3L1441.8 316.7L1444.3 315.0L1446.8 313.4L1449.3 311.7L1451.8 310.0L1454.3 308.3L1456.7 306.6L1459.2 304.9L1461.7 303.2L1464.1 301.5L1466.6 299.8L1469.0 298.0L1471.5 296.3L1473.9 294.5L1476.3 292.8L1478.8 291.0L1481.2 289.2L1483.6 287.5L1486.0 285.7L1488.4 283.9L1490.8 282.1L1493.2 280.3L1495.6 278.4L1498.0 276.6L1500.4 274.8L1502.8 272.9L1505.1 271.1L1507.5 269.3L1509.9 267.4L1512.3 265.6L1514.6 263.8L1517.0 261.9L1519.4 260.1L1521.8 258.3L1524.2 256.5L1526.6 254.6L1529.0 252.8L1531.3 251.0L1533.7 249.2L1536.1 247.4L1538.5 245.6L1540.9 243.8L1543.3 241.9L1545.7 240.1L1548.1 238.3L1550.5 236.5L1552.8 234.7L1555.2 232.8L1557.6 231.0L1560.0 229.2L1562.4 227.3L1564.7 225.5L1567.1 223.6L1569.5 221.8L1571.8 219.9L1574.2 218.1L1576.5 216.2L1578.9 214.3L1581.2 212.5L1583.6 210.6L1585.9 208.7L1588.3 206.8L1590.6 205.0L1593.0 203.1L1595.3 201.2L1597.7 199.4L1600.0 197.5L1602.4 195.7L1604.8 193.8L1607.1 192.0L1609.5 190.1L1611.9 188.3L1614.3 186.5L1616.6 184.6L1619.0 182.8L1621.4 180.9L1623.7 179.1L1626.1 177.3L1628.5 175.4L1630.9 173.6L1633.3 171.8L1635.6 169.9L1638.0 168.1L1640.4 166.3L1642.8 164.4L1645.1 162.6L1647.5 160.8L1649.9 158.9L1652.3 157.1L1654.6 155.3L1657.0 153.4L1659.4 151.6M1025.5 548.1L1027.2 550.5L1029.9 551.7L1032.8 552.2L1035.8 552.6L1038.8 552.8L1041.8 553.1L1044.8 553.3L1047.8 553.5L1050.8 553.6L1053.8 553.7L1056.8 553.9L1059.8 553.9L1062.8 554.0L1065.8 553.9L1068.8 553.7L1071.8 553.4L1074.7 553.0L1077.7 552.4L1080.6 551.7L1083.5 550.9L1086.3 549.8L1089.0 548.5L1091.6 547.0L1094.1 545.4L1096.6 543.7L1099.0 541.9L1101.4 540.1L1103.7 538.2L1106.0 536.3L1108.3 534.3L1110.5 532.3L1112.7 530.2L1114.8 528.1L1116.9 525.9L1118.9 523.8L1121.0 521.6L1123.1 519.5L1125.2 517.4L1127.4 515.3L1129.6 513.3L1131.9 511.3L1134.1 509.3L1136.4 507.4L1138.7 505.4L1141.0 503.5L1143.3 501.6L1145.7 499.7L1148.0 497.9L1150.4 496.1L1152.8 494.3L1155.3 492.5L1157.7 490.8L1160.2 489.1L1162.7 487.4L1165.2 485.8L1167.8 484.2L1170.3 482.7L1172.9 481.1L1175.5 479.7L1178.2 478.2L1180.8 476.8L1183.5 475.5L1186.2 474.2L1188.9 473.0L1191.7 471.8L1194.5 470.7L1197.3 469.7L1200.2 468.7L1203.0 467.7L1205.8 466.8L1208.7 465.8L1211.5 464.8L1214.4 463.9L1217.2 462.9L1220.0 462.0L1222.9 461.0L1225.8 460.1L1228.6 459.2L1231.5 458.3L1234.3 457.4L1237.2 456.4L1240.0 455.5L1242.8 454.4L1245.6 453.3L1248.4 452.2L1251.1 451.0L1253.9 449.9L1256.7 448.8L1259.6 447.9L1262.4 446.9L1265.3 446.0L1268.2 445.1L1271.0 444.3L1273.9 443.4L1276.8 442.6L1279.7 441.8L1282.6 440.9L1285.4 440.1L1288.3 439.3L1291.2 438.5L1294.1 437.7L1297.0 436.8L1299.9 436.0L1302.8 435.2L1305.7 434.4L1308.6 433.6L1311.5 432.9L1314.4 432.1L1317.3 431.4L1320.2 430.6L1323.1 429.9L1326.0 429.1L1328.9 428.3L1331.8 427.6L1334.7 426.8L1337.6 426.0L1340.5 425.2L1343.3 424.3L1346.2 423.4L1349.1 422.5L1351.9 421.6L1354.7 420.6L1357.5 419.5L1360.3 418.5L1363.1 417.4L1365.9 416.2L1368.7 415.0L1371.4 413.8L1374.1 412.6L1376.9 411.3L1379.6 410.1L1382.3 408.8L1385.0 407.5L1387.7 406.2L1390.4 404.9L1393.1 403.6L1395.8 402.3L1398.5 401.0L1401.2 399.7L1403.9 398.4L1406.6 397.1L1409.3 395.8L1412.0 394.5L1414.7 393.1L1417.4 391.8L1420.1 390.4L1422.7 389.1L1425.4 387.7L1428.1 386.3L1430.7 384.8L1433.3 383.4L1435.9 381.9L1438.5 380.4L1441.1 378.8L1443.6 377.3L1446.2 375.6L1448.7 374.0L1451.2 372.4L1453.7 370.7L1456.2 369.0L1458.6 367.3L1461.1 365.5L1463.5 363.8L1466.0 362.1L1468.4 360.3L1470.8 358.6L1473.3 356.8L1475.7 355.1L1478.1 353.3L1480.6 351.6L1483.0 349.8L1485.5 348.1L1487.9 346.3L1490.3 344.6L1492.8 342.8L1495.2 341.1L1497.6 339.3L1500.0 337.5L1502.5 335.7L1504.9 334.0L1507.3 332.2L1509.7 330.4L1512.1 328.6L1514.5 326.9L1517.0 325.1L1519.4 323.3L1521.8 321.6L1524.3 319.8L1526.7 318.1L1529.1 316.3L1531.6 314.6L1534.0 312.9L1536.5 311.1L1538.9 309.4L1541.4 307.7L1543.8 305.9L1546.3 304.2L1548.7 302.4L1551.2 300.7L1553.6 298.9L1556.0 297.2L1558.4 295.4L1560.8 293.6L1563.2 291.8L1565.6 290.0L1568.0 288.1L1570.4 286.3L1572.7 284.4L1575.1 282.6L1577.4 280.7L1579.8 278.8L1582.1 277.0L1584.4 275.1L1586.8 273.2L1589.1 271.3L1591.4 269.4L1593.8 267.6L1596.1 265.7L1598.5 263.8L1600.8 262.0L1603.2 260.1L1605.6 258.3L1608.0 256.5L1610.4 254.7L1612.8 252.9L1615.2 251.1L1617.6 249.4L1620.1 247.6L1622.5 245.8L1624.9 244.1L1627.4 242.3L1629.8 240.6L1632.3 238.9L1634.7 237.1L1637.2 235.4L1639.6 233.7L1642.1 232.0L1644.6 230.3L1647.0 228.6L1649.5 226.9L1652.0 225.2L1654.5 223.5L1656.9 221.8L1659.4 220.1M1025.5 567.3L1028.5 567.5L1031.5 567.7L1034.5 567.9L1037.5 568.1L1040.5 568.3L1043.5 568.6L1046.5 568.9L1049.5 569.4L1052.5 569.9L1055.4 570.4L1058.4 571.0L1061.3 571.6L1064.3 572.3L1067.2 573.1L1070.1 573.9L1072.9 574.9L1075.7 576.0L1078.6 577.0L1081.4 578.0L1084.4 578.6L1087.3 579.1L1090.3 579.3L1093.3 578.9L1096.2 578.0L1098.9 576.7L1101.5 575.1L1103.9 573.4L1106.3 571.6L1108.7 569.7L1111.0 567.8L1113.3 565.8L1115.5 563.8L1117.7 561.8L1119.9 559.7L1122.1 557.6L1124.3 555.6L1126.6 553.5L1128.8 551.5L1131.0 549.5L1133.2 547.4L1135.4 545.3L1137.6 543.3L1139.7 541.2L1141.9 539.1L1144.1 537.0L1146.3 535.0L1148.5 532.9L1150.8 530.9L1153.0 528.9L1155.3 527.0L1157.6 525.1L1160.0 523.2L1162.4 521.4L1164.8 519.5L1167.2 517.7L1169.7 516.0L1172.1 514.3L1174.6 512.6L1177.2 511.0L1179.7 509.4L1182.3 507.8L1184.9 506.3L1187.6 504.9L1190.3 503.6L1193.0 502.3L1195.8 501.1L1198.6 500.0L1201.4 498.9L1204.2 497.8L1207.0 496.8L1209.8 495.7L1212.7 494.7L1215.5 493.7L1218.4 492.7L1221.2 491.7L1224.1 490.8L1227.0 489.9L1229.8 489.0L1232.7 488.1L1235.6 487.3L1238.5 486.4L1241.4 485.5L1244.2 484.6L1247.1 483.7L1250.0 482.8L1252.9 482.0L1255.8 481.3L1258.8 480.7L1261.7 480.1L1264.7 479.6L1267.7 479.1L1270.6 478.7L1273.6 478.2L1276.6 477.8L1279.6 477.4L1282.6 477.0L1285.6 476.6L1288.5 476.2L1291.5 475.9L1294.5 475.5L1297.5 475.2L1300.5 474.9L1303.5 474.6L1306.5 474.3L1309.5 474.1L1312.5 473.9L1315.5 473.7L1318.5 473.5L1321.5 473.3L1324.6 473.2L1327.6 473.0L1330.6 472.9L1333.6 472.7L1336.6 472.6L1339.6 472.4L1342.6 472.2L1345.6 472.0L1348.6 471.9L1351.6 471.7L1354.6 471.6L1357.6 471.4L1360.7 471.2L1363.7 471.1L1366.7 470.9L1369.7 470.7L1372.7 470.5L1375.7 470.3L1378.7 470.1L1381.7 469.8L1384.7 469.4L1387.7 469.1L1390.6 468.7L1393.6 468.2L1396.6 467.7L1399.6 467.1L1402.5 466.4L1405.4 465.7L1408.3 464.9L1411.2 464.0L1414.0 463.0L1416.9 462.0L1419.7 461.0L1422.5 459.8L1425.3 458.7L1428.0 457.5L1430.8 456.2L1433.5 454.9L1436.2 453.5L1438.8 452.1L1441.5 450.7L1444.1 449.2L1446.6 447.6L1449.2 445.9L1451.6 444.2L1454.1 442.5L1456.5 440.7L1458.9 438.9L1461.4 437.1L1463.8 435.3L1466.2 433.5L1468.6 431.7L1471.0 429.9L1473.4 428.0L1475.8 426.2L1478.2 424.4L1480.5 422.5L1482.9 420.6L1485.3 418.8L1487.7 416.9L1490.0 415.1L1492.4 413.2L1494.8 411.4L1497.1 409.5L1499.5 407.6L1501.9 405.8L1504.2 403.9L1506.6 402.1L1509.0 400.2L1511.4 398.4L1513.8 396.5L1516.1 394.7L1518.5 392.9L1520.9 391.0L1523.3 389.2L1525.7 387.3L1528.1 385.5L1530.4 383.6L1532.8 381.8L1535.2 379.9L1537.6 378.1L1539.9 376.2L1542.3 374.4L1544.7 372.5L1547.1 370.7L1549.4 368.8L1551.8 366.9L1554.2 365.1L1556.5 363.2L1558.8 361.3L1561.2 359.4L1563.5 357.5L1565.9 355.6L1568.2 353.7L1570.5 351.8L1572.9 349.9L1575.2 348.0L1577.6 346.1L1579.9 344.2L1582.3 342.4L1584.7 340.6L1587.1 338.7L1589.5 336.9L1591.9 335.2L1594.4 333.4L1596.9 331.7L1599.4 330.0L1601.9 328.4L1604.5 326.8L1607.0 325.2L1609.6 323.6L1612.1 322.0L1614.7 320.4L1617.2 318.8L1619.8 317.2L1622.3 315.6L1624.8 313.9L1627.3 312.2L1629.8 310.5L1632.2 308.7L1634.6 306.8L1636.9 304.9L1639.2 303.0L1641.5 301.1L1643.8 299.1L1646.0 297.1L1648.3 295.1L1650.5 293.0L1652.7 291.0L1654.9 289.0L1657.2 286.9L1659.4 284.9M1025.5 576.2L1028.5 576.6L1031.5 576.9L1034.5 577.2L1037.5 577.4L1040.4 577.6L1043.4 578.0L1046.4 578.7L1049.2 579.5L1052.1 580.4L1054.9 581.4L1057.7 582.5L1060.5 583.7L1063.3 584.9L1066.0 586.1L1068.6 587.5L1071.2 589.1L1073.7 590.8L1076.0 592.7L1078.3 594.6L1080.7 596.5L1083.0 598.3L1085.2 600.4L1086.9 602.9L1088.2 605.6L1089.5 608.3M1097.0 608.3L1098.8 605.9L1100.6 603.4L1102.4 601.0L1104.2 598.6L1106.1 596.3L1108.1 594.0L1110.1 591.7L1112.1 589.5L1114.2 587.3L1116.3 585.1L1118.4 583.0L1120.5 580.8L1122.7 578.7L1124.9 576.6L1127.0 574.5L1129.2 572.4L1131.4 570.4L1133.6 568.3L1135.9 566.4L1138.2 564.4L1140.6 562.5L1143.0 560.7L1145.4 558.9L1147.8 557.1L1150.3 555.4L1152.9 553.7L1155.4 552.1L1157.9 550.5L1160.5 548.8L1163.0 547.2L1165.6 545.7L1168.2 544.1L1170.8 542.5L1173.4 541.0L1176.0 539.5L1178.6 538.0L1181.2 536.5L1183.9 535.0L1186.5 533.6L1189.2 532.1L1191.8 530.7L1194.5 529.3L1197.2 528.0L1199.9 526.6L1202.6 525.3L1205.3 524.0L1208.1 522.7L1210.8 521.5L1213.6 520.3L1216.4 519.1L1219.2 518.0L1222.0 516.8L1224.8 515.7L1227.6 514.7L1230.4 513.6L1233.3 512.6L1236.1 511.6L1239.0 510.7L1241.9 509.8L1244.8 509.0L1247.7 508.3L1250.7 507.6L1253.6 507.1L1256.6 506.6L1259.6 506.2L1262.6 505.9L1265.6 505.5L1268.6 505.2L1271.6 504.9L1274.6 504.7L1277.7 504.5L1280.7 504.4L1283.7 504.3L1286.7 504.2L1289.7 504.2L1292.7 504.3L1295.8 504.4L1298.8 504.5L1301.8 504.7L1304.8 504.9L1307.8 505.2L1310.8 505.6L1313.8 506.0L1316.8 506.5L1319.7 507.0L1322.7 507.6L1325.6 508.2L1328.6 508.9L1331.5 509.7L1334.4 510.5L1337.3 511.4L1340.2 512.4L1343.0 513.4L1345.8 514.5L1348.6 515.7L1351.3 516.9L1354.1 518.1L1356.8 519.5L1359.5 520.8L1362.1 522.3L1364.8 523.8L1367.3 525.4L1369.8 527.0L1372.3 528.8L1374.7 530.6L1377.0 532.6L1379.3 534.5L1381.5 536.6L1383.6 538.7L1385.7 540.9L1387.8 543.1L1389.7 545.4L1391.6 547.8L1393.4 550.2L1395.1 552.7L1396.8 555.2L1398.3 557.8L1399.8 560.4L1401.3 563.0L1402.8 565.7L1404.3 568.3L1405.9 570.9L1407.4 573.5L1408.8 576.1L1410.3 578.8L1411.7 581.4L1413.2 584.1L1414.6 586.8L1416.0 589.4L1417.4 592.1L1418.8 594.8L1420.2 597.5L1421.5 600.2L1422.9 602.9L1424.2 605.6L1425.5 608.3M1437.7 608.3L1438.8 605.5L1439.9 602.7L1441.0 599.9L1442.1 597.1L1443.3 594.4L1444.4 591.6L1445.5 588.8L1446.7 586.0L1447.9 583.3L1449.2 580.6L1450.4 577.8L1451.7 575.1L1453.0 572.4L1454.4 569.7L1455.7 567.0L1457.1 564.4L1458.5 561.7L1459.9 559.1L1461.4 556.5L1462.9 553.9L1464.5 551.3L1466.1 548.8L1467.8 546.3L1469.4 543.8L1471.1 541.3L1472.8 538.8L1474.4 536.3L1476.1 533.8L1477.7 531.3L1479.4 528.8L1481.1 526.3L1482.7 523.8L1484.4 521.3L1486.1 518.8L1487.8 516.4L1489.5 513.9L1491.1 511.4L1492.8 508.9L1494.5 506.4L1496.2 503.9L1497.9 501.4L1499.6 499.0L1501.3 496.5L1503.1 494.1L1504.8 491.6L1506.6 489.2L1508.4 486.8L1510.2 484.4L1512.1 482.0L1513.9 479.7L1515.7 477.3L1517.6 474.9L1519.5 472.6L1521.3 470.2L1523.2 467.9L1525.1 465.6L1527.0 463.3L1528.9 460.9L1530.9 458.6L1532.8 456.4L1534.8 454.1L1536.8 451.8L1538.8 449.6L1540.8 447.4L1542.9 445.2L1545.0 443.1L1547.1 440.9L1549.2 438.8L1551.3 436.7L1553.5 434.6L1555.6 432.5L1557.8 430.4L1560.0 428.4L1562.2 426.3L1564.3 424.2L1566.5 422.2L1568.7 420.1L1570.9 418.1L1573.1 416.0L1575.3 414.0L1577.5 412.0L1579.8 410.0L1582.0 408.0L1584.3 406.0L1586.5 404.0L1588.8 402.0L1591.1 400.1L1593.4 398.1L1595.7 396.2L1598.0 394.3L1600.3 392.4L1602.6 390.5L1604.9 388.6L1607.3 386.7L1609.6 384.8L1612.0 383.0L1614.4 381.2L1616.8 379.4L1619.2 377.6L1621.7 375.9L1624.2 374.2L1626.6 372.5L1629.1 370.8L1631.6 369.2L1634.1 367.5L1636.7 365.9L1639.2 364.3L1641.7 362.6L1644.2 361.0L1646.8 359.4L1649.3 357.8L1651.8 356.2L1654.3 354.5L1656.9 352.9L1659.4 351.3M1025.5 587.8L1027.8 585.8L1030.9 585.4L1034.0 585.5L1037.1 585.7L1040.1 586.1L1043.2 586.6L1046.2 587.3L1049.2 588.1L1052.1 589.0L1055.0 590.1L1057.9 591.2L1060.7 592.4L1063.5 593.7L1066.3 595.1L1069.0 596.7L1071.6 598.3L1074.1 600.0L1076.6 601.9L1079.0 603.9L1081.2 606.1L1083.3 608.3M1105.5 608.3L1107.6 606.2L1109.7 604.0L1111.8 601.9L1113.9 599.7L1116.1 597.6L1118.2 595.6L1120.5 593.5L1122.7 591.6L1125.0 589.6L1127.3 587.7L1129.7 585.8L1132.1 584.0L1134.5 582.2L1136.9 580.4L1139.3 578.6L1141.7 576.8L1144.1 575.0L1146.5 573.2L1148.9 571.4L1151.3 569.6L1153.7 567.9L1156.2 566.1L1158.6 564.3L1161.1 562.6L1163.5 560.9L1166.0 559.2L1168.5 557.6L1171.1 555.9L1173.6 554.4L1176.2 552.9L1178.8 551.4L1181.5 549.9L1184.1 548.5L1186.8 547.2L1189.5 545.9L1192.2 544.6L1195.0 543.4L1197.7 542.2L1200.5 541.0L1203.3 540.0L1206.2 539.1L1209.1 538.3L1212.0 537.5L1214.9 536.8L1217.8 536.1L1220.7 535.4L1223.6 534.6L1226.6 533.9L1229.5 533.2L1232.4 532.5L1235.3 531.8L1238.2 531.2L1241.2 530.6L1244.2 530.1L1247.1 529.6L1250.1 529.2L1253.1 528.8L1256.1 528.5L1259.0 528.2L1262.0 527.9L1265.0 527.6L1268.0 527.4L1271.0 527.2L1274.0 527.2L1277.0 527.1L1280.0 527.2L1283.0 527.3L1286.0 527.5L1289.0 527.8L1292.0 528.1L1295.0 528.4L1298.0 528.9L1300.9 529.3L1303.9 529.9L1306.8 530.5L1309.7 531.2L1312.6 532.0L1315.5 532.8L1318.4 533.8L1321.2 534.7L1324.0 535.8L1326.8 536.9L1329.6 538.0L1332.4 539.2L1335.1 540.5L1337.8 541.8L1340.5 543.1L1343.2 544.5L1345.8 545.9L1348.4 547.4L1351.0 548.9L1353.5 550.5L1356.0 552.2L1358.5 553.9L1360.9 555.7L1363.3 557.6L1365.6 559.4L1368.0 561.3L1370.3 563.2L1372.6 565.1L1374.9 567.0L1377.3 568.9L1379.6 570.8L1381.9 572.8L1384.2 574.7L1386.4 576.7L1388.7 578.7L1390.9 580.7L1393.1 582.8L1395.3 584.8L1397.5 586.8L1399.7 588.9L1401.9 591.0L1404.0 593.1L1406.1 595.2L1408.3 597.3L1410.4 599.5L1412.4 601.6L1414.5 603.8L1416.5 606.1L1418.5 608.3M1443.3 608.3L1445.4 606.1L1447.4 603.9L1449.5 601.8L1451.6 599.6L1453.7 597.5L1455.9 595.3L1458.0 593.2L1460.1 591.1L1462.2 588.9L1464.4 586.8L1466.5 584.7L1468.6 582.5L1470.8 580.4L1472.9 578.3L1475.1 576.2L1477.2 574.1L1479.4 572.0L1481.6 570.0L1483.8 567.9L1486.0 565.9L1488.2 563.9L1490.4 561.8L1492.7 559.8L1494.9 557.8L1497.2 555.8L1499.4 553.8L1501.6 551.8L1503.9 549.8L1506.1 547.7L1508.3 545.7L1510.6 543.7L1512.8 541.7L1515.0 539.7L1517.3 537.6L1519.5 535.6L1521.7 533.6L1524.0 531.6L1526.2 529.6L1528.5 527.6L1530.7 525.6L1532.9 523.6L1535.2 521.6L1537.4 519.5L1539.7 517.5L1541.9 515.5L1544.2 513.5L1546.4 511.5L1548.7 509.6L1551.0 507.6L1553.2 505.6L1555.5 503.7L1557.9 501.8L1560.2 499.9L1562.6 498.0L1564.9 496.1L1567.3 494.3L1569.7 492.4L1572.0 490.6L1574.4 488.7L1576.8 486.8L1579.1 485.0L1581.5 483.1L1583.8 481.2L1586.2 479.4L1588.5 477.5L1590.9 475.6L1593.2 473.7L1595.6 471.8L1597.9 469.9L1600.2 467.9L1602.4 466.0L1604.7 464.0L1607.0 462.0L1609.2 460.0L1611.5 458.0L1613.8 456.1L1616.1 454.2L1618.4 452.3L1620.8 450.4L1623.2 448.5L1625.6 446.7L1628.0 444.9L1630.4 443.1L1632.8 441.3L1635.2 439.5L1637.6 437.7L1640.0 435.9L1642.4 434.1L1644.9 432.3L1647.3 430.5L1649.7 428.7L1652.1 427.0L1654.6 425.2L1657.0 423.4L1659.4 421.6M1025.5 598.8L1027.6 596.5L1029.9 594.4L1032.8 593.4L1035.8 593.3L1038.9 593.5L1042.0 594.0L1045.1 594.6L1048.1 595.3L1051.0 596.2L1054.0 597.2L1056.9 598.3L1059.8 599.4L1062.6 600.6L1065.5 601.8L1068.3 603.2L1071.1 604.5L1073.8 606.1L1075.9 608.3M1113.0 608.3L1115.6 606.8L1118.2 605.3L1120.8 603.7L1123.4 602.2L1126.0 600.7L1128.6 599.2L1131.3 597.7L1133.9 596.2L1136.5 594.7L1139.2 593.2L1141.8 591.8L1144.4 590.3L1147.1 588.9L1149.8 587.5L1152.4 586.1L1155.1 584.8L1157.9 583.4L1160.6 582.1L1163.3 580.9L1166.0 579.6L1168.8 578.3L1171.5 577.1L1174.3 575.9L1177.1 574.6L1179.8 573.4L1182.6 572.2L1185.4 571.1L1188.2 569.9L1190.9 568.7L1193.7 567.5L1196.5 566.4L1199.3 565.3L1202.1 564.2L1204.9 563.1L1207.8 562.1L1210.6 561.1L1213.5 560.1L1216.4 559.2L1219.2 558.2L1222.1 557.3L1225.0 556.4L1227.9 555.5L1230.7 554.7L1233.6 553.8L1236.6 553.0L1239.5 552.2L1242.4 551.5L1245.3 550.8L1248.3 550.2L1251.3 549.7L1254.2 549.2L1257.2 548.8L1260.2 548.5L1263.2 548.3L1266.3 548.2L1269.3 548.2L1272.3 548.2L1275.3 548.4L1278.3 548.6L1281.3 548.8L1284.3 549.2L1287.3 549.6L1290.3 550.2L1293.2 550.8L1296.2 551.5L1299.1 552.2L1302.0 553.0L1304.9 553.9L1307.7 554.9L1310.6 555.9L1313.4 556.9L1316.3 558.0L1319.1 559.1L1321.9 560.2L1324.7 561.4L1327.4 562.5L1330.2 563.7L1333.0 564.9L1335.7 566.2L1338.5 567.4L1341.2 568.7L1343.9 570.0L1346.6 571.4L1349.3 572.7L1352.0 574.1L1354.7 575.5L1357.4 576.9L1360.0 578.3L1362.7 579.7L1365.4 581.1L1368.0 582.5L1370.7 583.9L1373.4 585.3L1376.0 586.8L1378.5 588.4L1381.1 590.1L1383.6 591.7L1386.1 593.5L1388.5 595.2L1391.0 596.9L1393.6 598.5L1396.1 600.2L1398.6 601.8L1401.2 603.4L1403.7 605.1L1406.3 606.7L1408.8 608.3M1450.8 608.3L1453.3 606.6L1455.8 605.0L1458.3 603.3L1460.8 601.6L1463.3 599.9L1465.8 598.3L1468.3 596.6L1470.9 595.0L1473.4 593.3L1475.9 591.7L1478.5 590.1L1481.0 588.5L1483.6 587.0L1486.2 585.5L1488.8 584.0L1491.5 582.5L1494.1 581.1L1496.7 579.6L1499.4 578.2L1502.0 576.7L1504.7 575.3L1507.3 573.8L1509.9 572.3L1512.6 570.9L1515.2 569.4L1517.8 568.0L1520.5 566.6L1523.1 565.1L1525.8 563.7L1528.4 562.2L1531.0 560.8L1533.7 559.3L1536.3 557.8L1538.9 556.4L1541.6 554.9L1544.2 553.5L1546.8 552.0L1549.5 550.5L1552.1 549.0L1554.7 547.5L1557.3 546.0L1559.9 544.5L1562.5 543.0L1565.1 541.4L1567.7 539.9L1570.3 538.4L1572.8 536.8L1575.4 535.3L1578.0 533.8L1580.6 532.3L1583.3 530.8L1585.9 529.3L1588.5 527.8L1591.1 526.4L1593.8 524.9L1596.4 523.4L1599.0 521.9L1601.6 520.4L1604.1 518.8L1606.7 517.2L1609.2 515.6L1611.8 514.0L1614.4 512.4L1617.0 510.9L1619.6 509.4L1622.2 508.0L1624.9 506.5L1627.5 505.1L1630.2 503.6L1632.8 502.2L1635.5 500.8L1638.1 499.4L1640.8 498.0L1643.4 496.6L1646.1 495.1L1648.8 493.7L1651.4 492.3L1654.1 490.9L1656.7 489.5L1659.4 488.1M1069.3 608.7H1092.5M1402.0 608.7H1437.5" fill="none" stroke="#000" stroke-width="1.9" stroke-linejoin="round"/>
<path d="M1025.2 79.6H1659.9V619.5H1025.2ZM1015.6 619.5H1025.2M1015.6 511.5H1025.2M1015.6 403.5H1025.2M1015.6 295.6H1025.2M1015.6 187.6H1025.2M1015.6 79.6H1025.2M1019.8 565.5H1025.2M1019.8 457.5H1025.2M1019.8 349.6H1025.2M1019.8 241.6H1025.2M1019.8 133.6H1025.2M1025.2 619.5V629.1M1152.1 619.5V629.1M1279.1 619.5V629.1M1406.0 619.5V629.1M1533.0 619.5V629.1M1659.9 619.5V629.1M1088.7 619.5V624.7M1215.6 619.5V624.7M1342.6 619.5V624.7M1469.5 619.5V624.7M1596.4 619.5V624.7" fill="none" stroke="#000" stroke-width="1.9" stroke-linecap="square"/>
<text x="1009.0" y="627.6" text-anchor="end">0.0</text>
<text x="1009.0" y="519.6" text-anchor="end">0.1</text>
<text x="1009.0" y="411.6" text-anchor="end">0.2</text>
<text x="1009.0" y="303.7" text-anchor="end">0.3</text>
<text x="1009.0" y="195.7" text-anchor="end">0.4</text>
<text x="1009.0" y="87.7" text-anchor="end">0.5</text>
<text x="1025.2" y="656.4" text-anchor="middle">0.0</text>
<text x="1152.1" y="656.4" text-anchor="middle">0.2</text>
<text x="1279.1" y="656.4" text-anchor="middle">0.4</text>
<text x="1406.0" y="656.4" text-anchor="middle">0.6</text>
<text x="1533.0" y="656.4" text-anchor="middle">0.8</text>
<text x="1659.9" y="656.4" text-anchor="middle">1.0</text>
<text x="1735.5" y="126.7">2.0</text>
<text x="1735.5" y="245.1">1.5</text>
<text x="1735.5" y="363.5">1.0</text>
<text x="1735.5" y="481.9">0.5</text>
<text x="1735.5" y="600.3">0.0</text>
<text x="1670.7" y="96.8" font-style="italic" font-size="30">S/Nk<tspan font-size="18" dy="11.6">B</tspan></text>
<text x="1316.8" y="686.0" font-style="italic" font-size="30">h / J</text>
<text transform="translate(963.6 381.9) rotate(-90)" font-size="30"><tspan font-style="italic">k</tspan><tspan font-size="18" dy="9.5">B</tspan><tspan dy="-9.5" font-style="italic">T / J</tspan></text>
<text x="925.2" y="26.8" font-family="'Liberation Sans',Arial,sans-serif" font-weight="bold" font-size="38.5">B</text>
<text x="1039.8" y="114.9" fill="#fff" font-size="30"><tspan font-style="italic">J</tspan><tspan font-size="18" dy="10.5">1</tspan><tspan dy="-10.5"> / </tspan><tspan font-style="italic">J</tspan><tspan dx="-1.2"> = </tspan><tspan dx="-0.8">-0.5</tspan></text>
<text x="1205.0" y="584.0" fill="#fff" font-size="26">0.0</text>
<path d="M548.8 796.1L551.8 796.0L554.9 796.0L557.9 795.9L560.9 795.9L563.9 795.8L567.0 795.8L570.0 795.7L573.0 795.6L576.0 795.6L579.1 795.5L582.1 795.3L585.1 795.2L588.1 795.1L591.2 794.9L594.2 794.8L597.2 794.6L600.2 794.4L603.3 794.2L606.3 794.1L609.3 793.8L612.3 793.6L615.3 793.4L618.4 793.1L621.4 792.8L624.4 792.4L627.4 792.0L630.4 791.6L633.4 791.2L636.4 790.8L639.4 790.3L642.3 789.8L645.3 789.3L648.3 788.7L651.3 788.2L654.2 787.6L657.2 786.9L660.2 786.3L663.1 785.6L666.1 784.9L669.0 784.1L671.9 783.3L674.8 782.5L677.7 781.7L680.6 780.8L683.5 779.9L686.4 779.0L689.3 778.0L692.1 777.0L695.0 776.1L697.9 775.0L700.7 774.0L703.5 773.0L706.4 771.9L709.2 770.8L712.0 769.7L714.8 768.5L717.6 767.2L720.3 765.9L723.0 764.6L725.7 763.2L728.4 761.8L731.0 760.4L733.7 758.9L736.4 757.5L739.0 756.0L741.6 754.4L744.2 752.8L746.7 751.2L749.3 749.5L751.8 747.9L754.3 746.2M548.8 869.3L551.8 869.3L554.8 869.3L557.9 869.3L560.9 869.3L563.9 869.3L566.9 869.3L569.9 869.3L573.0 869.3L576.0 869.3L579.0 869.2L582.0 869.2L585.0 869.2L588.0 869.2L591.1 869.2L594.1 869.1L597.1 869.1L600.1 869.0L603.1 868.9L606.2 868.9L609.2 868.8L612.2 868.6L615.2 868.5L618.2 868.3L621.2 868.1L624.2 867.9L627.3 867.6L630.3 867.4L633.3 867.0L636.3 866.7L639.3 866.3L642.2 865.9L645.2 865.4L648.2 864.8L651.2 864.3L654.1 863.6L657.1 863.0L660.0 862.3L662.9 861.6L665.9 860.9L668.8 860.1L671.7 859.3L674.6 858.4L677.5 857.5L680.3 856.6L683.2 855.6L686.0 854.6L688.9 853.6L691.7 852.5L694.5 851.4L697.3 850.2L700.1 849.0L702.8 847.8L705.5 846.5L708.2 845.2L710.9 843.8L713.6 842.4L716.3 841.0L719.0 839.6L721.6 838.2L724.3 836.8L727.0 835.3L729.6 833.9L732.3 832.5L734.9 831.1L737.6 829.6L740.3 828.2L742.9 826.8L745.6 825.4L748.3 823.9L750.9 822.5L753.5 821.0L756.2 819.5L758.8 818.1L761.4 816.6L764.1 815.1L766.7 813.6L769.4 812.2L772.0 810.7L774.7 809.3L777.3 807.8L779.9 806.4L782.6 804.9L785.2 803.4L787.8 801.9L790.4 800.4L793.1 798.9L795.6 797.4L798.2 795.8L800.8 794.2L803.4 792.6L806.0 791.1L808.5 789.5L811.1 787.9L813.6 786.3L816.2 784.7L818.7 783.0L821.3 781.4L823.8 779.8L826.4 778.2L828.9 776.5L831.5 774.9L834.0 773.3L836.5 771.6L839.0 770.0L841.6 768.3L844.1 766.6L846.6 764.9L849.1 763.3L851.6 761.6L854.1 759.9L856.6 758.2L859.1 756.5L861.6 754.7L864.0 753.0L866.5 751.3L869.0 749.6L871.5 747.9L874.0 746.2M548.8 928.0L551.8 928.1L554.8 928.2L557.8 928.4L560.9 928.5L563.9 928.6L566.9 928.7L569.9 928.8L572.9 929.0L575.9 929.1L579.0 929.2L582.0 929.3L585.0 929.4L588.0 929.5L591.0 929.6L594.0 929.7L597.0 929.8L600.1 930.0L603.1 930.1L606.1 930.2L609.1 930.3L612.1 930.4L615.1 930.5L618.2 930.6L621.2 930.7L624.2 930.7L627.2 930.7L630.2 930.7L633.2 930.7L636.3 930.6L639.3 930.5L642.3 930.4L645.3 930.1L648.3 929.8L651.3 929.4L654.3 928.8L657.2 928.2L660.1 927.5L663.1 926.7L666.0 925.9L668.9 925.1L671.8 924.3L674.7 923.4L677.5 922.5L680.4 921.6L683.3 920.6L686.1 919.6L688.9 918.6L691.8 917.5L694.6 916.3L697.3 915.2L700.1 913.9L702.8 912.6L705.5 911.2L708.1 909.8L710.8 908.3L713.4 906.8L715.9 905.2L718.5 903.6L721.0 902.0L723.6 900.3L726.1 898.7L728.6 897.0L731.2 895.4L733.7 893.7L736.2 892.1L738.8 890.5L741.3 888.9L743.9 887.2L746.4 885.6L748.9 883.9L751.4 882.3L754.0 880.6L756.5 878.9L758.9 877.2L761.4 875.5L763.9 873.8L766.4 872.0L768.8 870.3L771.2 868.5L773.7 866.7L776.1 864.8L778.4 863.0L780.8 861.2L783.3 859.3L785.7 857.5L788.1 855.8L790.6 854.0L793.0 852.3L795.5 850.6L798.1 848.9L800.6 847.3L803.1 845.6L805.7 844.0L808.2 842.4L810.8 840.8L813.3 839.2L815.9 837.7L818.5 836.1L821.1 834.5L823.7 833.0L826.3 831.5L828.9 830.0L831.5 828.5L834.1 827.0L836.8 825.5L839.4 824.0L842.1 822.6L844.7 821.2L847.4 819.8L850.1 818.4L852.8 817.0L855.5 815.6L858.2 814.3L860.9 812.9L863.6 811.6L866.3 810.3L869.0 809.0L871.7 807.7L874.4 806.4L877.2 805.1L879.9 803.8L882.6 802.5L885.4 801.3L888.1 800.0L890.9 798.8L893.7 797.6L896.4 796.4L899.2 795.2L902.0 794.0L904.7 792.8L907.5 791.6L910.3 790.4L913.0 789.2L915.8 788.0L918.6 786.8L921.3 785.5L924.1 784.3L926.8 783.1L929.6 781.9L932.4 780.7L935.1 779.4L937.9 778.2L940.6 777.0L943.4 775.7L946.1 774.5L948.9 773.2L951.6 771.9L954.3 770.5L956.9 769.1L959.6 767.7L962.2 766.2L964.8 764.6L967.4 763.1L969.9 761.5L972.5 759.8L975.0 758.2L977.6 756.6L980.1 754.9L982.6 753.2L985.0 751.4L987.5 749.7L989.9 747.9L992.4 746.2M548.8 976.6L551.8 976.9L554.8 977.2L557.8 977.5L560.8 977.7L563.8 978.0L566.8 978.3L569.8 978.6L572.8 978.9L575.8 979.2L578.8 979.5L581.7 979.9L584.7 980.2L587.7 980.6L590.7 981.0L593.7 981.5L596.6 982.0L599.6 982.5L602.6 983.0L605.6 983.5L608.5 984.0L611.5 984.5L614.5 985.0L617.4 985.4L620.4 985.8L623.4 986.1L626.4 986.5L629.4 986.8L632.4 987.1L635.4 987.4L638.4 987.6L641.4 987.9L644.4 988.0L647.4 988.1L650.4 988.2L653.4 988.2L656.4 988.1L659.4 987.9L662.4 987.6L665.4 987.2L668.4 986.7L671.3 986.1L674.3 985.4L677.1 984.5L680.0 983.6L682.8 982.5L685.6 981.3L688.3 980.0L690.9 978.6L693.6 977.1L696.2 975.7L698.8 974.1L701.4 972.6L704.0 971.0L706.5 969.4L709.0 967.8L711.5 966.1L714.0 964.4L716.5 962.7L718.9 960.9L721.3 959.1L723.7 957.3L726.1 955.5L728.5 953.6L730.8 951.7L733.1 949.7L735.4 947.8L737.7 945.8L740.0 943.9L742.3 941.9L744.6 940.0L746.8 938.0L749.1 936.0L751.4 934.1L753.7 932.1L756.0 930.2L758.4 928.4L760.9 926.7L763.3 924.9L765.6 923.0L767.9 921.0L770.2 919.0L772.4 917.0L774.6 915.0L776.9 913.0L779.1 911.0L781.4 909.0L783.7 907.1L786.0 905.1L788.3 903.2L790.7 901.3L793.1 899.5L795.5 897.7L797.9 896.0L800.4 894.2L802.9 892.6L805.4 890.9L807.9 889.3L810.5 887.6L813.0 886.0L815.6 884.5L818.2 882.9L820.8 881.4L823.4 879.9L826.0 878.4L828.7 877.0L831.3 875.6L834.0 874.2L836.7 872.9L839.4 871.6L842.2 870.4L844.9 869.2L847.7 868.1L850.5 867.0L853.4 866.0L856.2 865.0L859.1 864.0L861.9 863.1L864.8 862.1L867.7 861.2L870.5 860.4L873.4 859.5L876.3 858.6L879.2 857.7L882.0 856.8L884.9 856.0L887.8 855.1L890.7 854.3L893.6 853.5L896.5 852.8L899.4 852.0L902.4 851.2L905.3 850.5L908.2 849.8L911.1 849.0L914.0 848.3L917.0 847.6L919.9 846.8L922.8 846.1L925.7 845.5L928.7 844.8L931.6 844.2L934.6 843.5L937.5 842.9L940.4 842.3L943.4 841.7L946.3 841.0L949.3 840.3L952.2 839.7L955.1 839.0L958.0 838.2L960.9 837.4L963.8 836.6L966.7 835.7L969.6 834.8L972.5 833.9L975.3 833.0L978.2 832.1L981.1 831.1L983.9 830.1L986.7 829.1L989.5 828.0L992.3 826.9L995.1 825.7L997.8 824.5L1000.6 823.2L1003.2 821.8L1005.9 820.4L1008.5 819.0L1011.1 817.5L1013.7 815.9L1016.3 814.3L1018.8 812.7L1021.3 811.1L1023.8 809.4L1026.3 807.7L1028.8 806.0L1031.2 804.2L1033.7 802.4L1036.1 800.6L1038.5 798.8L1040.9 797.0L1043.2 795.1L1045.6 793.2L1047.9 791.3L1050.2 789.3L1052.4 787.3L1054.6 785.2L1056.7 783.1L1058.9 781.0L1061.0 778.8L1063.0 776.7L1065.1 774.4L1067.1 772.2L1069.1 770.0L1071.1 767.7L1073.1 765.4L1075.0 763.2L1077.0 760.9L1078.8 758.5L1080.6 756.1L1082.4 753.7L1084.1 751.2L1085.8 748.7L1087.5 746.2M548.8 1016.9L551.8 1017.3L554.7 1017.7L557.7 1018.1L560.7 1018.5L563.7 1018.9L566.6 1019.3L569.6 1019.7L572.6 1020.1L575.5 1020.6L578.5 1021.1L581.5 1021.6L584.4 1022.2L587.3 1022.9L590.2 1023.6L593.1 1024.3L596.0 1025.2L598.9 1026.0L601.8 1026.9L604.6 1027.8L607.5 1028.7L610.4 1029.6L613.2 1030.6L616.1 1031.5L618.9 1032.4L621.8 1033.3L624.6 1034.2L627.5 1035.2L630.3 1036.2L633.2 1037.1L636.0 1038.1L638.8 1039.1L641.7 1040.0L644.6 1040.8L647.5 1041.6L650.4 1042.2L653.3 1042.8L656.3 1043.4L659.3 1043.9L662.2 1044.3L665.2 1044.6L668.2 1044.7L671.2 1044.6L674.2 1044.4L677.2 1044.0L680.1 1043.3L682.9 1042.4L685.6 1041.1L688.3 1039.6L690.8 1037.9L693.1 1036.1L695.5 1034.2L697.7 1032.2L699.9 1030.2L702.1 1028.2L704.3 1026.1L706.5 1024.1L708.7 1022.0L710.9 1019.9L713.0 1017.9L715.2 1015.8L717.3 1013.7L719.5 1011.6L721.6 1009.4L723.7 1007.3L725.8 1005.2L728.0 1003.1L730.1 1001.0L732.2 998.9L734.4 996.8L736.5 994.7L738.7 992.6L740.9 990.6L743.1 988.5L745.3 986.5L747.6 984.5L749.8 982.5L752.0 980.5L754.3 978.5L756.5 976.5L758.7 974.5L761.0 972.5L763.3 970.6L765.6 968.7L768.0 966.9L770.3 965.0L772.7 963.2L775.1 961.3L777.4 959.5L779.8 957.6L782.2 955.8L784.6 954.0L787.0 952.2L789.4 950.4L791.8 948.6L794.2 946.8L796.6 945.1L799.1 943.4L801.6 941.7L804.1 940.0L806.6 938.3L809.1 936.7L811.6 935.0L814.1 933.4L816.7 931.9L819.3 930.3L821.9 928.8L824.5 927.4L827.1 926.0L829.8 924.6L832.5 923.3L835.2 922.0L838.0 920.8L840.7 919.5L843.4 918.3L846.2 917.1L848.9 915.9L851.7 914.7L854.4 913.5L857.2 912.3L860.0 911.3L862.9 910.5L865.8 909.8L868.7 909.0L871.6 908.3L874.5 907.5L877.4 906.8L880.3 906.1L883.3 905.4L886.2 904.7L889.1 904.1L892.0 903.4L895.0 902.8L897.9 902.2L900.9 901.6L903.8 901.0L906.8 900.5L909.7 900.0L912.7 899.6L915.7 899.2L918.7 898.9L921.6 898.5L924.6 898.3L927.6 898.0L930.6 897.8L933.6 897.6L936.6 897.4L939.6 897.3L942.6 897.2L945.6 897.1L948.6 897.2L951.6 897.3L954.6 897.5L957.6 897.7L960.6 897.8L963.6 897.9L966.6 898.1L969.6 898.2L972.6 898.3L975.6 898.5L978.6 898.7L981.6 898.8L984.5 899.0L987.5 899.1L990.5 899.2L993.5 899.3L996.5 899.4L999.5 899.4L1002.5 899.4L1005.5 899.3L1008.5 899.2L1011.5 899.0L1014.5 898.8L1017.5 898.5L1020.5 898.2L1023.5 897.9L1026.5 897.5L1029.4 897.0L1032.4 896.5L1035.3 895.9L1038.2 895.2L1041.1 894.4L1044.0 893.5L1046.8 892.5L1049.6 891.3L1052.2 889.8L1054.7 888.2L1057.2 886.5L1059.6 884.8L1062.0 883.0L1064.4 881.2L1066.8 879.3L1069.1 877.4L1071.4 875.4L1073.6 873.4L1075.8 871.4L1078.0 869.3L1080.1 867.2L1082.2 865.1L1084.3 862.9L1086.3 860.7L1088.3 858.5L1090.2 856.2L1092.1 853.8L1094.0 851.5L1095.8 849.1L1097.6 846.7L1099.4 844.3L1101.2 841.9L1103.0 839.5L1104.7 837.0L1106.4 834.6L1108.2 832.1L1109.9 829.6L1111.6 827.2L1113.2 824.7L1114.9 822.2L1116.6 819.7L1118.2 817.2L1119.9 814.7L1121.5 812.1L1123.0 809.6L1124.6 807.0L1126.1 804.4L1127.7 801.8L1129.2 799.3L1130.7 796.6L1132.1 794.0L1133.6 791.4L1135.1 788.8L1136.5 786.2L1138.0 783.5L1139.4 780.9L1140.8 778.2L1142.2 775.6L1143.6 772.9L1144.9 770.3L1146.3 767.6L1147.7 764.9L1149.0 762.2L1150.4 759.6L1151.8 756.9L1153.1 754.2L1154.5 751.5L1155.8 748.9L1157.2 746.2M548.8 1052.5L551.8 1052.9L554.8 1053.3L557.7 1053.7L560.7 1054.1L563.7 1054.5L566.7 1054.9L569.7 1055.3L572.6 1055.8L575.6 1056.3L578.6 1056.8L581.5 1057.3L584.5 1058.0L587.4 1058.7L590.3 1059.5L593.2 1060.4L596.0 1061.4L598.8 1062.4L601.6 1063.5L604.4 1064.7L607.1 1066.0L609.9 1067.3L612.5 1068.6L615.2 1070.0L617.8 1071.5L620.4 1073.0L623.0 1074.6L625.5 1076.2L628.0 1077.8L630.5 1079.5L633.0 1081.2L635.5 1083.0L637.9 1084.8L640.3 1086.5L642.7 1088.4L645.0 1090.3L647.3 1092.3L649.6 1094.3L651.8 1096.3L654.0 1098.3L656.2 1100.3L658.5 1102.4L660.7 1104.3L663.0 1106.3L665.4 1108.1L667.9 1109.8L670.5 1111.4L673.1 1112.9L675.8 1114.2L678.6 1115.2L681.6 1115.8L684.6 1116.0L687.5 1115.3L690.1 1113.8L692.4 1111.9L694.5 1109.7L696.4 1107.4L698.3 1105.1L700.1 1102.7L702.0 1100.3L703.8 1098.0L705.6 1095.5L707.4 1093.1L709.2 1090.7L711.0 1088.3L712.9 1086.0L714.8 1083.6L716.7 1081.3L718.6 1078.9L720.4 1076.5L722.2 1074.1L723.9 1071.6L725.6 1069.2L727.3 1066.7L728.9 1064.2L730.6 1061.6L732.3 1059.1L733.9 1056.6L735.6 1054.1L737.2 1051.6L738.9 1049.1L740.5 1046.6L742.2 1044.1L743.8 1041.5L745.5 1039.0L747.2 1036.5L748.8 1034.0L750.5 1031.5L752.2 1029.0L753.9 1026.6L755.7 1024.1L757.6 1021.8L759.5 1019.5L761.6 1017.3L763.7 1015.1L765.8 1013.0L767.9 1010.8L770.0 1008.7L772.2 1006.6L774.4 1004.6L776.6 1002.5L778.7 1000.4L780.9 998.3L783.1 996.3L785.3 994.2L787.4 992.1L789.5 989.9L791.7 987.8L793.8 985.7L795.9 983.6L798.1 981.5L800.3 979.4L802.5 977.4L804.7 975.4L807.0 973.4L809.4 971.5L811.8 969.7L814.2 967.9L816.7 966.2L819.2 964.6L821.8 963.0L824.4 961.6L827.1 960.2L829.8 958.9L832.6 957.7L835.4 956.6L838.2 955.5L841.0 954.5L843.9 953.6L846.7 952.7L849.6 951.8L852.5 951.0L855.4 950.2L858.3 949.5L861.3 948.8L864.2 948.1L867.1 947.4L870.1 946.8L873.0 946.2L876.0 945.7L878.9 945.2L881.9 944.7L884.9 944.3L887.9 943.9L890.9 943.7L893.9 943.4L896.9 943.3L899.9 943.1L902.9 943.1L905.9 943.1L908.9 943.1L911.9 943.2L914.9 943.3L917.9 943.4L920.9 943.7L923.9 943.9L926.9 944.2L929.9 944.6L932.9 945.0L935.9 945.4L938.9 945.8L941.8 946.3L944.8 946.8L947.8 947.4L950.7 948.0L953.6 948.7L956.5 949.6L959.3 950.6L962.1 951.8L964.9 952.9L967.7 954.1L970.4 955.3L973.2 956.6L975.9 957.8L978.6 959.1L981.3 960.4L984.0 961.8L986.7 963.2L989.3 964.6L991.9 966.1L994.5 967.6L997.1 969.2L999.6 970.9L1002.1 972.6L1004.6 974.3L1007.0 976.0L1009.5 977.7L1012.0 979.4L1014.4 981.1L1016.9 982.8L1019.4 984.5L1021.9 986.2L1024.4 987.9L1026.9 989.5L1029.4 991.2L1031.9 992.9L1034.5 994.5L1037.0 996.1L1039.7 997.5L1042.3 998.9L1045.1 1000.2L1047.8 1001.3L1050.7 1002.4L1053.5 1003.3L1056.4 1004.1L1059.4 1004.7L1062.4 1004.9L1065.3 1004.2L1068.0 1002.9L1070.7 1001.5L1073.2 999.9L1075.5 997.9L1077.6 995.8L1079.6 993.6L1081.6 991.3L1083.5 989.0L1085.4 986.6L1087.2 984.2L1088.9 981.8L1090.7 979.3L1092.4 976.8L1094.1 974.3L1095.7 971.8L1097.3 969.3L1098.9 966.7L1100.4 964.1L1102.0 961.5L1103.5 958.9L1105.0 956.3L1106.5 953.7L1108.1 951.1L1109.6 948.5L1111.1 945.9L1112.6 943.3L1114.0 940.7L1115.6 938.1L1117.1 935.5L1118.5 932.9L1120.0 930.3L1121.5 927.6L1123.0 925.0L1124.4 922.4L1125.8 919.7L1127.3 917.1L1128.7 914.4L1130.2 911.8L1131.6 909.1L1133.0 906.5L1134.4 903.8L1135.8 901.2L1137.2 898.5L1138.6 895.8L1140.0 893.2L1141.5 890.5L1142.9 887.9L1144.3 885.2L1145.7 882.6L1147.1 879.9L1148.6 877.3L1150.0 874.6L1151.4 872.0L1152.8 869.3L1154.2 866.7L1155.7 864.0L1157.1 861.4L1158.5 858.7L1159.9 856.1L1161.4 853.4L1162.8 850.8L1164.2 848.1L1165.7 845.5L1167.1 842.8L1168.6 840.2L1170.1 837.6L1171.5 834.9L1173.0 832.3L1174.4 829.7L1175.9 827.0L1177.4 824.4L1178.8 821.8L1180.3 819.2L1181.7 816.5L1183.2 813.9M548.8 1084.0L551.8 1084.3L554.8 1084.7L557.8 1085.0L560.9 1085.4L563.9 1085.7L566.9 1086.1L569.9 1086.5L572.9 1087.0L575.9 1087.5L578.8 1088.4L581.6 1089.6L584.3 1090.8L587.1 1092.0L589.9 1093.1L592.7 1094.3L595.5 1095.6L598.2 1097.0L600.9 1098.4L603.5 1100.0L606.0 1101.6L608.5 1103.4L610.8 1105.3L613.2 1107.3L615.4 1109.3L617.7 1111.3L619.9 1113.4L622.1 1115.5L624.3 1117.6L626.4 1119.7L628.5 1121.9L630.6 1124.1L632.7 1126.3L634.7 1128.6L636.8 1130.8L638.8 1133.1L640.7 1135.5L642.6 1137.8L644.5 1140.2L646.4 1142.6L648.2 1145.0L649.9 1147.5L651.6 1150.0L653.3 1152.6L654.9 1155.1L656.5 1157.7L658.0 1160.3L659.5 1163.0L660.9 1165.7L662.2 1168.4L663.5 1171.1L664.8 1173.9L666.0 1176.7L667.2 1179.5L668.3 1182.3L669.4 1185.1L670.5 1188.0L671.6 1190.8L672.6 1193.6L673.6 1196.5L674.6 1199.4L675.5 1202.3L676.4 1205.2L677.3 1208.1L678.2 1211.0L679.1 1213.9L679.9 1216.8L680.8 1219.7L681.6 1222.6L682.5 1225.5L683.3 1228.4L684.2 1231.4L685.0 1234.3L685.7 1237.2L686.5 1240.2L687.2 1243.1L687.9 1246.1L688.5 1249.0L689.1 1252.0L689.7 1255.0L690.2 1258.0L690.6 1261.0L691.1 1264.0L691.5 1267.0M692.3 1267.0L692.4 1264.0L692.6 1261.0L692.7 1258.0L693.0 1255.0L693.4 1252.0L693.9 1249.1L694.4 1246.1L695.0 1243.2L695.6 1240.3L696.3 1237.3L697.0 1234.4L697.7 1231.5L698.4 1228.6L699.2 1225.7L699.9 1222.8L700.7 1219.9L701.5 1217.0L702.2 1214.1L703.0 1211.2L703.8 1208.3L704.6 1205.4L705.5 1202.5L706.3 1199.6L707.2 1196.8L708.1 1193.9L709.0 1191.0L709.9 1188.2L710.8 1185.3L711.7 1182.5L712.7 1179.6L713.6 1176.8L714.5 1173.9L715.5 1171.1L716.4 1168.2L717.4 1165.4L718.4 1162.5L719.3 1159.7L720.3 1156.9L721.3 1154.0L722.3 1151.2L723.3 1148.4L724.3 1145.5L725.3 1142.7L726.3 1139.9L727.3 1137.1L728.4 1134.3L729.4 1131.5L730.5 1128.7L731.6 1125.9L732.7 1123.1L733.8 1120.3L734.9 1117.5L736.0 1114.7L737.2 1111.9L738.3 1109.2L739.5 1106.4L740.6 1103.6L741.8 1100.9L743.0 1098.1L744.2 1095.4L745.4 1092.6L746.6 1089.9L747.9 1087.2L749.2 1084.5L750.7 1081.9L752.3 1079.3L754.1 1076.9L755.8 1074.4L757.5 1072.0L759.4 1069.6L761.3 1067.3L763.1 1064.9L764.8 1062.5L766.5 1060.0L768.2 1057.5L769.8 1055.0L771.4 1052.4L773.1 1049.9L774.7 1047.4L776.4 1045.0L778.2 1042.5L780.0 1040.1L781.9 1037.8L783.8 1035.5L785.9 1033.3L787.9 1031.2L790.0 1029.0L792.2 1026.9L794.3 1024.8L796.5 1022.8L798.8 1020.8L801.0 1018.8L803.4 1016.9L805.7 1015.1L808.1 1013.3L810.5 1011.5L813.0 1009.8L815.5 1008.1L818.0 1006.5L820.5 1004.9L823.1 1003.3L825.7 1001.8L828.3 1000.4L831.0 998.9L833.7 997.6L836.4 996.3L839.1 995.1L841.9 993.9L844.7 992.8L847.5 991.8L850.3 990.9L853.2 990.0L856.1 989.1L859.0 988.3L861.9 987.6L864.8 986.9L867.7 986.2L870.7 985.6L873.6 985.1L876.6 984.6L879.5 984.1L882.5 983.7L885.5 983.4L888.5 983.2L891.5 983.1L894.5 983.1L897.5 983.1L900.5 983.3L903.5 983.5L906.5 983.8L909.4 984.2L912.4 984.6L915.4 985.1L918.3 985.7L921.3 986.2L924.2 986.9L927.1 987.7L929.9 988.6L932.8 989.6L935.6 990.6L938.4 991.6L941.2 992.8L943.9 993.9L946.7 995.1L949.4 996.4L952.1 997.7L954.8 999.1L957.3 1000.7L959.9 1002.3L962.3 1004.0L964.7 1005.8L967.1 1007.6L969.5 1009.4L971.8 1011.3L974.2 1013.2L976.4 1015.2L978.6 1017.2L980.8 1019.3L982.8 1021.5L984.8 1023.7L986.8 1026.0L988.7 1028.3L990.6 1030.7L992.4 1033.1L994.2 1035.5L995.9 1037.9L997.7 1040.4L999.4 1042.8L1001.0 1045.3L1002.7 1047.8L1004.3 1050.3L1005.9 1052.9L1007.4 1055.5L1008.9 1058.1L1010.4 1060.7L1011.8 1063.4L1013.1 1066.0L1014.5 1068.7L1015.8 1071.4L1017.1 1074.1L1018.4 1076.8L1019.7 1079.5L1021.0 1082.2L1022.2 1085.0L1023.1 1087.8L1024.1 1090.7L1025.0 1093.5L1026.0 1096.4L1026.9 1099.2L1027.9 1102.0L1028.8 1104.9L1029.7 1107.8L1030.6 1110.6L1031.5 1113.5L1032.4 1116.4L1033.2 1119.2L1034.0 1122.1L1034.8 1125.0L1035.6 1127.9L1036.3 1130.8L1037.0 1133.7L1037.8 1136.7L1038.5 1139.6L1039.1 1142.5L1039.8 1145.4L1040.5 1148.3L1041.2 1151.3L1041.9 1154.2L1042.5 1157.1L1043.2 1160.0L1043.8 1163.0L1044.5 1165.9L1045.1 1168.8L1045.8 1171.8L1046.4 1174.7L1047.1 1177.6L1047.7 1180.5L1048.3 1183.5L1048.9 1186.4L1049.5 1189.4L1050.1 1192.3L1050.7 1195.2L1051.3 1198.2L1051.9 1201.1L1052.5 1204.1L1053.1 1207.0L1053.7 1209.9L1054.3 1212.9L1054.9 1215.8L1055.6 1218.7L1056.2 1221.7L1056.8 1224.6L1057.5 1227.5L1058.1 1230.5L1058.8 1233.4L1059.5 1236.3L1060.1 1239.2L1060.8 1242.2L1061.5 1245.1L1062.2 1248.0L1062.8 1250.9L1063.5 1253.9L1064.2 1256.8L1064.9 1259.7L1065.6 1262.6L1066.3 1265.5L1067.1 1268.4L1067.9 1271.3L1069.0 1274.1M1071.8 1274.1L1072.0 1271.1L1072.2 1268.1L1072.5 1265.1L1072.7 1262.1L1073.1 1259.1L1073.5 1256.1L1073.9 1253.1L1074.4 1250.2L1074.8 1247.2L1075.3 1244.2L1075.8 1241.2L1076.2 1238.3L1076.7 1235.3L1077.2 1232.3L1077.7 1229.3L1078.2 1226.4L1078.7 1223.4L1079.2 1220.4L1079.6 1217.5L1080.1 1214.5L1080.6 1211.5L1081.1 1208.5L1081.6 1205.6L1082.1 1202.6L1082.6 1199.6L1083.2 1196.7L1083.7 1193.7L1084.2 1190.8L1084.8 1187.8L1085.4 1184.8L1085.9 1181.9L1086.5 1178.9L1087.1 1176.0L1087.6 1173.0L1088.2 1170.1L1088.8 1167.1L1089.4 1164.1L1090.0 1161.2L1090.6 1158.2L1091.2 1155.3L1091.9 1152.4L1092.5 1149.4L1093.2 1146.5L1093.9 1143.6L1094.7 1140.6L1095.4 1137.7L1096.2 1134.8L1097.0 1131.9L1097.8 1129.0L1098.6 1126.1L1099.5 1123.2L1100.3 1120.3L1101.2 1117.5L1102.1 1114.6L1103.0 1111.7L1103.9 1108.8L1104.8 1106.0L1105.7 1103.1L1106.6 1100.2L1107.5 1097.4L1108.4 1094.5L1109.4 1091.6L1110.3 1088.7L1111.2 1085.9L1112.1 1083.0L1113.0 1080.1L1113.9 1077.3L1114.8 1074.4L1115.7 1071.5L1116.7 1068.7L1117.7 1065.8L1118.6 1063.0L1119.6 1060.1L1120.7 1057.3L1121.7 1054.5L1122.7 1051.6L1123.8 1048.8L1124.9 1046.0L1125.9 1043.2L1127.0 1040.4L1128.1 1037.6L1129.2 1034.8L1130.3 1032.0L1131.4 1029.2L1132.5 1026.4L1133.6 1023.6L1134.7 1020.8L1135.9 1018.0L1137.0 1015.2L1138.2 1012.4L1139.3 1009.6L1140.5 1006.9L1141.7 1004.1L1142.9 1001.3L1144.1 998.6L1145.4 995.8L1146.6 993.1L1147.9 990.4L1149.2 987.7L1150.6 985.0L1151.9 982.3L1153.3 979.6L1154.7 976.9L1156.1 974.3L1157.4 971.6L1158.8 968.9L1160.2 966.2L1161.6 963.6L1162.9 960.9L1164.3 958.2L1165.6 955.5L1167.0 952.8L1168.3 950.1L1169.7 947.4L1171.0 944.7L1172.4 942.0L1173.7 939.3L1175.1 936.6L1176.4 934.0L1177.8 931.3L1179.1 928.6L1180.5 925.9L1181.8 923.2L1183.2 920.5M549.9 1114.6L552.8 1115.4L555.8 1116.1L558.7 1116.8L561.7 1117.6L564.6 1118.3L567.5 1119.1L570.5 1120.0L573.4 1120.9L576.2 1121.9L579.1 1123.0L581.9 1124.1L584.7 1125.4L587.4 1126.6L590.2 1127.9L592.9 1129.3L595.5 1130.8L598.1 1132.3L600.7 1134.0L603.2 1135.7L605.7 1137.5L608.0 1139.4L610.4 1141.3L612.7 1143.3L614.9 1145.4L617.1 1147.4L619.3 1149.6L621.4 1151.7L623.5 1153.9L625.6 1156.2L627.6 1158.4L629.6 1160.7L631.5 1163.0L633.5 1165.4L635.3 1167.8L637.2 1170.2L639.0 1172.7L640.7 1175.2L642.4 1177.7L644.0 1180.2L645.6 1182.8L647.2 1185.4L648.7 1188.0L650.2 1190.7L651.7 1193.3L653.2 1196.0L654.6 1198.7L656.0 1201.4L657.4 1204.1L658.7 1206.8L660.0 1209.5L661.3 1212.3L662.4 1215.1L663.6 1217.9L664.7 1220.7L665.9 1223.6L667.0 1226.4L668.1 1229.2L669.2 1232.0L670.4 1234.9L671.5 1237.7L672.7 1240.4L673.9 1243.2L675.1 1246.0L676.2 1248.9L677.4 1251.7L678.6 1254.4L679.8 1257.2L681.1 1260.0L682.4 1262.7L683.8 1265.4L685.6 1267.9L687.8 1270.0L690.4 1271.4L693.0 1273.0M694.2 1272.0L695.5 1269.3L696.4 1266.4L697.3 1263.5L698.0 1260.6L698.7 1257.7L699.4 1254.8L700.1 1251.8L700.8 1248.9L701.5 1246.0L702.2 1243.0L702.9 1240.1L703.6 1237.2L704.4 1234.3L705.3 1231.4L706.1 1228.5L707.1 1225.7L708.0 1222.8L709.1 1220.0L710.1 1217.2L711.2 1214.4L712.3 1211.6L713.4 1208.8L714.5 1206.0L715.6 1203.2L716.8 1200.4L718.0 1197.6L719.1 1194.9L720.3 1192.1L721.5 1189.3L722.7 1186.6L724.0 1183.8L725.2 1181.1L726.4 1178.3L727.7 1175.6L728.9 1172.9L730.2 1170.2L731.6 1167.5L732.9 1164.8L734.3 1162.1L735.7 1159.5L737.2 1156.8L738.7 1154.2L740.2 1151.6L741.7 1149.0L743.2 1146.4L744.7 1143.8L746.3 1141.2L747.8 1138.6L749.4 1136.1L750.9 1133.5L752.5 1130.9L754.1 1128.4L755.7 1125.8L757.3 1123.3L758.9 1120.7L760.5 1118.2L762.2 1115.7L763.8 1113.1L765.4 1110.6L767.0 1108.1L768.7 1105.5L770.3 1103.0L771.9 1100.5L773.6 1098.0L775.3 1095.5L777.1 1093.1L778.9 1090.7L780.7 1088.3L782.5 1085.9L784.4 1083.5L786.3 1081.2L788.2 1078.8L790.2 1076.6L792.2 1074.4L794.3 1072.2L796.4 1070.1L798.6 1068.0L800.8 1065.9L803.0 1063.9L805.2 1061.9L807.5 1059.9L809.8 1057.9L812.1 1056.0L814.4 1054.1L816.8 1052.3L819.2 1050.5L821.7 1048.7L824.2 1047.1L826.7 1045.4L829.3 1043.9L831.9 1042.3L834.5 1040.8L837.1 1039.4L839.8 1038.0L842.4 1036.6L845.1 1035.3L847.9 1034.0L850.6 1032.7L853.4 1031.5L856.1 1030.4L858.9 1029.3L861.8 1028.3L864.7 1027.4L867.6 1026.6L870.5 1025.9L873.4 1025.4L876.4 1024.9L879.4 1024.6L882.4 1024.3L885.4 1024.1L888.4 1024.0L891.4 1024.0L894.4 1024.1L897.4 1024.3L900.4 1024.6L903.4 1025.0L906.4 1025.4L909.3 1026.0L912.3 1026.7L915.2 1027.4L918.1 1028.1L921.0 1029.0L923.9 1029.9L926.7 1030.9L929.5 1032.0L932.2 1033.3L934.9 1034.7L937.5 1036.2L940.0 1037.8L942.4 1039.6L944.7 1041.6L947.0 1043.5L949.2 1045.6L951.4 1047.6L953.6 1049.7L955.7 1051.9L957.8 1054.0L959.9 1056.2L962.0 1058.3L964.1 1060.5L966.3 1062.6L968.4 1064.7L970.6 1066.8L972.7 1068.9L974.7 1071.2L976.5 1073.6L978.2 1076.0L979.8 1078.6L981.3 1081.2L982.8 1083.8L984.2 1086.5L985.6 1089.1L986.9 1091.8L988.3 1094.5L989.6 1097.2L991.0 1099.9L992.3 1102.6L993.7 1105.3L995.1 1107.9L996.5 1110.6L997.8 1113.3L999.1 1116.0L1000.5 1118.7L1001.7 1121.4L1003.0 1124.2L1004.2 1126.9L1005.4 1129.7L1006.6 1132.4L1007.8 1135.2L1008.9 1138.0L1010.1 1140.8L1011.2 1143.6L1012.3 1146.4L1013.4 1149.2L1014.5 1152.0L1015.6 1154.8L1016.6 1157.6L1017.7 1160.4L1018.8 1163.2L1019.9 1166.0L1021.0 1168.8L1022.0 1171.6L1023.1 1174.4L1024.2 1177.2L1025.3 1180.0L1026.4 1182.8L1027.5 1185.6L1028.6 1188.4L1029.8 1191.2L1030.9 1194.0L1032.1 1196.8L1033.2 1199.6L1034.4 1202.3L1035.5 1205.1L1036.7 1207.9L1037.8 1210.7L1039.0 1213.4L1040.2 1216.2L1041.3 1219.0L1042.5 1221.8L1043.7 1224.5L1044.8 1227.3L1046.0 1230.1L1047.2 1232.9L1048.3 1235.6L1049.5 1238.4L1050.6 1241.2L1051.8 1244.0L1052.9 1246.8L1054.0 1249.6L1055.1 1252.4L1056.3 1255.2L1057.4 1257.9L1058.5 1260.7L1059.6 1263.5L1060.8 1266.3L1061.9 1269.1L1063.1 1271.8L1064.8 1274.1M1076.0 1274.1L1076.1 1271.1L1076.3 1268.1L1076.7 1265.1L1077.3 1262.1L1078.0 1259.2L1078.8 1256.3L1079.7 1253.4L1080.6 1250.5L1081.4 1247.6L1082.3 1244.7L1083.3 1241.9L1084.2 1239.0L1085.1 1236.1L1086.1 1233.3L1087.1 1230.4L1088.0 1227.6L1089.1 1224.7L1090.1 1221.9L1091.1 1219.0L1092.2 1216.2L1093.2 1213.4L1094.3 1210.6L1095.5 1207.8L1096.6 1205.0L1097.7 1202.2L1098.9 1199.4L1100.1 1196.6L1101.2 1193.8L1102.4 1191.0L1103.6 1188.3L1104.8 1185.5L1106.0 1182.7L1107.2 1180.0L1108.4 1177.2L1109.6 1174.4L1110.7 1171.6L1111.9 1168.9L1113.1 1166.1L1114.3 1163.3L1115.5 1160.5L1116.7 1157.8L1117.9 1155.0L1119.1 1152.2L1120.2 1149.4L1121.4 1146.7L1122.6 1143.9L1123.8 1141.1L1125.0 1138.4L1126.2 1135.6L1127.5 1132.8L1128.7 1130.1L1129.9 1127.3L1131.1 1124.5L1132.3 1121.8L1133.6 1119.0L1134.8 1116.3L1136.1 1113.6L1137.4 1110.8L1138.7 1108.1L1140.0 1105.4L1141.3 1102.7L1142.7 1100.0L1144.1 1097.3L1145.4 1094.6L1146.8 1091.9L1148.1 1089.2L1149.5 1086.5L1150.8 1083.8L1152.2 1081.1L1153.5 1078.4L1154.9 1075.7L1156.2 1073.0L1157.6 1070.3L1158.9 1067.6L1160.3 1064.9L1161.6 1062.2L1163.0 1059.5L1164.3 1056.8L1165.7 1054.1L1167.0 1051.4L1168.4 1048.7L1169.7 1046.0L1171.1 1043.3L1172.4 1040.6L1173.8 1037.9L1175.1 1035.2L1176.5 1032.5L1177.8 1029.8L1179.2 1027.1L1180.5 1024.4L1181.9 1021.7L1183.2 1019.0M549.9 1147.6L552.8 1146.9L555.8 1147.3L558.7 1147.9L561.7 1148.5L564.6 1149.2L567.5 1149.9L570.4 1150.8L573.3 1151.8L576.1 1152.9L578.8 1154.2L581.5 1155.6L584.1 1157.1L586.6 1158.7L589.1 1160.4L591.6 1162.1L594.1 1163.9L596.5 1165.7L598.9 1167.5L601.2 1169.4L603.5 1171.3L605.8 1173.3L608.0 1175.3L610.2 1177.4L612.4 1179.5L614.5 1181.6L616.7 1183.8L618.7 1185.9L620.8 1188.2L622.8 1190.4L624.8 1192.6L626.8 1194.9L628.8 1197.2L630.7 1199.5L632.7 1201.8L634.6 1204.1L636.5 1206.5L638.3 1208.8L640.1 1211.2L641.9 1213.7L643.7 1216.1L645.4 1218.6L647.1 1221.1L648.8 1223.6L650.4 1226.1L652.1 1228.6L653.7 1231.2L655.3 1233.7L657.0 1236.3L658.6 1238.8L660.1 1241.4L661.6 1244.0L663.1 1246.7L664.5 1249.3L665.9 1251.9L667.4 1254.6L668.8 1257.2L670.3 1259.9L671.9 1262.4L673.6 1264.9L675.4 1267.3L677.3 1269.6L679.4 1271.9L681.4 1274.1M697.5 1274.1L698.9 1271.4L700.4 1268.8L702.0 1266.2L703.6 1263.7L705.3 1261.2L707.1 1258.8L708.8 1256.3L710.6 1253.9L712.4 1251.5L714.1 1249.0L715.9 1246.6L717.7 1244.2L719.4 1241.7L721.1 1239.3L722.9 1236.8L724.6 1234.3L726.2 1231.8L727.9 1229.3L729.5 1226.7L731.0 1224.1L732.6 1221.6L734.1 1219.0L735.6 1216.4L737.2 1213.8L738.7 1211.2L740.1 1208.6L741.6 1205.9L743.1 1203.3L744.6 1200.7L746.1 1198.1L747.5 1195.4L749.0 1192.8L750.3 1190.1L751.4 1187.3L752.8 1184.6L754.3 1182.0L755.9 1179.5L757.5 1176.9L759.1 1174.4L760.8 1171.9L762.4 1169.3L764.0 1166.8L765.7 1164.3L767.4 1161.8L769.0 1159.3L770.7 1156.7L772.4 1154.3L774.1 1151.8L775.8 1149.3L777.5 1146.8L779.2 1144.4L781.0 1141.9L782.8 1139.5L784.6 1137.1L786.4 1134.7L788.3 1132.3L790.2 1130.0L792.1 1127.7L794.0 1125.4L796.0 1123.1L798.0 1120.8L800.0 1118.5L802.0 1116.3L804.0 1114.1L806.0 1111.8L808.1 1109.6L810.1 1107.5L812.2 1105.3L814.3 1103.1L816.5 1101.0L818.7 1099.0L821.0 1097.0L823.3 1095.1L825.7 1093.3L828.1 1091.5L830.6 1089.7L833.0 1088.0L835.5 1086.2L838.0 1084.6L840.5 1082.9L843.1 1081.4L845.7 1080.0L848.5 1078.7L851.3 1077.7L854.1 1076.7L857.0 1075.8L859.9 1075.1L862.9 1074.4L865.8 1073.8L868.8 1073.3L871.8 1072.9L874.8 1072.6L877.8 1072.4L880.8 1072.4L883.8 1072.4L886.8 1072.6L889.8 1072.9L892.8 1073.3L895.8 1073.8L898.7 1074.3L901.7 1075.0L904.6 1075.7L907.5 1076.5L910.4 1077.4L913.2 1078.4L915.9 1079.6L918.6 1081.1L921.1 1082.7L923.5 1084.5L925.9 1086.4L928.3 1088.2L930.7 1090.0L933.1 1091.8L935.6 1093.5L938.0 1095.3L940.3 1097.3L942.4 1099.4L944.6 1101.5L946.7 1103.6L948.8 1105.8L950.9 1108.0L953.0 1110.2L955.0 1112.4L956.9 1114.7L958.9 1117.0L960.8 1119.3L962.6 1121.7L964.5 1124.1L966.3 1126.5L968.1 1128.9L969.8 1131.3L971.6 1133.8L973.4 1136.2L975.1 1138.7L976.8 1141.1L978.6 1143.6L980.3 1146.0L982.0 1148.5L983.8 1151.0L985.5 1153.5L987.2 1155.9L988.9 1158.4L990.6 1160.9L992.3 1163.4L994.0 1165.9L995.6 1168.4L997.3 1170.9L999.0 1173.4L1000.7 1175.9L1002.3 1178.4L1003.9 1180.9L1005.6 1183.5L1007.1 1186.0L1008.7 1188.6L1010.3 1191.2L1011.8 1193.8L1013.4 1196.4L1014.9 1198.9L1016.4 1201.5L1018.0 1204.1L1019.5 1206.7L1021.1 1209.3L1022.6 1211.9L1024.2 1214.4L1025.8 1217.0L1027.3 1219.6L1028.9 1222.2L1030.4 1224.7L1032.0 1227.3L1033.6 1229.9L1035.1 1232.5L1036.7 1235.0L1038.2 1237.6L1039.8 1240.2L1041.4 1242.8L1042.9 1245.3L1044.5 1247.9L1046.2 1250.4L1047.8 1252.9L1049.4 1255.5L1051.1 1258.0L1052.6 1260.6L1054.1 1263.2L1055.5 1265.9L1056.8 1268.6L1058.0 1271.3L1059.2 1274.1M1078.9 1274.1L1079.3 1271.1L1079.9 1268.2L1080.9 1265.3L1082.0 1262.5L1083.2 1259.8L1084.6 1257.1L1086.0 1254.5L1087.5 1251.9L1089.1 1249.3L1090.7 1246.7L1092.3 1244.2L1093.9 1241.7L1095.5 1239.1L1097.1 1236.6L1098.8 1234.1L1100.4 1231.6L1102.0 1229.0L1103.7 1226.5L1105.3 1224.0L1106.9 1221.5L1108.6 1219.0L1110.2 1216.4L1111.8 1213.9L1113.5 1211.4L1115.1 1208.9L1116.8 1206.4L1118.4 1203.9L1120.1 1201.3L1121.7 1198.8L1123.4 1196.3L1125.0 1193.8L1126.7 1191.3L1128.3 1188.8L1130.0 1186.3L1131.7 1183.8L1133.3 1181.3L1135.0 1178.8L1136.6 1176.3L1138.3 1173.8L1140.0 1171.3L1141.6 1168.8L1143.3 1166.2L1145.0 1163.7L1146.6 1161.2L1148.3 1158.7L1149.9 1156.2L1151.6 1153.7L1153.2 1151.2L1154.8 1148.7L1156.5 1146.1L1158.1 1143.6L1159.7 1141.1L1161.3 1138.5L1162.9 1136.0L1164.5 1133.5L1166.2 1130.9L1167.8 1128.4L1169.4 1125.8L1171.0 1123.3L1172.6 1120.8L1174.2 1118.2L1175.8 1115.7L1177.4 1113.1L1179.0 1110.6L1180.6 1108.0L1182.2 1105.5M669.4 1274.2H682.1M1057.1 1274.2H1070.4" fill="none" stroke="#000" stroke-width="1.9" stroke-linejoin="round"/>
<path d="M548.8 745.7H1183.4V1285.0H548.8ZM539.2 1285.0H548.8M539.2 1177.1H548.8M539.2 1069.3H548.8M539.2 961.4H548.8M539.2 853.6H548.8M539.2 745.7H548.8M543.4 1231.1H548.8M543.4 1123.2H548.8M543.4 1015.4H548.8M543.4 907.5H548.8M543.4 799.6H548.8M548.8 1285.0V1294.6M664.2 1285.0V1294.6M779.6 1285.0V1294.6M894.9 1285.0V1294.6M1010.3 1285.0V1294.6M1125.7 1285.0V1294.6M606.5 1285.0V1290.2M721.9 1285.0V1290.2M837.3 1285.0V1290.2M952.6 1285.0V1290.2M1068.0 1285.0V1290.2M1183.4 1285.0V1290.2" fill="none" stroke="#000" stroke-width="1.9" stroke-linecap="square"/>
<text x="532.6" y="1293.1" text-anchor="end">0.0</text>
<text x="532.6" y="1185.2" text-anchor="end">0.1</text>
<text x="532.6" y="1077.4" text-anchor="end">0.2</text>
<text x="532.6" y="969.5" text-anchor="end">0.3</text>
<text x="532.6" y="861.7" text-anchor="end">0.4</text>
<text x="532.6" y="753.8" text-anchor="end">0.5</text>
<text x="548.8" y="1321.9" text-anchor="middle">0.0</text>
<text x="664.2" y="1321.9" text-anchor="middle">0.5</text>
<text x="779.6" y="1321.9" text-anchor="middle">1.0</text>
<text x="894.9" y="1321.9" text-anchor="middle">1.5</text>
<text x="1010.3" y="1321.9" text-anchor="middle">2.0</text>
<text x="1125.7" y="1321.9" text-anchor="middle">2.5</text>
<text x="1262.0" y="794.1">2.0</text>
<text x="1262.0" y="912.3">1.5</text>
<text x="1262.0" y="1030.5">1.0</text>
<text x="1262.0" y="1148.7">0.5</text>
<text x="1262.0" y="1266.9">0.0</text>
<text x="1198.3" y="760.5" font-style="italic" font-size="30">S/Nk<tspan font-size="18" dy="11.6">B</tspan></text>
<text x="812.1" y="1350.8" font-style="italic" font-size="30">h / J</text>
<text transform="translate(487.6 1048.2) rotate(-90)" font-size="30"><tspan font-style="italic">k</tspan><tspan font-size="18" dy="9.5">B</tspan><tspan dy="-9.5" font-style="italic">T / J</tspan></text>
<text x="411.4" y="765.3" font-family="'Liberation Sans',Arial,sans-serif" font-weight="bold" font-size="38.5">C</text>
<text x="817.2" y="1265.6" fill="#000" font-size="30"><tspan font-style="italic">J</tspan><tspan font-size="18" dy="10.5">1</tspan><tspan dy="-10.5"> / </tspan><tspan font-style="italic">J</tspan><tspan dx="-1.2"> = </tspan><tspan dx="-0.8">1.5</tspan></text></svg></body></html>
